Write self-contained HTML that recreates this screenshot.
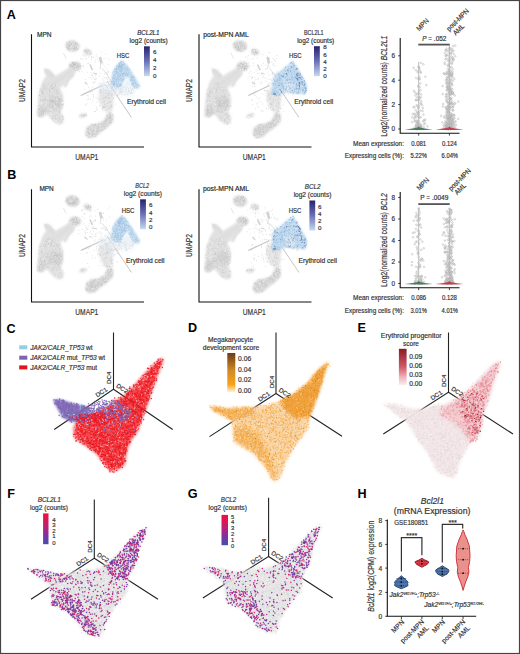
<!DOCTYPE html>
<html><head><meta charset="utf-8"><style>
html,body{margin:0;padding:0;background:#fff;overflow:hidden}
svg{display:block}
text{font-family:"Liberation Sans",sans-serif;stroke:#333;stroke-width:0.18px}
</style></head><body>
<svg width="520" height="654" viewBox="0 0 520 654">
<rect x="0" y="0" width="520" height="654" fill="#fff"/>
<text x="6.8" y="18.9" font-size="12.6" font-weight="bold" style="stroke:none" fill="#000">A</text>
<text x="7.3" y="178.9" font-size="12.6" font-weight="bold" style="stroke:none" fill="#000">B</text>
<text x="6.6" y="332.6" font-size="12.6" font-weight="bold" style="stroke:none" fill="#000">C</text>
<text x="188" y="332.2" font-size="12.6" font-weight="bold" style="stroke:none" fill="#000">D</text>
<text x="357.5" y="332.2" font-size="12.6" font-weight="bold" style="stroke:none" fill="#000">E</text>
<text x="7.2" y="497.5" font-size="12.6" font-weight="bold" style="stroke:none" fill="#000">F</text>
<text x="187.8" y="497.6" font-size="12.6" font-weight="bold" style="stroke:none" fill="#000">G</text>
<text x="357.4" y="497.5" font-size="12.6" font-weight="bold" style="stroke:none" fill="#000">H</text>
<defs><filter id="bl06" x="-20%" y="-20%" width="140%" height="140%"><feGaussianBlur stdDeviation="0.6"/></filter><filter id="bl08" x="-20%" y="-20%" width="140%" height="140%"><feGaussianBlur stdDeviation="0.8"/></filter><filter id="bl10" x="-20%" y="-20%" width="140%" height="140%"><feGaussianBlur stdDeviation="1.0"/></filter><filter id="bl12" x="-20%" y="-20%" width="140%" height="140%"><feGaussianBlur stdDeviation="1.2"/></filter><filter id="bl15" x="-20%" y="-20%" width="140%" height="140%"><feGaussianBlur stdDeviation="1.5"/></filter><filter id="bl20" x="-20%" y="-20%" width="140%" height="140%"><feGaussianBlur stdDeviation="2.0"/></filter><filter id="bl25" x="-20%" y="-20%" width="140%" height="140%"><feGaussianBlur stdDeviation="2.5"/></filter><filter id="bl30" x="-20%" y="-20%" width="140%" height="140%"><feGaussianBlur stdDeviation="3.0"/></filter></defs>
<path d="M31.5 34.3V147H144" fill="none" stroke="#111" stroke-width="1.1"/>
<text x="86.8" y="160.2" font-size="9" text-anchor="middle" fill="#333" textLength="23" lengthAdjust="spacingAndGlyphs">UMAP1</text>
<text x="21.8" y="93.7" font-size="9" text-anchor="middle" fill="#333" textLength="22.8" lengthAdjust="spacingAndGlyphs" transform="rotate(-90 21.8 90.5)">UMAP2</text>
<path d="M199.0 34.3V147H311.5" fill="none" stroke="#111" stroke-width="1.1"/>
<text x="254.3" y="160.2" font-size="9" text-anchor="middle" fill="#333" textLength="23" lengthAdjust="spacingAndGlyphs">UMAP1</text>
<text x="189.3" y="93.7" font-size="9" text-anchor="middle" fill="#333" textLength="22.8" lengthAdjust="spacingAndGlyphs" transform="rotate(-90 189.3 90.5)">UMAP2</text>
<path d="M31.5 189.3V302H144" fill="none" stroke="#111" stroke-width="1.1"/>
<text x="86.8" y="315.2" font-size="9" text-anchor="middle" fill="#333" textLength="23" lengthAdjust="spacingAndGlyphs">UMAP1</text>
<text x="21.8" y="248.7" font-size="9" text-anchor="middle" fill="#333" textLength="22.8" lengthAdjust="spacingAndGlyphs" transform="rotate(-90 21.8 245.5)">UMAP2</text>
<path d="M199.0 189.3V302H311.5" fill="none" stroke="#111" stroke-width="1.1"/>
<text x="254.3" y="315.2" font-size="9" text-anchor="middle" fill="#333" textLength="23" lengthAdjust="spacingAndGlyphs">UMAP1</text>
<text x="189.3" y="248.7" font-size="9" text-anchor="middle" fill="#333" textLength="22.8" lengthAdjust="spacingAndGlyphs" transform="rotate(-90 189.3 245.5)">UMAP2</text>
<ellipse cx="72.5" cy="46" rx="7" ry="5.5" transform="rotate(10 72.5 46)" fill="#cdcdcd" fill-opacity="0.9" filter="url(#bl08)"/>
<ellipse cx="87.5" cy="52" rx="4" ry="3" transform="rotate(20 87.5 52)" fill="#d3d3d3" fill-opacity="0.9" filter="url(#bl08)"/>
<ellipse cx="75" cy="66.3" rx="6" ry="4.5" transform="rotate(0 75 66.3)" fill="#c9c9c9" fill-opacity="0.9" filter="url(#bl08)"/>
<ellipse cx="83" cy="115.5" rx="4" ry="2" transform="rotate(-15 83 115.5)" fill="#dddddd" fill-opacity="0.9" filter="url(#bl08)"/>
<path d="M71 71L63 77L54 83L48 86" fill="none" stroke="#cfcfcf" stroke-width="2.6" stroke-linecap="round" stroke-linejoin="round" filter="url(#bl08)"/>
<path d="M73 74.5L68 80L65 86" fill="none" stroke="#d2d2d2" stroke-width="2.2" stroke-linecap="round" stroke-linejoin="round" filter="url(#bl08)"/>
<path d="M46 70.5L50 74L53 77" fill="none" stroke="#cdcdcd" stroke-width="3.2" stroke-linecap="round" stroke-linejoin="round" filter="url(#bl08)"/>
<path d="M44 68L50 70L55 76L62 72L70 67L76 69L75 74L68 80L63 86L55 90L47 92L40 92L42 82L46 76Z" fill="#dedede" fill-opacity="0.9" filter="url(#bl12)"/>
<path d="M43.5 84L50 83L55 84L60 88L63.2 96L63 105.9L60.8 111.7L63.7 117.5L63.2 123.2L58.5 124.4L52.8 120.9L47 114L41.2 117.5L37.2 116.3L37.8 107L38.3 97.8L39 91Z" fill="#dddddd" fill-opacity="0.95" filter="url(#bl08)"/>
<path d="M49 98L56 96L62 100L62 108L55 110L48 106Z" fill="#cbcbcb" fill-opacity="0.7" filter="url(#bl15)"/>
<path d="M38 108L44 105L47 112L42 116.5L38 116Z" fill="#cbcbcb" fill-opacity="0.7" filter="url(#bl15)"/>
<path d="M86.3 127.8L91 124.4L99 123.2L104.8 119.8L107 114L110.5 111.7L113.4 115.2L112.8 122L107 127.8L100.2 132.5L95.5 137L88.6 138.2L85.2 134.8Z" fill="#d2d2d2" fill-opacity="0.95" filter="url(#bl08)"/>
<path d="M99 90L108 89L114 94L113 104L112.5 111L107 113L102 108L99 100Z" fill="#e2e2e2" fill-opacity="0.9" filter="url(#bl12)"/>
<line x1="107" y1="81" x2="131.5" y2="117.5" stroke="#b8b8b8" stroke-width="0.8"/>
<line x1="102" y1="68.3" x2="106.7" y2="74" stroke="#cfc8c8" stroke-width="0.6"/>
<line x1="106.7" y1="74" x2="115.4" y2="88.5" stroke="#d2caca" stroke-width="0.6"/>
<line x1="81.7" y1="95.2" x2="102" y2="85.6" stroke="#c8c8c8" stroke-width="1.1"/>
<line x1="100" y1="57" x2="101.5" y2="63.5" stroke="#d2d2d2" stroke-width="2.6"/>
<line x1="101" y1="63.5" x2="100" y2="69.2" stroke="#cccccc" stroke-width="0.6"/>
<line x1="90" y1="64.5" x2="92.5" y2="70" stroke="#d0d0d0" stroke-width="1.6"/>
<line x1="93.3" y1="73" x2="97" y2="74" stroke="#d0d0d0" stroke-width="1.0"/>
<line x1="84.6" y1="82" x2="87.5" y2="84.5" stroke="#d5d5d5" stroke-width="1.2"/>
<line x1="63.5" y1="53" x2="66" y2="58.5" stroke="#d5d5d5" stroke-width="0.6"/>
<line x1="80.5" y1="95.5" x2="89.7" y2="91" stroke="#cbcbcb" stroke-width="1.0"/>
<path d="M101.3 52.1h0m-18.1 3.1h0m0.2 0.8h0m2 0.1h0m4.3-1.4h0m1.7 1.7h0m0.2-2.3h0m4.5 2.2h0m0.1-1.6h0m9.2-0.4h0m-24.9 4h0m1.4 0.7h0m1.1 0.5h0m2.4-0.7h0m1 0h0m2.3-1.7h0m2.7 2.7h0m0.2-1.9h0m1.1-0.8h0m0.8 0.5h0m2 2.3h0m1.9-1h0m6.7-0.2h0m3.9-0.4h0m1.4 1.6h0m-14.2 2.2h0m3.6-1.4h0m-18.9 3h0m3.8 2.2h0m4.1-2.2h0m0.8-0.5h0m14.4 0.9h0m5.5 0.3h0m-28.5 1.9h0m0.9-0.1h0m2.6 0.3h0m21.5-0.1h0m1 2.3h0m-26.4 3h0m0.8-2.7h0m1.4 2.6h0m25.9-0.5h0m1 0.1h0m-21.4 1h0m3.6 0.3h0m1.3 1.7h0m3.7 0.5h0m4.6-1h0m4.1 0.5h0m1.5-1.7h0m1.1 1.4h0m0.3-0.5h0m1.2-1h0m4.6 0.8h0m2.7 1.1h0m-25.7 3.2h0m1.2-1.8h0m0.6 0.2h0m1.3 1.6h0m2.4-1.8h0m3.8 0.6h0m3.4 0.5h0m1.5 0.7h0m1.5 0.3h0m2.3-0.3h0m7.1-1.2h0m2.5-0.3h0m-32.3 3.4h0m6.2-0.2h0m2.8 0.2h0m0.5-0.5h0m0.6 0.4h0m1.1-0.8h0m6 0.3h0m0.9 1.5h0m2.9-1.9h0m1.2 0.9h0m5.2-0.9h0m-20.3 3.8h0m1.1 1.2h0m0.3-1.6h0m1.5 0.3h0m3.5 1.3h0m7.1-0.8h0m8 0.5h0m0.3-1.4h0m-12.2 3.4h0m3.8 1.8h0m9.1 0h0m-30.3 2.3h0m3.5-1.9h0m3.3 2.1h0m1.2-2.2h0m6.4 2.3h0m6 0.4h0m1-0.5h0m1-0.5h0m3.6-0.5h0m4.9 0.5h0m0.7-1.3h0m-30 5.3h0m3.5-2.4h0m0.4 1.7h0m1.6-0.9h0m0.8 0.6h0m7.1 0.4h0m6.1-1.3h0m-18.6 4.5h0m0.9 0.5h0m4.8-1.5h0m0.1 0.4h0m11.4-1.2h0m6-0.2h0m0.7 2.2h0m1.4-1.9h0m-22.1 5.1h0m2.5-0.2h0m0.3-2.1h0m2.8 1.3h0m2.3-0.4h0m1.6 1.4h0m5.2-1.2h0m0.6-1.4h0m0.5 1.5h0m2.5-0.1h0m-21 1.8h0m0.8-0.4h0m3.5 1.8h0m4.7 1h0m1.2-2.5h0m6-0.3h0m0.6 2.2h0m-19.7 3h0m2.1-1.2h0m28.2 1h0m-28.9 1h0m10 1.9h0m3.1-1.5h0m4.1 1.7h0m1.8-0.6h0m2.4-0.2h0m3-0.3h0m0.4 1.2h0m-14.6 2h0m0.6 0.4h0m5.2 0.7h0m2.6-1.8h0m1.3 1.7h0m-11.8 1.2h0m1.1 0h0" stroke="#c8c8c8" stroke-width="0.8" stroke-linecap="round" stroke-opacity="0.8" fill="none"/>
<path d="M69.4 41.7h0m4.1-0.9h0m-6.7 2h0m0.8 1.8h0m0.2-1.8h0m1.5 1.2h0m0.4-0.3h0m1.8-0.3h0m0.7-0.5h0m1.5 2h0m0.7-1.1h0m1.2-0.5h0m0.5-0.2h0m0.9 0.9h0m0.1 1h0m-10.4 0.3h0m0 1.4h0m0.1 0.5h0m0.3 0.1h0m1.1 0.2h0m0.2-1.2h0m0.5 0.4h0m0-1.1h0m0.1-0.2h0m1-0.3h0m0.3 0.2h0m0.6 1.9h0m0.9-2h0m0.5 0.1h0m0.9 0h0m0.2 1.4h0m0.7-1.6h0m0 1.1h0m0.4 1.5h0m2.2-0.3h0m0.4-2.3h0m0.5 0.8h0m-9.8 2.5h0m0.1 0.7h0m0.6 1.1h0m0.3-0.4h0m0.4-1.6h0m1.3 0.3h0m1.2-0.2h0m0.6 2.1h0m1.9-1.8h0m1.5 0.8h0m1 0.2h0m0.6-0.7h0m0.6 0.5h0m6.7 1h0m0.4 0.1h0m2.8-0.1h0m0.7 0.3h0m-2.7 0.6h0m0.1 0.5h0m0.8 1.3h0m2.3-1.7h0m0.8 2.5h0m0.6-2h0m-4 2.3h0m4-0.1h0m-17.8 8.1h0m0.1 0.8h0m0.3-0.4h0m3-0.1h0m0.8 0.2h0m-7.3 1.9h0m0.5 0.7h0m1.4 0h0m0.1-0.5h0m1.8-1.5h0m0.3 1.4h0m0.5-0.6h0m0.1 1h0m0.4-0.2h0m0.2-1.9h0m0.3 2.9h0m0-0.6h0m0.7-1.3h0m1.1 0.9h0m1 0.4h0m2.3 0.4h0m0-1.4h0m0.1 0.9h0m-9.9 2.1h0m2-1.3h0m0 0.6h0m0.1 2.1h0m0.4 0.2h0m0.7-0.7h0m0.6 0.5h0m0.1-2.6h0m0.1 1.5h0m0.7-1.3h0m0.5 0.4h0m0.6 0.9h0m2.2 0.1h0m0.1-1.6h0m0.1 1.6h0m2.1-1.7h0m-3.7 4.4h0m1.5-0.8h0m33.4 13.5h0m1.9-1h0m-70.1 2.7h0m1.2 1.1h0m4.4-1.9h0m1.9 1.5h0m0.4 0.5h0m1.6-1.9h0m2.3 1.6h0m0.1-1h0m44.3 0.9h0m6.6 0.3h0m4.7-0.9h0m2.9-0.5h0m-73.2 4.7h0m1.5 0.6h0m1.7-2.8h0m0.6 1.9h0m2.2-1h0m4.3 0.2h0m1.1 1h0m0.1-0.7h0m0.8-0.6h0m0.5-0.6h0m49.8 1.9h0m6.4-1h0m3.7 1.7h0m4.7-1.3h0m2 0.2h0m2.9 1h0m0.2-2.4h0m0.6 0.2h0m1.8 2.1h0m-83.7 1.8h0m0.2 1h0m0.3-2.4h0m1.2 1.2h0m6-0.8h0m0.1 2.1h0m4.6-1h0m1.6-1.1h0m0.6 2.5h0m0.5-2h0m0.4 0.9h0m0.8-1.6h0m0.8 2.6h0m41.4-0.4h0m0.2-2.4h0m0 0.8h0m0.8 0.8h0m3.4-1.2h0m3.1 2.6h0m1.4-1.9h0m1.5 1.5h0m0-0.1h0m1.5-0.9h0m0.9-1.1h0m7.3 0.6h0m4.7 0.3h0m3.4-1h0m-89.4 5.2h0m0.3 0h0m2.5-2.6h0m0.6 1.2h0m0.1-0.5h0m3.8 0.5h0m2.4 0.2h0m0.2 0.1h0m3.7 0.6h0m4.8-0.9h0m46.5 1.5h0m3.4-1.2h0m0.7 1.1h0m0.3-1.5h0m0.5-0.8h0m0.1 0.7h0m0-0.3h0m2.7 0h0m1 1.3h0m4.2 0.1h0m4-0.7h0m8.9-1.1h0m-85.7 4h0m1.1 1.5h0m4.3-2.7h0m2.9 0h0m2.7 0.2h0m2.3 0.3h0m1 1.7h0m1.8 0.6h0m0.6-2.8h0m42.2 2.3h0m1.5-0.5h0m0.3-1.2h0m3.4 1.8h0m0-0.4h0m4.1-1.4h0m0.7 2h0m-73 1.7h0m0.3 0.6h0m1.9-0.2h0m0.3-1.5h0m0.1 0.8h0m1.1-0.5h0m0.4 1h0m1.2-1.1h0m1.5 2.3h0m0.1-1.7h0m3.7 0.7h0m0.4 0.3h0m0.2-1h0m0.5 1.4h0m0.6-1.1h0m1.1 1.5h0m0.2-0.4h0m4.9-1.7h0m0.5 0.7h0m0.3-1.5h0m1.8 2.1h0m0.8-0.7h0m41.5 0.9h0m5.6-2.2h0m1.7 2.2h0m-67.9 3.5h0m1.2-2.2h0m7.5 1.4h0m0.3-0.7h0m1 0.6h0m2.6 0.6h0m0-0.9h0m2.1 1.4h0m5.1-0.3h0m0-0.3h0m37.2-2.1h0m4.4 2h0m3.4-1h0m0.1-0.6h0m1.4-0.6h0m0.7 0h0m1.5 2.5h0m-72.4 1h0m8 0.9h0m2-0.3h0m2 1.6h0m4.8-1.2h0m2.3-1.2h0m1.3 0.8h0m43.7 0.3h0m0.5 0.6h0m0.6 0h0m6.5-0.5h0m0.5 0.8h0m0.7-1.3h0m-73 3h0m0.2 0.4h0m3-0.9h0m0.6 1.8h0m3 0.2h0m0.7-1.9h0m2.3 2h0m3.7-2.5h0m1.3 1.9h0m0.2-1.3h0m5.7-0.5h0m0 1.3h0m42.8-1.4h0m0.2 0.2h0m6.1 0.1h0m-67.1 4.3h0m1.7-0.6h0m0 0.9h0m1.7-2h0m2.7 0.3h0m2.6 0h0m3 2.2h0m2.9-1.9h0m3.1-0.2h0m0 0.8h0m22.5 1.6h0m27.7-0.8h0m1.2-0.4h0m-71.5 1.4h0m0.2 2.4h0m1.7-2.3h0m12.6 1.6h0m1.7-1h0m1.3 0.4h0m4 1h0m2 0.1h0m0.2 0.5h0m16.6-0.7h0m1.2-0.8h0m1 0.4h0m0.6 0.5h0m0.9-0.4h0m0.6 0.4h0m0.3-1.3h0m0.3-0.2h0m0.2 1.1h0m0.2-0.5h0m1.2-1h0m0.3 1.2h0m20.6 1h0m0.1-0.4h0m3.1-0.6h0m0.2 1.4h0m2.1-1.7h0m0.4 0.3h0m-61 2.8h0m0.4 0.6h0m3.4-0.9h0m0.1 0.6h0m3.5-0.5h0m1.6 1.3h0m1.6-1.3h0m0.9 1.3h0m41.9-0.6h0m0-0.4h0m1 1.4h0m1.1-1.8h0m1-0.8h0m1-0.1h0m0.1 0.6h0m0.1 0.2h0m0.3 1.3h0m2.7 0.4h0m-59.2 1.5h0m2.5 1.2h0m2.6-1.5h0m0.2-0.5h0m2.7 1.6h0m0.5-1.9h0m42.7 1.3h0m0.7-0.9h0m0.2 0.1h0m0.2-0.1h0m1.7 2.3h0m2.5-0.9h0m1-1h0m0 1.8h0m-51.5 1.4h0m32.4 0.7h0m0.5 0.4h0m0.3 0.8h0m1.2-1h0m0.6 0h0m0.6 0.1h0m0.3-1h0m3.3 0.1h0m3 0h0m5.6 1.3h0m3.9-2.4h0m-23.6 5.5h0m0.8 0.4h0m1.1-1.8h0m6.3-1.1h0m3.2 0.6h0m0.1 2.3h0m2.1-2.8h0m3.8 0.3h0m0.1 1.8h0m0.2-0.4h0m-16 3.7h0m0.6-2.2h0m1.4 0.7h0m0.2 1.5h0m1.6-0.9h0m0.9 0.1h0m2.5-0.5h0m1.5 1.2h0m0.2 0.2h0m1.8-1.1h0m2 0.1h0m0.8-0.6h0m-14.8 2.7h0m0.7 0.9h0m0.7-1.5h0m0.2 1.6h0m3-0.8h0m0.4 0.8h0m3.3 0.3h0m1.3-1.8h0m-11.5 3.3h0m1.1 0.2h0m1.5 1.8h0m3.8-2.3h0m2 1.1h0m1.5 0h0" stroke="#b4b4b4" stroke-width="0.75" stroke-linecap="round" stroke-opacity="0.7" fill="none"/>
<path d="M74 40.9h0m-6.4 2.9h0m0.5 0.2h0m0.4-0.9h0m1.3 0.1h0m0.8 1.5h0m0.8-2.3h0m1.1 1.1h0m0.2 1.1h0m0.6-2.2h0m0.4 0.7h0m1.1 1.1h0m1.8 0.4h0m1.1 0.4h0m-11.7 1.3h0m0.8 1.6h0m0.7-2.3h0m0.8 1h0m0.8 1.1h0m0.9-1h0m0.7 0.7h0m0.6-1.8h0m0.1 1.6h0m0.1-0.9h0m0.6-0.2h0m0.1 1.1h0m0.6-2.1h0m0.3 1.4h0m0.2-1.3h0m0.4 2h0m0.5-1.6h0m1.7 0.4h0m0-0.2h0m1.5 0.5h0m0 0.7h0m0.2 0.5h0m0.4-1h0m1.2 0.9h0m-8.4 1.3h0m0-0.1h0m0.6 1.9h0m0.2-0.7h0m0.8-0.2h0m0 0h0m0.5 1.2h0m4.1-1.2h0m6.9 1h0m3.9-1.5h0m2.5 1.6h0m-5.4 2.3h0m0.5 0.1h0m1-1.4h0m0.3 2.2h0m0.3-0.6h0m1.2-1.3h0m0.3 0.1h0m0.6 0.6h0m0-0.5h0m2-0.3h0m-5.9 2.2h0m1.2 0.2h0m2.2 0.6h0m0.4-0.8h0m0.8 0.5h0m-13.6 7.7h0m-4.6 1.8h0m1.1 1.2h0m3.9-1.6h0m0.1 1.4h0m0.2-0.1h0m2 0.5h0m1.1-0.8h0m0.3-0.2h0m0.4 1.1h0m-10.2 2.9h0m0.3-0.4h0m2.1 0.1h0m0.3 0h0m1.2-1.9h0m0.1 0h0m0.7 1.6h0m0.3 0.3h0m0.1-1.8h0m1.6 1.8h0m0.9-0.9h0m1.2 0.5h0m0.6 0.7h0m-7.5 1.2h0m3.9-0.6h0m0.3 0h0m-25.8 14.5h0m52.4-0.7h0m2.3-0.9h0m-60.4 4h0m3.9-0.5h0m1.1-1.3h0m3.3 1.2h0m2.9 0.5h0m45.9-0.1h0m1.9 0.5h0m6.1 0.2h0m3.9-1h0m1.6-0.4h0m0.2 0.7h0m1.5-1.1h0m-75.4 4.7h0m5.2-2.3h0m1.2 0.2h0m2.8 2.3h0m6.9-1.4h0m43.3-0.8h0m1.9 0.1h0m0.6 2h0m0.1 0.1h0m2.7 0.2h0m0.1-2.6h0m0.7 2.1h0m6.2-2h0m5.4 0.1h0m13.8 2.4h0m1-1.4h0m-94.9 4.1h0m4.8-1.6h0m0.7-0.9h0m1.1 2.5h0m6.8-1.2h0m2.9 0h0m3-0.9h0m1.6 2.2h0m39.9-2.1h0m0-0.4h0m3.2 2.5h0m1.3-2.5h0m0.2 1.3h0m1.6-0.7h0m0.2 1.2h0m0.1-1.8h0m1.1 2.3h0m4-1.1h0m9.9 0.6h0m3.9 0.5h0m5.3-0.8h0m-90.3 1.6h0m6.6 1.6h0m1.5-1.1h0m0.9 0.2h0m4.2 0.7h0m1.9 0.8h0m3.1 0.2h0m40.7-1.6h0m0.2-0.9h0m0.8 0.3h0m4.3 1.8h0m0-2.1h0m0.3 1.4h0m1.6 0.1h0m3.2 0.4h0m0-1.7h0m0.3-0.1h0m0.2 0.9h0m2.9-0.5h0m1.3-0.5h0m0.6 2.2h0m13.6-1.7h0m4.5 0.7h0m-93.5 2.5h0m2.4 1.5h0m0.9-1.1h0m1 0.8h0m3.1 0h0m1.6 0.3h0m5.3 0.5h0m1.1-1.8h0m5 0.4h0m39.7-0.1h0m0.8-0.3h0m1.4 0.6h0m0.5 1.2h0m2.3-2.4h0m1.7 2.5h0m3.8-2.4h0m1 2h0m1.3-2.1h0m0.8 0.3h0m-73.8 4.6h0m1.2 0.5h0m1.4 0h0m5.7-2.8h0m3.6 0.1h0m2.6 0.6h0m2.6-0.6h0m0.3 0.7h0m0.7 0h0m0-0.2h0m44.9 1h0m1.9-1.3h0m1.5 2.6h0m1.3-1.3h0m1.3-0.9h0m0.6-0.6h0m0.3 0.8h0m1.5 0.9h0m-70.3 3.3h0m0.3-0.5h0m0.6-1.1h0m0.3 1h0m0.4 0.7h0m3.8-1.9h0m0.4 0.1h0m0.8 0.4h0m1.5 0h0m2.8 1h0m0.4 0.5h0m0.4-1.2h0m1.6 0.3h0m0.3 1.5h0m0-0.3h0m2.3-2.2h0m4.9 0.1h0m0.4-0.2h0m0.5-0.1h0m0.1 1.2h0m0.3-0.4h0m37.3-0.8h0m3.3 2.2h0m3.4-1.8h0m2.3 1.4h0m2.9 0.1h0m-73.8 3.8h0m1.6-0.8h0m2.8-0.8h0m1.2 1.6h0m2.2-2.2h0m4.9 1.6h0m3.9-1.1h0m0.1 0.4h0m0.7-0.2h0m0.1 0.8h0m0.5-0.6h0m0.7 0.5h0m3.4-0.4h0m0.5 1.3h0m42.5-2.7h0m5.2 2.1h0m3.5 0.1h0m-74 1.8h0m1.7 1.7h0m1.2-1.4h0m1.9-0.5h0m7.8 1.3h0m0.6-0.9h0m0.8-0.4h0m1.1 0.1h0m1.6-0.7h0m3.5 0.4h0m0.6-0.1h0m2.6 1.5h0m43.8-2h0m0 1.5h0m0.6-0.8h0m1.3-0.6h0m0.3 2.3h0m1-0.4h0m2.8-1.2h0m-71 4.2h0m2.3 0h0m2.4-0.6h0m0.2 0.5h0m1.6-1.8h0m0.2 1.7h0m3.3 0.1h0m0.9-0.2h0m3.3-0.3h0m2.5-0.6h0m50.4-0.2h0m3.7 0.3h0m-61.4 2.5h0m1.2-0.3h0m0.8 1.3h0m0.4-0.9h0m1.2-0.4h0m0.5-0.1h0m2.3 0.2h0m0.5 2.4h0m0.5-0.3h0m3.7-0.6h0m0.8 0.9h0m18-0.5h0m0.3 0.6h0m0.1-0.2h0m0.7-1.2h0m2.5-1.1h0m1.6 1h0m24-1.4h0m0.1 2.5h0m2.5-2.5h0m0.9 2.2h0m0.8-0.6h0m-55.9 2h0m4.2 1.4h0m0.4 0.3h0m21.1-2.4h0m23.1 3h0m0.8-1.8h0m1.2-1h0m1.7 2.5h0m-55.6 1h0m1.5 0h0m1.4-0.4h0m0.1 1.6h0m0.2-0.8h0m1.2-0.2h0m0.4 1.8h0m1-2.4h0m3 0.9h0m38.6 1.6h0m6.5-0.7h0m0.1-0.2h0m0 1h0m1-1.8h0m2.8 0.1h0m0.9-0.7h0m-16 3.8h0m1.1 1.4h0m1.5 0.2h0m0.9-0.3h0m0.1-0.2h0m0.4 0.2h0m0.6-1.8h0m1.6 1.8h0m1.8-0.1h0m1.8 0.4h0m0.7-1.5h0m1.2 0h0m2-0.4h0m-20.5 4.2h0m0.7-1.9h0m0.5 2.2h0m0.5-1.4h0m0.6-0.2h0m0.7 0.4h0m0.3 1.4h0m0.1-2.5h0m0.9 0h0m0.9 2.7h0m0.5-1.9h0m0.6 0.4h0m3.6 1.5h0m0.9-2.3h0m0 0.1h0m0.2 1.5h0m0.2 0.6h0m2-0.6h0m0.9-0.4h0m2-0.3h0m-19.1 2.6h0m1.4 0.3h0m1.1 0.2h0m0.5-0.6h0m0.4 1.8h0m0.1 0h0m1.2 0.2h0m0.4-1.3h0m0.8-1.3h0m2 2.4h0m0.3-1.7h0m0.4-1h0m0 0.8h0m0.4-0.7h0m0.6 0.2h0m2.1 1.3h0m0.6 1.2h0m0.9 0.1h0m1.6-1.8h0m-13.8 3.2h0m2-1.4h0m0.1 2.7h0m2.5-1.7h0m2.1-0.9h0m1.3 0.7h0m0.2-0.4h0m1.2 0.6h0m2.5-0.4h0m-12.1 2.5h0m1.5 0.6h0m1.5-0.2h0m0.1-0.5h0m0.2 1.7h0m2.5-1.2h0m0.2 0.7h0m1.5-1h0m1.3 1h0" stroke="#f6f6f6" stroke-width="0.8" stroke-linecap="round" stroke-opacity="0.8" fill="none"/>
<path d="M99 84L111.7 80L122 86L135 88L133 95L115 96L100 92Z" fill="#e6ebf0" fill-opacity="0.6" filter="url(#bl20)"/>
<path d="M101.9 83.6h0m2.1-0.9h0m4.3-0.6h0m1.3-0.8h0m6.7 2.1h0m-15 1.4h0m0.8 1.8h0m0.4-0.4h0m1.3-1.2h0m0.7-0.4h0m1 0.7h0m0.1 0.2h0m1.5 0.1h0m1.6 0.6h0m0-1.5h0m1.7 0h0m0.6 2h0m1.2 0.1h0m1.8-0.2h0m0.1-0.2h0m2.5-1.3h0m0.1 1h0m1.7-0.5h0m1.7-0.5h0m2.5 1.7h0m-22 1h0m0 1.5h0m2.7-1h0m3.7-1h0m0.7 0.2h0m3.7 1h0m0.9-1.2h0m0.3 0.2h0m0.2 1.6h0m0.7 0.5h0m1.3-1.6h0m1 1h0m0-0.2h0m1.8-1.8h0m0.3 2h0m0.5-1.2h0m2.1 1.3h0m1.2-0.6h0m4.3 0.4h0m0.5-1.8h0m0.5 0.7h0m1.7 0.8h0m1.7-0.7h0m1.4 1.6h0m0.5-0.9h0m0.1 0.2h0m1.9-0.3h0m-33.2 2.5h0m1.9-0.9h0m0.1 2.5h0m2.2-2.1h0m2.3 2.4h0m1.1-1.9h0m2.6-0.9h0m0.2 0.3h0m3.3 0.8h0m0.2 1.1h0m1.1-1.7h0m3.4 1.9h0m0.2-2.4h0m0.4 0.2h0m0.3 1.4h0m1 0.4h0m0.5-0.9h0m0.5-1.2h0m0.6 2.1h0m4 0.6h0m1.5-0.8h0m0.5-1.4h0m1.4 2.4h0m0.8-2.2h0m0.1 1.5h0m2.6-1h0m-28.2 1.9h0m3.5 0.5h0m1.6 1.3h0m6.4 0.3h0m0.4 0.6h0m1.5-1.6h0m1.8-1.1h0m3.3 2h0m1.6-0.8h0m2 0.6h0m3.5-1.5h0m0.9-0.1h0" stroke="#bccfe0" stroke-width="0.8" stroke-linecap="round" stroke-opacity="0.8" fill="none"/>
<path d="M122 60.2L126 64L131 71L136 79L140 86L138 89L133 87.5L127.5 76L124 80L121 87L116 87L111 85L111.5 79L113 71L117 65Z" fill="#b9d6ec" fill-opacity="0.95" filter="url(#bl08)"/>
<path d="M122 61L124 66L120 70L116 68Z" fill="#a4c6e5" fill-opacity="0.8" filter="url(#bl10)"/>
<path d="M127.5 77L132 87L122 87Z" fill="#e4ecf3" fill-opacity="0.7" filter="url(#bl12)"/>
<path d="M120.2 62.1h0m1.2-0.6h0m2.2 0.4h0m-7.2 4.1h0m2.2-0.1h0m0.4-2.8h0m0.5 2.6h0m0.2-1.9h0m0.2 1.8h0m1.4-1.2h0m1.1 0.6h0m1.4-1.2h0m0.2 0.5h0m1.1 1.6h0m-8.2 2.8h0m4.2-1.4h0m0.8-0.2h0m1.9 0.3h0m2.1-0.2h0m1.4-1h0m0.4 2.7h0m0.1-1.7h0m0.5 1.4h0m-14.8 3h0m1.1-2.1h0m0.3-0.3h0m1.1-0.2h0m0.3 2.3h0m0.5-2h0m0.2-0.2h0m0.5 1.4h0m2.5 0.6h0m0.7 0.3h0m0.5-1.3h0m0.2 1.9h0m0.7-2.8h0m3.7 0.9h0m1.9-0.9h0m1.8 1h0m0.5-0.4h0m-17.2 3.4h0m0.9 1.7h0m1.4-0.1h0m0.2-1.9h0m0.8-0.8h0m0.7 0.9h0m0.3-0.9h0m0.9 1.7h0m2.4 0.6h0m1.6 0.3h0m0.1-1.2h0m0.8 0h0m0.6 0h0m0.2 0h0m0.5-1h0m0.1 0.4h0m0.2 1.3h0m0.5 0.8h0m0.1-1.2h0m0.3-0.7h0m0.2 1.4h0m0.3-0.8h0m1-0.7h0m0.1 1.6h0m0.8-2.5h0m0.2 1.1h0m3.3-1.2h0m-19.3 5.5h0m0.4-0.5h0m0.4-0.4h0m1.1 1h0m0.8-2.6h0m1.2 1.2h0m0.1 0.7h0m1.1-0.9h0m0.6 2h0m1-2.1h0m1.1 0.2h0m0.6-0.8h0m2.2-0.1h0m3.3 0.1h0m0.3 0.1h0m0.9 0.2h0m0.5 0.3h0m4.2 1.2h0m0.1-0.1h0m0.2-0.6h0m1.3 0.6h0m0.1 0.5h0m1.3-0.3h0m-22.3 1.2h0m0.3 0.4h0m1.7-0.7h0m1.4 1.8h0m0.6-0.3h0m2.3-0.7h0m0.7 0.1h0m1.8-1h0m0.7 2.2h0m0 0.6h0m0.6-2h0m0.5 1.2h0m0.8-0.2h0m6.5 0.7h0m0.7-0.6h0m0.3-0.8h0m1.2 1.7h0m2.2 0h0m0.1-1h0m-23.3 1.6h0m0.2 1.7h0m0.3-1.8h0m1.7 0.5h0m0.1-0.3h0m1 1.9h0m0 0h0m1.1-0.5h0m0-1.3h0m2.8 0.3h0m13.8 1.6h0m0-1.9h0m0.9 1.7h0m2-0.9h0m0.2 1.1h0m-22.3 1.9h0m0.3-1.4h0m0.1 0.1h0m0.8 0.6h0m1.9 1h0m0.4 1h0m0.2-0.6h0m0.8-1.3h0m0.5 1.5h0m0.7 0h0m0.5-0.5h0m0.9 0.2h0m0.3-1.2h0m0.2-0.3h0m0 0.1h0m0.2 1.8h0m10.7-2h0m0.4 0.5h0m1 0.7h0m1.5 1h0m0.4-1.5h0m1 0.1h0m1.5-0.9h0m1.9 1.5h0m-5.5 1.7h0m2.8 0.1h0" stroke="#8db5dc" stroke-width="0.8" stroke-linecap="round" stroke-opacity="0.8" fill="none"/>
<path d="M122.8 62.2h0m-2 2.5h0m0.5-0.9h0m1.2-0.7h0m1.2 0.5h0m1.3 2.2h0m1.9 0.2h0m-9.5 2.6h0m6-1.9h0m0.2 0.2h0m0.3-0.7h0m1.2 0.7h0m2 0h0m-9.8 3.5h0m0.4-0.1h0m1 1.6h0m6.1-1.3h0m3.1 1.3h0m0.2-2.3h0m2.4 1h0m0.3 0.9h0m-18.4 2.5h0m1.7-0.5h0m1.3-0.7h0m5.6 1.6h0m1.4-2h0m2.2 2.4h0m0-1.6h0m0.3 0.3h0m0.4-1.3h0m2.1 0.2h0m2.5 0.8h0m-17.9 4.2h0m0.7 0.5h0m0.2-1.2h0m2.1-0.4h0m1-0.3h0m0.3 0.5h0m0.1-1.3h0m4.9 1.5h0m4 0.9h0m0.3-2.5h0m0.3 2.1h0m0.8-2h0m2.7 1.7h0m1.3-1.8h0m-11.4 3.4h0m2.4 2.3h0m0.7-2.7h0m6.2 0h0m0.9 0.4h0m-14 5h0m0.1-1.6h0m1.9 0.5h0m1.8 0.4h0m0 0.1h0m0.5-1.7h0m0.4 0.7h0m11.9-0.3h0m3.4 0.2h0m1.4 1.3h0m-21.7 3.4h0m0.8-0.3h0m2.6-0.6h0m2.6 0.5h0m12.7 0.8h0m0.7-2h0m0.7-0.4h0m0.7 1.4h0m1.3 2.2h0" stroke="#eef4fa" stroke-width="0.8" stroke-linecap="round" stroke-opacity="0.8" fill="none"/>
<ellipse cx="240" cy="46" rx="7" ry="5.5" transform="rotate(10 240 46)" fill="#cdcdcd" fill-opacity="0.9" filter="url(#bl08)"/>
<ellipse cx="255" cy="52" rx="4" ry="3" transform="rotate(20 255 52)" fill="#d3d3d3" fill-opacity="0.9" filter="url(#bl08)"/>
<ellipse cx="242.5" cy="66.3" rx="6" ry="4.5" transform="rotate(0 242.5 66.3)" fill="#c9c9c9" fill-opacity="0.9" filter="url(#bl08)"/>
<ellipse cx="250.5" cy="115.5" rx="4" ry="2" transform="rotate(-15 250.5 115.5)" fill="#dddddd" fill-opacity="0.9" filter="url(#bl08)"/>
<path d="M238.5 71L230.5 77L221.5 83L215.5 86" fill="none" stroke="#cfcfcf" stroke-width="2.6" stroke-linecap="round" stroke-linejoin="round" filter="url(#bl08)"/>
<path d="M240.5 74.5L235.5 80L232.5 86" fill="none" stroke="#d2d2d2" stroke-width="2.2" stroke-linecap="round" stroke-linejoin="round" filter="url(#bl08)"/>
<path d="M213.5 70.5L217.5 74L220.5 77" fill="none" stroke="#cdcdcd" stroke-width="3.2" stroke-linecap="round" stroke-linejoin="round" filter="url(#bl08)"/>
<path d="M211.5 68L217.5 70L222.5 76L229.5 72L237.5 67L243.5 69L242.5 74L235.5 80L230.5 86L222.5 90L214.5 92L207.5 92L209.5 82L213.5 76Z" fill="#dedede" fill-opacity="0.9" filter="url(#bl12)"/>
<path d="M211 84L217.5 83L222.5 84L227.5 88L230.7 96L230.5 105.9L228.3 111.7L231.2 117.5L230.7 123.2L226 124.4L220.3 120.9L214.5 114L208.7 117.5L204.7 116.3L205.3 107L205.8 97.8L206.5 91Z" fill="#dddddd" fill-opacity="0.95" filter="url(#bl08)"/>
<path d="M216.5 98L223.5 96L229.5 100L229.5 108L222.5 110L215.5 106Z" fill="#cbcbcb" fill-opacity="0.7" filter="url(#bl15)"/>
<path d="M205.5 108L211.5 105L214.5 112L209.5 116.5L205.5 116Z" fill="#cbcbcb" fill-opacity="0.7" filter="url(#bl15)"/>
<path d="M253.8 127.8L258.5 124.4L266.5 123.2L272.3 119.8L274.5 114L278 111.7L280.9 115.2L280.3 122L274.5 127.8L267.7 132.5L263 137L256.1 138.2L252.7 134.8Z" fill="#d2d2d2" fill-opacity="0.95" filter="url(#bl08)"/>
<path d="M266.5 90L275.5 89L281.5 94L280.5 104L280 111L274.5 113L269.5 108L266.5 100Z" fill="#e2e2e2" fill-opacity="0.9" filter="url(#bl12)"/>
<line x1="274.5" y1="81" x2="299" y2="117.5" stroke="#b8b8b8" stroke-width="0.8"/>
<line x1="269.5" y1="68.3" x2="274.2" y2="74" stroke="#cfc8c8" stroke-width="0.6"/>
<line x1="274.2" y1="74" x2="282.9" y2="88.5" stroke="#d2caca" stroke-width="0.6"/>
<line x1="249.2" y1="95.2" x2="269.5" y2="85.6" stroke="#c8c8c8" stroke-width="1.1"/>
<line x1="267.5" y1="57" x2="269" y2="63.5" stroke="#d2d2d2" stroke-width="2.6"/>
<line x1="268.5" y1="63.5" x2="267.5" y2="69.2" stroke="#cccccc" stroke-width="0.6"/>
<line x1="257.5" y1="64.5" x2="260" y2="70" stroke="#d0d0d0" stroke-width="1.6"/>
<line x1="260.8" y1="73" x2="264.5" y2="74" stroke="#d0d0d0" stroke-width="1.0"/>
<line x1="252.1" y1="82" x2="255" y2="84.5" stroke="#d5d5d5" stroke-width="1.2"/>
<line x1="231" y1="53" x2="233.5" y2="58.5" stroke="#d5d5d5" stroke-width="0.6"/>
<line x1="248" y1="95.5" x2="257.2" y2="91" stroke="#cbcbcb" stroke-width="1.0"/>
<path d="M251.6 53.8h0m1.9-1.3h0m0.8 0.1h0m14.9-0.3h0m0.1 0.4h0m-21 3h0m13.1-1.5h0m2.4 0.6h0m3.8 1.3h0m9.3-0.6h0m-31.4 1.5h0m1.6 0.2h0m4.4 1.8h0m2-0.8h0m3.8 0h0m11.7 1.2h0m0.7-0.9h0m3.4 0h0m1.3 1.2h0m0.3 0h0m2.1-1.2h0m-28.8 1.6h0m1.1 2.5h0m22.7-0.6h0m3.7-0.3h0m-22.4 1.6h0m0.1 2.4h0m8.2-0.2h0m2.1-1.8h0m2.4 1.3h0m7-0.8h0m0.5-0.4h0m0 2.1h0m1.5-0.3h0m-27.5 0.6h0m1.9 0h0m16.5 2.2h0m3.4-2.1h0m-22.5 3.8h0m3.9 1.3h0m5.5-1.8h0m1.2 0.9h0m8.6-1.1h0m11.2 1.6h0m-28 2.2h0m5.1-0.6h0m3.5 1h0m1.4-0.5h0m3.6 0.1h0m5 0.2h0m4.3-0.2h0m0.2 1.3h0m0.3-1.3h0m0-0.4h0m4.5 1.1h0m-26.9 2.7h0m1.8 0.7h0m0.5-0.2h0m0.2 0.4h0m2.4-0.1h0m6.6-2.2h0m1.1 2.4h0m0.9-1.5h0m0.9 1.9h0m4.5-2.7h0m-21 2.9h0m4.1 0.3h0m3.9 1h0m2.1-0.7h0m0.8 0h0m8-0.3h0m2.1 1h0m1.9-0.3h0m0.2 1.1h0m6.9 0.6h0m3-1.7h0m-29 4.2h0m2.5-1.8h0m0.5 1.4h0m4.8 0h0m1.6-1.5h0m0 2.3h0m4.9-2.6h0m17.6 0.9h0m0.3-0.5h0m-32 4.5h0m2.8 0.4h0m12.5-1.4h0m9.9-0.2h0m2.1 1.5h0m1.2-2h0m1.2 1.9h0m1.3-0.4h0m-13.4 1.2h0m0.4 1.4h0m7-1.3h0m1.7 2.2h0m-14.3 0.9h0m0.2 0.5h0m1.2-0.2h0m10 0.4h0m-21.9 3.9h0m0.2-0.9h0m1.3 1.7h0m7.2-1.7h0m5.3-0.2h0m1.9 0.1h0m8.6 1.2h0m2.1 0.6h0m2-2.2h0m-25.8 3.5h0m1 1.9h0m1.9-1h0m13.2 0.8h0m1.1-2.2h0m-22 2.9h0m0 0.8h0m9 1.5h0m6.2-1.4h0m6.1 0.5h0m0.3 0.3h0m3.8-1.2h0m7.4 1.8h0m0.1-2.6h0m-32.7 5.5h0m4.2-0.7h0m1.4-1.5h0m5 1.5h0m8.9 0.4h0m6-0.5h0m1 0h0m0.5 0.2h0m3.9 0.9h0m-25.4 2.3h0m0.1-1.1h0m10.5-0.2h0m4.5 0.5h0m-17.3 2.6h0m5.3 1.6h0m1.9 0.1h0m3.7-2.2h0m2.1 0.6h0m4.3 0.4h0m0.2-0.6h0m4.9 2h0m3.9-2.5h0m-19 2.9h0m15.4-0.1h0m0.4 0.3h0m5.2-0.1h0" stroke="#c8c8c8" stroke-width="0.8" stroke-linecap="round" stroke-opacity="0.8" fill="none"/>
<path d="M239.6 41.9h0m2.1-0.9h0m-8.2 2.7h0m0.7-0.4h0m0.3 1.1h0m0.4-2h0m2.6 1.5h0m0.7 0.5h0m1.3-0.2h0m0.1-2.1h0m0.3 1.6h0m0.3 0.2h0m0.5 0.8h0m0.2-2.1h0m0.2 0.8h0m0.2-0.3h0m2.1-0.8h0m0.2 1.6h0m0.9 1h0m0.3-1.8h0m0.8 0.5h0m-10.2 3.8h0m1.2 0.5h0m0.4-0.3h0m0.4-2.1h0m0.9 1.4h0m0.3-0.3h0m0.1 0.3h0m0.3-0.2h0m0.3 0.6h0m0.3 0.3h0m0.1 0.3h0m0.1-1h0m1.2-1.5h0m1 0.9h0m0.1-1.1h0m0.2 1.9h0m0.8-0.2h0m-5.5 3.4h0m0 0.1h0m0.9-0.5h0m0.1-1.6h0m0.3 0.6h0m0.1 1.3h0m0.1-1h0m0.6 0.2h0m0.2 0.3h0m0.1 1.1h0m0.7-2.8h0m0.6 0.4h0m2.8 0h0m0.8 0.2h0m0.5 0.3h0m6.9 1.7h0m0.3-1h0m0.4-0.2h0m1.7 0.1h0m0.7 0.3h0m-14.2 1.7h0m10.8-0.2h0m1.6 1h0m0.4 1h0m0-1.2h0m1.1 0.5h0m0.3 0.1h0m0.2-1.7h0m0.4 1.3h0m0.5 0.4h0m0.4-0.5h0m0.3 1.3h0m0.1-1.6h0m-3.2 2.5h0m0.2 0.3h0m-9.5 8.1h0m-6.5 2.1h0m1.1 0.2h0m0.7-0.1h0m0.3-1.8h0m1.7 0.3h0m0.8 1.7h0m0-0.5h0m0.3 0.2h0m0.5-0.7h0m1 1.1h0m1.9-1.6h0m-8 5.2h0m2.3-0.7h0m0.9-1.1h0m0.3-0.4h0m1.1 1.8h0m0.3 0.5h0m0.8-1.1h0m0.2-1.4h0m0 0.7h0m0.1 1.2h0m0.2 0.1h0m1.7-1.7h0m0.1 1.5h0m0.2 0.7h0m-7.1 0.1h0m1.4 0.9h0m1.8-1h0m1.4 0.2h0m0 1.2h0m35.1 9.9h0m-62.1 2.9h0m0.7 0.8h0m51.1-0.8h0m1 0.5h0m1.9-0.3h0m0.7 0.3h0m2.9-2.5h0m4.6 1.6h0m-65.3 1.5h0m3.3 2.5h0m49.8-2.2h0m7.1-0.4h0m0 2.1h0m2.9-1.7h0m3.7 2.4h0m-68.9 1.6h0m3.8 0.8h0m2.8-0.2h0m1.8 0.6h0m1.3-2.6h0m49.2 1.8h0m3.2 0.7h0m1.6 0.3h0m0.4-2.8h0m3.9 1.6h0m5.4-1.4h0m11.1 1.3h0m3.3-0.9h0m1.5 1.3h0m-92.9 3.6h0m0.9-0.6h0m0.8-1h0m1.7 0.5h0m3.2 1.4h0m0.7-2.6h0m0.8 1.2h0m4.1-1.4h0m2 1.7h0m0.2-1.7h0m2.5-0.2h0m41.4 0.6h0m4.9 1.9h0m1.4 0h0m0.6 0.2h0m0.5-0.6h0m0.2-2h0m0.7 0.5h0m0 0h0m0.3 0.3h0m0.3-0.7h0m2.6 2.3h0m0.8-0.3h0m5.8 0.3h0m6.4 0.5h0m5.3-2.3h0m0.8 1.4h0m-90.6 2.2h0m0.8 1.6h0m0.7-1.6h0m0.6 1.6h0m0.5-2.4h0m2.2 0.1h0m1.8 2.3h0m8.1-1.2h0m2.4 0.1h0m5 0.5h0m38.6 0.6h0m1.2-0.4h0m2.1-1.2h0m3.3-0.4h0m0.2 1.2h0m1.7 0.7h0m0.1-0.7h0m1.1-1.8h0m1.4 2.6h0m0.9-2h0m4.4 1.3h0m0-1.7h0m3.6 0.9h0m4.2 0.4h0m-82.3 1.5h0m3.8 2h0m0.2-0.3h0m1.4 0.7h0m0.2-2.2h0m1.3 1.2h0m0 0.2h0m4.2-0.1h0m1.2-0.7h0m1.2 0.6h0m0.5-1.4h0m1 0.9h0m2.7-1.1h0m39.7 0.9h0m0.5 0.6h0m2.7 0.8h0m0.4-1.3h0m7.8 1.4h0m-71.2 2h0m1.5 0.6h0m0.1-0.3h0m0.7-0.8h0m0.6 0.7h0m0.6-0.9h0m4.8 0h0m2.9 1.8h0m3.5-0.9h0m2.3 0.3h0m0.1-0.5h0m0.7-0.4h0m1.4 0.3h0m2.1-1.1h0m40.5 0.4h0m0.6-0.6h0m3.3 0h0m2.5 0.5h0m4.7-0.4h0m-74.5 2.8h0m4.9 2.8h0m9.3-2h0m0.2-0.1h0m1.7 0.2h0m1.8 0.9h0m0.1-0.7h0m2.1 0.6h0m43.1-0.7h0m0.5 1.5h0m0.6-0.8h0m1.1 0.4h0m0.6-1.6h0m6.7-0.1h0m-71.4 3.4h0m0.7-0.4h0m2.6 0.1h0m0-0.2h0m0.9-0.2h0m6.9 1.2h0m0.7 1.4h0m0.1-2.2h0m0.4-0.2h0m1.5-0.1h0m1.8 2.7h0m2.6-0.9h0m1.4-1.8h0m3.3-0.1h0m0.2 0.8h0m39.9 1.9h0m1.5-2.5h0m4.4 0.8h0m0.7 0.2h0m1.5 1.1h0m1.6-1.2h0m-72.2 4h0m0.1-0.7h0m5.5 0.7h0m3.8 0h0m0.1-1.2h0m1.3 1h0m0.8 0.4h0m2.1-1h0m0.9 1.1h0m2.3-0.2h0m1.9-0.8h0m45.4 0.8h0m0.9-0.5h0m4.5 0.9h0m1.2-2.2h0m1.5 0h0m-72.8 2.9h0m0 2.1h0m0.3-2.1h0m1.3 1.2h0m2.7 0.3h0m1.3-1.1h0m1.2 1.6h0m2.3-1.9h0m1.5 0.4h0m0.4-0.1h0m1.4 0.2h0m1-0.3h0m1.4 0.5h0m0.6-0.5h0m3.1 2.2h0m26.6-0.4h0m24.1-0.5h0m0.3-0.2h0m-67.7 4h0m2.3-2h0m7.4 0.9h0m7.7-1.3h0m1.2 2.6h0m0.5-1.3h0m0.4 0.3h0m18.2 0.8h0m2.4-1.6h0m0.4 0.4h0m0.5-0.9h0m0.2 0.7h0m1.4 1.4h0m0.2-2.3h0m21.7 1.8h0m1.9-2.1h0m0.3 2.7h0m0.8-2.3h0m2.9 0.3h0m0.1 1.4h0m-58.9 1.6h0m1.8 1.1h0m1.8 0.4h0m2.5-1.7h0m0.7-0.2h0m2.2 1.9h0m43.1-0.4h0m2-0.5h0m0.1 0.1h0m1.3 0.4h0m2.5-1.8h0m0.1 0.5h0m0.9 0.8h0m-59.5 1.8h0m4.2 0.5h0m43.6 1.6h0m4.9 0.3h0m0.4-2.1h0m0.3-0.1h0m0.2 0.5h0m0.9 0.6h0m3.5-0.2h0m2-1.3h0m-52.8 3.4h0m0.1 0.5h0m31.1 1.7h0m0.6-1.2h0m1-0.1h0m1.5 0.3h0m4.7-0.9h0m1.9 1h0m0.5-1.6h0m0.7 0.8h0m1.3-0.5h0m0.1 1h0m1.7 1.3h0m1.2-0.5h0m1.1 0.6h0m1.1-1h0m1.5-1.9h0m-21.2 5.9h0m1.1-2.4h0m0.4 1.6h0m1.1-0.6h0m0-1h0m3.4 2.5h0m0.8-2.4h0m2 1.3h0m0.3 0.4h0m1.3-0.3h0m0.3 0.9h0m2.3-0.7h0m0.9-1.6h0m0.1 0.6h0m-15.8 2.9h0m1-0.7h0m1.1 0.6h0m1.2 0.6h0m2 0.5h0m1-1.9h0m2.6 2.7h0m1-0.6h0m2.2-1.5h0m0.8 1.2h0m1.1-1.6h0m-14.8 5.1h0m2.7-0.7h0m2.6-1.1h0m0.2 1h0m1.6 0.9h0m0.7-0.5h0m0.3-2h0m0.7 1.8h0m0.2-0.2h0m2.5-0.8h0m-10.8 2.7h0m0-0.1h0m1.7 2.5h0m1.1-0.6h0m2 0.2h0" stroke="#b4b4b4" stroke-width="0.75" stroke-linecap="round" stroke-opacity="0.7" fill="none"/>
<path d="M237.2 41.8h0m0.6-0.4h0m1.7 0h0m0.6 0.1h0m2.9-0.3h0m-8.8 1.5h0m1.1 1.5h0m2.2 0.8h0m0.5-0.7h0m0.3-0.6h0m0.4 0.1h0m0.3-0.4h0m1 0.5h0m1.1-0.9h0m0.4 1h0m1.7-0.4h0m0-0.6h0m0.5 1h0m0.9 0.3h0m0.6-0.7h0m0.5 0.6h0m-8.3 3.1h0m1.6-2.1h0m0.4 1.8h0m0 0.9h0m0.1-1.4h0m0.4-0.7h0m0.1-0.5h0m1.7 2.4h0m0.2-0.3h0m0.4-1.9h0m0.8 2.2h0m0.3-1.1h0m-7.8 2.4h0m0.1 0.8h0m3.2 0.6h0m0.2-1.7h0m1.4 0.3h0m1.5 0.4h0m0.3-0.2h0m0.6-0.7h0m1.9 1h0m9.8 1.3h0m0.2-1.1h0m2.6 1.3h0m-4 0.3h0m0.7-0.1h0m0.1 2.2h0m0.1-0.5h0m0.2-1.2h0m1.8-0.1h0m-2.9 2.4h0m2.5 0.3h0m-16.4 8.3h0m2.4-0.6h0m0.2-0.2h0m0.4 0.6h0m0.6 0.5h0m-5.4 1.6h0m1.6-0.4h0m0.6 0.7h0m0.8-0.6h0m0.5 1.1h0m0.4 0.2h0m0.7 0.2h0m0.4-2.6h0m1.3 2.2h0m0.1-1.6h0m0.3 0.8h0m0.3-0.4h0m0.2 0.7h0m0.5-0.4h0m1.5 0.5h0m0.9-0.3h0m0.3 0.5h0m-8.4 3.1h0m0.3-1h0m1.2-0.1h0m1.9 0.9h0m0.6-0.9h0m1.2-0.4h0m1.5 0.6h0m1 1.4h0m-6.9 0.7h0m0.2 0.8h0m1.5-1.1h0m0.4 0.3h0m0.3 0.2h0m0.3 0h0m35.3 12.7h0m2.5-0.8h0m0.1 1.1h0m-70 4h0m0.3-1.7h0m0.2 1.4h0m0.7 0.1h0m0.5-2.4h0m0.3 1.1h0m2.6 0h0m6.2 0.9h0m1.1 0.8h0m0.2-1.7h0m51.1-1.1h0m5.2 2.2h0m11.4 0.5h0m-80.8 1.3h0m2.7 0.7h0m0 0.9h0m2-2.5h0m4.2 2.8h0m1.7-1.3h0m1.2 0.4h0m0.5-0.1h0m1.8-0.1h0m2.7-0.4h0m40.8 1h0m0.9-1.6h0m2 0.3h0m0.7 1.8h0m13.8-1.8h0m5.4-0.8h0m6.5 2.2h0m1.3-0.3h0m2.7-1.3h0m-94 2.4h0m0.7 2.4h0m0.3-1.4h0m0.6 1.1h0m4-1.5h0m1.7 1.6h0m0.1-1.7h0m0 0h0m3.2 0.3h0m3.5-0.4h0m46.2 0h0m2.9 0h0m1.2 0h0m1.4 2.2h0m0.3-0.9h0m1.3-1.9h0m2.2 1h0m1.6 1.4h0m9.9-1.8h0m10.5-0.4h0m0.7 2.2h0m-89.1 2.2h0m2.8 0.6h0m0-1.6h0m1.2 0.9h0m0.9 1.4h0m6-2.1h0m2.5 0.6h0m2.4 0.3h0m2.7 0.6h0m41.9 0.3h0m1.4-1.4h0m1.8 1.2h0m2-2.2h0m2.7 0.4h0m0.1 1h0m0.1-0.6h0m0.7 0.4h0m0.8 0.4h0m0.8 0.1h0m7.4-0.9h0m2.9-0.4h0m2.2 0.6h0m0.9-0.1h0m-83.4 2.4h0m1.9 1.1h0m0.8 1.1h0m0.7-1.3h0m3.5 0.4h0m1.2-1.8h0m0.9 2.6h0m1.9-0.7h0m0.8-0.5h0m4.4 0.9h0m0.7-2.4h0m0.7 0.3h0m0.9 1.7h0m0.1 0.1h0m37.4-0.6h0m0.2-1.2h0m0.9 0.9h0m0.9 0.6h0m3.8-0.3h0m0.3-0.3h0m6.5 0.2h0m1 1.1h0m-71.9 2.7h0m0.7-1.6h0m0.7 1.3h0m0.5-1h0m0.1-0.2h0m0.8 0.6h0m2.2-0.5h0m0.6-0.2h0m0.7-0.1h0m0.4 0.8h0m0.9-1.1h0m5.3-0.1h0m0.3 1.9h0m1.5-1.7h0m1.6 1h0m0-0.9h0m4.6-0.2h0m0.6 2.8h0m39.4-0.3h0m0.8-2.6h0m4.5 0.1h0m-67.6 4.1h0m1.8-1.1h0m0.2 0.3h0m1.6 2.3h0m0.5-2.8h0m3 2.2h0m0.5-0.9h0m0.4 1.1h0m0.5 0h0m0.4 0.1h0m1.9-2.5h0m3.5 0.3h0m1 0.1h0m0.3 2h0m3 0.4h0m0.1-0.9h0m3.3-0.5h0m0.2 1.5h0m0-0.6h0m1 0.3h0m38.2-1.7h0m0.8-0.4h0m0.2 0.2h0m0.1 1.4h0m5.3 0.3h0m5.4-1.5h0m-72.4 2.2h0m1.2 2.5h0m2.8-1.9h0m1.3 1.6h0m9.4 0.1h0m1.5-1.1h0m5.3 1.5h0m40-1.6h0m0.1-0.9h0m2.5 1.4h0m1-0.8h0m1.3 0.8h0m0 0.5h0m0.2-0.3h0m1.9-0.6h0m2.3 1.4h0m-73 0.9h0m2.4 0.2h0m1.2 0h0m4.4 0.6h0m1.1-1h0m4.2 0.4h0m0.4 0.1h0m1.1 1.8h0m1.7-2.2h0m0.7 2.4h0m0.1-0.8h0m3.9-1.9h0m0.5-0.1h0m1.4 1.8h0m43.1-0.5h0m0.6 0.9h0m3.4-2h0m1.4 1.5h0m0.4-0.5h0m1.6 0.5h0m-74.2 2.6h0m1.5-1h0m2.7 0.4h0m3.9-0.4h0m4.2 1.9h0m7.8-1.1h0m1.1-1.1h0m1 0.5h0m24.2 2.1h0m24.1 0.3h0m1.4-0.2h0m-58.5 1.4h0m0.7 0.6h0m1.5-1.6h0m2.9-0.1h0m5.1 0.6h0m20.1-0.4h0m0.2 1.8h0m0.5-0.1h0m0.1 0.7h0m1.2-2.3h0m0.2 1.6h0m0.9-1.3h0m0.3 0.7h0m1.2-1h0m20.1 2.5h0m0.4-0.6h0m4.2-2.1h0m-55.5 4.5h0m0.4 1h0m1.3-2.5h0m0.2-0.1h0m2.8 0.3h0m2.7 2.1h0m0.7-1.5h0m17.8-0.9h0m2.6 0.1h0m23.6 1.2h0m0.7-0.3h0m0.6 1.8h0m1.8-1.2h0m0.4 0h0m0-1.2h0m-51.3 2.6h0m0.5 0.6h0m1 0h0m0.6 2.1h0m44.9-1.1h0m0.7 0.8h0m0.1-1.1h0m0.3 1.4h0m0.6-1.8h0m1.6-0.8h0m1.1 1.8h0m1-1.5h0m-55.5 2.6h0m33.9 2.2h0m4.6 0h0m3.3-1.6h0m1.5-0.2h0m2.5 0.8h0m0.3 1.3h0m2.6-0.2h0m3.1-2.4h0m1.3 0.1h0m0.6-0.1h0m0.2 0.5h0m-23.6 5.3h0m1-1.9h0m1.2 0.9h0m0.2 0.7h0m0.2-1.5h0m1.1 0.2h0m1.2-0.7h0m2.5-0.2h0m0.1 2.5h0m3-0.2h0m0-1.8h0m2.2 1.5h0m0.3 0.5h0m1.9 0.2h0m0.9-0.4h0m1.8 0.2h0m1.1-2.2h0m0.8 1h0m0.9-0.5h0m-17 2.6h0m0.1 0.1h0m4.1 1.8h0m0.2-0.8h0m2.3-0.2h0m0.9 1.1h0m0.4-2.6h0m0.6 0.9h0m1.2 1.1h0m1-1.2h0m0.6 1.7h0m0.5-2.5h0m1.2 1.3h0m0.2-0.1h0m-15.3 3.6h0m2.1-0.6h0m2.7 0.4h0m0.9-0.3h0m1.1 0.4h0m0.2-0.6h0m1.6 0.4h0m0.6-1.3h0m0.6 2h0m-11.8 1.1h0m2 1.4h0m0.9-0.5h0m0.4-1.2h0m1 1.2h0m0.3-0.9h0m0.7 0.1h0m2.3 0.8h0m1-0.9h0m1.7 0.4h0" stroke="#f6f6f6" stroke-width="0.8" stroke-linecap="round" stroke-opacity="0.8" fill="none"/>
<path d="M292.9 60.8L287.1 65.6L280.4 71.3L274.6 74.2L272.7 80L271.7 86.7L271.7 94.4L279.4 95.4L285.5 92L293.8 93.5L305.4 94.4L307.3 88.7L306.3 82.9L301.5 75.2L296.7 66.5Z" fill="#bad6ed" fill-opacity="0.9" filter="url(#bl10)"/>
<path d="M284.5 84L288.5 80L293.5 84L293.5 92L285.5 92Z" fill="#dce7f1" fill-opacity="0.9" filter="url(#bl12)"/>
<path d="M292.9 62h0m-2.7 1.5h0m0.1-0.2h0m2.5 0.4h0m0.3-0.1h0m0.5 2.3h0m-8.4 1.4h0m0.3 0.4h0m0.3-0.8h0m2.9 1.5h0m4-2h0m0.7 1.2h0m-12.1 3.6h0m2.9-1.5h0m1.3 1.7h0m2.7-0.4h0m2-1.3h0m0.7 2.2h0m2.9-2.5h0m0.1-0.1h0m0.7 2.3h0m0.9-2h0m-16.5 4h0m0.1 0.5h0m3.8-1.3h0m1 1.6h0m2.3-0.2h0m0.3-0.6h0m1.9-1.4h0m2.8 2h0m0.9-1.3h0m2.1 0.6h0m2.1 1.1h0m1.9-0.4h0m0-0.6h0m1.5 1.2h0m0.9 0h0m-22 0.3h0m0.4 2.6h0m0.6 0h0m0-1.8h0m0.3 1.6h0m1.8-1.2h0m1 0.4h0m0.2 0h0m0.1 1h0m1.3-1.3h0m1.3 1h0m0.2-0.2h0m0-0.3h0m1.2-0.6h0m4.9 0h0m0.2 1.3h0m0.5-1.7h0m0.1-0.6h0m0.4 2.2h0m1 0.2h0m0.8-1.7h0m2.4-0.1h0m2.2 1.5h0m0.8-0.8h0m-26.6 2.7h0m2.4 0.5h0m1.2 0.4h0m0.2-1.1h0m0.9-0.9h0m1 1.8h0m0.1 0.1h0m0.5 0.1h0m0.8-1.2h0m0.1-0.3h0m5.8 0.8h0m0.2 1h0m0.2 0.1h0m2.3-1.3h0m0.7 0.3h0m0.9-0.7h0m1.2 0.3h0m0 1.2h0m2.5-1.3h0m1.6-0.8h0m0.2 0.4h0m1.9-0.7h0m0.2 2.8h0m0.8-0.9h0m0.3-0.9h0m0.5-0.9h0m0.4 0.6h0m1.1 0.7h0m0.8-1h0m0.8 0h0m0.7 2.4h0m0.5 0h0m0.1 0.1h0m-31.5 2.5h0m0.3 0.5h0m1.9-0.8h0m0.7-1.1h0m0.8-0.8h0m0.3 0.1h0m1.2 2.3h0m0.1-0.8h0m1.6-0.3h0m2.6 0.8h0m0.3 0h0m2.4 0.2h0m0.6-0.2h0m2.3-0.7h0m0.4 0.4h0m0.5-0.3h0m2.6 0.6h0m2.5-1.7h0m2.1-0.1h0m0.9 1.6h0m0.5-1.9h0m2.1 2.1h0m1.4-1.1h0m0.2 1.1h0m0.7-1.6h0m-28.7 2.9h0m1.9 0.9h0m3.1 0.7h0m0.3-0.7h0m0.4-0.1h0m3.1 1.3h0m0.4-1.3h0m4 0.8h0m2-0.3h0m0.3 0h0m1.9-1.1h0m0.1 2.2h0m1.8 0h0m4-2.5h0m0 1h0m0.1 1.2h0m0-0.9h0m1.3-1.4h0m0.7 0.9h0m0.5 1.6h0m0.5-0.1h0m4.2-1h0m0.7 0.8h0m0.4-0.5h0m-32.4 3.8h0m2.5-1.6h0m2-0.5h0m2.1 1.7h0m4.3-2.2h0m0.2 1.5h0m1.6-0.1h0m0.7 0.7h0m0.3-0.4h0m0.5-1.6h0m2.3 1.8h0m0.2-1.2h0m0.1-0.8h0m0.5 2.7h0m4.5-0.7h0m1.4 0.2h0m1-1.1h0m1.3 0.4h0m1.3 1.1h0m0-2.3h0m0.9 2.5h0m0.2-2.2h0m2.1 1.4h0m1.4-1.3h0m0.8 2h0m0.2 0h0m0.8-2.9h0m0.6 1.4h0m-34.7 4h0m1.2-0.4h0m0.9 0.2h0m0.7-1.7h0m0.1 1.8h0m2.1-0.8h0m0.1 1.4h0m0.3-1.3h0m1.2 0.8h0m3.1-1h0m0 1.4h0m1.5-0.1h0m2.2-2.1h0m2.1 1h0m2.7 0.5h0m1.4 0.1h0m0.7-1.4h0m2.5 0.8h0m0.2-0.8h0m1.5 1.8h0m1 0.1h0m6.3-2.7h0m0.7 2.7h0m-32.2 1.7h0m5-0.7h0m20.1-0.5h0m0.2-0.1h0m1.2 0.5h0m5.6 0.5h0" stroke="#86b0d8" stroke-width="0.8" stroke-linecap="round" stroke-opacity="0.8" fill="none"/>
<path d="M291.2 62.3h0m3 3.1h0m-3 1.3h0m0.2 1h0m4.5-0.7h0m-8 3h0m0 0.4h0m2.8 0.8h0m5.9-2.1h0m-11.6 4h0m1.5 0.4h0m0.3 0.3h0m0.3 1h0m-5.9 0.8h0m1.8 0.8h0m0.2-0.5h0m12.4 1.3h0m1.1-2h0m0.6 1.1h0m4 0.7h0m-13.4 2.8h0m8.7-1.2h0m-21.9 2.6h0m15.6 1.3h0m3.6 0.5h0m2.8 0.4h0m2.6-0.5h0m1.8 0.8h0m-21.8 1.5h0m1.8-1h0m2.2 2.4h0m19-2h0m-22.1 5.2h0m3.3-2h0m7.3 0.5h0m5.4 0.5h0m2-0.1h0m1.3-0.1h0m6.3 0.1h0m-25.7 1.9h0m1.3 0.8h0m0 1.1h0m9-0.3h0m1.9-2h0m1 2.7h0m5.1-1.2h0m4.5-1.5h0m2.1 2.5h0m-28.7 2.3h0m2.9-0.2h0" stroke="#4a68aa" stroke-width="0.8" stroke-linecap="round" stroke-opacity="0.8" fill="none"/>
<path d="M296.7 68.6h0m1.1 0.3h0m-1.4 5.5h0m0.5-0.6h0m0.9-0.7h0m0.2-0.1h0m2 0.2h0m0.5 0.6h0m-4.2 3.6h0m1.4-2h0m0.5-0.2h0m0.7 2.7h0m1.1-2.4h0m0 2.1h0m0.2 0.2h0m2.1-0.7h0m-5 3h0m0.4-0.8h0m0-1.2h0m0.1 1.8h0m0-1.8h0m0.3 1.4h0m3.7-0.4h0m-2.8 3.4h0m0.4 0.6h0m0.1-0.1h0m1.8-1h0m1.4 1.2h0m0.2-1.1h0m1.8-0.3h0m0.5 2h0m-6.1 2h0m0.1-1.2h0m0.1 1.1h0m0.1 0.9h0m4.7-1.4h0m0.4-1h0m0.8 3.7h0m0.2 3.4h0m0.8-0.8h0" stroke="#3d5aa0" stroke-width="0.8" stroke-linecap="round" stroke-opacity="0.8" fill="none"/>
<path d="M290 65h0m0.7-0.3h0m0.9-0.1h0m1.2 1.2h0m1.2-2.8h0m0.3 0.3h0m-7.2 5.3h0m6.5 0.3h0m1.7-2.1h0m0 0.3h0m0.8-1h0m0.6 0.4h0m-14.7 6.4h0m1.2 0h0m1.5-0.8h0m0.7 0.4h0m7.1 1.4h0m5.4-1.4h0m2.4 0.6h0m-25.8 3.2h0m2.2 1.6h0m0.6-1.2h0m0.5 1h0m6.6-1.8h0m1.6 1h0m3.6-1.1h0m3.8 0.2h0m0.2 0.6h0m3.4 0.8h0m3.6-1.1h0m-27.4 4.6h0m2.6-1.3h0m7.2-0.9h0m0.1 0.4h0m1.4 0.6h0m13.8-0.6h0m0.9 0.1h0m2.5-1h0m0.5 0.4h0m1.8 1.2h0m-31 1.7h0m1.3 0.4h0m2 0.4h0m7.5-0.1h0m0.2-1.1h0m0.6 1.4h0m11.2 0.4h0m0.9-1.2h0m0.5 1.3h0m0-1.9h0m0.5 1.7h0m3.9 0.8h0m1.5-0.1h0m1.6-1.2h0m0.4 0.6h0m-26.1 3.5h0m4.9 0.4h0m1.7-2.3h0m3.8 1.2h0m1.6-0.6h0m0.5 0.7h0m3.2-0.1h0m4 0.5h0m1.6 0.4h0m1.4-0.1h0m3.5 0.1h0m-27.9 1.9h0m6.5-1h0m3.6 0.9h0m2.7-0.8h0m8.3 0.5h0m1.8-0.1h0m4.1 1.5h0m-32.4 2.4h0m4.4-1.1h0m1.9 1.5h0m0.8-0.3h0m0.5-1.3h0m0.2 0.9h0m10.9 0.8h0m4.7-2.1h0m1.7 0.8h0m0.7 0.8h0m2.1-1h0m0.7 0.3h0m1.1 0.9h0m-25 2.4h0m0-0.7h0m4.7-0.3h0m20.3-0.5h0" stroke="#eef4fa" stroke-width="0.8" stroke-linecap="round" stroke-opacity="0.8" fill="none"/>
<ellipse cx="274.5" cy="94" rx="1.8" ry="1.2" transform="rotate(0 274.5 94)" fill="#6d94c8" fill-opacity="0.8" filter="url(#bl06)"/>
<ellipse cx="72.5" cy="201" rx="7" ry="5.5" transform="rotate(10 72.5 201)" fill="#cdcdcd" fill-opacity="0.9" filter="url(#bl08)"/>
<ellipse cx="87.5" cy="207" rx="4" ry="3" transform="rotate(20 87.5 207)" fill="#d3d3d3" fill-opacity="0.9" filter="url(#bl08)"/>
<ellipse cx="75" cy="221.3" rx="6" ry="4.5" transform="rotate(0 75 221.3)" fill="#c9c9c9" fill-opacity="0.9" filter="url(#bl08)"/>
<ellipse cx="83" cy="270.5" rx="4" ry="2" transform="rotate(-15 83 270.5)" fill="#dddddd" fill-opacity="0.9" filter="url(#bl08)"/>
<path d="M71 226L63 232L54 238L48 241" fill="none" stroke="#cfcfcf" stroke-width="2.6" stroke-linecap="round" stroke-linejoin="round" filter="url(#bl08)"/>
<path d="M73 229.5L68 235L65 241" fill="none" stroke="#d2d2d2" stroke-width="2.2" stroke-linecap="round" stroke-linejoin="round" filter="url(#bl08)"/>
<path d="M46 225.5L50 229L53 232" fill="none" stroke="#cdcdcd" stroke-width="3.2" stroke-linecap="round" stroke-linejoin="round" filter="url(#bl08)"/>
<path d="M44 223L50 225L55 231L62 227L70 222L76 224L75 229L68 235L63 241L55 245L47 247L40 247L42 237L46 231Z" fill="#dedede" fill-opacity="0.9" filter="url(#bl12)"/>
<path d="M43.5 239L50 238L55 239L60 243L63.2 251L63 260.9L60.8 266.7L63.7 272.5L63.2 278.2L58.5 279.4L52.8 275.9L47 269L41.2 272.5L37.2 271.3L37.8 262L38.3 252.8L39 246Z" fill="#dddddd" fill-opacity="0.95" filter="url(#bl08)"/>
<path d="M49 253L56 251L62 255L62 263L55 265L48 261Z" fill="#cbcbcb" fill-opacity="0.7" filter="url(#bl15)"/>
<path d="M38 263L44 260L47 267L42 271.5L38 271Z" fill="#cbcbcb" fill-opacity="0.7" filter="url(#bl15)"/>
<path d="M86.3 282.8L91 279.4L99 278.2L104.8 274.8L107 269L110.5 266.7L113.4 270.2L112.8 277L107 282.8L100.2 287.5L95.5 292L88.6 293.2L85.2 289.8Z" fill="#d2d2d2" fill-opacity="0.95" filter="url(#bl08)"/>
<path d="M99 245L108 244L114 249L113 259L112.5 266L107 268L102 263L99 255Z" fill="#e2e2e2" fill-opacity="0.9" filter="url(#bl12)"/>
<line x1="107" y1="236" x2="131.5" y2="272.5" stroke="#b8b8b8" stroke-width="0.8"/>
<line x1="102" y1="223.3" x2="106.7" y2="229" stroke="#cfc8c8" stroke-width="0.6"/>
<line x1="106.7" y1="229" x2="115.4" y2="243.5" stroke="#d2caca" stroke-width="0.6"/>
<line x1="81.7" y1="250.2" x2="102" y2="240.6" stroke="#c8c8c8" stroke-width="1.1"/>
<line x1="100" y1="212" x2="101.5" y2="218.5" stroke="#d2d2d2" stroke-width="2.6"/>
<line x1="101" y1="218.5" x2="100" y2="224.2" stroke="#cccccc" stroke-width="0.6"/>
<line x1="90" y1="219.5" x2="92.5" y2="225" stroke="#d0d0d0" stroke-width="1.6"/>
<line x1="93.3" y1="228" x2="97" y2="229" stroke="#d0d0d0" stroke-width="1.0"/>
<line x1="84.6" y1="237" x2="87.5" y2="239.5" stroke="#d5d5d5" stroke-width="1.2"/>
<line x1="63.5" y1="208" x2="66" y2="213.5" stroke="#d5d5d5" stroke-width="0.6"/>
<line x1="80.5" y1="250.5" x2="89.7" y2="246" stroke="#cbcbcb" stroke-width="1.0"/>
<path d="M82.2 209.7h0m4.5-2.1h0m3.4 1.5h0m7.9 0.2h0m9.4-0.1h0m2.2-2.2h0m-28.1 3.1h0m0.7 0.7h0m8.1 0h0m0.7 1h0m4-1.2h0m-10.7 3.4h0m0.3-0.5h0m0.1 0.1h0m10.9 2.4h0m5.4-3h0m2.2 0.4h0m0.2 0.1h0m-21.2 2.8h0m2.5 2.2h0m5.1-2.3h0m1.5-0.1h0m11.1 0.8h0m1.1 1h0m6.2-0.7h0m-16.3 4.3h0m0.7-1.2h0m1.1 0.4h0m0.3 0.2h0m0.1-1.1h0m7.5 0.1h0m3.5 0.2h0m-22.9 3.8h0m6-0.4h0m-3.9 2.2h0m0.3 2h0m0.4 0.2h0m1.9-1.9h0m3.6 1.5h0m0.9-0.7h0m10.8 0.7h0m2.9-0.2h0m3-1.7h0m-30.9 4.8h0m3.9-0.9h0m2.4 1.4h0m2.4-1.7h0m0.4 0.1h0m4.7-0.5h0m0.3-0.2h0m8.4-0.6h0m1.1 0.2h0m0.4 0.6h0m1.9 0.3h0m1 0.5h0m0.1 1.1h0m0.8-1.4h0m0.8 0.8h0m0.4 0.2h0m6.7-2.1h0m1.3 1h0m-36.9 4.2h0m6.2-1h0m0.4 0.6h0m1.9-0.6h0m2.5 0.7h0m1-1.8h0m2.6 0.3h0m2.5 2.3h0m2.2-1.5h0m2-0.4h0m1.8 1.1h0m7.4 0.1h0m1.8-0.1h0m1.5 0.7h0m-26.9 0.6h0m4.3 2.5h0m0.1 0h0m0.9-0.2h0m1.3-2.2h0m2.2 1.9h0m1.3-1.9h0m0 2h0m5.2-2.4h0m0 2.4h0m3.4-0.2h0m1.1-1.2h0m3.6-1.1h0m1.9 1h0m1 0.3h0m3 0.3h0m-30.1 1.5h0m5 0h0m2.1 0.6h0m3 2.2h0m-0.4 1.4h0m13.5 1.2h0m-10.9 1.3h0m2 1h0m7 0.4h0m1.5 0.7h0m4.4-2.1h0m1 0.8h0m-27.4 3.6h0m0.6 0.2h0m2.1 0.4h0m2-1.8h0m6.1 1.1h0m0.2-1.7h0m6.9 2.2h0m12.9-0.3h0m-22.4 2.2h0m2.1 0.3h0m2.1-0.4h0m0.6-1.3h0m9.9-0.1h0m2.9 0.2h0m1 0.7h0m-26.3 2.7h0m1 0.5h0m10.3 1.3h0m0.5-1.5h0m1.1 0.8h0m8 0.3h0m6.6 0.7h0m1.3 0.3h0m1.7-1.7h0m0.4 0.2h0m-24.6 2.3h0m2.8 2h0m7.8-2h0m7.9 1.9h0m-19.1 0.6h0m10 1.1h0m1.8 1.4h0m9.1-0.9h0m-25.3 3.6h0m12.2-1.7h0m6.8 1.6h0m9.9-1.9h0m1.1 0.6h0m-28.8 4.7h0m10.4-1.1h0m3.1 0.2h0m1.6-0.9h0m0.5 0.2h0m2.5 0.9h0m0.2-0.7h0m4.9 1.1h0m0.8-0.5h0" stroke="#c8c8c8" stroke-width="0.8" stroke-linecap="round" stroke-opacity="0.8" fill="none"/>
<path d="M69 196.9h0m0.5-0.7h0m0.3 1.4h0m2-1.1h0m0.2 0.8h0m0.3-1.6h0m3.6 1.3h0m1.1 0.7h0m-10.7 2.9h0m0.1-2.4h0m1.2 0.6h0m0.2 1.2h0m0.5 0.1h0m0.7-0.6h0m0.7-0.6h0m1.1-0.2h0m0.3 1h0m1 1h0m0.6-0.6h0m0.6-1.3h0m0.5-0.2h0m0.6 1.3h0m1.4-0.8h0m1 0.6h0m0.5-0.3h0m0.9-0.5h0m-12.2 2.4h0m0.5 0.3h0m1.4 0.7h0m0.4-0.7h0m0.5 1.4h0m0.2-0.4h0m0.5 0h0m2 1h0m0.6 0.1h0m0.5-1.9h0m0.2 1.2h0m0.5-0.4h0m0.3-1.2h0m0.2 0.4h0m0.2 1.1h0m0.3-0.2h0m1.5 1h0m1.6-0.6h0m0.6-0.4h0m0.1 0.5h0m0.7-1h0m-9.8 2.8h0m0.2-0.9h0m1.3-0.1h0m1.6 1.5h0m0-1.5h0m0.3 0.9h0m0.5-0.9h0m0.9 0.5h0m1.2 1.6h0m2.8-1.8h0m7.5 1.8h0m2.7-0.1h0m0.3-0.2h0m0.1 0.9h0m0.7 0.2h0m0.1-0.1h0m1.8 0h0m-4.3 0.6h0m0.8 1.3h0m0.2-0.3h0m0.1-0.3h0m0.4-0.7h0m0.4 0.3h0m1.1 1.9h0m0.7-2.4h0m0.2-0.2h0m-18.1 11.3h0m1-0.2h0m1.7-1.1h0m0.1 0.5h0m0.1-0.6h0m0.2 1.3h0m1.2 0.1h0m1.8 0.6h0m-8.3 2.2h0m2.3-0.5h0m0.3-0.9h0m0.4 0.5h0m0.2-1h0m1.7 1.2h0m0.7-1h0m0.4 2.3h0m0.4-1.1h0m0.8 0.7h0m0.5-0.5h0m2.6-0.3h0m0.1 0.4h0m-8.5 1.2h0m0.4 2h0m0.3 0.1h0m0-0.7h0m0.4 0.3h0m0.6 0.2h0m0.3-1.4h0m1.6 2.1h0m0.2-2.3h0m1.5 0.7h0m0.8 0.5h0m-30.9 16.3h0m1-0.3h0m0.7-1.4h0m57.5 0.2h0m2.9 0.9h0m1.3-1.7h0m0.3-0.2h0m1.8-0.3h0m2 1.6h0m-69.8 2.9h0m1.2 0.2h0m5.8-1.5h0m0.1 0.1h0m0.2 0.7h0m49.6-0.4h0m1-0.4h0m1.6 0.3h0m8.5-0.2h0m3.7 1.1h0m4.2-0.3h0m3 1.3h0m7.6 0.2h0m-87.9 1.6h0m2.3 0.7h0m2.4-1.2h0m0.3-0.1h0m2.1 1.3h0m0-1.9h0m0.4 2.3h0m0.5-2.2h0m2.4 2.1h0m2.6-1.9h0m0.1 2.5h0m0.9 0h0m0.2-0.7h0m1.6-0.8h0m0.2 0.2h0m0.5-0.4h0m46.4 1.6h0m8.2 0h0m4.4-1.2h0m6.5 0.2h0m8.2 0.1h0m-93.9 1.6h0m0.2 0.8h0m4.8-0.9h0m3.9 1.3h0m1.9-1.2h0m0.6-0.5h0m1.5 2.6h0m0.5-1.9h0m5.2 0.4h0m1.1 1.6h0m41-2.1h0m0.5 1.2h0m0.1-1.8h0m0.9 2.1h0m1.4-1.9h0m7 0.3h0m0.2 0.1h0m0.2 2.1h0m1.2-0.6h0m2.4-1.2h0m5.5-0.9h0m5.8 2h0m3 0.5h0m0.5-0.4h0m-89.3 2.7h0m1 0.6h0m0.5 0.2h0m4.4-1.6h0m6.8 0.7h0m2.7-1.5h0m49.8 1h0m1.9 1.8h0m0.6-1.4h0m1.6-1.2h0m0 1.6h0m2.2-0.5h0m0.3 0h0m1.2-0.2h0m3.9-0.8h0m2.6-0.3h0m-80.6 4.8h0m3.4-0.8h0m0.2-0.7h0m2.6 1.6h0m2.6-0.9h0m5-0.5h0m2.5 0.8h0m5.1 0.3h0m2-1.8h0m0.1 2.1h0m37.3 0.7h0m4.2-0.9h0m0.2 0h0m1.9 0h0m0.5-1.7h0m0.4 1.6h0m1.1-1.1h0m2.1 0h0m-70.9 4.8h0m4.3-1.3h0m0-0.2h0m1.8 0.7h0m1.4-0.4h0m0.1-0.5h0m0.3 1.9h0m5.4-2.2h0m1.8 0.2h0m1.4 0h0m0.1 0h0m0.9 1.3h0m0.1-1.2h0m0.7 0.1h0m0.3 0.3h0m1.9-1h0m0.6 1.1h0m0.1 1.1h0m1.4-1h0m38.6-1h0m5.7 2h0m-68.2 1.4h0m0.4 1.4h0m2.3-1.9h0m0.1 1.8h0m3.7 0.2h0m0.3 0.7h0m5.1 0h0m1-1.4h0m7.9-0.9h0m3.2 0.5h0m42.9-1.1h0m6.1 1.7h0m0.7 0.7h0m-69.8 1.1h0m0.4 0.1h0m2.4 0.3h0m0.3-0.8h0m1.9 2.4h0m1.5 0.2h0m0.5-2.1h0m1.2 1.5h0m2.5-0.7h0m3.3-0.7h0m0.1-0.1h0m0.4 1.6h0m0.5-2h0m1.5 1.5h0m1 0.4h0m1-0.6h0m43.9 0.2h0m7.1-0.9h0m0.6 1.5h0m0.1 0.2h0m-74.5 3.3h0m1.5-1.9h0m0.7 0h0m1.2-1h0m3 2.3h0m13.6-0.4h0m0.7-1.4h0m0.9 1.7h0m46.2 0.1h0m1.5-1.2h0m0.1 1.8h0m0-1.3h0m2 0.8h0m0.5-0.1h0m-70.2 1.6h0m0.2 1.5h0m3.1-1.1h0m1.6-0.5h0m2.9-0.1h0m1.2-0.3h0m3.6 1.6h0m0.3 0h0m1-1.1h0m1.5-0.6h0m1.6 1.5h0m2.8 0h0m0.2-1.2h0m21.5 1.9h0m1.3 0h0m0.4-0.8h0m1.5 1.2h0m1.8-0.9h0m0.1 0.5h0m21.8-2.4h0m0.4 2.6h0m2.1-0.1h0m0.1-2.6h0m0.6 2.3h0m0.9 0.2h0m-74.1 1.2h0m2.2 0.3h0m1.2-0.1h0m10-0.3h0m8.1 2.2h0m22.5-1.4h0m1-1.3h0m0.1 0.3h0m0-0.2h0m23.1 2.3h0m1.2-2h0m4 0.8h0m0.4-1.3h0m0.1 0.8h0m-57.2 3h0m0.6 2h0m51.4-0.3h0m1.9-0.9h0m2.7 1.3h0m0.9-1.8h0m0.6-0.1h0m-10.9 2.8h0m1.6-0.5h0m0.3 2.4h0m2.3-0.3h0m2.1-2.2h0m1.2 1h0m2.8-0.2h0m-20.9 4.7h0m0.1 0.3h0m0-1.9h0m3 0h0m0.4 1h0m1.2-1.6h0m0.9 0.9h0m1.1 0.8h0m1-1.1h0m1.5-1h0m1.9 1.6h0m1.3-0.7h0m2.5 1.5h0m0.4-0.1h0m2.1-2.1h0m-21.6 3.8h0m0.7 0.7h0m0.1-0.6h0m3 1.6h0m0.5-2.7h0m0.3 0.3h0m0.8 2.2h0m0.9-1.2h0m0.8-1.3h0m2.5 1.2h0m0.7-0.4h0m1.1 1.1h0m0.5-1.3h0m2.5-0.3h0m0.1 1.8h0m1.8-1h0m1.4-0.9h0m1.4-0.2h0m-17.9 3.8h0m1.5-0.8h0m0.6 0.7h0m0.8 1h0m0.1-1.6h0m0.2 1.3h0m0.8 1h0m0.7-0.3h0m2.1-1.1h0m0.7 1.1h0m0.3 0.6h0m0.1-2.2h0m1.4 0h0m0.5-0.6h0m1 0.4h0m0.1 2h0m2.6-2.4h0m0.2 0.5h0m-15.7 2.5h0m0.3 2.5h0m0.1-0.9h0m0.5-0.8h0m1.3 1.8h0m0.6 0.4h0m1.9-1.7h0m1.7 1.4h0m0.1-2h0m2.2 0.9h0m2.5-1.5h0m-6.3 3h0m3.8 0.7h0" stroke="#b4b4b4" stroke-width="0.75" stroke-linecap="round" stroke-opacity="0.7" fill="none"/>
<path d="M68.1 197.1h0m0.9 0.2h0m0.4-0.5h0m1.4-0.8h0m1.8 0.4h0m1.2 1.4h0m0.2-1.6h0m0.1 0.3h0m2.2 1.3h0m-10.5 1.5h0m2.5-0.6h0m1.4 2.3h0m0-1.4h0m0.8-0.5h0m0.7 0.8h0m0.6 1h0m0.1-0.8h0m0.3-1.1h0m0.3 1.9h0m1.3-2.4h0m0.7 0h0m0.3 1.2h0m-8.5 2.9h0m2.4-1.1h0m1-0.2h0m1.1 0.6h0m0.1-0.4h0m1.7-0.2h0m5 2.1h0m0.1-0.7h0m0.1 1h0m0.4-1.3h0m0.1-0.5h0m0.4 1.4h0m-9.7 2h0m2.6-0.5h0m1.2-0.2h0m0.4 1.1h0m1.4 0.3h0m9.7-0.7h0m0.1 1.3h0m1.3-1.9h0m0.7-0.7h0m0.2 1.6h0m0.5-0.7h0m0.5-0.4h0m1.8 1.7h0m1.9 0.5h0m-7.1 0.7h0m0.4 0.1h0m1.8 0.8h0m1.5-0.4h0m1.1 0h0m-17.3 10.2h0m1.1 0.7h0m0.8-0.6h0m1.4-0.6h0m0.4 0.5h0m2.8 0.3h0m0.4-0.2h0m0.3 0.3h0m-8.9 3.4h0m0.6-2.8h0m0.1 2.2h0m0.8 0.4h0m0.9-0.7h0m1.6 0.2h0m0.9-0.7h0m0.8-0.9h0m0 0.8h0m1 1.2h0m0.6-1.6h0m0.1 0h0m0.8-0.3h0m0.6 2.1h0m0-1.5h0m1.6 0.6h0m0-0.4h0m0.2 1.2h0m-9 1h0m0.9 0.8h0m0.9 0.7h0m1-0.2h0m0.4-0.3h0m2.6 0.4h0m1.3 0.7h0m1.9-2.2h0m-7.6 2.8h0m37.7 10.5h0m0.8-0.2h0m3.4 4.1h0m0.6-1.2h0m-73.6 3.7h0m1.1-2.2h0m0.5 2.6h0m0.1-0.4h0m1.7 0h0m0.2 0.6h0m3-2h0m0.4 1.4h0m0-1.4h0m0.7 1.9h0m0.3-2h0m0.8-0.3h0m2.3-0.2h0m3.3 0.4h0m0.2 1.7h0m0.5 0h0m0.1 0h0m51.6-0.1h0m10.5 0h0m0.1 0.1h0m3.8-1.1h0m-80.3 3.3h0m5 1.3h0m0.4-0.5h0m0.8-0.1h0m2.9 0.5h0m2.2-1.2h0m5.7-0.2h0m0.3-0.5h0m40.9 0.7h0m4.3 0.8h0m1.6-2.1h0m2.8 2.1h0m3.3-1.5h0m1.7 1.7h0m1.5-0.3h0m1.3 0.3h0m8.9-0.2h0m2-1.1h0m0.5-0.2h0m-89.6 2.8h0m1.6 1.1h0m0.2-0.7h0m1 0.2h0m1.3 0.3h0m4.9-1.6h0m0.1 1.9h0m1.1-1.1h0m0.5 1.8h0m1.3-1.9h0m1.9 1.4h0m0.4-0.1h0m5.4-1.2h0m2.7 1.7h0m41.2-0.8h0m3.5-0.2h0m3.2 0.1h0m0.3-1.7h0m0.3 1.6h0m0.9 0h0m1.2 0.2h0m4.6 0.5h0m1.1 0.1h0m4-1.7h0m0-0.5h0m6.5 0.3h0m2.2 0.2h0m1.7 0.3h0m-92 3.4h0m3 1.2h0m0.3-1.8h0m2.5 0.3h0m6 0h0m2.7 0.1h0m45.4-0.1h0m4 0.9h0m0.3-2h0m1 1.7h0m0.1-0.6h0m2.7 0.5h0m0.9 0.4h0m1.6 0.7h0m0.2-0.7h0m0.6-1.3h0m0.9 2.1h0m0.5-0.5h0m2.9-2.2h0m4.2 0h0m1.5 1.3h0m4.9-0.4h0m-88.4 4.4h0m10.9 0.5h0m0.8-1.6h0m3.3 1h0m0.4-0.8h0m3.7-1.5h0m46.2 1.9h0m0.7 0.6h0m0.2-0.3h0m3.2 0.5h0m1.7-1.2h0m0.1 0.2h0m2.2-0.7h0m0-0.5h0m0.6 1.9h0m1.3-2.3h0m-75.3 4h0m0.7-0.7h0m0.4 2.3h0m4.6-0.8h0m1.1-1.1h0m1.2-0.1h0m3.4-0.3h0m1.3 2.1h0m1.2-1.8h0m0.3-0.7h0m0.4 1.4h0m2.9 0h0m0.4 0.8h0m2.8-0.8h0m1.4 0.8h0m40.5-1h0m2.6 1h0m0.3-0.7h0m1.3-0.2h0m2.9-0.4h0m1.3-0.2h0m0.1 1.3h0m1.1-1.5h0m2.1 0.4h0m-73.9 2.7h0m4 0.9h0m1.1 0.4h0m4.5-0.6h0m3.7 1.1h0m3-2h0m2.7-0.1h0m1.1 1.7h0m2-1.5h0m40-0.5h0m0.5 1.6h0m0.2-1h0m-63.5 5.2h0m0.7-0.2h0m1.8-0.2h0m1.9-1.6h0m0.5 1.7h0m1.5-0.9h0m2.3-0.7h0m6.3-0.9h0m0.7 2.8h0m0.6-0.6h0m2.5-2h0m1.9 1.6h0m2.2-1.8h0m41.1 0.1h0m0.3 0.7h0m1.4-0.2h0m1.1 0.8h0m2.5 0.6h0m3.4 0.8h0m2.1-1.5h0m-73.7 2.2h0m0.6 0.5h0m1.2 0.9h0m0.8 0.3h0m2.5 0.1h0m0.9 0.2h0m4.7-0.3h0m3 0.1h0m3.6-0.8h0m49-0.4h0m0.1-0.7h0m2.1 1.3h0m0.2-1.2h0m4 0.5h0m-72.8 3.2h0m1.8-0.2h0m0.6 1h0m1.6-1.4h0m0 1.2h0m1.7-1.3h0m0.3 1.9h0m1.3-1h0m0.5-0.4h0m0.1 1h0m3.3 0.2h0m1.3-0.2h0m6.9-0.4h0m3-0.1h0m0.1 0.1h0m20 1h0m2.7-0.2h0m1-0.6h0m0 0.3h0m1 0.2h0m23.4 0.1h0m-68.9 1.8h0m3.7-0.8h0m6.5-0.4h0m0.2 2.4h0m0.8-0.7h0m1.8 1h0m1.4-1h0m0.8-0.8h0m2.8 1.7h0m0.1-1.3h0m0.2-0.4h0m1.8 0.3h0m1.2 0.5h0m0.5-0.9h0m16.8 0.7h0m0.4-0.5h0m2.5-0.4h0m0.3 1h0m4.4-1.7h0m22.3 0.7h0m2.5-0.2h0m0.5 0.2h0m-59.9 3.9h0m2.6 0.6h0m0.5-2h0m0.9 0.7h0m0.1 0.9h0m1.1-1.3h0m46.7 2.2h0m1.8-1.5h0m0.5 1.4h0m1.6-1h0m3.6-1.5h0m0.1 0.2h0m1.2 1.6h0m-58 1.8h0m1.3 1h0m0.1-1.1h0m1.7 2.2h0m4.3-0.6h0m36.2 0.1h0m5.5-2.1h0m0.2 0.9h0m2.9 1.5h0m0.5-2.4h0m0 1.1h0m1.9 1.3h0m0.2 0h0m0.1-2.1h0m0.6 2.3h0m0-2.2h0m-22.7 5.3h0m0.3-0.2h0m0.4-0.1h0m1.5-1.3h0m0.3-0.3h0m0.9 1.4h0m0.2 0h0m1-1.9h0m4.3 0.6h0m0.3 1h0m0.8 0.1h0m1-0.3h0m0.3-0.4h0m2-0.6h0m3.7 0.7h0m1.5-0.6h0m0.5 0.3h0m2.9-0.1h0m-23.1 2.5h0m2.2 0h0m0.6 1.9h0m0.1-1.4h0m5.7-0.9h0m0 1.4h0m1.2-0.8h0m0.5 0.7h0m4.2-1.3h0m1.1-0.2h0m1.2 2h0m0.6 0.2h0m-17.3 2.8h0m0.1-1.9h0m0.5 1.9h0m1.8-1.2h0m7.4 1.6h0m1.7 0.2h0m0.3-2.1h0m1 0.9h0m-11.3 1.5h0m0.3 2.1h0m2.8 0.5h0m0.8-1.3h0m0.2-0.5h0m0.1-0.4h0m1.4 0.2h0m1.6 1.1h0m3.3-1.1h0m0.3-0.3h0m-10.5 3.9h0m0.4 0.9h0m0.5-1.4h0m4.3 0.4h0" stroke="#f6f6f6" stroke-width="0.8" stroke-linecap="round" stroke-opacity="0.8" fill="none"/>
<path d="M99 239L111.7 235L122 241L135 243L133 250L115 251L100 247Z" fill="#e6ebf0" fill-opacity="0.6" filter="url(#bl20)"/>
<path d="M107.8 236.5h0m4.6 0.1h0m0.7-0.7h0m-13.4 3.5h0m2.3-0.6h0m0.1 0.6h0m1.7 0.4h0m1.1-0.1h0m2-1.2h0m1.4 0.1h0m1.5 0.3h0m1.2-1.1h0m1.3 0.9h0m0.3 0.1h0m0.8 0.6h0m0.9-2.2h0m0.8-0.1h0m0.2 1.4h0m3.1 0.8h0m-16.6 3.5h0m0.7-1.9h0m0.2 1.1h0m1.5-0.2h0m1.6-1.4h0m3 1.5h0m1.4 0.5h0m0.6-0.6h0m3.3 0.4h0m0.3-0.9h0m1.2 1h0m0.7-1.3h0m1.7 1h0m0.6-0.4h0m0.3 1.4h0m0.7-0.3h0m0.4-1h0m0.7 0.6h0m5.2-0.2h0m0-0.4h0m-21 1.6h0m0.5 0.8h0m0.1 0.7h0m0.4-0.4h0m0.4-0.6h0m0.7-0.2h0m0.6 2.2h0m0.3-0.9h0m0.2-0.9h0m1.3-0.5h0m0.5 0.1h0m3.5-0.2h0m2.6 1.2h0m2.2 1h0m1.3 0.2h0m0.5-1.4h0m2.9-0.9h0m0.8 2h0m0.5-1.8h0m1.4 2.1h0m0.2-1.8h0m0.6 0.5h0m1.3-1.4h0m1.5 2.5h0m0.2-2.6h0m1.7 2.2h0m0.4 0.4h0m0.9-2.2h0m0.1 2.4h0m0.6-1.6h0m0.6-0.5h0m-26.8 4.3h0m0-0.2h0m1.2 0.5h0m2.2-1.8h0m4.8 2h0m0.2 0h0m2.9-0.5h0m2.9-1.2h0m0.2 1.7h0m4.4-1.2h0m0.6 1.5h0m-15.1 0.6h0m3.4 0.2h0m1.3 0h0m0.1 0.5h0m1.5 0.6h0m0.5-0.6h0m7.9 0.2h0m1-0.3h0m0.1 0h0" stroke="#bccfe0" stroke-width="0.8" stroke-linecap="round" stroke-opacity="0.8" fill="none"/>
<path d="M122 215.2L126 219L131 226L136 234L140 241L138 244L133 242.5L127.5 231L124 235L121 242L116 242L111 240L111.5 234L113 226L117 220Z" fill="#b9d6ec" fill-opacity="0.95" filter="url(#bl08)"/>
<path d="M122 216L124 221L120 225L116 223Z" fill="#a4c6e5" fill-opacity="0.8" filter="url(#bl10)"/>
<path d="M127.5 232L132 242L122 242Z" fill="#e4ecf3" fill-opacity="0.7" filter="url(#bl12)"/>
<path d="M122 215.4h0m-2.1 3.5h0m0.3-0.5h0m1.8 0h0m2.4 0.5h0m0.9-0.4h0m-7.3 3.3h0m0.1-0.9h0m0.3 0.8h0m0-0.4h0m2.2 0.2h0m1.8-1h0m1 1.5h0m0.6-1.2h0m1.6-0.3h0m0.9 0.3h0m0.9 0.8h0m-12.5 2.3h0m3.4-0.1h0m0.8-0.7h0m0.2-0.3h0m0.2-0.5h0m0 2.1h0m0.8-0.6h0m0.7-0.4h0m1.8 0.1h0m0.8-0.9h0m0.2 0.7h0m1.4 1.7h0m1.3-0.3h0m1.4-2.3h0m-14.9 5.6h0m0-1.5h0m2.5-1.1h0m1.1 0h0m2.2 0.3h0m0.1-0.5h0m0.9 1h0m0.6 1.6h0m1.6-1.1h0m0.6-1.3h0m0.5 0.8h0m0.9 1.2h0m0.3-2.4h0m0.2 3h0m0.4-1.7h0m1.4-0.3h0m0.4-0.9h0m0.5 0.9h0m0.9 0.8h0m0.4-0.7h0m1.2 0.4h0m1.2 0.7h0m-18.2 2h0m1.8 1.7h0m1.5-0.1h0m0.5-0.8h0m0.2-1h0m0.1-0.3h0m2.4 1.4h0m0.5-1h0m0.4 1.7h0m0.8-1.5h0m0.6 1h0m0.3-2.1h0m0.2 2.4h0m1.5-0.7h0m0.5 0.8h0m0.1-1.5h0m0.6 1.4h0m1.1-0.5h0m0.1-1.6h0m2.1 0.8h0m3.4 1.6h0m1.2-1.6h0m-20 4.4h0m0.8-2.4h0m2.4 1.2h0m0.1 0.9h0m0.7-1.9h0m0.5 1.9h0m0.2 0h0m0.1-0.5h0m0.8 0.7h0m0.7-0.9h0m2.5-1.3h0m0.1 1.1h0m0.6 0.1h0m0.4-1.1h0m0.1 1.8h0m0-2.1h0m1.5 1.6h0m1.3-1.1h0m3.6 2h0m2-0.6h0m0.7-1.4h0m0.9 0h0m-20.5 4.2h0m2.1 1h0m1.2-1.3h0m0.2-1.1h0m1.1 1.6h0m0.2 0.8h0m1.2-2h0m0.4 0.7h0m0.4 0.1h0m1.5-1.4h0m0.5 2.5h0m0.6-0.6h0m0.1 0.6h0m0.3-0.4h0m1.1-0.2h0m0.2-1.8h0m0.5 0.1h0m5.5-0.4h0m0.7 0.3h0m0.9 2h0m0.6-1.9h0m3.7 0.2h0m0.7-0.3h0m0.9 1.7h0m-24.7 2.2h0m1.2 1.4h0m1-2.5h0m0.5 2.8h0m1.5-2.6h0m0.1 1.9h0m1.5-1.7h0m0.5 1.3h0m1.5 0.8h0m0.7-0.8h0m0.4-1.2h0m1.1 1.8h0m9-2h0m0.6 1.7h0m1.7-0.9h0m2.1 1.3h0m1.2-1.3h0m1.1 1.6h0m-20.7 1.6h0m0.2-0.6h0m3.8 1.1h0m11.4-1h0m0.8-0.4h0m1.8 1.5h0m0.2 0.2h0m0.9-0.6h0m1.2-1.1h0m0.8 1.3h0m1.3-1.6h0" stroke="#8db5dc" stroke-width="0.8" stroke-linecap="round" stroke-opacity="0.8" fill="none"/>
<path d="M116.4 221.9h0m2.6-0.8h0m3.2-0.3h0m1.1-0.8h0m1.2-0.2h0m-8.2 3.5h0m1.3-0.9h0m1.3 2.2h0m2.1-0.7h0m2-1.8h0m4 1.8h0m0.6 0h0m0.1-1.8h0m1.8 2.4h0m-15.8 1.6h0m2.5-0.3h0m6.5-0.3h0m0.4 0.3h0m0.2 0.4h0m0.1 0.5h0m3-0.2h0m1.3-0.1h0m-7.9 1.8h0m1.3 2.2h0m4.9-1.6h0m1.3 1h0m0.3-0.5h0m1-0.2h0m-16.3 3.3h0m4.5-0.2h0m0 0h0m1.1 1.2h0m1.5-2h0m2.4 0.2h0m0.6 1.7h0m0.8-0.4h0m0.7-0.1h0m4.4-0.8h0m0.6-0.5h0m1.3-0.1h0m1.8 0.1h0m3.2 2.2h0m-22.2 2.8h0m0.4-1.1h0m6.2-0.6h0m3.1-0.6h0m12.1 1.8h0m0.3-1.6h0m1.6 1.3h0m-24.6 2.4h0m0.1 0.6h0m0.6 0.3h0m1.5-0.4h0m1.4 0.5h0m5.7-1.9h0m10.6 0.4h0m1.2 1.1h0m0.8-0.1h0m0.8 0.2h0m-20.8 1.4h0m2.1 0.2h0m5.4 0.2h0m11.3 0.5h0m0.7-0.2h0m1.1 1.8h0m1.2-0.7h0m1.2 0.5h0m1.7-0.8h0m-3.2 1.4h0m1.3 0h0" stroke="#eef4fa" stroke-width="0.8" stroke-linecap="round" stroke-opacity="0.8" fill="none"/>
<ellipse cx="240" cy="201" rx="7" ry="5.5" transform="rotate(10 240 201)" fill="#cdcdcd" fill-opacity="0.9" filter="url(#bl08)"/>
<ellipse cx="255" cy="207" rx="4" ry="3" transform="rotate(20 255 207)" fill="#d3d3d3" fill-opacity="0.9" filter="url(#bl08)"/>
<ellipse cx="242.5" cy="221.3" rx="6" ry="4.5" transform="rotate(0 242.5 221.3)" fill="#c9c9c9" fill-opacity="0.9" filter="url(#bl08)"/>
<ellipse cx="250.5" cy="270.5" rx="4" ry="2" transform="rotate(-15 250.5 270.5)" fill="#dddddd" fill-opacity="0.9" filter="url(#bl08)"/>
<path d="M238.5 226L230.5 232L221.5 238L215.5 241" fill="none" stroke="#cfcfcf" stroke-width="2.6" stroke-linecap="round" stroke-linejoin="round" filter="url(#bl08)"/>
<path d="M240.5 229.5L235.5 235L232.5 241" fill="none" stroke="#d2d2d2" stroke-width="2.2" stroke-linecap="round" stroke-linejoin="round" filter="url(#bl08)"/>
<path d="M213.5 225.5L217.5 229L220.5 232" fill="none" stroke="#cdcdcd" stroke-width="3.2" stroke-linecap="round" stroke-linejoin="round" filter="url(#bl08)"/>
<path d="M211.5 223L217.5 225L222.5 231L229.5 227L237.5 222L243.5 224L242.5 229L235.5 235L230.5 241L222.5 245L214.5 247L207.5 247L209.5 237L213.5 231Z" fill="#dedede" fill-opacity="0.9" filter="url(#bl12)"/>
<path d="M211 239L217.5 238L222.5 239L227.5 243L230.7 251L230.5 260.9L228.3 266.7L231.2 272.5L230.7 278.2L226 279.4L220.3 275.9L214.5 269L208.7 272.5L204.7 271.3L205.3 262L205.8 252.8L206.5 246Z" fill="#dddddd" fill-opacity="0.95" filter="url(#bl08)"/>
<path d="M216.5 253L223.5 251L229.5 255L229.5 263L222.5 265L215.5 261Z" fill="#cbcbcb" fill-opacity="0.7" filter="url(#bl15)"/>
<path d="M205.5 263L211.5 260L214.5 267L209.5 271.5L205.5 271Z" fill="#cbcbcb" fill-opacity="0.7" filter="url(#bl15)"/>
<path d="M253.8 282.8L258.5 279.4L266.5 278.2L272.3 274.8L274.5 269L278 266.7L280.9 270.2L280.3 277L274.5 282.8L267.7 287.5L263 292L256.1 293.2L252.7 289.8Z" fill="#d2d2d2" fill-opacity="0.95" filter="url(#bl08)"/>
<path d="M266.5 245L275.5 244L281.5 249L280.5 259L280 266L274.5 268L269.5 263L266.5 255Z" fill="#e2e2e2" fill-opacity="0.9" filter="url(#bl12)"/>
<line x1="274.5" y1="236" x2="299" y2="272.5" stroke="#b8b8b8" stroke-width="0.8"/>
<line x1="269.5" y1="223.3" x2="274.2" y2="229" stroke="#cfc8c8" stroke-width="0.6"/>
<line x1="274.2" y1="229" x2="282.9" y2="243.5" stroke="#d2caca" stroke-width="0.6"/>
<line x1="249.2" y1="250.2" x2="269.5" y2="240.6" stroke="#c8c8c8" stroke-width="1.1"/>
<line x1="267.5" y1="212" x2="269" y2="218.5" stroke="#d2d2d2" stroke-width="2.6"/>
<line x1="268.5" y1="218.5" x2="267.5" y2="224.2" stroke="#cccccc" stroke-width="0.6"/>
<line x1="257.5" y1="219.5" x2="260" y2="225" stroke="#d0d0d0" stroke-width="1.6"/>
<line x1="260.8" y1="228" x2="264.5" y2="229" stroke="#d0d0d0" stroke-width="1.0"/>
<line x1="252.1" y1="237" x2="255" y2="239.5" stroke="#d5d5d5" stroke-width="1.2"/>
<line x1="231" y1="208" x2="233.5" y2="213.5" stroke="#d5d5d5" stroke-width="0.6"/>
<line x1="248" y1="250.5" x2="257.2" y2="246" stroke="#cbcbcb" stroke-width="1.0"/>
<path d="M250.2 208.2h0m2.6-0.5h0m5.1 0.4h0m6.9-0.2h0m7.8 1.5h0m-24.8 0.6h0m3.6 2.7h0m4.2 0h0m11.3-1.3h0m2.5-0.4h0m1.7 0h0m-17.1 2.8h0m1.8-0.2h0m2.6-0.4h0m5 1.1h0m1.9-1h0m3.8 0.8h0m3.5 0.3h0m-17.3 1.8h0m2.4 2.8h0m6.7-2.9h0m5.3 2.4h0m1.8-0.7h0m2.5 0.1h0m0.9 0.3h0m2.4 0.3h0m-17.1 1.1h0m1.6 0.5h0m0.7 1.8h0m0.5-1.7h0m2.6-1h0m1.4 1.8h0m8.6-2h0m1.6 0.9h0m-29.9 3.4h0m6.7-0.4h0m2.8 1.9h0m2.2-2.8h0m1.8 0.7h0m7.6 0.6h0m1.2 1.2h0m-14.4 0.6h0m13.9 1h0m6.6 0.4h0m-26.2 2.8h0m4.3-0.6h0m1.9-0.6h0m1 0.7h0m2.4 0.5h0m0.1 0.1h0m0.3 0.8h0m1.4 0.6h0m4.5-0.6h0m0 0.7h0m3.4-2.9h0m0.6 0.5h0m1.3 2h0m1.2-0.8h0m2.6 0.8h0m6.7-0.6h0m3.8-0.5h0m-38 2.4h0m7.6 0.3h0m4.3-1h0m0.2 1.6h0m2 0.6h0m0.4-1.7h0m1.3-0.5h0m8.1 2.6h0m1.4-0.8h0m2.6 0.3h0m2 0.6h0m5.2-2.1h0m0.4 0.2h0m0.2 1.5h0m-32.5 0.8h0m9.2 2.6h0m3.7-1.9h0m3.7-0.6h0m2.5 0.6h0m0.7-0.4h0m1.1 1.2h0m0.7 0.6h0m0.7-1.5h0m7.6-0.5h0m5.1 0.7h0m-30.9 2.2h0m1.1 2.5h0m7.1 0.3h0m2-0.6h0m1.6 0.4h0m0.8-0.2h0m2.1-0.2h0m5.4-0.6h0m1.7 0.2h0m-15 2.5h0m-9.3 4.3h0m0.6-1.1h0m0.4 0.1h0m8.6 0.8h0m6.4-2h0m2-0.4h0m3.6 2.4h0m-11.7 2.2h0m0-1.1h0m9.2-0.2h0m0.5 0.6h0m0.9 0.8h0m8.1-1.4h0m-28.5 2.8h0m14.5 2.2h0m0.9-1.9h0m6 0.9h0m1.1-0.1h0m10.3-1.3h0m-22.8 4.2h0m4.5 0.4h0m6.4-1.1h0m4.2 0.5h0m3.8-0.7h0m-26.3 2.9h0m4 1h0m3.6-0.9h0m1.8 1.3h0m11.3-1h0m0.2 2.1h0m-22.4 0.2h0m1 0.7h0m0.6 0.1h0m0.1 1.2h0m1.8 0.6h0m4.9-2.6h0m1.9 0.7h0m0 1.5h0m2.6-1.8h0m1.3 1.7h0m5.1 0.6h0m10-1h0m1.8-0.4h0m-32.5 3.6h0m12.6-1.1h0m2.9 0.1h0m0.4 0.3h0m3.3-0.9h0m4.8 1.2h0m1.3 1.4h0m-23.7 2.2h0m11.9 0.3h0m9.3-0.9h0m6 1.2h0" stroke="#c8c8c8" stroke-width="0.8" stroke-linecap="round" stroke-opacity="0.8" fill="none"/>
<path d="M237.3 197.4h0m2.1-1.4h0m1.4 1.3h0m0.4-0.2h0m1-0.5h0m1 0.3h0m0.2-0.3h0m0.3 0.7h0m0.2-0.5h0m-9.8 2.5h0m0.3 0.7h0m0.6 0h0m1.7-0.3h0m2.7 0.6h0m0.7-1.9h0m0.4 1.2h0m0.4-0.5h0m1-0.2h0m0.7 2h0m0.1-2.8h0m0.2 1.5h0m0.9 0.9h0m0.1 0.2h0m0.6-1.3h0m0.1 1.5h0m0.8-2.1h0m-10.7 3.1h0m0.9 1.1h0m0.3-1.4h0m0.6 0h0m0 0.7h0m1.7 0h0m0.2-1h0m1.7-0.2h0m0 0.8h0m0-0.5h0m0.1-0.2h0m0.5 1h0m0.2 0.3h0m1.9-0.4h0m1.2-0.2h0m-7.6 2.8h0m0.2-0.1h0m3.8 0.4h0m1.6 0.9h0m0.2-0.8h0m1.3 0.4h0m7.9 0h0m0 1.4h0m3.3-0.3h0m0.5-1.5h0m2.3 0.9h0m0.5 0.6h0m-4.7 2.9h0m1.7-1h0m0.4 1.4h0m0.1-0.8h0m0.6-1.5h0m1.4 1h0m-17.9 9.6h0m0.5-0.4h0m0.2 0.5h0m0.4-0.9h0m1.4 1.5h0m1.9-0.5h0m0-0.4h0m0.4 0.3h0m-6.3 1.1h0m0.1 1.9h0m1.3-0.3h0m1.8 0.7h0m0.8 0.3h0m0-0.8h0m0-0.3h0m1.4 0.7h0m0.2-0.2h0m0.9-0.4h0m0.7-0.3h0m0.4-1.6h0m0.3 1.4h0m0.5-0.8h0m0 1h0m0.1 0.8h0m-7.3 1.2h0m0 1.5h0m0.9-1.3h0m0 0.2h0m2.7 1.3h0m1.1-1.3h0m0.6-0.5h0m0.7 0.3h0m0.5 1.8h0m-3.6 0.8h0m31.5 11.4h0m3.5 0h0m-65.1 2.3h0m4.3 0.2h0m3-0.7h0m0.1 0.5h0m56.5 0.3h0m2.2-0.3h0m0-1.6h0m-59.6 4.2h0m1.9 0.1h0m2.4 0.7h0m1.4 0.1h0m2.2-0.5h0m40.9 0.7h0m1.5-1.8h0m9.2 1.1h0m2.8-0.2h0m3.6-0.4h0m1 0h0m4.6 0.9h0m-83.4 3.4h0m3.9-1.8h0m4.6-1.1h0m3.2 1.9h0m0.4-0.5h0m2.6-0.2h0m1.4 0.2h0m1.1-0.3h0m2 1.4h0m42.3 0.2h0m4-0.3h0m0.9-1.3h0m0.6 0.2h0m0.2 1.6h0m1.4-0.1h0m1.4-1.1h0m1.3 0h0m7.5 0.7h0m1-1.3h0m12.3 1.9h0m-91 1.2h0m0.1 0h0m0.5 1.5h0m3.5-0.1h0m0.8-0.5h0m1.5 0.3h0m1.1-0.6h0m1.4 0.2h0m3.7-1.5h0m1.4 0.9h0m2.2-0.7h0m3.5 1.5h0m1.9 0.2h0m38.9-2.3h0m2.9 1.2h0m0.8 1.2h0m2-1.6h0m0.7 1.6h0m0.2-1.5h0m0.2 0.6h0m0.6 1.1h0m1.3-0.4h0m0.4-0.3h0m0.8-0.2h0m2.1 0.4h0m7.6-0.8h0m4.4-0.7h0m2.6 1h0m0.6 0h0m-87.5 4.3h0m4.1-1.9h0m2.6 1.7h0m2.6-0.3h0m0.6-2.2h0m4.3 1.5h0m0.4 1.1h0m0.9-1.8h0m3.2 0.8h0m39.9-1.5h0m0.3 1.4h0m1.6 0.2h0m4.1 0.1h0m0.2-0.8h0m0.6-0.6h0m0.1 1.9h0m0.2 0.2h0m1.2-0.3h0m1-0.9h0m0.4 0h0m20.4-0.5h0m0.7 0.1h0m-91.5 4.6h0m2.4-1.1h0m3.2 0.4h0m1.4 0.6h0m1.5-0.8h0m0.6 0h0m0-0.8h0m0.5 0.6h0m9.4-0.4h0m1-0.5h0m2.6-0.8h0m2 0.9h0m0.1 1.8h0m36.1-0.9h0m3 0.3h0m5.6-0.9h0m0.1 1h0m2.7 0.6h0m-72.3 2.9h0m0.3-2.6h0m1.1 2.4h0m0.4-2.3h0m11.3 1.6h0m4.3-0.2h0m0.4 0.9h0m1.6-1.3h0m2.3 1.5h0m2.6-1.5h0m0 1.1h0m0.2-2h0m37.6 0.1h0m6.6 1.9h0m0.6-2h0m1.2 2.6h0m0.2 0.1h0m-69 0.2h0m4.9 0.3h0m0.1 2.3h0m0.8-0.5h0m0.6-1.7h0m0.6-0.3h0m0.2 1.8h0m1.1-0.1h0m0.2 0.6h0m0.6 0h0m12.9-0.1h0m39.4-2.4h0m0.5 0h0m3.6 2.9h0m1.8-1.5h0m3.4-1.3h0m1.3 1.8h0m0.9-0.7h0m-73.3 1.7h0m1.1 0.2h0m3.1 1.8h0m0.5 0.6h0m1.8-2h0m0.3 0h0m1 1.3h0m0.3-1.5h0m2.1 1.6h0m4.8-1.9h0m1.1 0.7h0m1.2 2.1h0m2.9-2.9h0m1.7 2.4h0m40.9-1h0m5.4-1.1h0m-68.9 4.3h0m2.7-0.6h0m0.3-0.6h0m1.9 1.8h0m3.3 0.4h0m1.3-0.4h0m1.5 0.2h0m0.2-2.1h0m1.7 1.2h0m1-1.3h0m1.5 1h0m0.8 1.2h0m1.6-1.1h0m2.2 1.2h0m1.7-2.1h0m42.9-0.2h0m2.4 1.1h0m1.3-0.2h0m1.6-0.7h0m0.5 0.2h0m1.8 1.9h0m-73.4 1.7h0m0-1h0m0.1 0.6h0m1.5 1.1h0m0.7-1.8h0m9.3 0.3h0m0.5 1.6h0m1.7 0.1h0m6-0.5h0m22.8 1.3h0m1.5-0.4h0m2 0.3h0m0.1 0h0m2.8-0.1h0m21.2-0.6h0m0.4-0.5h0m0.7-0.9h0m0 1.8h0m0.2-0.5h0m0.4-1.4h0m1.4 0.5h0m0.7 1.5h0m1.1 0h0m-70.8 1.2h0m1 0.2h0m7.8-0.6h0m3 2h0m0.6-2.3h0m0.8 0.4h0m1.2 1.9h0m0.1 0h0m5.8-1.4h0m0.2 0.4h0m16.7-0.3h0m0-0.4h0m0.3-0.4h0m0.8-0.3h0m1.4 1.9h0m1.6-1.6h0m0.2-0.1h0m0.3 1.9h0m1.7-1h0m20.9 1.7h0m2.8-1.3h0m0.1-0.4h0m2.6 1.2h0m0.6 0.2h0m-59.5 1.5h0m8.7 1.9h0m0.2-2.1h0m43.8-0.5h0m0.7 1.5h0m0.2 0.9h0m1.9 0.1h0m2.1-1.5h0m2.4 0.2h0m-58.7 1.6h0m0.2 0.8h0m1.3 0.3h0m4.3-0.3h0m1.9-0.2h0m0.3 0.1h0m36.2 1.5h0m1.1 0h0m1.3 0h0m0.7 0.6h0m0.5-0.6h0m1.2-1.7h0m0.4 2.2h0m0.2-0.4h0m1.7-1.4h0m0.7-0.5h0m2.2 1.1h0m2.5 0h0m-19.9 2h0m0.7 0.8h0m0 1.2h0m0.5 0h0m0.6-2.1h0m0.9 2.3h0m0.1-0.9h0m1.8-1.1h0m2 1.5h0m0.2-2.2h0m1.2 1.9h0m0.7 0.8h0m0.8-1.6h0m4.9-0.7h0m0.5 1.8h0m1.9-1.3h0m-21.2 3.3h0m1.5 0h0m0.3 0.7h0m2.8 0.9h0m1.9-1.9h0m1.1 0.3h0m0.9 0h0m2.1 0.9h0m1.3-0.7h0m-10.5 3.8h0m1.3-1.9h0m0 2h0m2 0.1h0m6.7-1.8h0m1.4-0.4h0m0 2.4h0m-13.8 0.4h0m0.8 0.1h0m0.8 2h0m1-1.2h0m5.8 2h0m1.4-0.6h0m-7.5 2h0m0.8-1.3h0m1.5 0h0m4.8 0.6h0" stroke="#b4b4b4" stroke-width="0.75" stroke-linecap="round" stroke-opacity="0.7" fill="none"/>
<path d="M234.9 197.2h0m0.8-0.6h0m3.3 0.6h0m0.3 0h0m0.4-1.7h0m2 0.4h0m-7.7 4.6h0m0.5-2h0m2.2 1.1h0m2.4-0.9h0m0.5 1.3h0m0.4 0.9h0m0.3-2.6h0m1 1.2h0m0.5 0.6h0m1.9-1.8h0m0.1 0.4h0m0.1 1.3h0m1.9-0.7h0m0.7 1.6h0m-13.3 0.7h0m0.3 0.1h0m0.9 1.4h0m0.2 0.6h0m1.1 0.1h0m0-1.8h0m0.9 0.8h0m0.1 0.2h0m0.4 0.6h0m0.2-0.9h0m0-1h0m1 1.2h0m1 0.7h0m0.6-1.8h0m0.8-0.1h0m0.1 1.1h0m0.5-1.1h0m0.6-0.5h0m0.2 0.8h0m0.1 1.6h0m0.3-1h0m0.2-0.8h0m1.4 0.4h0m1.7 0.1h0m-9.4 2.1h0m4.1 0.6h0m0.6 1.4h0m1.1-1.1h0m2.2-1h0m7.7 2.1h0m0.1-0.6h0m0.3-0.4h0m0.5 0.5h0m0.2 0.5h0m0.9 0.2h0m0.6-1.9h0m1.1 2.1h0m1-0.9h0m-3.7 3.3h0m1-0.1h0m0.5-0.4h0m0.1-0.2h0m0.2-0.5h0m0.2 1.9h0m0.9-2.4h0m2.3-0.2h0m0-0.2h0m-20.4 11.8h0m3.1-1h0m0.8 0.4h0m2.7-0.3h0m-7.3 3.7h0m1.3-0.9h0m0.9 0.6h0m0.4-1.7h0m1.1 0.1h0m1.3 1.2h0m0.4 0h0m0.3 0.7h0m1.5-1.8h0m1.6-0.7h0m0.2 0h0m1.1 2.5h0m-10.3 1.1h0m1.9 2h0m0.5-1.8h0m0.5 1.1h0m0.1-1.7h0m0 2.2h0m0.3-1.6h0m0 0.7h0m1.4-0.9h0m0.5 1.2h0m0.7 0.3h0m0.1-0.1h0m1.1-1.5h0m0 2.1h0m0.1-1.7h0m0.4 1h0m1.8-1.8h0m-33.1 17.4h0m3.4-1.1h0m0.7 1.1h0m1.6-0.8h0m2.5 0.7h0m0.1-0.4h0m47.7 0.3h0m3.8-1.5h0m3.7-0.5h0m1.2 0.3h0m8.7 1.8h0m-77.2 2.3h0m1-0.7h0m0.7 1.1h0m0.5 0h0m0.4 0.1h0m5.9-0.2h0m2.5 0.4h0m1.2-0.3h0m46.1-1.2h0m3.3 1.6h0m0.3-1.1h0m0.7 0.7h0m7.6 0.1h0m9-1h0m2.3 1.4h0m-79.4 1.4h0m1 0.8h0m0.1 0.8h0m0.1-2.7h0m0.9 0.4h0m1.1-0.1h0m1.2-0.1h0m0 2.1h0m6.3-2.2h0m1 2.4h0m3.9-2.5h0m46 1.6h0m3.4-1h0m7.1 2.3h0m4.6-0.5h0m4.3-1.2h0m2.7 1.5h0m2.4-2h0m0.7 0h0m3.2 1.5h0m-94.7 1.2h0m1 1.3h0m2.1-0.3h0m0.1-0.7h0m0.8 1.8h0m0.5-0.9h0m2.4 0.5h0m2.1-0.9h0m1.4 0.5h0m0.9-1.3h0m4.2 0.7h0m0.6-0.3h0m3.5 1.1h0m1.2-1.7h0m0 0.7h0m0.1 2h0m1.8-0.1h0m39.2-1.2h0m3.4-0.3h0m1.3-0.2h0m3.9 0.5h0m2 1.3h0m0.4-0.1h0m2.8-0.4h0m6-1.3h0m0.2 1.6h0m1.4-1.7h0m5.4 0.5h0m0-1.1h0m-83.5 4.7h0m3.8-1.2h0m0.3 0.1h0m2.4 1h0m4.8-1.2h0m1.7 1.4h0m0.1-0.3h0m0.5-0.4h0m3.3-0.5h0m1.5 1.4h0m37.7-1.5h0m0.3 0.7h0m0.8-1.5h0m4.4 0.1h0m1.1 2.1h0m0.9-0.8h0m2.6-0.2h0m2.7 1.5h0m0.4-1.4h0m0.1-1.5h0m10.3 0.8h0m2.1 0.1h0m6.3-0.8h0m-93.9 4.5h0m2.9 1.1h0m1.5-0.6h0m0.3-1.5h0m0.5 0.7h0m2.5-0.8h0m3.1-0.4h0m0.1 1.9h0m3.5-0.2h0m3.7 0.8h0m4.2-1.8h0m39.7 1.4h0m2.6-0.4h0m0.2-0.1h0m1.7 1.3h0m1.1 0h0m0-2.2h0m0.2 2h0m1.6 0h0m3 0h0m0.1-1.2h0m-72.3 2.5h0m0.7-0.3h0m0.3 1.8h0m2.3-0.9h0m0.3 1.2h0m1.4 0h0m0.3-0.4h0m0.1-0.7h0m0.2-1.7h0m3.1 1.3h0m2.3-0.3h0m1.7 1.7h0m2.2-0.4h0m2.2-0.6h0m3.5-1.4h0m2.6 0.1h0m0.5 0h0m38.5-0.1h0m3.7 2h0m-62.4 0.9h0m5 1.2h0m2.8 0.4h0m5 0.1h0m3.4 0.3h0m1.7-1h0m2.2 1.3h0m40.6-1.3h0m0.1-1h0m4.4 1.7h0m0.2-0.3h0m4-0.4h0m0.3 0.9h0m0.3-0.8h0m0-0.6h0m-74.5 2.7h0m12.7 0.2h0m1.4 1h0m2.7-0.8h0m1-0.2h0m0.4 2.3h0m2.3-0.4h0m2.5-2.4h0m1.7 0.3h0m40.7 0.3h0m3.3 2.1h0m-67.9 2.3h0m3.7 0.5h0m1.1-2.5h0m1.6 2.1h0m5.8 0h0m0.6 0.5h0m1.4-2.6h0m6 1.6h0m48.5 0.9h0m1.4-2.4h0m1.3 0.5h0m1.4 1.1h0m0.4-0.5h0m-74.5 3.2h0m1.7 0.7h0m4-0.8h0m6.1 0.6h0m0.4 0.1h0m7.9 0.4h0m25.5-0.2h0m1.7-0.9h0m23.4 0.2h0m0 0.6h0m0.3 0.1h0m0.9-2h0m0.7 0h0m-68.3 3.6h0m0.7-0.2h0m6.6-0.3h0m1.6 2.3h0m0.1-2.3h0m0.3 2.1h0m1.4-1.7h0m0 1.7h0m7.9-0.3h0m1.1-2h0m0.2 2.7h0m19.2-0.6h0m0.2-0.9h0m1.8 0.2h0m0 0.6h0m23.7-1.6h0m0.5 0.7h0m3.2 1.3h0m2.8-1.8h0m0.1-0.8h0m-60.4 5.3h0m0.5-1.3h0m5.2 0.1h0m2.6-0.8h0m47 0.8h0m0.1-0.6h0m0.1 1.6h0m0.5 0.1h0m3.7-1.5h0m-53.7 4.3h0m2.9-1.3h0m33.2 2h0m2.7 0.1h0m1.5-0.4h0m2.1 0.4h0m2.4-0.9h0m0.9-0.8h0m0.4-0.8h0m0.8 0.6h0m0.5 1.1h0m0-0.2h0m1.3 0.9h0m0.3-1.4h0m1.3 1.4h0m1-2.6h0m-21.6 5.8h0m2.2-1.5h0m1.8 0.5h0m1-1.7h0m2.6 2h0m0.3-1.3h0m0.1 0.4h0m0.7-0.7h0m0.3 1.2h0m1.9-1.1h0m0.3 1.5h0m1.5 0.1h0m3.2 0.5h0m2.6-1.1h0m0.8-1.2h0m1.8 0.3h0m-23.2 4.7h0m0.2-0.4h0m3.9-1.6h0m1.3-0.4h0m0.3 2.4h0m0.1-1.1h0m0.2 0.3h0m0.5-0.2h0m2.6 1.2h0m0.6-2.6h0m2.4 0.1h0m0.1 0.8h0m0.8 1.4h0m1.4-1h0m0.8 1.4h0m0.1-1h0m0.1 0.8h0m1.1-0.5h0m1.2-1h0m-16.4 4.3h0m0.4-1.7h0m1.1 0.1h0m0.3 1.4h0m2.9-2.2h0m1.6 2.3h0m2.3 0h0m3.1-0.2h0m0.9-0.2h0m2.3-1.4h0m-15.8 4.3h0m2.1-1.7h0m1.1 0.3h0m0.3 2h0m3.6-0.2h0m0.6-1.8h0m1.4 1.9h0m0.5-1.8h0m1.8 0.2h0m-10.1 3.2h0m0.3-0.1h0m2.4-0.9h0" stroke="#f6f6f6" stroke-width="0.8" stroke-linecap="round" stroke-opacity="0.8" fill="none"/>
<path d="M292.9 215.8L287.1 220.6L280.4 226.3L274.6 229.2L272.7 235L271.7 241.7L271.7 249.4L279.4 250.4L285.5 247L293.8 248.5L305.4 249.4L307.3 243.7L306.3 237.9L301.5 230.2L296.7 221.5Z" fill="#bad6ed" fill-opacity="0.9" filter="url(#bl10)"/>
<path d="M284.5 239L288.5 235L293.5 239L293.5 247L285.5 247Z" fill="#dce7f1" fill-opacity="0.9" filter="url(#bl12)"/>
<path d="M293.9 218.6h0m-4.7 0.8h0m0.3 0h0m3 0h0m0.2 1h0m0.7 0.6h0m-10.5 3.3h0m2.4-1.9h0m0.3 1.5h0m1.8 0.3h0m2.3-1.4h0m0.3 0.9h0m0.5-1.3h0m0.9 0h0m1.1-0.3h0m2.8 0.4h0m0.9 0.1h0m-14.4 4.4h0m4.9 0h0m0.3-0.2h0m1.4 0.6h0m0.3-1.5h0m0.7 0.6h0m0.9 0h0m0.6-0.7h0m2.2 0.3h0m2.2 0.8h0m2.4-1.2h0m1.1 1.6h0m0.6 0h0m-24.5 3.6h0m2.1-2.3h0m0.3 0.2h0m0.9 0.7h0m6.2-0.1h0m1.1 1.1h0m0.3-1.7h0m0.3 1.6h0m1.1 0.4h0m2.4-0.6h0m1.8-1.6h0m0.9 1.6h0m1.9-0.5h0m0.3 0.2h0m4.6 0.4h0m1.3 0.5h0m-26.3 2.1h0m0-1.1h0m0.4-0.1h0m0.7 0.8h0m1 0.6h0m0.4 0h0m0.2-0.7h0m1.7 1.5h0m1.3-1.2h0m1 0.3h0m0.2-2h0m2.7 0.7h0m0.5 1h0m0.9-1.6h0m3.6 2.5h0m0.4-0.7h0m0.5 0.1h0m1 0.7h0m3.8-1.2h0m2.2-1.4h0m1.1 2.7h0m1.1-0.5h0m2.6-0.2h0m0.3-0.9h0m-28.3 2.8h0m1.4 1.9h0m0.8-0.2h0m1-0.3h0m2.6-0.9h0m0.3 0.1h0m0.3-1.1h0m0.3-0.4h0m1.8 1.7h0m0.3 0.2h0m0.1 0h0m0.3-1.1h0m1.7-0.5h0m0.6 0.1h0m0.8 1.5h0m0.6-0.7h0m1.9 0.7h0m2.2 0.1h0m1.3-1.6h0m1.1 0.1h0m1.8 1.2h0m0-0.3h0m0.3 0.8h0m0.3-1.7h0m0.9 0.4h0m0 1.9h0m1.8-0.7h0m1-2h0m4.8 1.5h0m-30.8 4.1h0m0.1-1.5h0m1-1h0m0.1 2.4h0m0.5-0.4h0m1.2-0.8h0m0.6 1.3h0m1.8-0.8h0m0.9-1h0m1.7-0.6h0m3.2 1.4h0m3.7-0.2h0m1.5-1.1h0m0 1.5h0m1.3-0.6h0m0.8-0.4h0m1.5 1.9h0m0.3-0.2h0m1.1-2.2h0m1 1h0m0.3 1.2h0m0.7 0h0m1.2-0.9h0m0.7-0.2h0m3.3 1.2h0m0.2-2.6h0m3.1 0.7h0m0.5 1.1h0m-33.3 1.1h0m2 0.3h0m1.1 0.8h0m0.7 1.3h0m0.7 0.3h0m0.1-2.4h0m1.4 2h0m2.5-1.2h0m0.4 1.1h0m2.1-0.1h0m0.6-1.5h0m1-0.4h0m1.1 0.9h0m0.9 0.7h0m0.1 0h0m0.8 0.4h0m0.3 0.2h0m0.4-1.3h0m0 1.1h0m0.7-1.4h0m0.8-0.2h0m2.7-0.7h0m5.1 0.5h0m0.7 1.6h0m4 0.2h0m0.1-1.1h0m0.4-1.1h0m1.2 1.8h0m1.1-1.1h0m0.5 0h0m1.3 0.3h0m-34.4 3.2h0m1.1 0.2h0m1.3 1.3h0m6.5-2.7h0m2.9 1.5h0m0.7-1.5h0m0.1 2.6h0m1.1-1.5h0m2 1.5h0m0.3-0.6h0m0.8-1.6h0m8.9 2h0m0.3-0.8h0m2.2-0.2h0m4.9 0.3h0m0 0.8h0m-31.5 0.6h0m0.7 2.7h0m0-0.4h0m0.8-0.9h0m0.3 0.7h0m0.3-1.5h0m1.8 0.2h0m0.1 1.5h0m1.8-0.9h0m8.2-0.9h0m0.5-0.6h0m2 0.9h0m0.5 0.1h0m1.2 1.1h0m2.5-0.8h0m1.8 0h0m0.5-1.3h0m1.1 2.2h0m4.3-0.2h0m0.4-0.5h0m2.8-1.5h0m0.1 1.3h0m-32.8 1.7h0m4.2 0.4h0m1.7 0.6h0m0.7-0.5h0" stroke="#86b0d8" stroke-width="0.8" stroke-linecap="round" stroke-opacity="0.8" fill="none"/>
<path d="M290.6 217.8h0m2.6-1.5h0m-1.3 4.1h0m0.5-0.9h0m-6.2 2.6h0m-5.4 4.6h0m3.5 1.2h0m2-1.4h0m0.2 0.3h0m0.4-0.1h0m6.6-0.8h0m0.6 0.1h0m-18.8 4.9h0m13.7-1.2h0m10.5 0.7h0m-22.1 2.2h0m4.2-0.5h0m2.9-0.3h0m-10.9 4.7h0m0.8-0.9h0m2.6 0.7h0m13.7-0.6h0m5.3-0.6h0m2.6 1.1h0m2-0.5h0m-27.2 3.6h0m6.9 0.1h0m1.7-1.5h0m0 2h0m6.8-0.5h0m3.1-1.6h0m1.7 0.6h0m7.9 0.8h0m0.7 0.2h0m-28.1 3h0m15.9-0.1h0m0.6 0.6h0m2.4-2.1h0m7-0.5h0m4.1-0.1h0m-13.7 5.6h0m15.9-1.2h0m-31.8 1.7h0m0.2 2.5h0m11.5-1.8h0m2.9 0.3h0m0.5-0.8h0m4.1 1.4h0m3.6-1.8h0m5.5 1.7h0" stroke="#4a68aa" stroke-width="0.8" stroke-linecap="round" stroke-opacity="0.8" fill="none"/>
<path d="M296.8 222.1h0m0.1 1h0m-0.9 3.6h0m0.3-0.2h0m1.5-0.6h0m0.3 1h0m0.5-0.2h0m0 0.4h0m0.8 0.7h0m-0.7 2h0m0.9-1.1h0m0.1 0.3h0m0.2-0.8h0m0.6 0.8h0m0.2 0.4h0m-3.9 2.5h0m2-0.7h0m0.8 0.1h0m0.1 0.2h0m0.7 1.6h0m0.2 0.8h0m1.2-1.3h0m-4.6 2.6h0m0.1 0.1h0m2.5 0h0m1.5 0.8h0m0.7 0.1h0m-0.7 1.7h0m0 0.3h0m0.3 1.7h0m2.5-0.1h0m1.4-0.7h0m-4.5 1.3h0m0.2 2.3h0m1.1-0.3h0m2.2-0.2h0m0.5 0.3h0m-0.7 1.1h0m0.6 2.2h0m-0.8 0.3h0" stroke="#3d5aa0" stroke-width="0.8" stroke-linecap="round" stroke-opacity="0.8" fill="none"/>
<path d="M291.2 218.7h0m-2.1 2.7h0m0.7-0.3h0m0.7 0.6h0m1.9-0.3h0m-0.1 2.7h0m1.5 0.6h0m0.9-0.7h0m-15.2 3.1h0m8.6 0.6h0m4.4-2.4h0m-14.6 4.1h0m0.7 1.6h0m0.1-2.7h0m2 2.6h0m9.3-1.8h0m1.5 0.7h0m0.2 0.8h0m3.7-1.8h0m0.9 0.1h0m1.4 0.2h0m1.9 1.4h0m1.4-1h0m-21.7 2.6h0m4.3 1.6h0m6.3-1.4h0m7.2 0.3h0m1.4 0.3h0m2.9-0.3h0m-28.6 4.1h0m7-1.5h0m3.8 1.8h0m1.6-2.3h0m4.7 2h0m0.6-1.4h0m0.2-0.7h0m2 1.5h0m0.2 0.5h0m3.4-2.6h0m2.4 2.5h0m1.4-0.4h0m1.3-2.1h0m1.7 1.6h0m-27.5 2.5h0m1-0.6h0m1.1-0.5h0m1.2 0.1h0m2 0h0m3.8 0.7h0m2.3 0.9h0m0.1-0.9h0m2.1 0.2h0m1.3-0.4h0m0.3 1.1h0m0.4-0.9h0m3.8 1.8h0m3.7-1h0m1.5-0.9h0m2.8 1.5h0m-30.6 2.9h0m0 0.7h0m2.1 0h0m7.2 0.2h0m5.1-0.6h0m4-2.1h0m0.7 2.5h0m2.5 0h0m0.4-2.2h0m3.8 1.4h0m3.4-0.8h0m3 0.5h0m2.3-0.5h0m-33.2 3.3h0m5.8-1.4h0m10.6 0.1h0m3.1 1.3h0m1.2-1h0m6.4 0.3h0m1.4-0.7h0m2.2 1.4h0m1.5-0.4h0m-33.6 3.9h0m0.8-2h0m10.2 2.2h0m10.8 0h0m0.9 0.2h0m0.5-0.3h0m1.3-1.4h0m1.7 1.9h0m1.5 0.1h0" stroke="#eef4fa" stroke-width="0.8" stroke-linecap="round" stroke-opacity="0.8" fill="none"/>
<ellipse cx="274.5" cy="249" rx="1.8" ry="1.2" transform="rotate(0 274.5 249)" fill="#6d94c8" fill-opacity="0.8" filter="url(#bl06)"/>
<text x="37" y="36.9" font-size="6.4" text-anchor="start" fill="#222" textLength="14.6" lengthAdjust="spacingAndGlyphs">MPN</text>
<text x="203.2" y="37" font-size="6.4" text-anchor="start" fill="#222" textLength="45.6" lengthAdjust="spacingAndGlyphs">post-MPN AML</text>
<text x="39.4" y="191" font-size="6.4" text-anchor="start" fill="#222" textLength="14.4" lengthAdjust="spacingAndGlyphs">MPN</text>
<text x="203" y="191.1" font-size="6.4" text-anchor="start" fill="#222" textLength="46" lengthAdjust="spacingAndGlyphs">post-MPN AML</text>
<defs>
<linearGradient id="gb" x1="0" y1="0" x2="0" y2="1"><stop offset="0" stop-color="#27226e"/><stop offset="0.5" stop-color="#6b70b8"/><stop offset="1" stop-color="#c6d9ef"/></linearGradient>
<linearGradient id="go" x1="0" y1="0" x2="0" y2="1"><stop offset="0" stop-color="#6e3b12"/><stop offset="0.45" stop-color="#d08a28"/><stop offset="0.8" stop-color="#f8a414"/><stop offset="1" stop-color="#fff3e2"/></linearGradient>
<linearGradient id="gr" x1="0" y1="0" x2="0" y2="1"><stop offset="0" stop-color="#8a1a22"/><stop offset="0.5" stop-color="#d05a66"/><stop offset="0.8" stop-color="#f3b8c0"/><stop offset="1" stop-color="#f5efef"/></linearGradient>
<linearGradient id="gp" x1="0" y1="0" x2="0" y2="1"><stop offset="0" stop-color="#f0103c"/><stop offset="0.4" stop-color="#c02070"/><stop offset="0.7" stop-color="#8030a0"/><stop offset="1" stop-color="#4050b0"/></linearGradient>
</defs>
<text x="148.3" y="34.6" font-size="6.6" text-anchor="middle" fill="#333" textLength="22.3" lengthAdjust="spacingAndGlyphs" font-style="italic">BCL2L1</text>
<text x="148.7" y="42.5" font-size="6.6" text-anchor="middle" fill="#333" textLength="38.2" lengthAdjust="spacingAndGlyphs">log2 (counts)</text>
<rect x="144" y="46.3" width="5.8" height="29.9" fill="url(#gb)"/>
<text x="154.8" y="53.9" font-size="6.2" text-anchor="middle" fill="#333">6</text>
<text x="154.8" y="61.8" font-size="6.2" text-anchor="middle" fill="#333">4</text>
<text x="154.8" y="69.7" font-size="6.2" text-anchor="middle" fill="#333">2</text>
<text x="154.8" y="77.7" font-size="6.2" text-anchor="middle" fill="#333">0</text>
<text x="123" y="57.7" font-size="6.6" text-anchor="middle" fill="#333" textLength="12.5" lengthAdjust="spacingAndGlyphs">HSC</text>
<text x="127" y="103.6" font-size="6.6" text-anchor="start" fill="#333" textLength="39" lengthAdjust="spacingAndGlyphs">Erythroid cell</text>
<text x="313.7" y="35.1" font-size="6.6" text-anchor="middle" fill="#333" textLength="19.5" lengthAdjust="spacingAndGlyphs">BCL2L1</text>
<text x="315.7" y="42.9" font-size="6.6" text-anchor="middle" fill="#333" textLength="37.1" lengthAdjust="spacingAndGlyphs">log2 (counts)</text>
<rect x="314" y="46.2" width="5.8" height="30" fill="url(#gb)"/>
<text x="325" y="48.8" font-size="6.2" text-anchor="middle" fill="#333">8</text>
<text x="325" y="56.5" font-size="6.2" text-anchor="middle" fill="#333">6</text>
<text x="325" y="64" font-size="6.2" text-anchor="middle" fill="#333">4</text>
<text x="325" y="70.9" font-size="6.2" text-anchor="middle" fill="#333">2</text>
<text x="325" y="77.9" font-size="6.2" text-anchor="middle" fill="#333">0</text>
<text x="295.3" y="57.9" font-size="6.6" text-anchor="middle" fill="#333" textLength="12.7" lengthAdjust="spacingAndGlyphs">HSC</text>
<text x="294.2" y="103.6" font-size="6.6" text-anchor="start" fill="#333" textLength="39" lengthAdjust="spacingAndGlyphs">Erythroid cell</text>
<text x="142.2" y="187.6" font-size="6.6" text-anchor="middle" fill="#333" textLength="13.7" lengthAdjust="spacingAndGlyphs" font-style="italic">BCL2</text>
<text x="142.9" y="195.5" font-size="6.6" text-anchor="middle" fill="#333" textLength="38.2" lengthAdjust="spacingAndGlyphs">log2 (counts)</text>
<rect x="140.1" y="199.3" width="5.8" height="29.9" fill="url(#gb)"/>
<text x="150.8" y="206.9" font-size="6.2" text-anchor="middle" fill="#333">6</text>
<text x="150.8" y="214.8" font-size="6.2" text-anchor="middle" fill="#333">4</text>
<text x="150.8" y="222" font-size="6.2" text-anchor="middle" fill="#333">2</text>
<text x="150.8" y="229.2" font-size="6.2" text-anchor="middle" fill="#333">0</text>
<text x="128.1" y="213.3" font-size="6.6" text-anchor="middle" fill="#333" textLength="12.8" lengthAdjust="spacingAndGlyphs">HSC</text>
<text x="126" y="263" font-size="6.6" text-anchor="start" fill="#333" textLength="38.6" lengthAdjust="spacingAndGlyphs">Erythroid cell</text>
<text x="312.6" y="189.1" font-size="6.6" text-anchor="middle" fill="#333" textLength="15.6" lengthAdjust="spacingAndGlyphs" font-style="italic">BCL2</text>
<text x="312.5" y="197.1" font-size="6.6" text-anchor="middle" fill="#333" textLength="37.7" lengthAdjust="spacingAndGlyphs">log2 (counts)</text>
<rect x="309.4" y="200.5" width="5.8" height="30" fill="url(#gb)"/>
<text x="319.8" y="208.5" font-size="6.2" text-anchor="middle" fill="#333">6</text>
<text x="319.8" y="216" font-size="6.2" text-anchor="middle" fill="#333">4</text>
<text x="319.8" y="222.9" font-size="6.2" text-anchor="middle" fill="#333">2</text>
<text x="319.8" y="230.4" font-size="6.2" text-anchor="middle" fill="#333">0</text>
<text x="295" y="212.7" font-size="6.6" text-anchor="middle" fill="#333" textLength="12.6" lengthAdjust="spacingAndGlyphs">HSC</text>
<text x="298.5" y="262.9" font-size="6.6" text-anchor="start" fill="#333" textLength="38.5" lengthAdjust="spacingAndGlyphs">Erythroid cell</text>
<path d="M400.2 37.9V133.3H459.5" fill="none" stroke="#111" stroke-width="1.1"/>
<line x1="398.2" y1="129" x2="400.2" y2="129" stroke="#111" stroke-width="0.8"/>
<text x="393.4" y="131.3" font-size="6.4" text-anchor="middle" fill="#333">0</text>
<line x1="398.2" y1="104.6" x2="400.2" y2="104.6" stroke="#111" stroke-width="0.8"/>
<text x="393.4" y="106.9" font-size="6.4" text-anchor="middle" fill="#333">2</text>
<line x1="398.2" y1="80.2" x2="400.2" y2="80.2" stroke="#111" stroke-width="0.8"/>
<text x="393.4" y="82.5" font-size="6.4" text-anchor="middle" fill="#333">4</text>
<line x1="398.2" y1="55.8" x2="400.2" y2="55.8" stroke="#111" stroke-width="0.8"/>
<text x="393.4" y="58.1" font-size="6.4" text-anchor="middle" fill="#333">6</text>
<line x1="418.7" y1="133.3" x2="418.7" y2="135.6" stroke="#111" stroke-width="0.8"/>
<line x1="449.4" y1="133.3" x2="449.4" y2="135.6" stroke="#111" stroke-width="0.8"/>
<line x1="418.7" y1="129" x2="418.7" y2="61.9" stroke="#909090" stroke-width="0.6"/>
<g fill="#fafafa" fill-opacity="0.4" stroke="#a4a4a4" stroke-width="0.4"><circle cx="417.3" cy="127.7" r="0.85"/><circle cx="415.3" cy="115.7" r="0.85"/><circle cx="419.9" cy="126.7" r="0.85"/><circle cx="414.1" cy="113.6" r="0.85"/><circle cx="418.7" cy="114.1" r="0.85"/><circle cx="418.9" cy="121.4" r="0.85"/><circle cx="422.9" cy="108.3" r="0.85"/><circle cx="420.6" cy="126.3" r="0.85"/><circle cx="427.4" cy="126.3" r="0.85"/><circle cx="421.1" cy="94.5" r="0.85"/><circle cx="418.2" cy="79" r="0.85"/><circle cx="418.2" cy="123.2" r="0.85"/><circle cx="423.5" cy="114.6" r="0.85"/><circle cx="423" cy="121.5" r="0.85"/><circle cx="419.3" cy="127.9" r="0.85"/><circle cx="417.5" cy="72.1" r="0.85"/><circle cx="416.4" cy="117.2" r="0.85"/><circle cx="417.9" cy="115.4" r="0.85"/><circle cx="423.8" cy="127.3" r="0.85"/><circle cx="419.9" cy="126.2" r="0.85"/><circle cx="420.5" cy="90.1" r="0.85"/><circle cx="425.3" cy="76.6" r="0.85"/><circle cx="419" cy="92.9" r="0.85"/><circle cx="415.3" cy="95.4" r="0.85"/><circle cx="413.9" cy="128.3" r="0.85"/><circle cx="419.4" cy="127" r="0.85"/><circle cx="420.7" cy="72.7" r="0.85"/><circle cx="417" cy="121.7" r="0.85"/><circle cx="412.3" cy="117.3" r="0.85"/><circle cx="424.2" cy="120.7" r="0.85"/><circle cx="422.1" cy="129" r="0.85"/><circle cx="421" cy="63" r="0.85"/><circle cx="415.4" cy="114.7" r="0.85"/><circle cx="418.9" cy="93.6" r="0.85"/><circle cx="416.1" cy="126.6" r="0.85"/><circle cx="416.6" cy="105.3" r="0.85"/><circle cx="419.9" cy="127.4" r="0.85"/><circle cx="420.8" cy="72.2" r="0.85"/><circle cx="416.9" cy="122.5" r="0.85"/><circle cx="417.4" cy="128.5" r="0.85"/><circle cx="420.5" cy="128.8" r="0.85"/><circle cx="414.6" cy="121.3" r="0.85"/><circle cx="416.2" cy="100" r="0.85"/><circle cx="413.7" cy="67.9" r="0.85"/><circle cx="425.3" cy="119.7" r="0.85"/><circle cx="418.2" cy="107.9" r="0.85"/><circle cx="416.2" cy="77.9" r="0.85"/><circle cx="418.8" cy="125.9" r="0.85"/><circle cx="419.2" cy="78.8" r="0.85"/><circle cx="419.5" cy="87.3" r="0.85"/><circle cx="413.8" cy="90.8" r="0.85"/><circle cx="419.2" cy="128.9" r="0.85"/><circle cx="418" cy="125.6" r="0.85"/><circle cx="421.3" cy="127.6" r="0.85"/><circle cx="415.8" cy="128.8" r="0.85"/><circle cx="423.4" cy="64.3" r="0.85"/><circle cx="416.7" cy="93.8" r="0.85"/><circle cx="419" cy="67.8" r="0.85"/><circle cx="418.6" cy="112.7" r="0.85"/><circle cx="418.1" cy="126.8" r="0.85"/><circle cx="420.2" cy="83.5" r="0.85"/><circle cx="413.5" cy="107.1" r="0.85"/><circle cx="414.3" cy="118.7" r="0.85"/><circle cx="416.2" cy="124" r="0.85"/><circle cx="418" cy="112.1" r="0.85"/><circle cx="423.1" cy="129" r="0.85"/><circle cx="419.2" cy="99.8" r="0.85"/><circle cx="418.5" cy="107.7" r="0.85"/><circle cx="420.8" cy="103.5" r="0.85"/><circle cx="415.9" cy="125.6" r="0.85"/><circle cx="424.2" cy="119.8" r="0.85"/><circle cx="417.3" cy="128.2" r="0.85"/><circle cx="419.2" cy="128.6" r="0.85"/><circle cx="419" cy="117.6" r="0.85"/><circle cx="421.3" cy="128.1" r="0.85"/><circle cx="415.9" cy="128.3" r="0.85"/><circle cx="417.3" cy="111.8" r="0.85"/><circle cx="421.4" cy="126.6" r="0.85"/><circle cx="419.7" cy="127.7" r="0.85"/><circle cx="421" cy="97.4" r="0.85"/><circle cx="422.6" cy="111" r="0.85"/><circle cx="419.9" cy="79.1" r="0.85"/><circle cx="418.8" cy="90.8" r="0.85"/><circle cx="418.4" cy="116.6" r="0.85"/><circle cx="418.8" cy="128.8" r="0.85"/><circle cx="417.1" cy="97.3" r="0.85"/><circle cx="418" cy="125.7" r="0.85"/><circle cx="416.6" cy="128.9" r="0.85"/><circle cx="416.7" cy="120.6" r="0.85"/><circle cx="423.9" cy="124.4" r="0.85"/><circle cx="412.7" cy="114.2" r="0.85"/><circle cx="416.8" cy="128.6" r="0.85"/><circle cx="414.5" cy="107.1" r="0.85"/><circle cx="418.5" cy="66.7" r="0.85"/><circle cx="417.7" cy="123.9" r="0.85"/><circle cx="415.7" cy="110.2" r="0.85"/><circle cx="421.5" cy="128.8" r="0.85"/><circle cx="412.1" cy="122.1" r="0.85"/><circle cx="419.9" cy="123.6" r="0.85"/><circle cx="418.6" cy="128.8" r="0.85"/><circle cx="420.4" cy="128.8" r="0.85"/><circle cx="414.7" cy="117.5" r="0.85"/><circle cx="422.4" cy="105.4" r="0.85"/><circle cx="419.2" cy="117.8" r="0.85"/><circle cx="416.7" cy="113.3" r="0.85"/><circle cx="420.4" cy="126.5" r="0.85"/><circle cx="416.9" cy="128.9" r="0.85"/><circle cx="419.5" cy="98" r="0.85"/><circle cx="418.2" cy="86" r="0.85"/><circle cx="415.9" cy="126.2" r="0.85"/><circle cx="415" cy="120.8" r="0.85"/><circle cx="419" cy="67.2" r="0.85"/><circle cx="415.7" cy="128.7" r="0.85"/><circle cx="419.1" cy="96.7" r="0.85"/><circle cx="419.4" cy="77" r="0.85"/><circle cx="415.1" cy="92.5" r="0.85"/><circle cx="421.2" cy="101.4" r="0.85"/><circle cx="415.6" cy="100" r="0.85"/><circle cx="420.9" cy="126" r="0.85"/><circle cx="417.4" cy="106" r="0.85"/><circle cx="426.3" cy="85.1" r="0.85"/><circle cx="416.9" cy="129" r="0.85"/><circle cx="417.7" cy="123.8" r="0.85"/><circle cx="421.1" cy="128" r="0.85"/><circle cx="420.6" cy="110.8" r="0.85"/><circle cx="419.8" cy="70" r="0.85"/><circle cx="417.5" cy="94.2" r="0.85"/><circle cx="419" cy="68.2" r="0.85"/><circle cx="419.3" cy="98" r="0.85"/><circle cx="421" cy="103.7" r="0.85"/><circle cx="418.3" cy="100.1" r="0.85"/><circle cx="425.1" cy="123.4" r="0.85"/><circle cx="419.5" cy="125.7" r="0.85"/><circle cx="417.5" cy="100.2" r="0.85"/><circle cx="417" cy="127.1" r="0.85"/><circle cx="417.5" cy="121.1" r="0.85"/><circle cx="416" cy="70.3" r="0.85"/><circle cx="419.3" cy="105.8" r="0.85"/><circle cx="419.9" cy="124.9" r="0.85"/><circle cx="421" cy="125.2" r="0.85"/><circle cx="419.4" cy="127.3" r="0.85"/><circle cx="418.5" cy="86.7" r="0.85"/><circle cx="418.6" cy="71.2" r="0.85"/><circle cx="418.2" cy="114.3" r="0.85"/><circle cx="415.6" cy="128.9" r="0.85"/><circle cx="416.2" cy="126.1" r="0.85"/><circle cx="417.6" cy="129" r="0.85"/><circle cx="418.4" cy="123.9" r="0.85"/><circle cx="420.7" cy="117.2" r="0.85"/><circle cx="417.2" cy="128.2" r="0.85"/></g>
<line x1="449.4" y1="129" x2="449.4" y2="44.8" stroke="#909090" stroke-width="0.6"/>
<g fill="#fafafa" fill-opacity="0.4" stroke="#a4a4a4" stroke-width="0.4"><circle cx="450.8" cy="75" r="0.85"/><circle cx="446.5" cy="128.7" r="0.85"/><circle cx="446.7" cy="125.5" r="0.85"/><circle cx="451.3" cy="124" r="0.85"/><circle cx="452.7" cy="73.6" r="0.85"/><circle cx="444.5" cy="62.5" r="0.85"/><circle cx="448.5" cy="129" r="0.85"/><circle cx="448.9" cy="60.1" r="0.85"/><circle cx="449.5" cy="80.6" r="0.85"/><circle cx="447.7" cy="128.6" r="0.85"/><circle cx="446.6" cy="71.9" r="0.85"/><circle cx="447.2" cy="108.9" r="0.85"/><circle cx="448.3" cy="73.9" r="0.85"/><circle cx="451.2" cy="117.4" r="0.85"/><circle cx="445.6" cy="120.6" r="0.85"/><circle cx="445.5" cy="128.4" r="0.85"/><circle cx="445.5" cy="128.5" r="0.85"/><circle cx="449.1" cy="125.4" r="0.85"/><circle cx="450.1" cy="122" r="0.85"/><circle cx="449.7" cy="106.9" r="0.85"/><circle cx="448.5" cy="88.5" r="0.85"/><circle cx="448.1" cy="127.9" r="0.85"/><circle cx="446.8" cy="55.5" r="0.85"/><circle cx="448.8" cy="87.3" r="0.85"/><circle cx="448.4" cy="83" r="0.85"/><circle cx="449.2" cy="70.3" r="0.85"/><circle cx="451.7" cy="124.5" r="0.85"/><circle cx="450" cy="103.6" r="0.85"/><circle cx="451.3" cy="94.2" r="0.85"/><circle cx="453" cy="107" r="0.85"/><circle cx="452.2" cy="126.3" r="0.85"/><circle cx="445.6" cy="59.2" r="0.85"/><circle cx="450.3" cy="88.6" r="0.85"/><circle cx="453.8" cy="59.7" r="0.85"/><circle cx="455.2" cy="103.5" r="0.85"/><circle cx="445.7" cy="114.9" r="0.85"/><circle cx="453.7" cy="53.9" r="0.85"/><circle cx="447.6" cy="129" r="0.85"/><circle cx="446.7" cy="117.4" r="0.85"/><circle cx="447.1" cy="79.6" r="0.85"/><circle cx="452.6" cy="92.2" r="0.85"/><circle cx="454.5" cy="103.2" r="0.85"/><circle cx="451.9" cy="62.7" r="0.85"/><circle cx="458.3" cy="101.5" r="0.85"/><circle cx="449.1" cy="77.1" r="0.85"/><circle cx="444" cy="116.8" r="0.85"/><circle cx="448" cy="128.3" r="0.85"/><circle cx="450.3" cy="102.9" r="0.85"/><circle cx="448.5" cy="71.9" r="0.85"/><circle cx="450.4" cy="128.9" r="0.85"/><circle cx="448.9" cy="112.6" r="0.85"/><circle cx="449.1" cy="90.2" r="0.85"/><circle cx="454.1" cy="124.6" r="0.85"/><circle cx="453.1" cy="104.4" r="0.85"/><circle cx="448.1" cy="60.8" r="0.85"/><circle cx="449.3" cy="123.4" r="0.85"/><circle cx="446.6" cy="112.5" r="0.85"/><circle cx="445.9" cy="80.1" r="0.85"/><circle cx="449.3" cy="91.8" r="0.85"/><circle cx="452.2" cy="115.7" r="0.85"/><circle cx="449.1" cy="107.3" r="0.85"/><circle cx="452.6" cy="109.8" r="0.85"/><circle cx="450.9" cy="128.9" r="0.85"/><circle cx="446.3" cy="73.5" r="0.85"/><circle cx="448.4" cy="81.9" r="0.85"/><circle cx="441.2" cy="115.8" r="0.85"/><circle cx="453.2" cy="114.7" r="0.85"/><circle cx="449.5" cy="99" r="0.85"/><circle cx="451.1" cy="99.4" r="0.85"/><circle cx="449.4" cy="124" r="0.85"/><circle cx="450.5" cy="82.2" r="0.85"/><circle cx="446.6" cy="128.7" r="0.85"/><circle cx="450.8" cy="116.2" r="0.85"/><circle cx="446.7" cy="109.6" r="0.85"/><circle cx="447" cy="115" r="0.85"/><circle cx="446.9" cy="87.1" r="0.85"/><circle cx="449.4" cy="65.1" r="0.85"/><circle cx="446.9" cy="122.9" r="0.85"/><circle cx="451" cy="76.3" r="0.85"/><circle cx="443.6" cy="125.1" r="0.85"/><circle cx="450.2" cy="67.5" r="0.85"/><circle cx="448.7" cy="120" r="0.85"/><circle cx="452.4" cy="93.6" r="0.85"/><circle cx="453.3" cy="122.3" r="0.85"/><circle cx="448.9" cy="88.3" r="0.85"/><circle cx="451.1" cy="124.8" r="0.85"/><circle cx="449" cy="106.7" r="0.85"/><circle cx="447.6" cy="87.8" r="0.85"/><circle cx="447.9" cy="118.5" r="0.85"/><circle cx="447.4" cy="125.3" r="0.85"/><circle cx="453.2" cy="127" r="0.85"/><circle cx="450.8" cy="113.3" r="0.85"/><circle cx="452.2" cy="127.4" r="0.85"/><circle cx="446.8" cy="128.9" r="0.85"/><circle cx="447.1" cy="83.3" r="0.85"/><circle cx="447.8" cy="106.4" r="0.85"/><circle cx="446.8" cy="50.8" r="0.85"/><circle cx="452" cy="93.4" r="0.85"/><circle cx="446.9" cy="116.5" r="0.85"/><circle cx="453" cy="93.4" r="0.85"/><circle cx="447.6" cy="110" r="0.85"/><circle cx="449.2" cy="75.3" r="0.85"/><circle cx="447.6" cy="129" r="0.85"/><circle cx="447.2" cy="124.2" r="0.85"/><circle cx="448.4" cy="98.4" r="0.85"/><circle cx="448.8" cy="107.3" r="0.85"/><circle cx="450.1" cy="126.3" r="0.85"/><circle cx="447.2" cy="118.9" r="0.85"/><circle cx="451" cy="124.4" r="0.85"/><circle cx="449.9" cy="126.7" r="0.85"/><circle cx="450.5" cy="94.6" r="0.85"/><circle cx="447.9" cy="127.7" r="0.85"/><circle cx="451.4" cy="103.4" r="0.85"/><circle cx="451.2" cy="78.9" r="0.85"/><circle cx="448.4" cy="124.9" r="0.85"/><circle cx="446.3" cy="128.2" r="0.85"/><circle cx="448.5" cy="123.3" r="0.85"/><circle cx="448.7" cy="124.9" r="0.85"/><circle cx="450.7" cy="99.4" r="0.85"/><circle cx="446.5" cy="90.4" r="0.85"/><circle cx="448.7" cy="129" r="0.85"/><circle cx="451.6" cy="58.1" r="0.85"/><circle cx="449.5" cy="117.1" r="0.85"/><circle cx="448.7" cy="106.6" r="0.85"/><circle cx="449.9" cy="61.3" r="0.85"/><circle cx="446" cy="125.7" r="0.85"/><circle cx="455.3" cy="56.2" r="0.85"/><circle cx="452.6" cy="77" r="0.85"/><circle cx="447.9" cy="83.9" r="0.85"/><circle cx="449.1" cy="118.1" r="0.85"/><circle cx="448" cy="90.3" r="0.85"/><circle cx="447.3" cy="73.8" r="0.85"/><circle cx="449.1" cy="128.7" r="0.85"/><circle cx="450.5" cy="119.1" r="0.85"/><circle cx="449.4" cy="74.8" r="0.85"/><circle cx="447.9" cy="120" r="0.85"/><circle cx="447.9" cy="127.7" r="0.85"/><circle cx="447" cy="123.8" r="0.85"/><circle cx="451.2" cy="116" r="0.85"/><circle cx="447.4" cy="87.3" r="0.85"/><circle cx="446.1" cy="94.3" r="0.85"/><circle cx="449.9" cy="116.7" r="0.85"/><circle cx="447.2" cy="125.1" r="0.85"/><circle cx="449.5" cy="118.8" r="0.85"/><circle cx="451.7" cy="125.5" r="0.85"/><circle cx="448" cy="125" r="0.85"/><circle cx="450.6" cy="128.9" r="0.85"/><circle cx="454.5" cy="118.3" r="0.85"/><circle cx="449.9" cy="90" r="0.85"/><circle cx="453.1" cy="110.5" r="0.85"/><circle cx="446.9" cy="81.9" r="0.85"/><circle cx="449" cy="121.5" r="0.85"/><circle cx="451.4" cy="97.7" r="0.85"/><circle cx="445.9" cy="108.1" r="0.85"/><circle cx="453.3" cy="118.8" r="0.85"/><circle cx="446.2" cy="126.8" r="0.85"/><circle cx="449.9" cy="88.6" r="0.85"/><circle cx="445.5" cy="50.4" r="0.85"/><circle cx="449.6" cy="63.1" r="0.85"/><circle cx="458.2" cy="118.9" r="0.85"/><circle cx="451" cy="115.6" r="0.85"/><circle cx="449.2" cy="114.6" r="0.85"/><circle cx="449.1" cy="94.4" r="0.85"/><circle cx="451.4" cy="74.7" r="0.85"/><circle cx="449.2" cy="95.8" r="0.85"/><circle cx="444.8" cy="64.1" r="0.85"/><circle cx="452.6" cy="61" r="0.85"/><circle cx="442.9" cy="106.5" r="0.85"/><circle cx="442.6" cy="86.1" r="0.85"/><circle cx="448.8" cy="91.3" r="0.85"/><circle cx="448.3" cy="112" r="0.85"/><circle cx="447.5" cy="127.3" r="0.85"/><circle cx="449.6" cy="115.2" r="0.85"/><circle cx="449.6" cy="128.1" r="0.85"/><circle cx="449.5" cy="110.2" r="0.85"/><circle cx="448.6" cy="93.3" r="0.85"/><circle cx="447.2" cy="127.7" r="0.85"/><circle cx="449.3" cy="110.9" r="0.85"/><circle cx="447.2" cy="84.9" r="0.85"/><circle cx="450.7" cy="82.9" r="0.85"/><circle cx="447" cy="127.6" r="0.85"/><circle cx="452.7" cy="69.2" r="0.85"/><circle cx="449.2" cy="48.1" r="0.85"/><circle cx="453" cy="119.8" r="0.85"/><circle cx="450.2" cy="86" r="0.85"/><circle cx="448.2" cy="117.9" r="0.85"/><circle cx="447.2" cy="54.7" r="0.85"/><circle cx="452.3" cy="71.5" r="0.85"/><circle cx="449.4" cy="121.6" r="0.85"/><circle cx="449.2" cy="118.1" r="0.85"/><circle cx="448.4" cy="126.2" r="0.85"/><circle cx="450.9" cy="128.9" r="0.85"/><circle cx="451" cy="73.5" r="0.85"/><circle cx="452.4" cy="101.6" r="0.85"/><circle cx="451.5" cy="67.3" r="0.85"/><circle cx="446.4" cy="126.1" r="0.85"/><circle cx="454.3" cy="78.9" r="0.85"/><circle cx="452.8" cy="120" r="0.85"/><circle cx="449.9" cy="122.8" r="0.85"/><circle cx="452" cy="75" r="0.85"/><circle cx="449.3" cy="66.5" r="0.85"/><circle cx="445.2" cy="123.2" r="0.85"/><circle cx="448.5" cy="119.3" r="0.85"/><circle cx="452" cy="63.8" r="0.85"/><circle cx="455.2" cy="45.5" r="0.85"/><circle cx="452.8" cy="57.4" r="0.85"/><circle cx="447.8" cy="109.7" r="0.85"/><circle cx="445.1" cy="125.5" r="0.85"/><circle cx="454.7" cy="95.5" r="0.85"/><circle cx="448.8" cy="58.4" r="0.85"/><circle cx="448.7" cy="128.2" r="0.85"/><circle cx="446.5" cy="58.7" r="0.85"/><circle cx="448.1" cy="126.2" r="0.85"/><circle cx="449" cy="73.3" r="0.85"/><circle cx="451.6" cy="83.6" r="0.85"/><circle cx="449.8" cy="126.9" r="0.85"/><circle cx="448.8" cy="93.4" r="0.85"/><circle cx="448.7" cy="52.5" r="0.85"/><circle cx="446.2" cy="50.3" r="0.85"/><circle cx="450.6" cy="116.7" r="0.85"/><circle cx="447.1" cy="96.5" r="0.85"/><circle cx="451.1" cy="80.3" r="0.85"/><circle cx="448.1" cy="125.5" r="0.85"/><circle cx="453.6" cy="124.1" r="0.85"/><circle cx="450.7" cy="128.5" r="0.85"/><circle cx="448.6" cy="113.5" r="0.85"/><circle cx="449.2" cy="119.7" r="0.85"/><circle cx="451.8" cy="103.1" r="0.85"/><circle cx="448.6" cy="127.6" r="0.85"/><circle cx="449.2" cy="128.3" r="0.85"/><circle cx="449.5" cy="125" r="0.85"/><circle cx="451.8" cy="120.9" r="0.85"/><circle cx="447.8" cy="69" r="0.85"/><circle cx="446.9" cy="77.6" r="0.85"/><circle cx="448" cy="87.9" r="0.85"/><circle cx="452.7" cy="80.8" r="0.85"/><circle cx="449.5" cy="103.4" r="0.85"/><circle cx="445.7" cy="56" r="0.85"/><circle cx="446" cy="122.3" r="0.85"/><circle cx="443.1" cy="104" r="0.85"/><circle cx="452.9" cy="59.3" r="0.85"/><circle cx="451.7" cy="122.2" r="0.85"/><circle cx="446.5" cy="80.2" r="0.85"/><circle cx="450.9" cy="123" r="0.85"/><circle cx="451.9" cy="122.6" r="0.85"/><circle cx="446.6" cy="94.1" r="0.85"/><circle cx="447.6" cy="127.6" r="0.85"/><circle cx="456" cy="124.9" r="0.85"/><circle cx="448.4" cy="103.1" r="0.85"/><circle cx="446.5" cy="101.6" r="0.85"/><circle cx="449.8" cy="49.5" r="0.85"/><circle cx="447.5" cy="112" r="0.85"/><circle cx="447.8" cy="112.8" r="0.85"/><circle cx="445.8" cy="122.4" r="0.85"/><circle cx="449" cy="87.1" r="0.85"/><circle cx="449.6" cy="120.9" r="0.85"/><circle cx="450.7" cy="115.8" r="0.85"/><circle cx="453.1" cy="46" r="0.85"/><circle cx="445.9" cy="55.4" r="0.85"/><circle cx="445.7" cy="107.2" r="0.85"/><circle cx="450.1" cy="98.4" r="0.85"/><circle cx="448.8" cy="116.8" r="0.85"/><circle cx="447.9" cy="116" r="0.85"/><circle cx="451.7" cy="128.6" r="0.85"/><circle cx="451.2" cy="88.7" r="0.85"/><circle cx="448.9" cy="125.6" r="0.85"/><circle cx="449.9" cy="118.5" r="0.85"/><circle cx="447.6" cy="77.7" r="0.85"/><circle cx="446" cy="126" r="0.85"/><circle cx="447.1" cy="89.2" r="0.85"/><circle cx="454.3" cy="128.2" r="0.85"/><circle cx="448" cy="108" r="0.85"/><circle cx="448.1" cy="65.9" r="0.85"/><circle cx="448.5" cy="114.5" r="0.85"/><circle cx="448.7" cy="71.2" r="0.85"/><circle cx="449.6" cy="126.2" r="0.85"/><circle cx="446.2" cy="125.5" r="0.85"/><circle cx="447.5" cy="110.7" r="0.85"/><circle cx="451.7" cy="114" r="0.85"/><circle cx="448.8" cy="89.4" r="0.85"/><circle cx="447.8" cy="124.9" r="0.85"/><circle cx="449.3" cy="127.7" r="0.85"/><circle cx="451.3" cy="118.4" r="0.85"/><circle cx="451.1" cy="91.6" r="0.85"/><circle cx="450.2" cy="102" r="0.85"/><circle cx="446.6" cy="128.2" r="0.85"/><circle cx="445.9" cy="83" r="0.85"/><circle cx="451.9" cy="48.7" r="0.85"/><circle cx="449.4" cy="104.3" r="0.85"/><circle cx="451.8" cy="106.6" r="0.85"/><circle cx="451.5" cy="119.4" r="0.85"/><circle cx="451" cy="91.2" r="0.85"/><circle cx="449.8" cy="71.8" r="0.85"/><circle cx="444" cy="73.7" r="0.85"/><circle cx="448.9" cy="113.4" r="0.85"/><circle cx="448.7" cy="74.7" r="0.85"/><circle cx="449.1" cy="85.3" r="0.85"/><circle cx="452.3" cy="121.9" r="0.85"/><circle cx="445.3" cy="74.5" r="0.85"/><circle cx="451.4" cy="56.6" r="0.85"/><circle cx="447.7" cy="76.8" r="0.85"/><circle cx="451" cy="53.3" r="0.85"/><circle cx="450.3" cy="59.4" r="0.85"/><circle cx="451.7" cy="75.5" r="0.85"/><circle cx="448.8" cy="79.5" r="0.85"/><circle cx="452.2" cy="50.8" r="0.85"/><circle cx="448.8" cy="128.1" r="0.85"/><circle cx="453.2" cy="59" r="0.85"/><circle cx="444.9" cy="53.1" r="0.85"/><circle cx="450.3" cy="49.2" r="0.85"/><circle cx="449.7" cy="118.8" r="0.85"/><circle cx="451.4" cy="76.2" r="0.85"/><circle cx="443.7" cy="127" r="0.85"/><circle cx="447.7" cy="125" r="0.85"/><circle cx="442.7" cy="94.1" r="0.85"/><circle cx="448.1" cy="105.3" r="0.85"/><circle cx="453" cy="107.2" r="0.85"/><circle cx="446.9" cy="126.8" r="0.85"/><circle cx="443.9" cy="73.4" r="0.85"/><circle cx="453.5" cy="50.6" r="0.85"/><circle cx="447.8" cy="107" r="0.85"/><circle cx="450.3" cy="121.7" r="0.85"/><circle cx="451.5" cy="124.8" r="0.85"/><circle cx="453.1" cy="128.7" r="0.85"/><circle cx="445.9" cy="97.2" r="0.85"/><circle cx="447" cy="100.3" r="0.85"/><circle cx="449.2" cy="56.1" r="0.85"/><circle cx="450.5" cy="98.8" r="0.85"/><circle cx="455.3" cy="122" r="0.85"/><circle cx="449" cy="87.7" r="0.85"/><circle cx="449.5" cy="69.4" r="0.85"/><circle cx="452.4" cy="115.4" r="0.85"/><circle cx="447.3" cy="117.8" r="0.85"/><circle cx="451.5" cy="91.4" r="0.85"/><circle cx="448.1" cy="128.9" r="0.85"/><circle cx="449.1" cy="49.8" r="0.85"/><circle cx="447.5" cy="101.8" r="0.85"/><circle cx="448.2" cy="85.6" r="0.85"/><circle cx="452.3" cy="85.1" r="0.85"/><circle cx="447.6" cy="122" r="0.85"/><circle cx="453.5" cy="94.2" r="0.85"/><circle cx="450.7" cy="120.1" r="0.85"/><circle cx="451.8" cy="84" r="0.85"/><circle cx="452" cy="126.1" r="0.85"/><circle cx="449" cy="128.8" r="0.85"/><circle cx="454.4" cy="115" r="0.85"/><circle cx="451.2" cy="104.4" r="0.85"/><circle cx="442.4" cy="122.5" r="0.85"/><circle cx="450.3" cy="86.9" r="0.85"/><circle cx="444.9" cy="117.7" r="0.85"/><circle cx="449.8" cy="108.6" r="0.85"/><circle cx="447.5" cy="107.7" r="0.85"/><circle cx="450.6" cy="93.6" r="0.85"/><circle cx="447.8" cy="90.2" r="0.85"/><circle cx="451" cy="124.4" r="0.85"/><circle cx="451.9" cy="92.1" r="0.85"/><circle cx="450.9" cy="92.9" r="0.85"/><circle cx="448.9" cy="103.8" r="0.85"/><circle cx="449.1" cy="108.1" r="0.85"/><circle cx="455.2" cy="126.9" r="0.85"/><circle cx="453" cy="122.5" r="0.85"/><circle cx="450.3" cy="91" r="0.85"/><circle cx="452.7" cy="124.1" r="0.85"/><circle cx="447.7" cy="125" r="0.85"/><circle cx="450.8" cy="53.9" r="0.85"/><circle cx="447.6" cy="65.1" r="0.85"/><circle cx="447.8" cy="127.2" r="0.85"/><circle cx="451.6" cy="51.9" r="0.85"/><circle cx="448.1" cy="120.5" r="0.85"/><circle cx="450.6" cy="71.3" r="0.85"/><circle cx="450.8" cy="125.6" r="0.85"/><circle cx="447.5" cy="102" r="0.85"/><circle cx="449.1" cy="63.5" r="0.85"/><circle cx="452.6" cy="93.4" r="0.85"/><circle cx="446.3" cy="99.3" r="0.85"/><circle cx="451.5" cy="119.6" r="0.85"/><circle cx="452.9" cy="126.6" r="0.85"/><circle cx="449.6" cy="99.7" r="0.85"/><circle cx="451.5" cy="74" r="0.85"/><circle cx="452.6" cy="110.3" r="0.85"/><circle cx="450.9" cy="104.3" r="0.85"/><circle cx="446.7" cy="111.6" r="0.85"/><circle cx="452.6" cy="92.3" r="0.85"/><circle cx="453.6" cy="104.9" r="0.85"/><circle cx="443.2" cy="128.8" r="0.85"/><circle cx="450.1" cy="48.2" r="0.85"/><circle cx="448.8" cy="112.3" r="0.85"/><circle cx="455.5" cy="121.3" r="0.85"/><circle cx="449.5" cy="129" r="0.85"/><circle cx="452.3" cy="89.3" r="0.85"/><circle cx="447.3" cy="128.5" r="0.85"/><circle cx="453" cy="117.9" r="0.85"/><circle cx="448.7" cy="125.9" r="0.85"/><circle cx="446.7" cy="86.8" r="0.85"/><circle cx="450.6" cy="107.8" r="0.85"/><circle cx="446.5" cy="48.8" r="0.85"/><circle cx="448.9" cy="72.2" r="0.85"/><circle cx="446.4" cy="96.1" r="0.85"/><circle cx="454.2" cy="115.8" r="0.85"/><circle cx="451.9" cy="72.9" r="0.85"/></g>
<path d="M404.7 129.6Q413.7 128.4 417.7 127.6L418.7 126.6L419.7 127.6Q423.7 128.4 432.7 129.6Q418.7 130.6 404.7 129.6Z" fill="#3f7352" fill-opacity="0.9"/>
<path d="M435.4 129.6Q444.4 128.4 448.4 127.6L449.4 126.6L450.4 127.6Q454.4 128.4 463.4 129.6Q449.4 130.6 435.4 129.6Z" fill="#bf3542" fill-opacity="0.9"/>
<rect x="418.3" y="43.7" width="31.4" height="1.8" fill="#555"/>
<text x="434.3" y="40.6" font-size="6.6" text-anchor="middle" fill="#333" textLength="24.2" lengthAdjust="spacingAndGlyphs"><tspan font-style="italic">P</tspan> = .052</text>
<text x="422.5" y="27" font-size="7" text-anchor="middle" fill="#333" textLength="14.5" lengthAdjust="spacingAndGlyphs" transform="rotate(-45 422.5 24.5)">MPN</text>
<text x="457.5" y="22.3" font-size="7" text-anchor="middle" fill="#333" textLength="28.5" lengthAdjust="spacingAndGlyphs" transform="rotate(-45 457.5 19.8)">post-MPN</text>
<text x="458.5" y="32" font-size="7" text-anchor="middle" fill="#333" textLength="13" lengthAdjust="spacingAndGlyphs" transform="rotate(-45 458.5 29.5)">AML</text>
<text x="384.6" y="86.25" font-size="8.8" text-anchor="middle" fill="#333" textLength="100.9" lengthAdjust="spacingAndGlyphs" transform="rotate(-90 384.6 86.25)" dy="2.7">Log2(normalized counts) <tspan font-style="italic">BCL2L1</tspan></text>
<text x="404" y="145.7" font-size="6.6" text-anchor="end" fill="#333" textLength="51" lengthAdjust="spacingAndGlyphs">Mean expression:</text>
<text x="404" y="157.5" font-size="6.6" text-anchor="end" fill="#333" textLength="59.2" lengthAdjust="spacingAndGlyphs">Expressing cells (%):</text>
<text x="418.7" y="145.7" font-size="6.6" text-anchor="middle" fill="#333" textLength="15" lengthAdjust="spacingAndGlyphs">0.081</text>
<text x="449.4" y="145.7" font-size="6.6" text-anchor="middle" fill="#333" textLength="15" lengthAdjust="spacingAndGlyphs">0.124</text>
<text x="418.7" y="157.5" font-size="6.6" text-anchor="middle" fill="#333" textLength="16.5" lengthAdjust="spacingAndGlyphs">5.22%</text>
<text x="449.8" y="157.5" font-size="6.6" text-anchor="middle" fill="#333" textLength="16.5" lengthAdjust="spacingAndGlyphs">6.04%</text>
<path d="M400.2 191.9V287.8H459.5" fill="none" stroke="#111" stroke-width="1.1"/>
<line x1="398.2" y1="283.5" x2="400.2" y2="283.5" stroke="#111" stroke-width="0.8"/>
<text x="393.4" y="285.8" font-size="6.4" text-anchor="middle" fill="#333">0</text>
<line x1="398.2" y1="262" x2="400.2" y2="262" stroke="#111" stroke-width="0.8"/>
<text x="393.4" y="264.3" font-size="6.4" text-anchor="middle" fill="#333">2</text>
<line x1="398.2" y1="240.5" x2="400.2" y2="240.5" stroke="#111" stroke-width="0.8"/>
<text x="393.4" y="242.8" font-size="6.4" text-anchor="middle" fill="#333">4</text>
<line x1="398.2" y1="219" x2="400.2" y2="219" stroke="#111" stroke-width="0.8"/>
<text x="393.4" y="221.3" font-size="6.4" text-anchor="middle" fill="#333">6</text>
<line x1="398.2" y1="197.5" x2="400.2" y2="197.5" stroke="#111" stroke-width="0.8"/>
<text x="393.4" y="199.8" font-size="6.4" text-anchor="middle" fill="#333">8</text>
<line x1="418.7" y1="287.8" x2="418.7" y2="290.1" stroke="#111" stroke-width="0.8"/>
<line x1="449.4" y1="287.8" x2="449.4" y2="290.1" stroke="#111" stroke-width="0.8"/>
<line x1="418.7" y1="283.5" x2="418.7" y2="208.2" stroke="#909090" stroke-width="0.6"/>
<g fill="#fafafa" fill-opacity="0.4" stroke="#a4a4a4" stroke-width="0.4"><circle cx="419.1" cy="215" r="0.85"/><circle cx="419.1" cy="208.5" r="0.85"/><circle cx="421.4" cy="281.7" r="0.85"/><circle cx="421.3" cy="276.2" r="0.85"/><circle cx="419.5" cy="225.3" r="0.85"/><circle cx="425.2" cy="277.4" r="0.85"/><circle cx="422.3" cy="258.9" r="0.85"/><circle cx="417.1" cy="220.3" r="0.85"/><circle cx="423.8" cy="248.3" r="0.85"/><circle cx="420.3" cy="260" r="0.85"/><circle cx="420.6" cy="277.8" r="0.85"/><circle cx="423.4" cy="260.6" r="0.85"/><circle cx="419.7" cy="218.1" r="0.85"/><circle cx="412.1" cy="262" r="0.85"/><circle cx="417.2" cy="249.3" r="0.85"/><circle cx="417.4" cy="215.2" r="0.85"/><circle cx="420" cy="277.7" r="0.85"/><circle cx="412.4" cy="254.2" r="0.85"/><circle cx="420.5" cy="282.5" r="0.85"/><circle cx="415.3" cy="281.7" r="0.85"/><circle cx="418" cy="283.4" r="0.85"/><circle cx="418.6" cy="220.1" r="0.85"/><circle cx="416" cy="266.7" r="0.85"/><circle cx="418.4" cy="253.2" r="0.85"/><circle cx="417.8" cy="221.4" r="0.85"/><circle cx="421.1" cy="260.6" r="0.85"/><circle cx="416" cy="278.3" r="0.85"/><circle cx="416.9" cy="271.5" r="0.85"/><circle cx="417.6" cy="252" r="0.85"/><circle cx="418.5" cy="208.8" r="0.85"/><circle cx="416.3" cy="275.8" r="0.85"/><circle cx="419.8" cy="219.4" r="0.85"/><circle cx="416.1" cy="215.9" r="0.85"/><circle cx="418.5" cy="283.1" r="0.85"/><circle cx="420.3" cy="224.5" r="0.85"/><circle cx="421.6" cy="276.1" r="0.85"/><circle cx="417.6" cy="277" r="0.85"/><circle cx="420" cy="283.4" r="0.85"/><circle cx="419.8" cy="264.5" r="0.85"/><circle cx="415.1" cy="281.3" r="0.85"/><circle cx="421.2" cy="249.8" r="0.85"/><circle cx="419.6" cy="233.8" r="0.85"/><circle cx="413.8" cy="220.7" r="0.85"/><circle cx="419.9" cy="267.2" r="0.85"/><circle cx="411.8" cy="265.3" r="0.85"/><circle cx="414.6" cy="244.3" r="0.85"/><circle cx="418.2" cy="269" r="0.85"/><circle cx="415" cy="275.8" r="0.85"/><circle cx="420.2" cy="239.4" r="0.85"/><circle cx="415.5" cy="217.4" r="0.85"/><circle cx="415" cy="283.5" r="0.85"/><circle cx="418.7" cy="276.5" r="0.85"/><circle cx="417.7" cy="281.9" r="0.85"/><circle cx="416.1" cy="279.3" r="0.85"/><circle cx="421.1" cy="283.4" r="0.85"/><circle cx="418.2" cy="282.8" r="0.85"/><circle cx="418.5" cy="280.9" r="0.85"/><circle cx="423.9" cy="281.8" r="0.85"/><circle cx="421.1" cy="279.1" r="0.85"/><circle cx="420.4" cy="281.1" r="0.85"/><circle cx="418.1" cy="276.3" r="0.85"/><circle cx="412.8" cy="233" r="0.85"/><circle cx="415.1" cy="283.4" r="0.85"/><circle cx="422.2" cy="283.5" r="0.85"/><circle cx="416.2" cy="281.2" r="0.85"/><circle cx="418.9" cy="243.5" r="0.85"/><circle cx="416.8" cy="247.2" r="0.85"/><circle cx="419.1" cy="280.5" r="0.85"/><circle cx="422.2" cy="279.4" r="0.85"/><circle cx="420.2" cy="282.2" r="0.85"/><circle cx="418.2" cy="225.4" r="0.85"/><circle cx="418" cy="267.2" r="0.85"/><circle cx="421.6" cy="258.7" r="0.85"/><circle cx="419.5" cy="283.5" r="0.85"/><circle cx="422.4" cy="241.6" r="0.85"/><circle cx="418.8" cy="210.6" r="0.85"/><circle cx="419" cy="231.4" r="0.85"/><circle cx="421.9" cy="282.5" r="0.85"/><circle cx="421.8" cy="276.4" r="0.85"/><circle cx="415.1" cy="283.5" r="0.85"/><circle cx="417.7" cy="274.6" r="0.85"/><circle cx="417.5" cy="237.1" r="0.85"/><circle cx="416.4" cy="224.8" r="0.85"/><circle cx="417.9" cy="231.1" r="0.85"/><circle cx="419.5" cy="266.2" r="0.85"/><circle cx="420.6" cy="282.2" r="0.85"/><circle cx="414.7" cy="232.4" r="0.85"/><circle cx="418.5" cy="235.2" r="0.85"/><circle cx="419.7" cy="212.5" r="0.85"/><circle cx="421.2" cy="227.5" r="0.85"/><circle cx="415.8" cy="242.2" r="0.85"/><circle cx="421.2" cy="281.4" r="0.85"/><circle cx="421.1" cy="282.1" r="0.85"/><circle cx="419.5" cy="280.4" r="0.85"/><circle cx="420.2" cy="265.8" r="0.85"/><circle cx="418.4" cy="262.7" r="0.85"/><circle cx="416.1" cy="228.9" r="0.85"/><circle cx="416.9" cy="241.4" r="0.85"/><circle cx="422.5" cy="283.5" r="0.85"/><circle cx="417.4" cy="236.6" r="0.85"/><circle cx="419.5" cy="234.2" r="0.85"/><circle cx="419.3" cy="281.8" r="0.85"/><circle cx="424" cy="266.8" r="0.85"/><circle cx="416.5" cy="272.8" r="0.85"/><circle cx="418.6" cy="257" r="0.85"/><circle cx="416.4" cy="213" r="0.85"/><circle cx="417.9" cy="217.6" r="0.85"/><circle cx="413.2" cy="237.3" r="0.85"/><circle cx="417.8" cy="254.1" r="0.85"/><circle cx="420.6" cy="280.3" r="0.85"/></g>
<line x1="449.4" y1="283.5" x2="449.4" y2="208.2" stroke="#909090" stroke-width="0.6"/>
<g fill="#fafafa" fill-opacity="0.4" stroke="#a4a4a4" stroke-width="0.4"><circle cx="451.4" cy="283.2" r="0.85"/><circle cx="448.4" cy="283.4" r="0.85"/><circle cx="451.6" cy="275.1" r="0.85"/><circle cx="451.1" cy="274.2" r="0.85"/><circle cx="446.7" cy="280.7" r="0.85"/><circle cx="449.8" cy="273" r="0.85"/><circle cx="448.3" cy="232.7" r="0.85"/><circle cx="452.4" cy="224.7" r="0.85"/><circle cx="448.9" cy="214" r="0.85"/><circle cx="449.9" cy="215.2" r="0.85"/><circle cx="449.7" cy="262.2" r="0.85"/><circle cx="450.7" cy="278.5" r="0.85"/><circle cx="449.9" cy="275.3" r="0.85"/><circle cx="450" cy="209" r="0.85"/><circle cx="451.7" cy="231.9" r="0.85"/><circle cx="451.3" cy="234.1" r="0.85"/><circle cx="451.5" cy="263" r="0.85"/><circle cx="450.4" cy="271.5" r="0.85"/><circle cx="446.9" cy="220" r="0.85"/><circle cx="448" cy="252.2" r="0.85"/><circle cx="447.6" cy="283.3" r="0.85"/><circle cx="445.1" cy="248.3" r="0.85"/><circle cx="449.3" cy="272.6" r="0.85"/><circle cx="449.8" cy="282.8" r="0.85"/><circle cx="445.1" cy="281.3" r="0.85"/><circle cx="450.7" cy="279.4" r="0.85"/><circle cx="447" cy="265.4" r="0.85"/><circle cx="446.6" cy="283.5" r="0.85"/><circle cx="447.5" cy="219.2" r="0.85"/><circle cx="448.3" cy="278.5" r="0.85"/><circle cx="451.6" cy="246.4" r="0.85"/><circle cx="448.4" cy="270.4" r="0.85"/><circle cx="450.6" cy="258.7" r="0.85"/><circle cx="451.8" cy="219.6" r="0.85"/><circle cx="450.3" cy="258.8" r="0.85"/><circle cx="447.6" cy="225.9" r="0.85"/><circle cx="449.9" cy="236.3" r="0.85"/><circle cx="452.6" cy="247.1" r="0.85"/><circle cx="447.9" cy="257.4" r="0.85"/><circle cx="448.2" cy="259" r="0.85"/><circle cx="450.1" cy="273" r="0.85"/><circle cx="447" cy="211.2" r="0.85"/><circle cx="449.8" cy="256.7" r="0.85"/><circle cx="452.1" cy="282" r="0.85"/><circle cx="452.8" cy="241.4" r="0.85"/><circle cx="450.4" cy="275.5" r="0.85"/><circle cx="452.1" cy="236.9" r="0.85"/><circle cx="452.2" cy="243.8" r="0.85"/><circle cx="451.1" cy="278.8" r="0.85"/><circle cx="451.2" cy="250.4" r="0.85"/><circle cx="452.2" cy="277.6" r="0.85"/><circle cx="449.6" cy="233.2" r="0.85"/><circle cx="452.3" cy="281.2" r="0.85"/><circle cx="448.3" cy="281.2" r="0.85"/><circle cx="447.4" cy="282.6" r="0.85"/><circle cx="451.5" cy="280.7" r="0.85"/><circle cx="447.4" cy="282.8" r="0.85"/><circle cx="449.4" cy="267.4" r="0.85"/><circle cx="448.3" cy="266.9" r="0.85"/><circle cx="446.2" cy="279" r="0.85"/><circle cx="449.9" cy="280.6" r="0.85"/><circle cx="448.8" cy="282.1" r="0.85"/><circle cx="450.9" cy="283" r="0.85"/><circle cx="446.5" cy="218.8" r="0.85"/><circle cx="448" cy="252.6" r="0.85"/><circle cx="451.8" cy="241.9" r="0.85"/><circle cx="450.3" cy="278.8" r="0.85"/><circle cx="446.9" cy="283.3" r="0.85"/><circle cx="448" cy="273.6" r="0.85"/><circle cx="448.9" cy="221.2" r="0.85"/><circle cx="443.8" cy="218.5" r="0.85"/><circle cx="449" cy="246.3" r="0.85"/><circle cx="452.9" cy="260.3" r="0.85"/><circle cx="454.8" cy="219.3" r="0.85"/><circle cx="448.6" cy="266.9" r="0.85"/><circle cx="450.1" cy="253.2" r="0.85"/><circle cx="447.8" cy="227.6" r="0.85"/><circle cx="450.8" cy="253.8" r="0.85"/><circle cx="450.4" cy="235" r="0.85"/><circle cx="451.3" cy="251.1" r="0.85"/><circle cx="450.3" cy="283.3" r="0.85"/><circle cx="447.3" cy="230.4" r="0.85"/><circle cx="449.7" cy="266.7" r="0.85"/><circle cx="449.8" cy="282.3" r="0.85"/><circle cx="449.6" cy="277.7" r="0.85"/><circle cx="444.8" cy="252.1" r="0.85"/><circle cx="447.2" cy="275.5" r="0.85"/><circle cx="445.8" cy="272.3" r="0.85"/><circle cx="447.6" cy="282.9" r="0.85"/><circle cx="449.8" cy="280.3" r="0.85"/><circle cx="454.4" cy="270.9" r="0.85"/><circle cx="451.9" cy="276.8" r="0.85"/><circle cx="449.4" cy="222.1" r="0.85"/><circle cx="449" cy="222" r="0.85"/><circle cx="444.1" cy="233.1" r="0.85"/><circle cx="448.5" cy="265" r="0.85"/><circle cx="450.7" cy="283.4" r="0.85"/><circle cx="451.2" cy="227.2" r="0.85"/><circle cx="451.2" cy="230.7" r="0.85"/><circle cx="451" cy="282.3" r="0.85"/><circle cx="447.8" cy="278.9" r="0.85"/><circle cx="451.6" cy="281.5" r="0.85"/><circle cx="449.7" cy="249.6" r="0.85"/><circle cx="454.9" cy="264.7" r="0.85"/><circle cx="449.6" cy="268.4" r="0.85"/><circle cx="447" cy="277.8" r="0.85"/><circle cx="448.9" cy="282.1" r="0.85"/><circle cx="451.2" cy="241.6" r="0.85"/><circle cx="448.8" cy="273" r="0.85"/><circle cx="447.4" cy="283" r="0.85"/><circle cx="444.9" cy="275.6" r="0.85"/><circle cx="453" cy="280" r="0.85"/><circle cx="450.5" cy="279.6" r="0.85"/><circle cx="451.1" cy="213.8" r="0.85"/><circle cx="449.5" cy="217.7" r="0.85"/><circle cx="450.2" cy="264.4" r="0.85"/><circle cx="451.5" cy="256.4" r="0.85"/><circle cx="451.1" cy="237.9" r="0.85"/><circle cx="448.6" cy="283.5" r="0.85"/><circle cx="445.5" cy="235.8" r="0.85"/><circle cx="446.3" cy="264.3" r="0.85"/><circle cx="450.1" cy="281.8" r="0.85"/><circle cx="449.6" cy="262.3" r="0.85"/><circle cx="451.7" cy="283.3" r="0.85"/><circle cx="452.5" cy="281.2" r="0.85"/><circle cx="450.5" cy="278.6" r="0.85"/><circle cx="447.5" cy="258.9" r="0.85"/><circle cx="449.4" cy="282" r="0.85"/><circle cx="447.6" cy="255.4" r="0.85"/><circle cx="445.8" cy="262.7" r="0.85"/><circle cx="451.6" cy="256.8" r="0.85"/><circle cx="449.7" cy="234.2" r="0.85"/><circle cx="451.6" cy="271.7" r="0.85"/><circle cx="451.1" cy="230.2" r="0.85"/><circle cx="451.7" cy="282.6" r="0.85"/><circle cx="451.4" cy="225.4" r="0.85"/><circle cx="449.5" cy="270.9" r="0.85"/><circle cx="453.8" cy="282.7" r="0.85"/><circle cx="445.3" cy="276.1" r="0.85"/><circle cx="446.5" cy="226.9" r="0.85"/><circle cx="449.1" cy="274.6" r="0.85"/><circle cx="451.9" cy="282.1" r="0.85"/><circle cx="450.2" cy="277.1" r="0.85"/><circle cx="442.2" cy="277.2" r="0.85"/><circle cx="449" cy="283" r="0.85"/><circle cx="442.6" cy="234.9" r="0.85"/><circle cx="449.2" cy="269.5" r="0.85"/><circle cx="445" cy="240.6" r="0.85"/><circle cx="453.9" cy="263.9" r="0.85"/><circle cx="449.4" cy="278.7" r="0.85"/><circle cx="451.5" cy="268.3" r="0.85"/><circle cx="450.7" cy="232.2" r="0.85"/><circle cx="444.9" cy="264.4" r="0.85"/><circle cx="448.7" cy="282.8" r="0.85"/><circle cx="446.4" cy="273.1" r="0.85"/><circle cx="449.7" cy="246.9" r="0.85"/><circle cx="450.4" cy="217" r="0.85"/><circle cx="446.3" cy="246.9" r="0.85"/><circle cx="452.9" cy="260.3" r="0.85"/><circle cx="449.1" cy="255.5" r="0.85"/><circle cx="445.5" cy="270.6" r="0.85"/><circle cx="451.5" cy="272" r="0.85"/><circle cx="448.5" cy="221.4" r="0.85"/><circle cx="443" cy="244.6" r="0.85"/><circle cx="449.1" cy="257.6" r="0.85"/><circle cx="449.8" cy="249.2" r="0.85"/><circle cx="448.7" cy="239.8" r="0.85"/><circle cx="445.1" cy="283.4" r="0.85"/><circle cx="448.9" cy="246.9" r="0.85"/><circle cx="451.9" cy="225.9" r="0.85"/><circle cx="448.6" cy="270" r="0.85"/><circle cx="449.6" cy="280.6" r="0.85"/><circle cx="450.1" cy="279.6" r="0.85"/><circle cx="452.5" cy="283.3" r="0.85"/><circle cx="453" cy="282.7" r="0.85"/><circle cx="451.6" cy="212.4" r="0.85"/><circle cx="448" cy="239.9" r="0.85"/><circle cx="449.3" cy="236.1" r="0.85"/><circle cx="452.2" cy="282" r="0.85"/><circle cx="450.8" cy="226.7" r="0.85"/><circle cx="450.9" cy="275.3" r="0.85"/><circle cx="447.6" cy="213" r="0.85"/><circle cx="454.4" cy="241.2" r="0.85"/><circle cx="443.8" cy="232.3" r="0.85"/><circle cx="446.2" cy="280.1" r="0.85"/><circle cx="449.1" cy="242.9" r="0.85"/><circle cx="447.5" cy="278.9" r="0.85"/><circle cx="448.4" cy="280.5" r="0.85"/><circle cx="450.5" cy="267" r="0.85"/><circle cx="446.3" cy="273" r="0.85"/><circle cx="447.7" cy="279" r="0.85"/><circle cx="451.4" cy="277.2" r="0.85"/><circle cx="449.7" cy="275.3" r="0.85"/><circle cx="451.5" cy="248" r="0.85"/><circle cx="445.3" cy="252.7" r="0.85"/><circle cx="445.2" cy="248.8" r="0.85"/><circle cx="446.8" cy="281.9" r="0.85"/><circle cx="451.2" cy="240.3" r="0.85"/><circle cx="451.9" cy="261" r="0.85"/><circle cx="451" cy="249.8" r="0.85"/><circle cx="447.7" cy="236" r="0.85"/><circle cx="450" cy="283.4" r="0.85"/><circle cx="449.4" cy="263.1" r="0.85"/><circle cx="448.1" cy="261.5" r="0.85"/><circle cx="447.6" cy="255.3" r="0.85"/><circle cx="448.7" cy="282.7" r="0.85"/><circle cx="447.5" cy="283.4" r="0.85"/><circle cx="454.6" cy="269.1" r="0.85"/><circle cx="451" cy="210.1" r="0.85"/><circle cx="446.3" cy="267.7" r="0.85"/><circle cx="450.7" cy="258.3" r="0.85"/><circle cx="447.4" cy="281.3" r="0.85"/><circle cx="447.7" cy="222.1" r="0.85"/><circle cx="447.5" cy="270.3" r="0.85"/><circle cx="445.2" cy="282.5" r="0.85"/><circle cx="447.5" cy="263.4" r="0.85"/><circle cx="449.2" cy="245.6" r="0.85"/><circle cx="447.1" cy="251.5" r="0.85"/><circle cx="449" cy="212.2" r="0.85"/><circle cx="447.8" cy="249.1" r="0.85"/><circle cx="450" cy="250.8" r="0.85"/><circle cx="445.4" cy="220.3" r="0.85"/><circle cx="450.1" cy="211.6" r="0.85"/><circle cx="452.3" cy="283.3" r="0.85"/><circle cx="451.5" cy="210.2" r="0.85"/><circle cx="451.1" cy="253.5" r="0.85"/><circle cx="450.9" cy="268.4" r="0.85"/><circle cx="452.1" cy="279.1" r="0.85"/><circle cx="448.9" cy="264.1" r="0.85"/><circle cx="447.3" cy="267.2" r="0.85"/><circle cx="444.8" cy="252" r="0.85"/><circle cx="448.5" cy="223" r="0.85"/><circle cx="450.9" cy="212.9" r="0.85"/><circle cx="452" cy="282.2" r="0.85"/><circle cx="445.4" cy="245.5" r="0.85"/><circle cx="452.5" cy="264.6" r="0.85"/><circle cx="452.9" cy="234.5" r="0.85"/><circle cx="450.1" cy="269.5" r="0.85"/><circle cx="450.3" cy="230.3" r="0.85"/><circle cx="450.1" cy="246.6" r="0.85"/><circle cx="447" cy="274.5" r="0.85"/><circle cx="450.5" cy="210.3" r="0.85"/><circle cx="451.9" cy="252.8" r="0.85"/><circle cx="445.1" cy="227.3" r="0.85"/><circle cx="448.6" cy="267.2" r="0.85"/><circle cx="452.4" cy="222.6" r="0.85"/><circle cx="443.8" cy="224.1" r="0.85"/><circle cx="450.2" cy="238.5" r="0.85"/><circle cx="446.3" cy="283.3" r="0.85"/><circle cx="446" cy="283.3" r="0.85"/><circle cx="447.5" cy="271.7" r="0.85"/><circle cx="447" cy="261" r="0.85"/><circle cx="449" cy="282.7" r="0.85"/><circle cx="454.6" cy="273.3" r="0.85"/><circle cx="447.6" cy="264.9" r="0.85"/><circle cx="448.3" cy="269.4" r="0.85"/><circle cx="452.8" cy="262.9" r="0.85"/><circle cx="445.7" cy="280.7" r="0.85"/><circle cx="449.5" cy="263.1" r="0.85"/><circle cx="443.9" cy="260.9" r="0.85"/><circle cx="447" cy="252.1" r="0.85"/><circle cx="446.3" cy="222.8" r="0.85"/><circle cx="450.7" cy="210.3" r="0.85"/><circle cx="449.3" cy="243.5" r="0.85"/><circle cx="449.2" cy="271.1" r="0.85"/><circle cx="450.6" cy="220.5" r="0.85"/><circle cx="446.4" cy="222.7" r="0.85"/><circle cx="448.9" cy="279.8" r="0.85"/><circle cx="449.5" cy="218.3" r="0.85"/><circle cx="447.8" cy="257.3" r="0.85"/><circle cx="449.2" cy="208.8" r="0.85"/><circle cx="451.9" cy="272.5" r="0.85"/><circle cx="452.1" cy="272" r="0.85"/><circle cx="451.9" cy="278.3" r="0.85"/><circle cx="444.5" cy="247.3" r="0.85"/><circle cx="450.4" cy="240.3" r="0.85"/><circle cx="452" cy="227.2" r="0.85"/><circle cx="453.2" cy="237.2" r="0.85"/><circle cx="450.6" cy="276.2" r="0.85"/><circle cx="449.4" cy="237.4" r="0.85"/></g>
<path d="M404.7 284.1Q413.7 282.9 417.7 282.1L418.7 281.1L419.7 282.1Q423.7 282.9 432.7 284.1Q418.7 285.1 404.7 284.1Z" fill="#3f7352" fill-opacity="0.9"/>
<path d="M435.4 284.1Q444.4 282.9 448.4 282.1L449.4 281.1L450.4 282.1Q454.4 282.9 463.4 284.1Q449.4 285.1 435.4 284.1Z" fill="#bf3542" fill-opacity="0.9"/>
<rect x="418.3" y="203.2" width="31.4" height="1.8" fill="#555"/>
<text x="434.3" y="200.1" font-size="6.6" text-anchor="middle" fill="#333" textLength="28.2" lengthAdjust="spacingAndGlyphs">P = .0049</text>
<text x="422.8" y="186.4" font-size="7" text-anchor="middle" fill="#333" textLength="14.5" lengthAdjust="spacingAndGlyphs" transform="rotate(-45 422.8 183.9)">MPN</text>
<text x="459.5" y="182" font-size="7" text-anchor="middle" fill="#333" textLength="28.5" lengthAdjust="spacingAndGlyphs" transform="rotate(-45 459.5 179.5)">post-MPN</text>
<text x="460.2" y="191.4" font-size="7" text-anchor="middle" fill="#333" textLength="13" lengthAdjust="spacingAndGlyphs" transform="rotate(-45 460.2 188.9)">AML</text>
<text x="384.6" y="240.1" font-size="8.8" text-anchor="middle" fill="#333" textLength="93.6" lengthAdjust="spacingAndGlyphs" transform="rotate(-90 384.6 240.1)" dy="2.7">Log2(normalized counts) <tspan font-style="italic">BCL2</tspan></text>
<text x="404" y="300.1" font-size="6.6" text-anchor="end" fill="#333" textLength="51" lengthAdjust="spacingAndGlyphs">Mean expression:</text>
<text x="404" y="312.8" font-size="6.6" text-anchor="end" fill="#333" textLength="59.2" lengthAdjust="spacingAndGlyphs">Expressing cells (%):</text>
<text x="418.7" y="300.1" font-size="6.6" text-anchor="middle" fill="#333" textLength="15" lengthAdjust="spacingAndGlyphs">0.086</text>
<text x="449.4" y="300.1" font-size="6.6" text-anchor="middle" fill="#333" textLength="15" lengthAdjust="spacingAndGlyphs">0.128</text>
<text x="418.7" y="312.8" font-size="6.6" text-anchor="middle" fill="#333" textLength="16.5" lengthAdjust="spacingAndGlyphs">3.01%</text>
<text x="449.8" y="312.8" font-size="6.6" text-anchor="middle" fill="#333" textLength="16.5" lengthAdjust="spacingAndGlyphs">4.01%</text>
<path d="M113.5 332.5V389.3L54.2 429.5M113.5 389.3L172.7 429.5" fill="none" stroke="#222" stroke-width="1.1"/>
<path d="M52.7 400.1L60.4 399.3L75.8 403.9L86.5 406.3L91.5 413.3L83.5 421.3L71.2 422.3L62 417.3Z" fill="#8069b5" fill-opacity="0.9" filter="url(#bl12)"/>
<path d="M78.5 419.3L93.5 413.3L108.5 406.3L113.5 401.3L123 397.1L132.5 387.6L144 374.2L153.5 364.6L161.2 358.8L163 358.1L163 361.3L157.4 376.1L151.7 391.3L146 408.6L142 418.2L138.3 429.7L130.6 441.1L126.8 450.7L124.9 464.1L121 467.9L112.5 471.7L109.6 470.1L103.5 462.3L95.8 453.1L85 445.3L74.2 437.8L73.5 427.3Z" fill="#ee1820" fill-opacity="0.8" filter="url(#bl15)"/>
<path d="M158.1 359.3h0m2-0.2h0m2.7 0.5h0m-8.4 3.4h0m2.6-1.6h0m1.2 1.4h0m0-2.6h0m1.6 2.4h0m1-0.8h0m1.7-1h0m-11.5 5.2h0m4.6-1.3h0m1.7-1.3h0m1.9 0.9h0m0.3-0.7h0m1.4 0.6h0m-13.4 4.1h0m1.2 0.2h0m2.7-0.1h0m0.2-0.8h0m2.5 1.1h0m0.1-0.2h0m0.6 0.4h0m0.2-2.8h0m1.2 1.9h0m0.1 0.6h0m0.6-2.1h0m0.4 1.9h0m0.5 0.5h0m0-0.6h0m0 0.7h0m0.3-2.9h0m1.5 1.5h0m0.1-0.9h0m2.7 0.8h0m-14.2 4.1h0m3-1.9h0m0.1 1.5h0m1.5-1.7h0m0.2 0.1h0m0.1 1h0m0.9-0.6h0m3.5 1.1h0m-12.1 3.4h0m2.5-0.7h0m0 0.2h0m0.4-0.4h0m2.1-1.2h0m0.2-0.1h0m0.8-0.2h0m0 1.2h0m0.1 1.2h0m1.3-1.3h0m0-0.8h0m0.1 1.7h0m0.9-0.9h0m0.1-0.6h0m0.2 1.6h0m0.4-0.5h0m1.4 0.1h0m0.1 0.8h0m1.9-1.4h0m-14.9 2.3h0m1.6-0.4h0m1 1.8h0m3.5-1.9h0m0.5 0.9h0m0.4 1.5h0m2.1-0.2h0m0.3 0h0m0.4 0.4h0m0.1-0.8h0m0.6-1.7h0m-12.5 3.5h0m0.6 0h0m0.5 1.6h0m6 0.7h0m0.3-1.8h0m0.7-1h0m0.2 2.8h0m5.1-0.7h0m0.1-1.9h0m1.8 2.2h0m0.3-1.5h0m-18.1 2.1h0m0.3 1.1h0m0.9-0.7h0m0.2 2.1h0m0.8-0.2h0m0 0.3h0m1-1.5h0m1.3 0.8h0m0.6-0.5h0m0.1 0.9h0m1.3-2h0m0.1-0.1h0m1.3 0.3h0m0.2 1.6h0m0.5-0.3h0m0.7-0.9h0m0.7-0.7h0m0.7 0.3h0m1 2.2h0m0.9-1.2h0m0.4-0.8h0m0.9 0.4h0m0.1 0.5h0m0.3-0.1h0m0.6-1.5h0m0.3 2.1h0m0.5 0.7h0m-20.7 1h0m0.2 1.7h0m0.4-0.7h0m1.3-0.8h0m0.4 1.7h0m1.1-2.4h0m2.8 0.2h0m0.3-0.6h0m4 2h0m0.3 0.2h0m1.3-1.7h0m0.1 1h0m0.3-1.1h0m0.5 0.6h0m0.1 1.1h0m0.6 0.1h0m0.1-0.8h0m2.3 0.8h0m0.5-1.6h0m1.6-0.5h0m-22.4 4.3h0m0.4-1.3h0m0.4 1.5h0m1.5 1h0m4.7-0.2h0m3.3-1.5h0m2.3 0.9h0m0 0.6h0m0.3-1.5h0m0.4 0.4h0m1.4 0.2h0m1.4-0.7h0m0.1 2.1h0m4.4-1.4h0m2 0.3h0m0.9-1.2h0m0.5-0.4h0m-25.2 5.3h0m0.4 0.1h0m1.1-1.5h0m0.1 0.4h0m1 0.6h0m1.3-0.7h0m5 1.4h0m0.8-1.5h0m2.9 0.8h0m0.6-1h0m0.6 1.7h0m0.8-0.4h0m0.2 0.2h0m1.1-1h0m1.1 0.1h0m1.8 0.6h0m0.9-1.8h0m0.2 0.1h0m0.5 1.1h0m0.2-0.9h0m2.2 0h0m0.8 1.8h0m-25 2.2h0m0.5-1.1h0m0.2 0.9h0m0.8-1.2h0m0.1 2.3h0m0.3-0.6h0m3.8-1.7h0m2.3-0.1h0m0.2 1.5h0m0.2-0.2h0m0.2-1.2h0m0 0.6h0m1 0.4h0m1-1.1h0m1.2 2.3h0m0.7-1.9h0m0.2 0.4h0m1.5 0.2h0m1.3 1.3h0m1.1-1.3h0m0.3 0.5h0m1.8-1.6h0m1 0.6h0m1.1-0.5h0m1.1 0.3h0m0.7 2h0m1.6-2.1h0m-36.3 4.4h0m4.2-0.1h0m2.1-0.5h0m0.4 1.7h0m3.9-0.8h0m1.1 0.4h0m0.5-2.4h0m0.2 2.4h0m1.3-1h0m2.9 1.3h0m1.2-2.7h0m0.3 2.2h0m3.5-1.7h0m0.3-0.6h0m0.5 2.6h0m0.3-2.3h0m1.5 0.9h0m0.7-0.3h0m0.3 0.4h0m0 0.6h0m0.9 0.7h0m0.2-2.4h0m1.8 0.1h0m1.2-0.2h0m1.6 1h0m0.5 0.5h0m0.1-0.1h0m0.7 1.3h0m0.1-0.5h0m0.9 0.5h0m1.6-1.9h0m1.9 1.5h0m-39.8 2.1h0m4.2 0.4h0m0.6-0.1h0m1.7-0.2h0m0.2 0.8h0m2.3-2.4h0m0.8 1.1h0m0.3 1.3h0m0-2.3h0m2.1 2h0m0.7 0.3h0m1.1-1.9h0m0.5 1.4h0m0.3 0.4h0m0.8-1.1h0m0 0.1h0m0.5-0.1h0m0.5-1h0m0.4 0.4h0m1.3 0.4h0m0.2 0.8h0m0.2-1.6h0m1.5 1.5h0m0.3-0.4h0m0.2-1.4h0m1.6 2.7h0m0.8-0.3h0m0.3-0.3h0m0.3-2.1h0m0.6 3h0m0.8-1.1h0m0.9-0.8h0m0.2 0.5h0m0.8 1.3h0m1.1-2.3h0m0.8 0.5h0m0.9 1.7h0m0-1.9h0m0.3-0.7h0m0.7 1.1h0m1.3-0.5h0m0 1.6h0m0.4-0.1h0m2.4-0.6h0m1.5 0.2h0m0.4-0.7h0m0.7-1.2h0m-37.8 5.5h0m0.7 0h0m0.1-1.3h0m3.4 1.4h0m0.1-1.3h0m2-1.2h0m2.1 0.9h0m3.8 0.1h0m0.2 0.6h0m0.7 0.9h0m0.9-2.4h0m0.2 1.5h0m1.1 0.1h0m1.5 0.3h0m1.4-1.3h0m0.9 0.3h0m1.9 0h0m0 1.7h0m1.5-0.6h0m1 0.2h0m0.3-1.7h0m0.2 1.8h0m2.3-1.8h0m0.5 2.3h0m0.1-1.8h0m1.8 0.2h0m0.1-0.3h0m1 0.1h0m1.3 0.9h0m0-0.9h0m2.5 0.4h0m1.9 0.3h0m-38.6 2.5h0m0.1 0.5h0m2.2-0.1h0m1.9-1.7h0m0.7 1.9h0m0.1-1.5h0m2.2 1.7h0m1.3-0.6h0m0.9-1.3h0m0.9 1.8h0m3.5-1.8h0m1 0.6h0m0.4 0.1h0m0.5 0.8h0m0.1-0.5h0m0.6-0.2h0m0-0.8h0m0.4 0h0m0 0.2h0m0.2 0.1h0m1.1 1.8h0m0.5-2.3h0m0.3 1.3h0m6.1-0.6h0m0.5-0.7h0m0.1 2h0m2.2 0.2h0m0.5 0.3h0m0.6-1.8h0m0.7 1.1h0m0.8-1.7h0m0.3 2.3h0m2.8-1.9h0m3.3 0.5h0m-46.4 4.3h0m3.3-2.1h0m1.3 1.4h0m1.2 0.7h0m2.7-2.1h0m1.7 1.4h0m0.2-1.3h0m1.6 1.4h0m0.5-1.8h0m0.7 2.2h0m1.2-0.1h0m0.5-1.1h0m0.6 0.5h0m0.1-1h0m0.5 0.9h0m2.6-1h0m1.7 0.6h0m0.1 1h0m0.7-0.6h0m0.8 0.3h0m0.7-0.9h0m0.9 1.1h0m1-1.1h0m0.4 0.4h0m2.5 0.8h0m2.6-0.3h0m0.1 0.2h0m0.1-1.3h0m1.7 1h0m1-0.7h0m0 1.2h0m0.4 0.4h0m0.7 0.4h0m0.6-0.7h0m0.2 0.3h0m2.1-0.5h0m0.2-0.9h0m2.3 0.4h0m0.5 0.8h0m1.6-1.4h0m0.4 1h0m0 1h0m0.2-1.3h0m0 0.2h0m0.3-1.8h0m0.3 1.9h0m0.5-0.4h0m0.3-0.7h0m0-0.3h0m1.5 0.7h0m0.3-0.4h0m0.1 0.5h0m1.5-0.6h0m-52.4 4.8h0m2.1-0.3h0m0.5 0.3h0m0.2 0.5h0m0.7-1h0m0-1.3h0m1.2 1.6h0m1-1.3h0m0 2h0m0.1-1.5h0m1.4 1.3h0m0.1-1.8h0m0.6-0.9h0m0.5 0.1h0m0.1 2.5h0m0.2-1.8h0m0.1 0.8h0m0.4-0.2h0m0.1 0.4h0m1.5-1.8h0m0.8 1.7h0m0.3 0.3h0m0.2 0.6h0m0.5-1.5h0m0.7 1.5h0m0.5 0.3h0m1.7-0.9h0m2-1.8h0m0.9 0.9h0m0.1 1.4h0m0-1h0m0.3 0.4h0m0.1-1.2h0m0.1 1.2h0m1.1 0.3h0m0.5-1.3h0m0.7 1.6h0m2.1-2.2h0m0.2 1h0m0.9-0.2h0m0.7 0h0m2.7-1.2h0m0.2 1.9h0m2.4-0.6h0m1.1 0.5h0m2.1 0.9h0m0.3-2.5h0m0 1h0m0.3 1.3h0m0.2-0.2h0m0.3 0.1h0m1.6 0.4h0m0-0.4h0m2.6-1.7h0m0 0.9h0m1.1-1.4h0m0.2 2.7h0m0.7-2.3h0m0.7 1.4h0m0.1-1.6h0m0.1 1.3h0m0.1 0.6h0m0.2 0.4h0m0.7-1.4h0m1-0.6h0m0.4 2h0m0.3-0.4h0m0.8-1h0m0.2-1.1h0m0.6 0.8h0m0.6 0.1h0m0.8-0.1h0m2.6-0.6h0m0.3 0.7h0m1.2 0.8h0m-56.7 3.8h0m1.5-1.9h0m0.9 1.2h0m0.3-0.1h0m0.6-1.7h0m0.2 2.7h0m0.7-0.3h0m0.9-0.8h0m4.8-1.7h0m0.8 1.9h0m0.7-1.2h0m0.4 1.2h0m0.1-0.2h0m0.9 0h0m0.4-0.6h0m0.7 1.1h0m0.6-0.3h0m0.4 0h0m0.6-1.7h0m0.7 1h0m0.3 0.1h0m0.3 1.3h0m2.1-0.9h0m0.3 0.4h0m0.7-1.9h0m1.7 0.4h0m1.3 1.5h0m0.2-0.3h0m0.1-0.5h0m1.1 0h0m1.4-0.8h0m0.6 2.3h0m0.1-0.5h0m0.5-1.6h0m2 2h0m0.2-2.6h0m1.8 0.7h0m0.7 0.4h0m0.6 0.5h0m0.6-1h0m3-0.7h0m0 2.8h0m1.1-1.9h0m0.4 0.3h0m0.1 1h0m0.2 0.3h0m1 0h0m0.8-2h0m1 1.8h0m2.8 0.2h0m0.7-2.1h0m0.9 2.4h0m0-1h0m0.1-0.7h0m0.2 1.4h0m0.1-0.5h0m1.1 0.8h0m0.8-2.9h0m2.5 0.2h0m0.4 1.4h0m0.4 0h0m1.1 0.6h0m0.5 0.4h0m0.5 0.3h0m0.1-2.6h0m0.1 1.4h0m0.7-1h0m2.3 0h0m-67 3.4h0m3.5 0.8h0m2.1-0.5h0m1.3 1.5h0m2.2-1.3h0m0.2-1.2h0m0.1 0.8h0m0.8 0.1h0m0.4-1.1h0m0.4 2.3h0m1.7-1.5h0m2.1 1.1h0m0.5 0h0m0.4 0.2h0m2.3 0.6h0m0.1 0h0m0.6-2.8h0m0.6 0.2h0m0.2-0.2h0m1.2 2.1h0m0.4-2h0m0.6 2.4h0m0.3-0.5h0m0 0.6h0m0.5-1.1h0m1.2-1.5h0m0.4 0.3h0m1.4 0.4h0m0.3-0.4h0m2.2 0.3h0m1.6 0.1h0m0.2-0.4h0m1.4 1.9h0m3.7-0.6h0m0.3 1.2h0m0.7-0.3h0m0.2-1.6h0m0.9 0.6h0m1.3 0h0m0.4-0.1h0m0.7-1.5h0m5.2 0.4h0m1.7 2.3h0m2.7-0.2h0m0.1-1.4h0m1.2 1.3h0m1.2-1.2h0m2-0.3h0m2.7 1.4h0m0.2-1.8h0m0.1 0.2h0m0.7 0.4h0m1.4-0.4h0m0.5 0.8h0m1.5 1.1h0m1.3-1h0m0.1-0.1h0m0.4 0.9h0m0.4-2.2h0m1.7 1.7h0m0.1-1.8h0m0.4 0.6h0m0.1-0.1h0m1.7 1.8h0m-66 0.9h0m0.7-0.3h0m1.4 1.3h0m2.6 0.9h0m0.4-1.3h0m0.8 0.8h0m0.4-1.2h0m0.3 1.8h0m1.6 0.4h0m2-2.4h0m0.4 1.8h0m1.1-2.1h0m1 2.2h0m2.2-2h0m0.2 0.2h0m1.3 0.3h0m0.5-0.4h0m2.1 0h0m0 2.3h0m0.6-0.7h0m1.6 0.1h0m1.1 0.3h0m0.5-1.1h0m1.5 0h0m0.4-0.9h0m1.2-0.1h0m0.2 0.4h0m0.6 2h0m1-2h0m2.6 1.5h0m0.1-0.6h0m2.9 0h0m1.2-1.3h0m0.5 1h0m0.7 0.3h0m1.3-1h0m1.1 2.1h0m1.7 0.2h0m0.7-2.7h0m0.3 0.1h0m0 2.4h0m0.1-0.3h0m0-1.4h0m0.7 1.3h0m3.8 0.4h0m0.3-1.7h0m0.7 0.5h0m0.3-1.4h0m4.2 1.4h0m0 0.8h0m1.8-0.6h0m1.4-0.2h0m0.6 1.4h0m0.8-2.4h0m0.3 2.4h0m3.1-2.1h0m0.7 1.5h0m0.2 0.1h0m1.4-0.4h0m0.2-1.8h0m0.7 0.5h0m0.9-0.1h0m0.3 1h0m-64.5 2.2h0m0.3 1.8h0m1-0.4h0m3.4-1.2h0m0.5 0.3h0m0.3-0.9h0m0.8 1.4h0m2.9-1.2h0m1.6 0.3h0m2.4 0.6h0m0 1.1h0m1-1.3h0m0.2 0.2h0m0.8 0.8h0m1.6-0.2h0m1.2 0.1h0m1.4-0.2h0m0.4-0.9h0m0.3-0.2h0m0.4-0.1h0m0.1 2.2h0m1.5-1.6h0m0.6 1.3h0m0.2-1.4h0m0.6 1.5h0m1-1.2h0m0.1 1h0m0.2-0.8h0m0.1-1.1h0m1.4 0.5h0m1.5 0.2h0m0.3 0.9h0m0.4-2.1h0m0.2 1h0m0.1 0.8h0m1.4-1.6h0m1.2 0.3h0m1.7 1.6h0m0.3 0.1h0m0.4 0.5h0m1.1-1.1h0m0.7 0.2h0m2.8-0.3h0m0.4-1.2h0m2.6-0.3h0m0.9 0.1h0m0.7 1.5h0m0.1-0.1h0m0.3 0h0m0.2 1.2h0m0.8-1.6h0m1.2 0.9h0m0.1-1.5h0m1.2 2.2h0m0.5-2.5h0m0.4 0.4h0m1 1.2h0m3.8 1h0m1.5-0.5h0m0.2-0.7h0m2.2-1.1h0m1.5 0.8h0m0.1-1.3h0m0 0.2h0m3.1 2.1h0m1.6-1.2h0m1.9-1.1h0m-64.1 3h0m1.1 2.1h0m0.6-0.9h0m0.1-1.2h0m0.2 0.2h0m0.7-0.1h0m0.7-0.2h0m0.4 2.5h0m0.5-2h0m0.2 0.6h0m0.2 0.6h0m0.6 0.6h0m1.2-2.2h0m1.8 0.8h0m0.6 0.5h0m2.2 0.8h0m0.3-0.2h0m1 0.4h0m0.1-1.2h0m2.8 0.3h0m1.4-0.5h0m0-0.5h0m0.3 2.5h0m0.8-0.2h0m1.2 0h0m5.1-1h0m0.7-0.3h0m0.5-1.1h0m0.3-0.3h0m1.9 1.8h0m1.8-1.7h0m0.8 1.6h0m1.1-0.3h0m2.2-1.3h0m0 2.4h0m1.4 0.1h0m0-1.6h0m2.6 0.9h0m0 0.9h0m0.2-0.4h0m0.2-0.8h0m1.6-1.2h0m0.1 2.2h0m1.3 0.1h0m0.1-0.4h0m1-1.6h0m2.1-0.4h0m0 1.6h0m0.1-1h0m0.4-0.7h0m1 2.5h0m0.4-1.3h0m0.3 0.3h0m0.2 0.3h0m1.7 0.3h0m0.2-0.2h0m0.2-1.6h0m0.1 1.8h0m0.9-0.2h0m0.2 0.3h0m0.2-2.2h0m0.2 0.6h0m0.8-0.8h0m0.5 2.5h0m0.1-1.1h0m2.8-1.2h0m2.8-0.1h0m0.3 0.4h0m1.2 1h0m1.5-1h0m-61.3 3.2h0m3.1-0.2h0m0.9-0.4h0m1 2.2h0m0.2-0.9h0m0.7 0.6h0m0.4-0.4h0m0.6-0.5h0m2.1 0.1h0m0.5 1.6h0m0.1-0.2h0m2.4 0.2h0m1.4-1.5h0m1 1h0m0.2 0h0m0.6 0.1h0m1.5 0h0m2.3 0.4h0m0.5-2.4h0m1 1h0m0.7 1.4h0m0.3-2.2h0m0.4-0.6h0m0.1 2.3h0m2.9-1.7h0m0.1 0h0m0.2 0.9h0m0.1 1.2h0m1.2-0.4h0m0.1-1.8h0m2.5 1.3h0m0.1 1.1h0m0.4-2h0m4.1-0.8h0m1.6 2h0m0.6-2.2h0m0.7 0.6h0m0-0.5h0m0.7 0.1h0m1.5 0.6h0m0.2 0.1h0m0.1 0.5h0m0.6 0.7h0m2 0.6h0m0-1.8h0m2.7 1.2h0m0.4-0.5h0m3.3 1.4h0m0.3-1.3h0m1-1.5h0m0.1 1.5h0m1.2-0.5h0m0.2-1.1h0m1.3 0.6h0m1.9 1.6h0m0.5-1.4h0m1.1 2h0m0.9-2.8h0m0.4 0.5h0m0.8 1.9h0m0.5 0h0m0.6-0.9h0m0.3-0.3h0m0.2-0.5h0m0.2 1.8h0m1.2-1h0m1.7-1.5h0m-64.6 5.4h0m1.2-0.2h0m0.7-1.5h0m0.2 0.5h0m1.8-0.7h0m0.3 0.9h0m0.8-1.2h0m1 1.7h0m0.5 0.4h0m1.6-2.1h0m1.3 1.5h0m0.3 0.7h0m0.9-1.2h0m0.9-0.8h0m0.1 1.4h0m0.7-1.8h0m3.9 1.1h0m1.3 1.6h0m0.2-0.1h0m0.4 0h0m1.9-1.2h0m1.2 0.8h0m0.3-1.8h0m0.5-0.1h0m1.3 1.6h0m0.6-1.5h0m0.2 1.8h0m0.2-0.3h0m1.6-0.1h0m0.5 0.5h0m0.8-1.1h0m0.8 1.1h0m0.3-1.7h0m0.7-0.5h0m2.1 1h0m0.2-0.4h0m0.6-0.3h0m1.6 2.2h0m0.6-0.4h0m0.3-1.1h0m1 1.3h0m2.1-2.1h0m1.8 0.3h0m0.3 0.6h0m0.6-0.1h0m1.4 1.6h0m1.2-1.9h0m1.9 1.1h0m1.1-1.4h0m2 2.2h0m0.9-2.1h0m0.8 1.8h0m1.2-2.2h0m1.3 0.6h0m0.1 0.3h0m0.2 1.2h0m0.1 0.3h0m1-2.6h0m0.8 0.9h0m1-0.8h0m1.7 0.6h0m0 1.8h0m0.5-1.7h0m1.1-0.3h0m0.5 1.4h0m0.9-0.8h0m0.7-0.9h0m0.4 2.1h0m0.4-2.3h0m0.4 2.5h0m-61.3 1.9h0m1.6 1.5h0m3.5-2.8h0m0.3 1.6h0m0.3-1.2h0m0.4 2h0m0.5-0.9h0m1.8 0.1h0m1.7-0.6h0m2.8 0.8h0m3.8-1.7h0m0.4 2.3h0m2-2.6h0m0.9 2.7h0m0.1-1.4h0m1.1-0.9h0m3.3 1.9h0m0.8-1.8h0m0.1 0h0m0-0.4h0m0.7 2h0m0.6-1.4h0m0.2 0.4h0m1 0.1h0m0.6 0.9h0m0.4-1.1h0m0.1 1.4h0m0.4-2.4h0m0.2 2.4h0m1.4 0.4h0m0-0.8h0m0 1h0m1.1-1.8h0m0.3-1h0m0.1 1.2h0m1.7-1.2h0m0.8 2.1h0m0.6-1.8h0m0.5-0.1h0m0.4 1.6h0m1-0.3h0m0.8-0.6h0m0.7 0.6h0m0-0.2h0m1.1 1.1h0m0.1 0.2h0m0.5-2.6h0m0.8 1.1h0m0.3 0.5h0m1-0.5h0m1.4 0.1h0m1.3-1.1h0m2.3 0.7h0m0.5-0.5h0m0.8 2.2h0m0.4-1.2h0m1.8 0.9h0m1.8-0.1h0m0.9-0.6h0m2.2-0.5h0m-54.2 4.4h0m1.9-1.2h0m0.1 0h0m2.2 0h0m1.5 0.2h0m1.1 0.9h0m0.3-0.1h0m2.4-0.3h0m1.7-1.9h0m0.3 0.6h0m0.7 1.4h0m0.1 0.6h0m3.1-0.4h0m4.1-1.1h0m0.1 0.9h0m0.6 0.3h0m0.3-0.9h0m0.1 1.1h0m1-1.7h0m0.1-0.5h0m0.7 0.3h0m1 1.1h0m0.5 1h0m0.1-1.5h0m0.8 0.8h0m0.1-1.6h0m0.2 1.8h0m0.8-0.1h0m0 0h0m0.2 0.6h0m1-0.5h0m1.8 0.6h0m0.3-1.7h0m3.6-1.3h0m0.8 2.6h0m0.7-1.3h0m1 1.2h0m0.7-1.2h0m0.5 0h0m0.6 1.3h0m0.6-0.1h0m1-0.5h0m0.8-2h0m0.1 2.1h0m0.3 0.7h0m0.1-1.9h0m0.7-0.6h0m1.1 1.5h0m1.1-0.9h0m0.1-0.3h0m1.8 0.6h0m0.4-0.4h0m2 1.3h0m0.3-1.1h0m2.4-0.3h0m1.1 0.7h0m0.3-0.4h0m0.1 0.7h0m1.2-0.4h0m-52.8 1.9h0m4 1.1h0m1-0.5h0m1.9-0.3h0m0.2 2.4h0m1.4-0.1h0m2.1-1.8h0m0.9-0.4h0m0.7 1.8h0m0.6-0.1h0m0.3-0.2h0m0.6 0.3h0m0.4-0.1h0m0.6-0.3h0m0.1-1h0m2.2 1.9h0m0.4-0.5h0m0.3-2.2h0m0.9 0h0m1 2.2h0m0.4-0.4h0m0.4-1.1h0m2.3 1.8h0m0.7-0.8h0m0.1-1.3h0m2.8 1.3h0m0.2-1.4h0m0.5 0.1h0m0.3 2.1h0m0.9-0.1h0m0.6-1.4h0m0.2 0.3h0m1.3-0.2h0m0.1 1h0m1-0.8h0m0.6-0.3h0m0.9-0.2h0m0.4 1.4h0m0-2.2h0m1.3 2h0m0.8-1.6h0m0.8 1h0m0.3 1h0m0-0.4h0m0.1-0.6h0m0.4 0.7h0m3-2h0m1.3 1.7h0m0.7-1.3h0m0.2 0.7h0m1.2-0.5h0m1.2 1.3h0m0.4-0.4h0m1.5 1.1h0m4.7-0.9h0m1.9-0.2h0m0.7-1.2h0m0.7 0.5h0m-43.2 2.1h0m0.2 1.5h0m0-1.4h0m2.8 1.8h0m1.3-1.6h0m1.1 0.8h0m0.2-1h0m0.1 1.3h0m1.1-1.1h0m0.2 2.3h0m1.2-0.4h0m0.8-0.7h0m0.7-0.2h0m0-1.1h0m0.6 0.8h0m1 1.2h0m0.3-0.8h0m0.1 1.3h0m1-0.2h0m1.6-0.9h0m0.2-0.8h0m1.3 1.9h0m1.5-2.5h0m0.4 0.9h0m0.6 1.1h0m1-0.1h0m0.8 0.7h0m2.4-2.2h0m0.1 0.9h0m1.2 0.6h0m1.3-2h0m0.3 2.5h0m0.3-0.2h0m1.4-0.6h0m0.2 0.1h0m2.4-2h0m0.1 2.6h0m0.9-0.7h0m0.8 1h0m0.2-0.2h0m0.1-0.5h0m0.6-1h0m0.2 0.9h0m0-1.1h0m1.1 0.3h0m2 0.7h0m0.1-0.5h0m1 0.3h0m0.2-1.1h0m0 0.7h0m2.1-0.1h0m0.3-0.5h0m0.4-0.5h0m0.3 1h0m-39.3 1.9h0m1.6 1.8h0m0.7-0.7h0m1.7-0.9h0m1.7-0.3h0m0.7 0h0m0.6 2.8h0m0.5-0.2h0m1.1-0.9h0m0.8 1.1h0m1.5-1.7h0m0.3 1.4h0m0.7-0.9h0m0.2-0.3h0m1-0.8h0m1.8 1h0m0.8 0.9h0m1.9-0.1h0m1-1.8h0m0.5 1.5h0m1.2-1.2h0m0.5 0.2h0m1.8 1.8h0m2-2.5h0m3 1.5h0m0.1-1.9h0m0.7 0.5h0m1.5 1.8h0m0.4-1.6h0m0 0.9h0m0.1 0.4h0m0.1-1.4h0m0.7-0.1h0m1.2 0.2h0m2.5 0.2h0m1 1.8h0m0.8-1.4h0m0.3 0.7h0m0.5-1.8h0m0.9 1.9h0m-35.2 1h0m2.3-0.1h0m1.7 0.9h0m0.5 1h0m0-1.2h0m2.4 1.6h0m0.1-1h0m0 0.2h0m0.2 0.5h0m1.5-0.8h0m0.4-0.8h0m0.1 0.3h0m1.8-0.2h0m0.2 0.6h0m1.2 0.1h0m1.4 1.5h0m1.6-1.3h0m0.4-0.4h0m0.5-0.8h0m0.8 1.9h0m0.3-1.4h0m0.3 0.1h0m0.6 1h0m0.3-0.1h0m0.9 0.7h0m0.6-2.5h0m1 1.7h0m2.4-1.7h0m0.3 1.7h0m0.4-0.9h0m0.4-0.6h0m0.1 2.2h0m3.3-1.1h0m0.3 0.6h0m1.4 0.9h0m0.3 0h0m2-0.2h0m0.4-2.5h0m0 0h0m1.5 2.5h0m0.1 0.4h0m0.1-1.2h0m0.3-0.8h0m1.2 0.1h0m-29.2 2.2h0m0.8 0.9h0m1.4-0.9h0m1.5 1.2h0m1.3-0.1h0m1 0.4h0m0.5 0.8h0m0.2 0h0m0.1-0.3h0m0.8 0h0m0.5-0.4h0m1.5-1.7h0m1.4 0.2h0m0.2 0.7h0m0.5-0.3h0m1.2 0.5h0m0.4 0.2h0m0.3-0.9h0m0.1 2.4h0m1.4-2.9h0m1.8 1.8h0m5 0.7h0m0-1.9h0m0 1.5h0m0.1-1.9h0m2.1 0.1h0m0.2 1.2h0m1.6 0.7h0m0.6-1.7h0m0.3 2h0m0.6-1.7h0m-25 5h0m0.1-2.3h0m0.9-0.1h0m0.2 0.3h0m1.2-0.4h0m0.9 2.3h0m1.2-0.5h0m2.4 0.7h0m1.1-0.1h0m1.3-2.6h0m0.4 0.9h0m0.7-0.5h0m1 0.7h0m0.2 0.2h0m1.4 0.4h0m0.2-1.5h0m0.5-0.1h0m2.8 0.6h0m2.5-0.4h0m0.2 1.8h0m0.2-0.1h0m0.8 0.3h0m1-0.4h0m0.3-0.4h0m0.1 0.5h0m1.9-2.1h0m0.9 2.7h0m-23.2 2h0m0.3-0.4h0m2.3-0.9h0m0.8 0.4h0m2.7 1.6h0m1.3-1.8h0m0.2 2.2h0m1.4-2h0m0.1 0.4h0m0.3 0.4h0m1-0.2h0m0.2 0.5h0m0.5-1.2h0m0.1-0.5h0m0 0.8h0m0.5-0.1h0m0.3 0.4h0m0.1-0.6h0m0.7 0.6h0m0.8-0.8h0m1 0.1h0m1.2 2.3h0m0.4-0.8h0m0.2-0.9h0m1.6 1.1h0m1.3-2.1h0m1 0.5h0m3.5 1.4h0m0.5-0.5h0m-23 2.5h0m0.4-0.6h0m0.6 1.4h0m0.7-1.9h0m0.4 0.1h0m0.7 1.8h0m0.3-1.4h0m0.2 1.9h0m2.7-2.5h0m0 2.8h0m0.4-2.7h0m1.6 2.7h0m0.5-0.5h0m1.4-1.4h0m0.6 1h0m2.1-0.7h0m0.1 0.6h0m2.3-1.1h0m0.3 1.1h0m0.6-0.1h0m1.7 0.5h0m0.3 0h0m1.8-0.1h0m0.1-0.5h0m0.1 0.1h0m0-1.3h0m1.4 1.2h0m-19.2 2.8h0m1.6 0.8h0m1.7 0.8h0m0.7-1h0m0.9-0.4h0m0.6-1h0m0.2 0h0m0.2-0.5h0m0.8 1.8h0m0.5-1.8h0m0.7 1.3h0m0.3-0.5h0m0.1 0.4h0m0.6 0.9h0m1.4 0.5h0m0.1-0.4h0m0.2-0.3h0m0.2-2h0m0.6 1h0m2.3-0.2h0m0.5 1.8h0m0.1-2.3h0m1.4 0.1h0m1.9 2.1h0m-12.7 2.4h0m0.5-1.5h0m1 1.8h0m3.3-1.1h0m2.2 1.3h0m-6.6 1.4h0m2.9 0h0m1.1 0.2h0" stroke="#f0141e" stroke-width="1.5" stroke-linecap="round" stroke-opacity="0.9" fill="none"/>
<path d="M55.8 400.3h0m1.1-0.2h0m1.3 1.2h0m0.6 0.3h0m0.7-2.5h0m0.4 0.9h0m0.1 2h0m1.2-0.8h0m0.7 0.3h0m0.6-0.8h0m0.6-0.6h0m0.1 1.5h0m0.8-0.8h0m30.6 0.6h0m4.1 0.2h0m3.4-1.7h0m0.5 2.1h0m1.7-1.6h0m1.7 1.4h0m0.1-1h0m0.7 0.6h0m2.1 0.2h0m4.3-0.4h0m1.5-0.2h0m3.4 0h0m0.7 0.7h0m-64.2 2.3h0m1.1-1.3h0m1.2 1.5h0m0.9 0.4h0m0.7-0.1h0m1-2.4h0m0.3 0.4h0m0.3 0.4h0m2.1 0.1h0m1.3-0.6h0m1-0.3h0m1.9 1.4h0m0.4-0.5h0m0 0.7h0m2.3 1.2h0m0.4-0.6h0m1.8-1.4h0m0.4 1.8h0m4.6 0.1h0m0.4-1.2h0m1.2 0.8h0m0 0.1h0m10.6-0.7h0m3.3 0.8h0m0.4 0.2h0m2.7-1.4h0m2.2-0.8h0m0.8 1.3h0m1.5 0.3h0m0.6-2.2h0m2.6 2.5h0m0.9-1.7h0m0.2-0.3h0m0.3 0.4h0m1.2 1.5h0m0.9-0.2h0m0.2-0.1h0m0.8-0.6h0m2.9-1.3h0m0.2 1.9h0m1.8 0h0m0.1-1.9h0m2.9 0.5h0m0.1 1.1h0m0.3 0.7h0m2.6 0.3h0m0.5-2.5h0m0.1 0.5h0m1.4 1.8h0m1.5-0.8h0m1.7 0.9h0m-65.1 0.8h0m0.3 0.8h0m0.2 1.3h0m1.5-0.8h0m2.9-1.7h0m0.5 1.8h0m0.4-0.7h0m1-0.2h0m0-0.3h0m0.5 1.1h0m0.8 0.6h0m0.6-2.3h0m0.2 0.6h0m1.1 0h0m0.5 2.1h0m0.5-2.2h0m0.1 0.6h0m0.1 1.4h0m2.2-2.5h0m0.7 0.1h0m0.6 1.5h0m3 1.3h0m0.3-0.8h0m0.2-2.1h0m0.5 0.2h0m0.6 0.4h0m0.3 1.3h0m3.4 0h0m1.9-0.6h0m0.9 0.3h0m1.1 1.1h0m0.3-0.3h0m3.9 0.4h0m1.5-2.7h0m0.7 0.5h0m2.8 2.1h0m0.3-2.6h0m0.7-0.2h0m3.2 0.1h0m0 1.8h0m1.5 0.3h0m1.9 0.5h0m0.1-0.3h0m1.3-0.8h0m0.7 0.7h0m1.4 0.1h0m1.6 0.2h0m1.7-1.1h0m1.1-1.2h0m2.5 2h0m1.2 0.4h0m1.6-0.3h0m0.6-1.5h0m0.8 2h0m0-1.7h0m1-0.6h0m3 0.4h0m0.2 1.9h0m0-2.6h0m0 0.6h0m0.5 1.4h0m1.6 0.5h0m0.6-1.9h0m2.5 0.4h0m0-0.2h0m1.4 1.6h0m-67.4 0.5h0m0.6-0.1h0m1 0.3h0m0.4 2.1h0m1.1-1h0m0.4-0.1h0m1.4 1.1h0m0.5-1.4h0m3.5 1.4h0m0.1-2.2h0m0.4 0.9h0m1.8 0.2h0m0.7 1.4h0m0.3-2h0m0.2 0.4h0m0.8 1.2h0m4.2 0.4h0m3.6-1.2h0m1.8 0.6h0m0.3-0.5h0m0.8-0.8h0m0.1 0.7h0m1.1-1.2h0m1.8 0.3h0m1.3 0.8h0m0.4-1.3h0m0.1 0.7h0m0.1 0.8h0m0.1-0.8h0m0.8 1.7h0m0.5 0.2h0m0.3-0.2h0m0.8-2.3h0m0.3-0.1h0m0.3 0.1h0m0.7 2.5h0m1.1-1.1h0m0.1-0.5h0m0.1-0.8h0m0.5 0.3h0m0.4 2h0m2.6-2.1h0m1.5 0.6h0m0.8-1h0m0.4 2.7h0m3.1-2.5h0m2.1 0.7h0m0.1 0.8h0m1.6 0.7h0m3.6 0.1h0m2.3-1.7h0m0 0.2h0m0.2 0.1h0m0.5 0.1h0m0.9 0.9h0m0.7 0.6h0m2.6-2.2h0m0.1-0.2h0m0.3 1h0m1.3-1.2h0m0.3-0.1h0m1 0.9h0m0.3-0.4h0m0.8 2.1h0m0-1.7h0m1.6 0.8h0m1.7 0.9h0m1.1-0.3h0m1.1 0h0m1.6-0.5h0m1-0.7h0m-68.3 3.3h0m2.5 0.7h0m0.4-1.8h0m1.1 1.2h0m2 0.3h0m1 0.7h0m0.9-1.4h0m1.4 1.2h0m0.3-1.7h0m2.7 0.7h0m1.8 0.5h0m1.2-0.3h0m0.5 1h0m0.5-0.8h0m0.1-0.5h0m0.4 0.3h0m1.8 0.9h0m1.8 0.3h0m0.3-2.3h0m2.1 0.5h0m0.5 1.7h0m0.1-1.5h0m0.2-0.8h0m2 2h0m0.6-2.2h0m1.4 1.4h0m0.3-0.3h0m2.6-0.6h0m1.3 1.3h0m1.2-1.6h0m2.7 2h0m0.9-0.6h0m0.9 0h0m0-0.9h0m1.2 0h0m0.7 1.8h0m2-1.9h0m1.6 0.6h0m0.7 0.2h0m2 1.1h0m3.1-1.5h0m1.1 1.1h0m1.2 0.6h0m0.7-1.4h0m1-0.5h0m2.3 1.7h0m1.2-0.5h0m0.9-0.4h0m0.3-0.1h0m0.6 1h0m3.3-2.7h0m0 0.2h0m1 1.6h0m2.2-0.8h0m1.1 0.9h0m0.7-1.3h0m0.4-0.2h0m0.6 1.4h0m1.3 0.3h0m0.7-0.1h0m-71.8 2.4h0m3.2 1.2h0m2.7-1.2h0m0.9-1h0m1 1.3h0m0.2-0.8h0m0.2 1h0m0.6-0.7h0m0.5-1.3h0m4.8 0.1h0m0 1.3h0m0.2 1.1h0m0.5 0.2h0m2.5-0.5h0m3.2-0.4h0m1.8 0.8h0m1.5-0.3h0m1.8-1.7h0m1 1.4h0m0.2 0.9h0m0.1-2.7h0m0.5 1.7h0m0.2-1.7h0m1.7 1.7h0m0.6 1h0m1.1 0h0m2.5-2.2h0m0.9 0.8h0m0 0h0m0.8-1.3h0m0.4 0.9h0m0-0.4h0m0.3 0.3h0m1.6 0.7h0m0.2 0.1h0m2.3-0.2h0m0 0.4h0m1.8-0.7h0m1.7-1h0m1 2.2h0m0.2-1.7h0m0.1-0.5h0m0.2 1.8h0m0.2-1.2h0m0.5 0.4h0m2.5 1.4h0m0.4-2.4h0m0-0.1h0m2.3 2.6h0m0.9-0.9h0m0-0.4h0m0.2 0.6h0m1.2-1.8h0m0.9 0.7h0m5.5-0.5h0m0.7 1.4h0m0.7 0.7h0m0.8-2.6h0m1.3 1.1h0m2.4-0.8h0m0.2 2.3h0m1.6-0.3h0m0.7-1.2h0m1 1.1h0m0.3-1.9h0m3.3-0.1h0m-67.6 3h0m5.3 0.9h0m1.6 0.8h0m0.5 0.8h0m0.7-1.3h0m0.1 0.8h0m0.7-0.8h0m1 1.3h0m0.3-1h0m0.4-0.1h0m0-1.3h0m1.3 2.5h0m0.5-0.9h0m4.1-1.3h0m0.3 2.3h0m7.1-1.4h0m2.8-1h0m0 2.3h0m2.7-0.5h0m1-1.9h0m1 2.6h0m1.6-0.7h0m3.2-0.3h0m0.6-1.5h0m0.7-0.1h0m2.1 1.5h0m0 0.8h0m0.7 0.1h0m1-2.7h0m0.3 1h0m0.9 0.3h0m0.7-0.1h0m2.2-1.3h0m0 1.8h0m1.6-1.1h0m0.9 1.9h0m2.1-2.4h0m0.8 1.4h0m1.1 0.5h0m3-1.9h0m0.8 0.6h0m0.7 0.8h0m0.5 0.3h0m1.6-1.8h0m0.2 1.4h0m0.7-0.2h0m1.3-1h0m0 0.7h0m0.2 0.9h0m1.7-1h0m0.3 1.9h0m-57.5 0.3h0m1.5 0.6h0m0.4 1.3h0m3.1-1.9h0m1.9 1.4h0m0.9-0.2h0m2.8-0.4h0m1.9 0h0m0.3 1.7h0m0-1.1h0m0.5 0.8h0m0.7-0.1h0m0-0.9h0m0.7-0.6h0m1-0.4h0m0.9 0.2h0m0.2 0.6h0m0.4-0.3h0m0 0.3h0m0.3-0.2h0m1.4 0h0m0.4 0.2h0m1.2-0.6h0m3 1.3h0m13.7-1.5h0m8.7 0.4h0m3.5 0.5h0m1.3-0.8h0m2.6-0.1h0" stroke="#7a5fb2" stroke-width="1.5" stroke-linecap="round" stroke-opacity="0.9" fill="none"/>
<path d="M54.1 399.7h0m7.8 1.2h0m51.1-0.6h0m-57 2.4h0m0 0.9h0m1.6-1.1h0m0.4 1.3h0m0.1 1.1h0m2.3-1.2h0m0.4-0.9h0m0.2 0.8h0m1.4 0.2h0m2.5 0.8h0m0.5-1.3h0m0.8 1.5h0m1-0.9h0m4.2 0.4h0m0.4-0.3h0m1.6 0.8h0m0.5-1.4h0m0.8 1.5h0m21.6-0.4h0m2.8-0.7h0m4.2 0.3h0m0.2-0.3h0m0.9 0.8h0m1.7-1.4h0m0.1 1h0m0.6 0.8h0m0.7-1.3h0m3.6 0.8h0m1-2.2h0m0.1 1.1h0m0.7-0.1h0m0.8 1.4h0m0.9-0.1h0m0.6 0.2h0m0.9-2.8h0m2.3 1.9h0m0.8 0.5h0m-56.9 1h0m0.1 0.8h0m0.3 0.8h0m0.2 0.4h0m0.4-1.3h0m1.1-0.4h0m0.3 1.1h0m0.3-0.1h0m0.7 0.4h0m0.8 0.3h0m0.3 0.1h0m1.9-0.1h0m0.2-0.7h0m1.3-0.5h0m1 0.1h0m0.9 1.5h0m0.6-0.4h0m2.2-0.9h0m2.3 0.1h0m0.1 0h0m0.2-0.4h0m3.7 1.6h0m0.2-2.3h0m1.6 0.5h0m1.2-0.1h0m4 0h0m0.1 2h0m0.2-1.9h0m0.3 1.9h0m3.1-2.2h0m1.9 0.1h0m0.7 0.5h0m4.7 1.2h0m1.5-2.1h0m1.1 0.9h0m1.4 0.3h0m0.7 0.9h0m1.1-2.2h0m0.3 2.4h0m1.8-0.1h0m1.9-1.2h0m0.4 1h0m2-2.1h0m1.4 0h0m0.3 0.3h0m1 0.4h0m1.1-0.6h0m1.3 0.1h0m2.2-0.5h0m1.9 1.2h0m0.1 1.4h0m0.6-0.1h0m0.8-1.6h0m1.9-0.8h0m-61.8 3.4h0m0.2 1h0m1.5-0.2h0m0.2-0.9h0m2 0.5h0m5.4 1.8h0m0.1-2.4h0m0.7 2.7h0m0.1-2.5h0m2.5 1h0m1.1-0.2h0m0.4 0.8h0m1.8-1.7h0m3.8 1.4h0m1.6 0.2h0m3.6-1.1h0m1.4 0.9h0m0.7-1h0m0.2 2h0m0.7-2.6h0m0-0.1h0m1.1 1.8h0m1.5-1.3h0m3.4 1.6h0m0.5-0.9h0m0.8 0.5h0m0.2 0.5h0m0.6-1.3h0m0.5 1.8h0m0.4-0.8h0m0.6-0.2h0m0.5 0.6h0m0.2-2.1h0m3.3 2.7h0m1.1-2.5h0m3.1 2.1h0m0.4 0.2h0m0.8-0.4h0m1.6-1.7h0m0.7 0.5h0m0.4 0.3h0m2.3-1.1h0m3.5 0.6h0m1.7 0.1h0m0.6 0.2h0m0.4-1.2h0m0.2 0.8h0m0.9 0.1h0m0.2 1.8h0m0.4-0.1h0m0.3-0.2h0m-53.6 1.4h0m1.3 1h0m0.6-0.8h0m1.1-0.6h0m1.9 0.5h0m0.5 1.5h0m1.5-1.9h0m1.5 1.4h0m0.6-1h0m1.4 1h0m3 0.4h0m0.6-0.4h0m1.7-1.5h0m1.2-0.1h0m0.7 1.4h0m0.5-0.9h0m1.2 0.3h0m2.1-1.2h0m0.6 1h0m0.3 1h0m1.3-0.3h0m0.7-1.4h0m1.1 2.1h0m4.9-1h0m2.6-0.7h0m2 1.7h0m0.1-0.9h0m0.6-1.3h0m0.3 1.8h0m0.1-0.4h0m0.5-0.7h0m0.2 1h0m0.5 0.8h0m0.5-2.4h0m2.1 0.1h0m0.2 2.2h0m4.1-1h0m1.5 0.1h0m0.6 0.4h0m2.1-0.4h0m0.8-1h0m0.7 0.4h0m3.1-0.3h0m0.2-0.5h0m0.8 0.6h0m-47.1 2.4h0m4.1 0.1h0m2.2 0.3h0m0.6 0.2h0m4.2-0.7h0m16.6 0.6h0m3.4-0.3h0m4.5-0.3h0m1.4 1.1h0m11.8-1.2h0" stroke="#8468b8" stroke-width="1.5" stroke-linecap="round" stroke-opacity="0.9" fill="none"/>
<path d="M60.8 401.7h0m12.3 2.4h0m9 0.5h0m11.8-0.3h0m1.6-0.2h0m11.2-1.8h0m6.4 2h0m-32.5 2.6h0m0.3-1.8h0m10.8 1h0m22.6 1.1h0m1.7-2.1h0m11.1 2.4h0m-46.9 1.5h0m25.5-0.9h0m1.1 2.8h0m6.6-1.1h0m1.1-0.2h0m1.2-0.1h0m0.4 0.1h0m7.9-1.2h0m3.9 1.5h0m2.8 0.4h0m-68.1 3.5h0m22.1-1.2h0m3.5-1h0m0.7 2.2h0m1.3-0.9h0m5.4-1.3h0m-27.3 3h0m4.8 2.3h0m0.6-2.4h0m0.5 0.2h0m40.7 1.6h0m2.3-0.6h0m7.2-0.7h0m-50.7 2.2h0m0.8 1.1h0m17.2 1.4h0m1.1-2.5h0m9.2 1.6h0m0.3 0h0m3.1 0.7h0m3.6-2.4h0m7 2.4h0m8.7-0.8h0m-44 1.4h0m7 1.4h0m12.9 0.3h0m0.1-0.5h0" stroke="#9fd8ea" stroke-width="1.3" stroke-linecap="round" stroke-opacity="0.95" fill="none"/>
<path d="M90.9 413.9h0m3.2 0h0m4.8-1h0m0.5 0.4h0m0.5-0.6h0m2.8 0.6h0m2.5 0.2h0m1.3-0.2h0m0.6-0.5h0m0.7 0.3h0m0.1-0.4h0m4.4 0.9h0m1.5 0.4h0m1.3-0.3h0m5.5-1.3h0m0.6 1.3h0m0.6-0.5h0m-52 3.7h0m3.1 0h0m6.1-1.7h0m0.6 1.4h0m0.2-1.9h0m0.8 0.7h0m1.5-0.6h0m2.9-0.2h0m2.1 0.8h0m0.8-0.4h0m0.7 1h0m0.1 0.8h0m0.5-1.5h0m3.2 1h0m0.2-1.6h0m1.7 1h0m0.2-1.1h0m0.4 1.1h0m0-0.8h0m1.8 0.4h0m0.6 0.2h0m0.7 0.3h0m0.7 0.1h0m0.7-1.8h0m0.5 0.7h0m0.4 2.2h0m1.4-1.8h0m0.2 1.7h0m1-2.5h0m1.7-0.2h0m3.8 1.4h0m0.5 1.4h0m0.3-2.5h0m0.3-0.4h0m0.7 1.8h0m1.8-0.6h0m1.2-1h0m0.1-0.1h0m0.9 2h0m1.7 0.3h0m3.2-0.8h0m2.5-0.7h0m-49.2 2.5h0m2.3 1.6h0m1.5-0.2h0m0.3-1.8h0m0.9 2.5h0m1.8-2h0m1.2 0.8h0m0.8-1.3h0m0.2 2.6h0m0.1-1.7h0m1.1-0.3h0m0.9-0.1h0m0.9 1.9h0m0.5-2.1h0m0 0.4h0m5.2 1.6h0m1.4-1.5h0m1-0.1h0m0.6-0.1h0m1 2.1h0m0.2-0.6h0m0.1-1.3h0m0.5 0.1h0m0.4-0.3h0m0 0.5h0m0.3 1.4h0m0.9-0.7h0m0.1 0.6h0m0.4-0.3h0m2.6-0.5h0m0.1-0.5h0m0.4-1h0m0.2 1.3h0m0.2-0.1h0m0.5 1.3h0m0.6-0.6h0m0.2-1.1h0m0.2-0.3h0m0.2-0.2h0m0.4 1.6h0m1.5-1.7h0m0.3 1.7h0m0.5-0.5h0m0.8-1.4h0m2 0.6h0m0.7 1.4h0m0.2 0.8h0m0.6-1.9h0m0.4 0.3h0m0.5 0.7h0m0.2-0.9h0m0.1 1.7h0m0.6-1.8h0m0.3 0.7h0m1.3-0.4h0m1.4-0.3h0m4.3 0.2h0m-39.5 4.3h0m1.1-0.6h0m4.9-0.9h0m0.5-0.8h0m2.5 2.5h0m0.2-0.1h0m0.1-2.2h0m1 1.5h0m1-0.2h0m1.8-1.1h0m2.2 0.2h0m0.4 1.6h0m0.5-1.4h0m0.4-0.8h0m0.3 1.4h0m1.3-0.9h0m1 1.1h0m1 0.5h0m0.2-2h0m0.4 0.1h0m0.3-0.2h0m0.3 0.7h0m1.2 1.5h0m0.1-2.1h0m0.6 0.3h0m1.2 0.7h0m0-0.2h0m0.1 1.1h0m1.1-2h0m1.2 2h0m2.8 0.2h0m1.3 0.4h0m0.7-0.5h0m0 0.4h0m1.1-1.6h0m2.6 0.6h0m1.2-0.7h0m-30 2h0m0.8 0.5h0m13-0.5h0m3.6-0.1h0m5.7 1.3h0m0.4-0.8h0m1.1-0.4h0" stroke="#f0141e" stroke-width="1.5" stroke-linecap="round" stroke-opacity="0.9" fill="none"/>
<path d="M105.8 413.1h0m0.8 0.2h0m4.9-0.6h0m2.8 0.8h0m5.8-0.1h0m0.1 0.2h0m5.4-1h0m0.4-0.1h0m4.5 0.7h0m1.3 0.5h0m-23 0.7h0m2.7 2.6h0m0.2-2.9h0m0.4 1.7h0m0.8-0.8h0m1.8 1.5h0m3-2h0m8 0.7h0m2.1-0.1h0m1.4-0.6h0m0.2 0.6h0m7.2 1h0m-38.8 3.3h0m1.2 0.2h0m2.5-1.5h0m6.1 0.5h0m0.9-0.7h0m4.6-0.5h0m7 0.6h0m3.3 0.1h0m0.5 1.6h0m0-0.3h0m11.9-1.1h0m0 1.1h0m-48.9 2.2h0m13.1 1h0m2.9-0.1h0m10.6-2h0m2.4 1.2h0m1.6-0.8h0m5.8 1.6h0m0.1-1.5h0m2-0.2h0m6.2 0.3h0m0.9-0.4h0m-44.5 3.7h0m3.1 0.4h0m4.5-1.5h0m4.9-0.3h0m1.1 2.8h0m5.5-1.1h0m0.8 0.8h0m0.1-1.6h0m0.5-0.1h0m2.7 0.7h0m2-0.7h0m1.1 1.1h0m0.5-1.9h0m5.6 1.1h0m2.7 1.6h0m0.7-2.4h0m8.2-0.1h0m-35 3.4h0m8 2.2h0m2.2-0.1h0m1-2.6h0m11.4 0.7h0m0.5-0.4h0m1.1 0.5h0m7.4 1.2h0m-32.1 1.2h0m5.1 1.1h0m2.6-1.1h0m0.2 1.5h0m5.7 0.2h0m0.9-0.1h0m4.2-0.2h0m0.3-1.3h0m3.9 1.1h0m7.1 1.2h0m1-2.1h0m6.4 1.3h0m0.5-0.1h0m-26.1 2.4h0m3.2-0.4h0m2.5 1.8h0m1.5-1h0m13.9-0.6h0m2.1 0.6h0m1.3-0.5h0" stroke="#9078bc" stroke-width="1.4" stroke-linecap="round" stroke-opacity="0.85" fill="none"/>
<path d="M162.6 362.3h0m0.2-1.5h0m-4.3 4.7h0m-6.8 0.9h0m4.3 2.4h0m4.7-1.5h0m-12.4 3.4h0m5.7-1.3h0m1.3 1.8h0m4.4-1.4h0m-6.3 2.7h0m-8.7 2.9h0m0 2.1h0m0.9-2h0m1.8 1.8h0m0.3-0.8h0m0.2 0.1h0m2.9-0.6h0m0.8-0.7h0m2.4-0.1h0m1.4 0.6h0m1.7 0.1h0m-17 3.4h0m1.3-1.2h0m1.4 2.3h0m0.8-0.2h0m1.4-1.2h0m1.4 0h0m-8 4.7h0m4.8-0.9h0m3.1 0.5h0m7-0.4h0m0.2 0.7h0m-18 2.8h0m4.1 0.3h0m2.8-1.3h0m9.3 1.5h0m0.1-0.1h0m-17.4 2.1h0m4.1-1.8h0m1.5 0.8h0m0.3 1.4h0m7.9-0.7h0m-3.1 4.3h0m1.2-2.4h0m-12.7 5h0m7.9-0.6h0m4.1-1.7h0m4.4 0.9h0m-21.3 3.8h0m0.6-1.7h0m2.9 0.7h0m3.6 1.7h0m-19.7 3.2h0m10.8-2h0m9.5 1.4h0m0.1-0.7h0m1.6 0.4h0m4 0.6h0m-29.3 3h0m0-2.1h0m1.7 2.2h0m20.5-0.7h0m3.5-0.1h0m1.4-1.5h0m3.8 1.4h0m-28.6 2.2h0m2.2 1h0m7.3-0.3h0m3.7 1.1h0m6.6-0.4h0m6.9-2.2h0m3.6 1.9h0m-40.6 3.9h0m2-0.6h0m0-0.7h0m16.7-0.4h0m5.2-1.1h0m6 0.6h0m3-0.3h0m-38.8 4.6h0m8.3-0.4h0m9.5 0.5h0m1.7-0.8h0m5 0h0m15.4-0.3h0m4.6 1.8h0m1.1-1.8h0m-47.9 2h0m3.1 1.1h0m6.5 0.6h0m1.6 1.1h0m2.6-1.3h0m13.1 0.6h0m2.5-1.6h0m8.9 1.2h0m-46.9 2.7h0m14.6 0.9h0m0.4 0.7h0m4-2.7h0m2.9 0.7h0m8.1-0.5h0m10.5 0.9h0m4.2-0.8h0m0.5-0.2h0m7.4 0.7h0m-55 1.9h0m0 2.8h0m3.9-1.6h0m2.4-0.8h0m1 2.5h0m6.7-2.1h0m2.7 1.6h0m1.3-1.7h0m2.4 0h0m3.1 1.6h0m2.8-1.2h0m0.5 1.1h0m5.7 0.1h0m6.9-0.3h0m0.7 0.3h0m0.2-0.3h0m6.3-1.1h0m-53.9 4.1h0m0.8-0.8h0m1.5 1.1h0m1.4-2.2h0m4.2 0.1h0m0.4 1.3h0m1.1-0.2h0m14.2 1.3h0m7-0.8h0m0.3-1.2h0m4 2h0m6.7-1.9h0m0.6 1.2h0m-45.6 3.8h0m0.3-2.1h0m3.6-0.3h0m0.8 1.5h0m2.7-0.2h0m2.8 0.8h0m7-0.8h0m1.4-0.1h0m2.3 1.1h0m0.1-0.8h0m9.3-1.7h0m5.9 1.2h0m7.2 1.3h0m15.2-1.7h0m3.8-0.1h0m0.2 1.6h0m0.8-1.4h0m-63.6 2.2h0m3.6 2.5h0m5.9-0.8h0m5 0.6h0m6.3-1.9h0m6.2 1.7h0m7.5-1.7h0m12.1 1h0m1.9 0.4h0m2.7-2h0m10.7 0.7h0m-60.9 3.2h0m4.2 0.3h0m17.8 0.4h0m1.1-0.9h0m4.4 1.6h0m14.3-0.7h0m0.5-1.4h0m-43.9 3.3h0m0.4 1.2h0m2.1-1.2h0m3 0.3h0m3.3 1h0m2.3 0.9h0m6-2.1h0m7.7 2.3h0m7.2-2.9h0m3.7 1.6h0m6.4 0.2h0m1.8-1.8h0m1.4 2.7h0m4-0.3h0m-46.3 1.6h0m3.4-0.8h0m4.3 1h0m0.1 0.2h0m9.3 0h0m4-0.3h0m2.5-1.1h0m7.4 0.2h0m0.7 2h0m9.6 0h0m-37 1.1h0m27.4 1.1h0m2.5-1.1h0m4.2-0.1h0m2.7 1.1h0m1.8-0.9h0m2 1.3h0m-34.2 2h0m4.2 1.1h0m6-0.6h0m2.8 1h0m0.5 0h0m1.6 0.5h0m1.2-2.1h0m1.6 0.3h0m1.3 0.6h0m0.7 0.1h0m3.4 0.1h0m0-0.4h0m1.5-1h0m10.3 1.5h0m2.7 0.5h0m2.6-0.4h0m-31.1 2h0m0.7 1.5h0m6.1 0.4h0m6.9-0.6h0m1.6-1.2h0m-11.2 2.8h0m8.4 0.9h0m0.6 1.2h0m1.5-2.3h0m10 0.5h0m-21.7 2.9h0m0.4-0.8h0m6.2 2.5h0m0.9-0.7h0m5.2-1.8h0m2.4 0.6h0m5.5 1.7h0m3.5-0.4h0m-21.4 3h0m15.6-1.9h0m1.1 0.7h0m5 0.3h0m0.3-0.8h0m-23.4 3h0m3.4 2h0m0.4 0.5h0m6.6-0.3h0m2.7-0.7h0m5.8 0.5h0m-6.6 1h0m5.2-0.3h0m5.2 1.8h0m0.7-0.4h0m-14.9 2.3h0m0.8 1.8h0m2.9-0.1h0m2-0.3h0m1.3-1.5h0m-5.8 4.4h0m2.2 0.5h0m0.4 0.4h0m2-2h0" stroke="#ffd8da" stroke-width="1.2" stroke-linecap="round" stroke-opacity="0.75" fill="none"/>
<path d="M146.8 373.9h0m-5.8 6.4h0m7 6.9h0m-16.7 3.7h0m-2.7 3h0m11.7 1.5h0m-8.2 5.7h0m-9 4h0m5.8 2.5h0m16-0.2h0m-32.5 3.5h0m16.6-1.6h0m0.5 0.5h0m7.9-1.3h0m4.2 1.6h0m-46.9 3.8h0m1.2 1h0m10 3.3h0m-21.9 2.9h0m20.2 1.2h0m14.1-2h0m14.2 5.1h0m-47.7 4h0m11.2 5.6h0m6.8-0.4h0m24.3-0.5h0m0.7-0.8h0m1.7 2.8h0m3.2 0.6h0m0.2 0.2h0m-50.1 1.6h0m15.1-0.3h0m9.6 0.7h0m-17.8 3.7h0m37-0.8h0m0.2 1.7h0m-35.5 3.5h0m6-0.6h0m2.8 2.5h0m4.2-0.9h0m15.6 0.2h0m-10.1 2.5h0m2.1 0.1h0m-6.6 5.1h0m0.5 0h0m5 3.9h0m13.7 0.8h0m-13.2 3.6h0m-0.1 2.6h0m9.2-0.1h0" stroke="#a01018" stroke-width="1.1" stroke-linecap="round" stroke-opacity="0.7" fill="none"/>
<text x="109" y="379.9" font-size="6.1" text-anchor="middle" fill="#333" textLength="12.5" lengthAdjust="spacingAndGlyphs" transform="rotate(-90 109 377.7)">DC4</text>
<text x="101.4" y="394.4" font-size="6.1" text-anchor="middle" fill="#333" textLength="12.8" lengthAdjust="spacingAndGlyphs" transform="rotate(-33 101.4 392.2)">DC1</text>
<text x="122.3" y="390.7" font-size="6.1" text-anchor="middle" fill="#333" textLength="12.8" lengthAdjust="spacingAndGlyphs" transform="rotate(33 122.3 388.5)">DC2</text>
<rect x="19.2" y="345.3" width="8.1" height="4" fill="#93cfe2"/>
<rect x="19.2" y="355.7" width="8.1" height="4" fill="#7d64b2"/>
<rect x="19.2" y="365.4" width="8.1" height="4" fill="#e3131c"/>
<text x="30.3" y="349.6" font-size="6.6" fill="#333" textLength="62.3" lengthAdjust="spacingAndGlyphs"><tspan font-style="italic">JAK2/CALR</tspan>_<tspan font-style="italic">TP53</tspan> wt</text>
<text x="30.3" y="360" font-size="6.6" fill="#333" textLength="74.7" lengthAdjust="spacingAndGlyphs"><tspan font-style="italic">JAK2/CALR</tspan> mut_<tspan font-style="italic">TP53</tspan> wt</text>
<text x="30.3" y="369.7" font-size="6.6" fill="#333" textLength="66.9" lengthAdjust="spacingAndGlyphs"><tspan font-style="italic">JAK2/CALR</tspan>_<tspan font-style="italic">TP53</tspan> mut</text>
<path d="M276 332.5V393.5L209.5 436.6M276 393.5L342 436.2" fill="none" stroke="#222" stroke-width="1.1"/>
<path d="M210.8 406L227 408.6L248.5 407.3L270 404.6L280.8 400.6L294.2 393.8L307.7 383L318.5 369.6L329.2 361.5L326.5 366.8L318.5 393.8L310.4 415.3L307.7 428.8L294.2 447.6L286 461L280.8 477L276 481L272.7 479.6L267.3 468.8L253.8 452.7L235 442L232.3 420.4L220 414L212 410Z" fill="#f8d09c" fill-opacity="0.9" filter="url(#bl15)"/>
<path d="M280.8 400.6L294.2 393.8L307.7 383L318.5 369.6L329.2 361.5L326.5 366.8L318.5 393.8L310.4 415.3L296 418.5L284 408.5Z" fill="#f0a03a" fill-opacity="0.85" filter="url(#bl15)"/>
<path d="M210.8 406L227 408.6L248.5 407.3L256 413.5L241 417.5L232.3 420.4L220 414L212 410Z" fill="#f4b058" fill-opacity="0.6" filter="url(#bl15)"/>
<path d="M233 429.5L246 427.5L261 438.5L268 453.5L276 481L272.7 479.6L267.3 468.8L253.8 452.7L235 442Z" fill="#f4b058" fill-opacity="0.6" filter="url(#bl20)"/>
<path d="M326.6 363.9h0m0.5 1.1h0m2.9 0.9h0m-3.6 0.6h0m-8.9 4.7h0m4.1-0.1h0m1.1-1h0m0.5-1.1h0m0.2 1.9h0m0.6-1.8h0m-9.8 5.5h0m0.1 0.2h0m1.6-0.1h0m1.1-0.7h0m0.6-0.9h0m0.5 1.4h0m2.1-2.5h0m1.1 1.1h0m0.6-0.6h0m3.4-0.1h0m-11.7 4.6h0m0.6-0.5h0m3.2-0.7h0m0.2 1.5h0m0.4-2.2h0m1.4 2.5h0m0.7 0.1h0m0-0.1h0m0.7-1.7h0m0.2 2.1h0m0.1-2.8h0m0.5-0.1h0m0 2h0m0.1-0.1h0m-8.5 3.6h0m1.8-2.1h0m0.7 1.8h0m0.1-0.2h0m0-0.7h0m6 1.5h0m-11.1 0.9h0m0 0h0m0.3 0.6h0m1.5 0.8h0m4.6-1.3h0m1.3 0.4h0m0.1-1.2h0m1.5 1.4h0m1.3 1h0m1.2-1h0m-19.5 2.7h0m3.6 1.7h0m0.3-0.5h0m0.1-1h0m0.1-0.2h0m2.4 0.4h0m1.5 0.4h0m4.9 0h0m1.4-0.4h0m0.1 0.2h0m-18.7 2.3h0m3.1-0.4h0m1.1-0.2h0m0.6 1.7h0m0.3-1.8h0m4.8 0.5h0m2 1.2h0m0.2 0.4h0m1.1-1.3h0m0.7 1.1h0m1.7-0.2h0m0.6-0.1h0m0.3-0.1h0m0.4-0.8h0m1.2-0.3h0m0.1 1.4h0m1.4 0.5h0m-21.7 0.8h0m0.9 2.5h0m1.5-2.2h0m0.5 0.6h0m0.6 1.5h0m1-1.9h0m0.7 0.6h0m1 1.3h0m0.1-2.7h0m0 2.4h0m0.7 0h0m1.1-1h0m0.2 0.9h0m0.5-0.4h0m0.9-0.9h0m0.1 1.7h0m0.3-0.2h0m1.1 0.3h0m2.6-0.3h0m1.8-1.3h0m1-0.8h0m0.9 1.8h0m0.9 0h0m3.6-1.7h0m-23.8 3.2h0m1.1 0.7h0m0.2 0.9h0m0.6-2.3h0m1.2 2.3h0m1.3-0.2h0m0.4-0.9h0m0.3 1.2h0m0.9 0.3h0m1.5-2.4h0m1 1.5h0m2.5 0.8h0m0-0.6h0m1.4-1.7h0m0.3 2.4h0m0.7-0.8h0m0.3-0.4h0m0.3-1.1h0m0.5 0.6h0m0.7 1.5h0m1.7-2.6h0m0.6 1.6h0m1.2 1h0m0.1-0.4h0m2-2.1h0m1.5 1.1h0m0.2-0.9h0m0.2 2.4h0m-32.6 2.3h0m1.5-1.1h0m1.2 1.6h0m0.3-0.9h0m1.8 0.2h0m0.5-0.4h0m0.7-0.6h0m0.9 1.4h0m1.2-2.2h0m2.9 2.5h0m0 0.1h0m1.4-2.5h0m1.2 0.7h0m0.3 0h0m0.2-0.3h0m0-0.1h0m0.1 1.1h0m0.7-1.5h0m1.7 2.9h0m1.3-2.9h0m0.6 0.9h0m0.4 0.3h0m0.1 1.2h0m0.1-1.7h0m0.1-0.6h0m1.6 0.2h0m0.2 0.4h0m0.9 0.2h0m0.7-0.1h0m0.1 0.8h0m2-1.7h0m0.2 0.2h0m0.2 1.3h0m0.7 0.1h0m0.6 0.7h0m1.1 0.5h0m0-0.5h0m1-0.3h0m0.1 1h0m0.9-1h0m2.3-0.5h0m-37.7 4.4h0m1.7-1.9h0m1.1 1.9h0m0.9-1.7h0m1.2-1h0m1.2 2.3h0m0.4-0.1h0m0.3-0.1h0m1.3-1.2h0m1.3-1h0m3.3 0.5h0m0.4 0.9h0m1.6-0.1h0m0.6-1.3h0m0.4 0h0m0.1 0.9h0m0.6 0.5h0m1.3 1.3h0m0.4-2h0m0-0.1h0m0.6 1.8h0m0.2 0.4h0m0.9-1.5h0m2.6 0.7h0m0.5-0.4h0m0.5 1.2h0m1.2-1h0m0.6 0.5h0m0.1-1.8h0m0.2 1.1h0m1.7 0.1h0m1.5 0.1h0m0.8-1.7h0m3.9 1.4h0m-42.8 2.7h0m2.6-0.3h0m0.8 1.2h0m0.3 0.1h0m0.9-0.1h0m0.2 0.8h0m4.5-2.4h0m0.5 1.7h0m0.9-0.5h0m2.1 0.8h0m0.4-1.3h0m2.5 0.6h0m1.2 0h0m0.8-1.4h0m0.7 2.5h0m1.1-2.6h0m0.3 1h0m0.3 0.9h0m2.4-0.9h0m1.5-1.3h0m0.6 1.5h0m0.1-0.8h0m2-0.4h0m3.7 0.2h0m2.5-0.3h0m0.1 0.6h0m0.2 0.7h0m0.1 0.3h0m0.2-0.1h0m3 0.1h0m0.7-1.3h0m0.8-0.4h0m0.3 1.1h0m1.5 1.3h0m1.1-2.1h0m0.3 0.1h0m0.1-0.4h0m0.5 2.2h0m0.4-0.7h0m1.5 0.3h0m-103.5 1.2h0m1.5 2.3h0m21.7 0.4h0m3-0.2h0m0.9-1h0m6.2 0.3h0m3 0.9h0m2.2-1h0m2.8 1h0m1.4-0.3h0m4.9-0.6h0m0.5 0h0m0.7-1.6h0m2.3 0.2h0m3 0.2h0m1.3-0.3h0m1.4 0.5h0m0.1 1.9h0m0.4-0.4h0m1.8-1.3h0m0.3 1.4h0m0.6 0.2h0m0.6-1.7h0m0.6-0.2h0m0.2 1.2h0m0-0.2h0m0.4-1.8h0m0.1 0.3h0m0.8 2.4h0m3.3-1.6h0m1.5 0.7h0m0.7 0.3h0m4.9-0.2h0m0.2-0.4h0m2.6 0.6h0m1 0.3h0m0.4-0.2h0m0.2-1.5h0m0.8 0.9h0m1.6-1.7h0m0.6 1.8h0m1.4-1.6h0m2.1 2.6h0m1.3-0.1h0m0.2-0.7h0m0.1-0.7h0m0.6 0.2h0m0.7-0.1h0m0.3-0.7h0m3.5 2.2h0m0.4-1.8h0m0.4-0.9h0m1.4 2.3h0m0.6-1.2h0m1 0.1h0m0.1 0.1h0m1.5-0.6h0m1.5 0.6h0m3-0.9h0m2.7 0.1h0m0.4 0.7h0m-99.6 4.2h0m0.9-1.1h0m1.6-0.9h0m1-0.6h0m0.9 2.6h0m0.3-0.3h0m0.3-0.8h0m1.6-0.1h0m1.5 1.3h0m2.1 0.2h0m0.7-1.9h0m0.4 1.4h0m2.9-0.2h0m4-0.4h0m0.7 0.8h0m2.1-0.8h0m0.8 0.9h0m0.5-0.2h0m0.6 0.1h0m1.1-0.2h0m4.4-1.5h0m3.1 0.8h0m0.5-1.4h0m1.3 2.5h0m0.1-2.5h0m3 0.1h0m0.3 1.6h0m0.7-0.3h0m0.3 1.2h0m0.6-0.3h0m0.7-1.3h0m0.1-0.5h0m0.4 0.3h0m2.2-0.8h0m0.1 1.8h0m1.5-2h0m5.2 1.9h0m0.2 0.9h0m0.2-0.3h0m1.1 0.1h0m1.7-1.4h0m0.7 0.8h0m0.6 0.1h0m0 0h0m1.6-2.1h0m2.3 2.2h0m2.1 0.6h0m0.3-2.6h0m0.8 2.4h0m1.5 0.2h0m0.9-0.5h0m0.2-2.2h0m2.4 0.4h0m0 2.1h0m0.6-1.1h0m1.1 1.1h0m2.3-1.5h0m0.6-0.3h0m1.4-0.2h0m1.4 1.1h0m0.5-1.3h0m0.8 1.2h0m0.3-1.2h0m2-0.2h0m1.7 0.3h0m6.5 0.6h0m0.5 0h0m0.2 0.8h0m0.3-0.2h0m0.5-0.4h0m1.1 1.4h0m0.4-1.7h0m0.1 1.5h0m1-2h0m2 2.2h0m0.4-2.1h0m0.2 0.2h0m5.3 0.5h0m0.2 0.3h0m0.2-0.6h0m-94.1 2.1h0m3.7 1.1h0m1.8-0.8h0m0.3 0.4h0m0.5 0.7h0m2.1 0.1h0m0.1-0.6h0m3.3-0.5h0m0.7 0.3h0m0.5 1.8h0m0.5-0.9h0m0.1-0.6h0m0.2 1.8h0m0.8-1.8h0m0.2 0.3h0m1.1-0.7h0m1.1 1.4h0m0.3-1.3h0m0.9 0.6h0m0.5-0.1h0m1.6-1h0m1.8 2.4h0m0.9-2.1h0m0.5 0.9h0m0.7 0.4h0m1.5 0.7h0m1-0.8h0m1.7-1.2h0m0.8 1.7h0m0.6-0.4h0m0.4 0.1h0m0.7-1h0m0.5 0.8h0m0.1 1h0m3.1-1.5h0m0-1h0m0.4 2.6h0m0.3-0.3h0m1.7-1.1h0m0.5-0.8h0m1-0.3h0m0.1 1.9h0m0.4-0.1h0m0.7-0.1h0m2.4-0.5h0m3.9-0.3h0m1.3-0.3h0m1.3 1.6h0m1.4-0.6h0m0.2-0.7h0m2.1-0.2h0m1.6 1.5h0m0.5-1h0m0.4-0.4h0m0.2-0.5h0m0.9 1.4h0m0.6-1.1h0m0.1 1.1h0m1.1-2.1h0m0 2.7h0m0.2 0h0m1.5-1.3h0m0.9 0.1h0m1.4-1h0m0.7 0.3h0m1.5-0.7h0m0 0.4h0m1.3 0.2h0m3.9 1.5h0m0.1-1.3h0m0.4-0.5h0m0.1 1.6h0m0.5-2.1h0m0.1 2.8h0m0.1-2.5h0m0.3 1.7h0m0.1-0.5h0m0.6 0.8h0m0.4 0.3h0m1.3 0.1h0m0.9-1.2h0m0.6-1.1h0m0.4-0.3h0m1.9 1.5h0m1.9-0.5h0m0.5-0.1h0m0 1.5h0m0.7-1.1h0m0.3 1.3h0m1.4-2h0m0 0.6h0m1.1 1.2h0m0.4-0.1h0m0.5-0.3h0m0.9 0.2h0m0.2 0.4h0m0.3 0h0m0.6-1.1h0m1.9-0.4h0m0.4 1.3h0m0.3-1.5h0m2.1-0.3h0m1.8 1.7h0m0.4 0h0m0.3-0.8h0m3.1-1.5h0m-89.1 3h0m3 0.6h0m0.3-0.4h0m1.8 0.9h0m0.1 0.4h0m0-0.2h0m0.1-1h0m3.8-0.4h0m1.8 0.6h0m2.6-0.4h0m0.3 0.8h0m0.4 1.6h0m1 0.2h0m1-2.4h0m0.9 2h0m1.2-1h0m0.1-1.2h0m0.3 1.7h0m2.2 0.8h0m0.6-2.4h0m0.8 0.2h0m0.6 1.2h0m1.7-0.8h0m0.8 0.1h0m2.2 0.6h0m0.1-0.5h0m1.2 1.8h0m0.3-1.7h0m1.8 1.1h0m0.1-0.7h0m0.2 0h0m0.2 1.2h0m1.2-0.5h0m1.6-1.2h0m1.3 0.8h0m0.8-1.8h0m0.1 0.8h0m0.1-0.9h0m1.3 1.3h0m0.2 0.4h0m0.2 0.3h0m0.9 0.8h0m2.6-0.7h0m3-1.6h0m2.4 2.2h0m0.5-1.5h0m0.1 1.5h0m0.9-0.5h0m1.4-0.7h0m2.8 0.4h0m3.2-1.1h0m1.5 1h0m0.2-0.5h0m1.7-0.2h0m1.9 0.3h0m0.1 0.3h0m0.2-1.1h0m0.2 1.1h0m1.3-0.3h0m0.2 1h0m2-1.2h0m2.1 1.7h0m0.1-1.9h0m0.6 0.6h0m1.1 1.2h0m0.7-2.6h0m0.2 2.2h0m0.3-1.3h0m0.4-0.9h0m0.2 0.1h0m1.3 2.2h0m0.4-1.6h0m0.3 1.4h0m0.3-1.7h0m0.4 0.7h0m0.4 1.2h0m2.3 0.1h0m0.3-2.4h0m0.3 2.5h0m0.5-1.4h0m1.5 0.2h0m0.2 1.4h0m0.8-1.5h0m0.4-1.3h0m1.9 0.2h0m0.6 0.6h0m0.2 1.2h0m0-1.1h0m1.2 2h0m0.3-2.7h0m0.9 1.6h0m0 0.9h0m-82.1 1.9h0m3.6-0.7h0m1.1 0.9h0m0.2-0.1h0m1.2 0.6h0m0.9-0.4h0m1.1-1.5h0m0.4 1h0m0.8 1.5h0m0.2-2.5h0m0-0.1h0m0.1 0.1h0m1.1 0.8h0m1.6 1.2h0m1.1-2.1h0m0.3 2.2h0m2.7-1.6h0m0 2h0m2-2.2h0m0.3 1.7h0m1.6-1.7h0m1.6 0h0m2.4-0.2h0m0.6 2.1h0m0.1-1.8h0m0.1-0.5h0m0.9 2.2h0m0.8-1.4h0m0.1 1.1h0m0.2-1.2h0m0 0.3h0m0.3-1h0m0.5 1.1h0m0.3 0.7h0m0.5-0.2h0m2.3-1.7h0m0.5 0.6h0m2.1 1.1h0m0.5-1.9h0m0.4 0h0m0 2.5h0m3.2 0.1h0m1.5-1h0m1-1.4h0m0.1 2.1h0m0.2-0.3h0m0.9-1.3h0m1.2-0.2h0m0.4-0.3h0m0.4 0.3h0m0.1 1.5h0m2.4-1.6h0m0.9-0.3h0m0.2 1.3h0m4.3-0.6h0m0.7 0h0m0.5-0.5h0m1.1 0.7h0m0.8 0.8h0m0.9-0.6h0m0.7 1h0m0.4-0.6h0m1.4 0.8h0m0.2-0.7h0m0.8-1.8h0m0.1 0.9h0m1.9-0.7h0m1.2 1.3h0m0.7 0.5h0m0-0.1h0m0.5-1.6h0m0.8 1h0m2.3-0.3h0m0.2 1.4h0m1.4-2.2h0m1.5 0.6h0m1.2 0h0m0.5 1.9h0m1.4 0.2h0m0.5-0.6h0m0.2-1.7h0m0 0.3h0m0.4 0.2h0m1.2-0.7h0m0.1 0.9h0m3.2-0.1h0m1.4 0.4h0m0.6-0.7h0m1 1.2h0m0.2-0.4h0m0.3-1.1h0m-76.5 4.5h0m5.4-0.5h0m3.4 1.4h0m1-1.8h0m0.6 1.5h0m3.2-2h0m0 1.4h0m0.2-1.4h0m0.7-0.1h0m0.6 0.4h0m1 1h0m0.3 0h0m1.3-0.4h0m5 1.4h0m0.7-0.3h0m0.9-1.2h0m0.2-0.3h0m1.4 1.4h0m1.7-1.2h0m0.5-0.6h0m0.4 2.1h0m1.3-1.3h0m0.9 1.2h0m0-0.7h0m0.9 0.5h0m1.9 0.1h0m1.1-1.8h0m0.5 0.1h0m4.9 1.9h0m0.4-2.5h0m0.5 0.3h0m0.6-0.4h0m1.2 0.5h0m0.1 1.3h0m0.4-0.3h0m0.3 0.2h0m0.1-0.2h0m0.1-0.5h0m2.4 0.5h0m1 0.6h0m0.3 0.3h0m1.4-1.7h0m0.1 0h0m0.1-0.8h0m1.3 1.1h0m0.7 0.6h0m0.3-0.5h0m0.3 1.5h0m1.5-0.8h0m1-1.5h0m1.3 1.4h0m0.1-1.7h0m0.4-0.1h0m1.3-0.1h0m0.7 1h0m0.1 1.4h0m3 0.1h0m2.1 0.2h0m1.5 0.2h0m0.8-1.6h0m0.4-0.7h0m0.2 2h0m1.1-1h0m1.3-1.3h0m1.7 1.3h0m5-1.4h0m0.8 1.6h0m0.2-0.6h0m0.2-1h0m-76.2 3h0m0.2 0.9h0m5.7-0.1h0m0.8-0.8h0m2.3 2.4h0m0.3-1h0m1.4 0.8h0m1.1-1.1h0m0.7-1.4h0m0.8 2h0m0-0.7h0m0.9 1.5h0m0.1 0.2h0m4-2.1h0m1.3 0.6h0m2.1-1.2h0m0.1 0h0m0 0.4h0m1.2-0.4h0m0.8 2.1h0m0.1-1.1h0m1.7 1.4h0m1-0.1h0m0.5 0h0m1.3 0.2h0m0.2-0.9h0m1 0.9h0m0.4-0.5h0m4.1-1.1h0m0 1.6h0m0.3-2h0m0.9-0.2h0m1.8 0.8h0m0.4 1.1h0m1.3-2.1h0m0.5-0.4h0m0.3 1.7h0m0.2-0.9h0m1.2-0.4h0m0.1 0.7h0m0.1-0.4h0m0.2 0.6h0m2.4 0h0m1.2 0.7h0m0.9-1.2h0m0.3 0.9h0m1.6 0.5h0m0.4 0.2h0m1-0.3h0m1-0.9h0m0.1 1.3h0m1.1-1.5h0m1.4-0.9h0m0.4 2.4h0m0.1-1.9h0m1.4 1.1h0m0.7-1.6h0m0.9 1.7h0m0.6 0h0m0.8-1.2h0m2.9-0.1h0m3.3 0.3h0m0.1-0.3h0m0.3 2.5h0m1-2.9h0m0.2 1.9h0m1.9-0.3h0m4.6-0.7h0m1-0.8h0m2.4 1.8h0m0.9-0.4h0m-76.3 2.1h0m1.8 1.1h0m0.4 1.2h0m0.6-0.6h0m0.3-1.4h0m0.3-0.2h0m0.9-0.4h0m0.8 0.3h0m0.2 2.1h0m0.7-0.9h0m0.1-0.7h0m0.2 0.1h0m1 1.5h0m0.6-2.3h0m0.4 0.4h0m2.6-0.8h0m1.1 1.2h0m0 0.1h0m0.8-1.3h0m0.7 2.3h0m0.6-1.5h0m0.2 1.6h0m0.1-1.8h0m0.2-0.4h0m1.4 0h0m1.6 1.2h0m0.4-1h0m0.1 2.2h0m0-1.5h0m0.4-0.6h0m1.3 1.9h0m4.5-0.3h0m0.3 0.2h0m1.1-1.5h0m0.2 0.3h0m1-0.8h0m1 0.9h0m1-0.4h0m1.2 0.8h0m0.4-0.8h0m0.7-0.9h0m0.5 1.5h0m1.1-1.2h0m1.7 0.6h0m1.5 0.8h0m2 1h0m0.3-1.1h0m1.2 1h0m1 0.2h0m0.5-2.3h0m0.9-0.3h0m0.3 1.6h0m0.7-0.6h0m0.3-0.9h0m0.1 1.4h0m2.4-0.3h0m4.6 0.3h0m0.8 0.5h0m0.9-0.9h0m1.3 0.3h0m1.8-0.6h0m0.2 0.9h0m0.1-0.6h0m0.4-1.1h0m1.3 2.3h0m2.2-0.6h0m0.3-1.7h0m1 1.2h0m0.3 1.6h0m2.4-0.4h0m0-1.7h0m1.5 0.9h0m1.1-0.4h0m0.2 1.1h0m0.6-1.5h0m1-0.2h0m0.2 2.1h0m1.2-0.6h0m0.3 0.6h0m0-2.5h0m0.4 2.2h0m2.3-0.4h0m0-1.5h0m1.8 1.1h0m0.4-0.2h0m0.5-1.3h0m1.9 1.3h0m-74.7 1.6h0m2 2.5h0m1-2.7h0m1 2.2h0m0.7-1.8h0m1.5 0.3h0m0.1 0.7h0m0.5 1.4h0m0.5-2.4h0m0 2.4h0m0.1-0.9h0m1.7-1.8h0m0.2 2.6h0m2.9 0.2h0m1-1.3h0m1.6 0.4h0m0.2-0.9h0m3.2 0.7h0m1.9-0.4h0m0.7 1.4h0m0.8-1.4h0m1.8-0.4h0m0.3 1h0m0.6-1.8h0m3.3 2.2h0m0.9-1.6h0m1.2 0.2h0m0.9 1.9h0m5.1-1.6h0m0.2 1.5h0m0 0.1h0m0.2-0.1h0m1.8-1.3h0m0.4 0.2h0m0.3-0.2h0m0.6 1.3h0m0.4-1.7h0m0.2-0.3h0m2 1.4h0m0.7-0.4h0m3.3 1.2h0m2.8-1.8h0m0 1.6h0m0.8-1.6h0m2.1 1.3h0m0.7-0.2h0m0.7-1.9h0m1.7 0.3h0m2.1 2.1h0m1.1-1.4h0m1 0.2h0m4 0.6h0m1.7-1.8h0m0.6-0.2h0m0 2.2h0m3.9-0.4h0m0.2 0.7h0m0.2-0.3h0m0.6 0h0m2.6-0.6h0m-70.9 3.1h0m0.9 0.3h0m0.6 0h0m2.7 0h0m0.2 0.7h0m3.5-0.3h0m2.5-1h0m0.7 0h0m0.1 0.3h0m0.9-0.7h0m0.1-0.1h0m0 1.4h0m1.4 0.1h0m2.4 0.3h0m0.9 0h0m3-0.9h0m0.3-1.6h0m1.5 0.9h0m0.8 1.1h0m0-0.3h0m0.5-1.8h0m0.1 2.6h0m1.4-0.4h0m0.6-0.7h0m0.1-1.8h0m0.7 2.7h0m2.5-1.4h0m0 1.6h0m1-1.7h0m3.1 0.4h0m0.6 0.4h0m2.6-1.4h0m3.9-0.6h0m0.9 1.2h0m0-0.3h0m0.3 1.2h0m0.5 0.6h0m1.8-2.5h0m0.7 0.9h0m0-1h0m0.1 1.9h0m0.3-1.4h0m1.9 1.5h0m2.4 0.3h0m0.9 0.5h0m0.9-0.9h0m1.6 0.8h0m0.1-2.4h0m0.2 1.1h0m0.9-0.6h0m1.4 0.9h0m0.5-1.1h0m0.6 0.9h0m0.3-1.2h0m2.5 0.8h0m0.9 1.6h0m0.8-2.3h0m1.7 1.9h0m1.7 0.2h0m1.1-0.5h0m0.2 0h0m0.4 0.6h0m1.8-0.7h0m0.1-1.8h0m-68.4 3.1h0m0.3 0.2h0m1.7 0.6h0m0.4-0.4h0m0.5 0.1h0m3.3 0.6h0m0.5-1.2h0m0.7 2.4h0m0.5 0.3h0m0.5-0.6h0m2.3-2.2h0m0.5 0.4h0m0.3 1.6h0m0.2-0.8h0m1.1-0.4h0m1 0.8h0m1-0.2h0m1.1-1.1h0m0.8-0.3h0m3.6 2h0m2.7-1.3h0m0.9-0.6h0m0.8 2.2h0m1.4-2.2h0m1.1 1.9h0m3.6-0.7h0m0.4-0.4h0m4.3 0.9h0m0.4 0.2h0m0.8-0.1h0m3.8-1.9h0m1.5 0.7h0m2.5 2.1h0m0.4-1.5h0m0.3-0.3h0m0.8 0.3h0m2.2 0.3h0m0.2 1.1h0m1.1-2.7h0m0 2.5h0m1.5 0h0m0.4-0.7h0m0.2-1.7h0m0.6 2.6h0m0.6-1.7h0m1 0.8h0m0 0.7h0m0.4 0.3h0m0.9-1.6h0m1-1.2h0m0.8 0.3h0m0.1-0.1h0m0.2 2.1h0m1-0.5h0m1.3 0.9h0m1-0.7h0m0.1-0.5h0m0.3-0.8h0m0.5 0.6h0m0.2-1.2h0m0.5 2.3h0m0.1-0.3h0m1.8-1.6h0m2.6 1.8h0m1-1h0m-68.9 4.5h0m0.8-0.7h0m1.5-0.6h0m0.6 0.7h0m0.4-1.2h0m0.1-0.7h0m0.7 0.4h0m0.2-0.3h0m3.8 2.4h0m0-1.8h0m0.1 0.2h0m0.8-1.2h0m0.4 2.2h0m0.4 0.2h0m0.4-1.8h0m0.2 0h0m0.9 2.2h0m2-1.9h0m0.2 1.5h0m5.5 0.3h0m0.9-2.5h0m0.2 1.9h0m0.3-1.3h0m1.5-0.2h0m0.2 1.2h0m1.6-1.1h0m0-0.2h0m1.7 1.3h0m3.8-0.9h0m1.8 1.4h0m2.9-1.9h0m2.4 0.9h0m0.4 0.2h0m1 0.4h0m0.3 0.8h0m0.8-1.8h0m0.1 0.2h0m1.7-0.7h0m0.9 0h0m0.5-0.2h0m1.6 2.3h0m1-1h0m1.8 1.2h0m2.7-1.4h0m0.1 0h0m3.6-0.2h0m0.8 1.6h0m3.6-0.4h0m0.7-1.7h0m3.2 0h0m0.3 0.6h0m0.7 1.6h0m0.6-0.2h0m0.3-0.1h0m1.4-1.6h0m0.7-0.2h0m0.8 0.2h0m2.1-0.6h0m-61.1 3h0m1.4 0.5h0m2.9 0.9h0m0.9-0.6h0m1.4 0.5h0m0.3-0.6h0m0.5 0.8h0m0.9-1.2h0m2.4 1.5h0m0.4 0.5h0m1.2-2.6h0m0.6 1.8h0m0.9 0.2h0m0.5 0.3h0m1.2-0.8h0m0.6 0.4h0m2.1 0.6h0m1.9-1.6h0m1 1.5h0m0.2-0.4h0m1.2 0.2h0m0.9-2.1h0m0.2 2.6h0m1.1-1.7h0m0.7 0.4h0m1.5 0.2h0m3.1-0.9h0m3.9-0.1h0m0.7-0.2h0m1 1.3h0m2.3 0.7h0m1-1.7h0m1.6 1.6h0m0.5-0.9h0m0.6-1.2h0m1.3 1.2h0m1.4-0.7h0m0.2 1.7h0m0.9 0.4h0m0.6-1.5h0m0.8-1.2h0m0.9 1.7h0m0.4-1h0m0.5-0.9h0m0.7 0.3h0m0.3 0.6h0m0.7 0.4h0m0.4-0.5h0m1.4-0.8h0m0.2 2.7h0m3.1 0.2h0m1.9-1.7h0m-55.5 4.8h0m1.3-2.2h0m0.2-0.4h0m0.1 0.5h0m0.1-0.6h0m2.7 1.9h0m0.2-1.2h0m1.2 2h0m0.5-2.1h0m1.8-0.5h0m0.5-0.2h0m0.7 0.4h0m0.4 0.1h0m2.6 0.8h0m1.4 0.7h0m0.1 0.6h0m0-2.6h0m3.9 1.9h0m1.9-0.6h0m1.6 0.7h0m0.1-0.8h0m0.2-0.1h0m3.8 0.7h0m0.2-0.6h0m0.9-1h0m4.4 2.4h0m0.5-0.4h0m1.5-0.7h0m1.2-0.8h0m2.8-0.1h0m2.6 2.1h0m0-2.8h0m2.1 2.2h0m0.8-0.7h0m0.5 0.4h0m0.3 0h0m0.1-1.8h0m0.5-0.2h0m0.3 0.8h0m0.8 1.9h0m0.2-0.8h0m3.9-0.5h0m0.3 1.4h0m0.1-0.8h0m0.5 0.5h0m0.8-2.1h0m1.9 1.5h0m0.8-0.7h0m-49.5 2.3h0m0.2 1.7h0m0.9-0.6h0m0.5-1.2h0m0.1 1.4h0m0.4 0.9h0m0.5-1.6h0m0.7-1h0m2 0.7h0m0.3 0.3h0m1.9 0.9h0m0.2-0.2h0m1.1-0.6h0m1.1-0.3h0m2.5-0.7h0m2.2 2h0m0.6-1.6h0m0.4 0.5h0m0.7-1h0m0.1 0.1h0m2.2 0.8h0m1.6 0.2h0m1 0.2h0m0.7 1.4h0m2.2-1.8h0m0 2h0m0.3-0.1h0m0.4-0.1h0m0.2-0.3h0m2.7-1.7h0m0.5 0.4h0m1.6-0.1h0m1.4-0.5h0m0 2.2h0m1.3-2h0m2.2 2h0m3.4-1.5h0m0.5-1h0m2.9 0.2h0m0.2-0.4h0m1.2 0.1h0m0.1 0.8h0m0.4 1.2h0m2.7-1.8h0m-39.2 3.6h0m0.9 1.5h0m0.7-0.6h0m1.5 1.1h0m1.2-1.3h0m0-0.3h0m1.2 1.5h0m1.6-0.9h0m0.7-0.6h0m1.3-0.2h0m0.2 1h0m0.1-1.6h0m0.5 2.1h0m1.5-0.5h0m0.4 0.2h0m0.2 0.5h0m0.2-0.6h0m0.7 0.1h0m2.1-0.6h0m2.1 1h0m1-2.5h0m4.4 1.9h0m0.5-0.8h0m4.1 0.9h0m1.1 0.3h0m0.4-2.2h0m0.5-0.3h0m0.6 0.1h0m0.3 2h0m1.4 0.4h0m1 0.1h0m1.1-0.3h0m0.7-0.5h0m1.1-0.4h0m0.3 1.4h0m2.1-0.1h0m1-1.3h0m-35.3 2.8h0m1.2-1.2h0m0.4 0h0m1.3 2.2h0m0.2-1.7h0m0.3 1.2h0m1.9 0.2h0m0.9-0.6h0m1 0.1h0m2.1 1.4h0m3.7-2.8h0m0.1 1.7h0m0.5-1h0m0.6 0.9h0m3.1-0.6h0m0.7 1.4h0m0.4-0.9h0m0 0.3h0m1.6-1.5h0m1 1.2h0m0.8-1.1h0m0.6-0.4h0m1.6 2.7h0m0.6-0.9h0m0.4-0.5h0m0.3-0.9h0m7.2 0.1h0m-30.4 2.9h0m0.8 2.3h0m0.1-0.7h0m0.1-1.1h0m2.2-0.5h0m2.6 0.9h0m1.3-0.7h0m0.1 0.5h0m1.3 1.5h0m0.1 0.1h0m0.1-2.3h0m1 0h0m0.4 1.7h0m0.3-0.7h0m0.3-1.2h0m2.5 1.6h0m0.5 0h0m0.3-0.1h0m0.2-1.7h0m0.4 1.3h0m0.3 1.6h0m2-2.6h0m1.1-0.2h0m0.2 1.9h0m0.2-1.3h0m0.2-0.7h0m1.7 1.9h0m2.3-0.3h0m0 0.6h0m0-1.9h0m1.4 1h0m0.8 1.6h0m0.1-1.9h0m0 0.9h0m2.9-0.8h0m0.2 1.7h0m1-2.9h0m0.7 2.9h0m1.1-2.7h0m-30 3.4h0m1.6-0.2h0m0 0.2h0m0.4-0.4h0m0.7 1.4h0m1.5 1h0m1.3 0.1h0m0-0.7h0m0.9 0.8h0m1.5-0.4h0m0.1 0.1h0m0.3-0.2h0m0.4-0.5h0m0.6-0.9h0m0.4 1.8h0m0.2-2.6h0m0.8 1.3h0m1.2 1.3h0m0.4-0.9h0m0.6 1.1h0m0.4-2.6h0m0.6 0.3h0m0.3 0.5h0m1-0.7h0m2.8 0.6h0m1.9-0.5h0m3.5 1.3h0m2 0h0m-18.1 3.6h0m2.1 0.3h0m0.1-0.2h0m0.3-2.3h0m1 0.9h0m2.9-0.2h0m1.1-0.4h0m2.2 0.3h0m1.1 0h0m4.7 0.2h0m0.5 0.5h0m0.7-0.6h0m0.5 0.2h0m0.2 0.7h0m0.3-1.6h0m0.7-0.2h0m-19.8 4.8h0m2.2-0.4h0m0.8-1.4h0m1.6 0.5h0m0.7 1.1h0m0 0.8h0m2.3-0.3h0m0.3-1.8h0m0.1 0.5h0m0.3-0.5h0m1.1 0.9h0m1 0.6h0m0.8 1.1h0m0.7-2.2h0m0.3 1.3h0m2 0h0m1.8-0.1h0m0.6-0.6h0m1.4-0.9h0m1.7 0.8h0m-17.8 2.2h0m2.7 1.1h0m2.5-0.4h0m0.8 1h0m1.3-1.5h0m0.1-0.5h0m0.6 0.2h0m0.2-0.2h0m0.1 0h0m2.4 0.9h0m0 1.9h0m0.4-1.8h0m3.9 1.8h0m0.7-0.6h0m-14.5 0.9h0m4.7-0.1h0m0.2 2.5h0m0.3-1.8h0m0.6 0.6h0m0.8 0h0m0.4 1.2h0m0.7-1.6h0m1.1 1.1h0m0.5 0.5h0m0-0.8h0m0.4 1.1h0m1.3-1.8h0m2.3 0.8h0m-10.9 1.2h0m1 2.1h0m2.6 0.8h0m0.1-0.4h0m1.7-0.9h0m1.6 0.6h0m-7 1.5h0m2.3 0.9h0m1.8 1.1h0m0.5-2.7h0m1.2 2.5h0m1-0.2h0m2.3-1.5h0" stroke="#f19c2c" stroke-width="1.05" stroke-linecap="round" stroke-opacity="0.75" fill="none"/>
<path d="M325.9 365.7h0m-2.7 1.4h0m-2.7 3.6h0m0.2 3.1h0m-7.6 3.3h0m1.6-1.2h0m-1.3 2.4h0m4.5 2.6h0m1-0.8h0m-8.9 3.7h0m0.4-2.6h0m0.3 0.8h0m0.7-0.2h0m1 0.3h0m1.9-0.1h0m5.4 1.2h0m-12.3 2.7h0m-7.3 5.1h0m11.1-1h0m8.8 1.3h0m-28.4 3.1h0m6 1.3h0m3-0.9h0m0.9-1.2h0m-8.3 4.1h0m9.2 0h0m7.1-1h0m3.1 1.3h0m1.8-1.7h0m2.8-0.3h0m-28 5.5h0m7-2.2h0m1.3 0.5h0m12.3 2h0m1.2-2.1h0m4.5 0.3h0m-48.2 4.7h0m14.6-2.2h0m2.2 1.5h0m13.9-1.4h0m3.8 2.4h0m5.1-0.4h0m0.2-0.6h0m1.5-0.7h0m-86 4h0m9.3 0.6h0m7.6-0.2h0m13.3-0.3h0m12.1 0.5h0m1.8-2.7h0m9.6 0h0m2.2 1.3h0m17.8 0.9h0m16.6-1.4h0m-95.9 4h0m8-0.6h0m13.6 1h0m3.3 0.5h0m7.2-0.7h0m0.4-1.7h0m8-0.2h0m3.3 0.1h0m4 2.2h0m13.3-2.1h0m1.9 1.9h0m4.5 0.1h0m2.2-0.8h0m1.4-0.7h0m2.5-0.5h0m6.7 0.3h0m6.3 0.7h0m0.6 1.1h0m5.4-0.6h0m-89.9 3.1h0m17.9-1.8h0m1.4 1.9h0m2-0.6h0m0.5 1.3h0m1.5-1.4h0m3.3-0.3h0m1.5 0.9h0m2.9 0.9h0m4.4-1.9h0m6.1 0.1h0m8.7-1h0m8.6 0h0m0.5 2.7h0m19.9-0.2h0m2.4-1.8h0m-61.2 3.5h0m2.3 0.4h0m3.7 0.7h0m2.2-1.9h0m24.2 0.7h0m4.9 1h0m4-1h0m2.7 1.6h0m2.5-2.6h0m0.8 0.1h0m17.7-0.4h0m-68.8 3.4h0m10 1.4h0m0.1-0.5h0m7.9-0.1h0m8.3 0.7h0m16.8-0.3h0m5.5-1.4h0m0.1 1.5h0m8.8-1h0m5.8 0.1h0m1.9 0h0m-68.6 4.2h0m7.1-1.7h0m2.9 0.7h0m4.7 0.1h0m0.2-0.7h0m14.3 1.1h0m1.1-0.7h0m7.5-0.6h0m2.4 2.3h0m1.1-1.9h0m3.2 1.9h0m7.8 0.2h0m2-2.1h0m0.6 1.5h0m3.9-1.3h0m8.2 0.2h0m3 1.1h0m1.9-0.8h0m-63.2 3.9h0m6.6 0.3h0m5-2h0m5.1 0.9h0m0.9-0.6h0m2.1 1.8h0m0.3-0.9h0m1.8 0.1h0m3.8 0.1h0m4.9 0.8h0m4-1.6h0m4.1-0.3h0m22.3 0.6h0m4.9 1.6h0m-69.1 2.4h0m2.3-0.5h0m14.8-0.6h0m8.4 0h0m6.5-0.5h0m4.2 0.1h0m19.7 1.5h0m2.1-1.8h0m3.6-0.2h0m4.1 1.7h0m1.6 0.4h0m-71.1 3.2h0m1.1-1.4h0m5.5-1.3h0m5.5 1.6h0m0.5 0.1h0m13.9-1.4h0m3.3 0.5h0m1.3 1.7h0m0.1-0.6h0m35.7-0.3h0m0.7 0.3h0m-59.5 1.9h0m5.9 1.8h0m16.5-1.7h0m0.7 1.6h0m3.6-0.8h0m16.1 0.4h0m1.2-0.7h0m0.9 0.1h0m4.9 0.9h0m2.2 0.5h0m3.3-0.5h0m0.2 0.3h0m1.7-2.5h0m-63.9 4.6h0m4.1 0.3h0m0.4 0.5h0m4.2-0.1h0m0.2 0.1h0m0.4-2.5h0m5 2.4h0m0.2-1h0m0.9-1.1h0m2.3-0.2h0m1.4 0.1h0m9.5 1.8h0m22.4-1.9h0m1.2 0.6h0m0.2 1.7h0m2-1.9h0m4.4 1.7h0m-54.6 1.1h0m5.3 1.7h0m8.2 0.8h0m7.3-2.4h0m6.6 1.3h0m0.1-0.6h0m15.4-1.1h0m4.8 2.9h0m5-0.5h0m0.7-0.8h0m7.6-1.6h0m-55 4.3h0m5.4-0.5h0m6.1 1.1h0m3.8-1.6h0m1.9 0h0m0.3 2.1h0m11.9-2h0m0.9 1.9h0m1.2 0.4h0m8.6-2.4h0m6 1.8h0m1.7-1.8h0m0.4 1.4h0m0.2-1.3h0m-50.8 3.3h0m2.4 1.9h0m0.9-1.2h0m1.7 0.4h0m5.9-1.8h0m5.6 1.5h0m3.9 1.1h0m11-0.7h0m0.4-1.9h0m2.5 0.3h0m5 0.4h0m0.8 1.5h0m2.2 0h0m0.7 0.3h0m2.7-0.3h0m1.7-1.2h0m-46.9 2.8h0m1.5 0.2h0m2 1.4h0m0.1-1.3h0m1.9-0.4h0m0.2 2.2h0m0.3-2.6h0m5 1.4h0m9.3-0.5h0m15.4-0.5h0m9.2 1.8h0m-33.7 1.2h0m7.3 1.9h0m12.8-1.9h0m8.1 2.1h0m-29.3 0.3h0m2.3 1h0m4.3 1.7h0m1.6-1.5h0m0.1 1.1h0m11.7-1.8h0m1.8 0.4h0m1.3 0.6h0m-14.7 3.7h0m0.2 0.5h0m1.8-1.6h0m2 1.6h0m2.7-0.4h0m5.6-1.5h0m0.9 0.4h0m7-0.1h0m4 0.2h0m-23.9 1.7h0m1.9 0.1h0m7.8 1.5h0m3.4-1.3h0m1.3 0.6h0m0.4 0h0m2.2 1.6h0m0.2-0.6h0m2.2-0.2h0m4.5-1.5h0m-22.2 4.4h0m3.5-0.1h0m3.2 1h0m4.2-1.7h0m1.9-0.2h0m1.9-0.4h0m4.5 1.7h0m-17.4 3.3h0m7.3 0.3h0m2.1 0.3h0m3.9-0.3h0m2.4-0.9h0m1.5-1.2h0m-10.6 4.2h0m1.6-0.8h0m2.1-0.8h0m1.9 0.4h0m1 4h0m-7.4 4.1h0m4.8-0.8h0m0.4-1.4h0m-2.7 2.7h0" stroke="#fdf3ea" stroke-width="1.0" stroke-linecap="round" stroke-opacity="0.7" fill="none"/>
<path d="M325 365h0m1.1 0.2h0m1.8-0.8h0m0.7 0.1h0m-6.8 3h0m1.1-1.3h0m0.2 2.1h0m0.6 0.2h0m0.2-2.2h0m1 2.1h0m1.2-0.9h0m-8.8 4.5h0m0.3-0.7h0m0.7-0.1h0m0.6-0.4h0m0.6-0.4h0m0-1.1h0m0.1 1.2h0m1.1 0h0m0.2 1.4h0m1.3-2.7h0m0 2.6h0m1.3-2.7h0m1.1 0.7h0m0.8 0h0m-9.2 3.7h0m0.8 0.8h0m0.2-0.8h0m1.9 0.2h0m0.1 0.7h0m0.3-1h0m0.2 0.9h0m0.1-0.6h0m0.1 0.3h0m0 0.4h0m0.6-2.3h0m0.2 1.1h0m1.8-0.7h0m0-0.1h0m0.4 0.6h0m0.1 0.1h0m0.2-0.1h0m-11 2.2h0m0.6 2h0m0.8-0.7h0m0.7-1.4h0m1.7 0.1h0m0 2h0m0.2-2h0m1.1 0.6h0m0 1.8h0m0.9-0.3h0m0.9 0.1h0m0.5 0h0m0.2-2.1h0m0.1 0h0m0.6 0.9h0m0.2 0.9h0m1.1 0.5h0m0.3-1.2h0m0.5 1.4h0m0-2.4h0m0-0.2h0m0.5 1.2h0m-12.4 4.4h0m1.3-1.3h0m0.2-0.5h0m0.6 1.7h0m0.2-0.7h0m0.9-1.4h0m0.5 2.2h0m0.6-0.2h0m0.9-0.1h0m0.8-2.3h0m0-0.1h0m0.2 1.2h0m0.2-0.4h0m1.4-0.4h0m0.2 0h0m2.4 0.9h0m0.7 0h0m-13.6 3.1h0m0.2 0.4h0m0.8 0h0m2.8 0h0m0.4-1.7h0m1.1 2h0m0.1 0.5h0m0.6-2.3h0m0 1.1h0m0.1 0.1h0m0.5 0.9h0m0.9-0.7h0m1.3-1.7h0m0.1 2.4h0m1.8 0h0m0.6-0.1h0m0.2-2h0m0.1 1.9h0m1 0.2h0m0.9-1.5h0m0.3-0.6h0m0.2-0.2h0m-16.9 5.3h0m0.5 0.4h0m1.8-1.3h0m0.2 0.1h0m1-0.1h0m0.7 0.9h0m0.6-2.1h0m3 1h0m2.5-0.3h0m0.3 0h0m1.4 0.1h0m1.2 1.5h0m0.5-1.2h0m0.8 0.6h0m0-1.1h0m1.7-0.5h0m-22.3 5.3h0m2.3-0.2h0m0.5-1.8h0m0.9-0.6h0m1.6 0.2h0m1.1 2h0m0.3-0.8h0m1.1 0h0m0.3-0.6h0m0.3-0.1h0m1.1 0.9h0m1.4 0.6h0m0.2-1.7h0m0.7 0.8h0m0.3-0.5h0m0 0.7h0m0.1-0.7h0m0-1h0m0.2 0.5h0m0.8 0.2h0m0.2 0.4h0m1.1 1.1h0m1-1.6h0m0.1 0h0m0.3 2.2h0m0.1-0.3h0m2.7-0.6h0m0.8 0.7h0m0.3-2.2h0m-20 5.5h0m2.6-0.8h0m0.5-0.7h0m0.7 1.6h0m0.6-2.1h0m0.4-0.8h0m0.4 0h0m1.5 1.3h0m0.2 1.5h0m1.5 0h0m0.3-2.5h0m0.6 0.9h0m2-1h0m0.1 0.8h0m0.1 1.9h0m0.7-3h0m1.9 0.4h0m0.5 0.4h0m0.2-0.5h0m0.3 1.7h0m0.2-0.8h0m0.3-0.3h0m1.2-0.5h0m0.6 0.7h0m0.8-1h0m0.1 0.2h0m0.1 1.5h0m0.4-1.1h0m0 1.6h0m0.2-2h0m0.2 1.9h0m0.6-0.7h0m0.9 0.3h0m-26.8 3.4h0m1.1-1h0m0.1-0.7h0m1.5 0.5h0m0.7-0.1h0m1.1 1.8h0m0.4-1.4h0m0.2-0.3h0m1.6 0.8h0m0.1 1.1h0m2.5-2.9h0m0.4 2.2h0m0.6-0.7h0m0.1-1.4h0m0.6 2.8h0m0.1-2.7h0m0.6 0.2h0m1.5 1.3h0m0.2 0.7h0m1.2 0.3h0m0.3-1.2h0m0.4-0.3h0m0.2-0.9h0m0.4 1.1h0m1.2 0.4h0m0.9 0h0m0.3 0.9h0m0-0.5h0m0.2-1.9h0m0.5 0h0m0.2 2.2h0m1.7-0.2h0m0.4-2.2h0m1.2 0.2h0m0.1 1.7h0m0 0.5h0m0.2-2.2h0m0.6 0.1h0m0.6 0.1h0m0.2 1h0m0.1 1.5h0m0-1.3h0m-32.6 3.4h0m1.1-1h0m2.1 1.7h0m0.3-1.8h0m0.3-0.1h0m0 0.1h0m0.8 1.9h0m1.2-1.2h0m0.5-0.6h0m0.5 0.7h0m0.6-0.7h0m1.1 0.3h0m1.2-1.1h0m1.2 2.1h0m0 0h0m1-0.6h0m0.7-0.6h0m1.2 1.4h0m1.8-0.8h0m0.2-0.2h0m1.3 0.1h0m0.9 0.9h0m0-2.4h0m0.3 2.6h0m0.1-0.9h0m2.2 0.1h0m0-1.6h0m1.2 2.5h0m0.4-2.7h0m0.7 0.2h0m0 1h0m2.4-1h0m1.6 0.5h0m0.1-0.8h0m0.3 0.7h0m0.1-0.5h0m0.8-0.2h0m0.8 0.7h0m0.2 1.7h0m0.2-0.3h0m0-2.1h0m0.4 0.6h0m0 2h0m2.2-2.2h0m0.1-0.2h0m0.3 0.1h0m0.1 1.4h0m-36.5 3.4h0m1.5-0.8h0m1.1 1.2h0m0.7-1.9h0m0.8-0.6h0m0.9 2.7h0m0.2-2.2h0m0.9 0.2h0m0.1-0.2h0m0.2 2.4h0m0.1-0.7h0m0.5-1.1h0m0.2 1h0m0.6 0.2h0m0.4-0.8h0m0.7 0.7h0m0.2-1.4h0m0.3 1.4h0m0.9-1.2h0m0.8 0h0m0.4 0.9h0m0.1 0.9h0m0.4-2h0m0.8 0.4h0m0 1.4h0m2.2 0.1h0m0.3-0.7h0m1.3-1.8h0m0.2 2.1h0m0.4-1.6h0m0.1 0.8h0m0.1-0.4h0m0.6-0.7h0m1.5 1.4h0m0-0.2h0m1.8 1.2h0m2.1-0.5h0m0.5 0.5h0m0.2-1.3h0m0.1 1.2h0m0.5-2.6h0m1.6 1.1h0m1.1 0.2h0m2 1.5h0m1.5-1.9h0m2.1 0.3h0m0.3-1h0m0.4 1.9h0m2.4-2.2h0m-35.7 3.2h0m3.1 0.6h0m0.3 0.2h0m0.1-0.7h0m1.7 0.8h0m0.5 1.6h0m0.6 0.2h0m1-1.1h0m2.7-1.1h0m3.2 1h0m0.2-0.7h0m4.1 0.3h0m0.7 1.4h0m0.8-0.5h0m0.1-0.5h0m0.6-0.1h0m1.2-1.1h0m1.4 1.6h0m0.5 0.6h0m0.7 0h0m0-2.6h0m0.1 2h0m0.1 0.3h0m0.7 0.3h0m0-0.1h0m1.7-1.6h0m0 0.7h0m0.1-0.4h0m0.6 0.7h0m1.1-1.1h0m0.6-1h0m0.5 1.8h0m0.3 0.7h0m0-1h0m0.8 1.1h0m0.6-0.7h0m1.6-0.6h0m0.6 1.6h0m-30.3 1.9h0m1.1 0.9h0m0.4 0.2h0m0.1-2.2h0m0.7 2.1h0m0.2-2.1h0m0.1 1.9h0m0.6-1.5h0m1.1 0.4h0m0.5 0.9h0m0.3-2.1h0m0.2-0.1h0m0.7 0.4h0m0.8-0.3h0m0.3 1.4h0m0.6-1.6h0m0 0.6h0m0.5 2.1h0m0.1-2.5h0m1.7 1.8h0m1.8 0.3h0m0.3-0.5h0m0.8-0.5h0m0.6-1.4h0m1.3 2.3h0m1.2 0.2h0m1.6-1.1h0m0.2-0.9h0m2.8 2.1h0m0.5-0.7h0m0.1 0.9h0m0.4 0.2h0m0.4-1h0m0.3-1.7h0m0.7 0.2h0m1.6-0.1h0m0.1 0.4h0m1.6 0.6h0m0.4 0.4h0m0.2 0h0m0.1-0.8h0m0.3 0.4h0m0.2-1.1h0m0.3 1.1h0m0.6 0.9h0m0.2-1.9h0m1.2 0.7h0m-29.8 2.1h0m2.4 1h0m0.5 0.1h0m0.4-0.1h0m1 1.3h0m0.5-1.5h0m0.6 0.4h0m0 1.4h0m0.8-0.2h0m0.8-2.2h0m0.1 1.9h0m0.4 0.2h0m1.1-1.3h0m0.3 0.8h0m0.2-1.8h0m1.5 2.3h0m0.1-0.8h0m0.3-0.9h0m1.3 0.6h0m0.3-0.2h0m0.2 0.7h0m0.6-0.6h0m1.5 0.7h0m0.1-1.6h0m1 1.8h0m0.1 0.4h0m0.4-1.8h0m0.5 2h0m0.3-0.5h0m0.3-1.4h0m0.2-0.4h0m1.2 2h0m1.3-0.1h0m0 0h0m1.1-1.1h0m0.6 1.1h0m0.2-0.9h0m3.4 0h0m0.6 0.7h0m1.3 0.4h0m2.4-2.2h0m-26.4 2.9h0m1.7 0.3h0m1.3 0.9h0m1.4 0.9h0m0.1 0.6h0m1.4-0.5h0m0-2h0m1.6 1.1h0m0.6 0.6h0m0.7-2.1h0m0.4 0.6h0m0.1 1.1h0m0.4-1.8h0m0.6 0.2h0m0.5 0.7h0m0.8-0.8h0m2.2 2.5h0m1.2 0h0m0.1 0h0m0.4-1.1h0m0.7-1h0m1.6 0.9h0m0.7 0.7h0m0.5-0.9h0m0.4-0.6h0m1.3 0h0m0.5 0.9h0m0 0.8h0m0-1.2h0m0.1 1.4h0m0.3 0.4h0m0.2-2.6h0m0.2 0.5h0m1.2-0.7h0m1.2 0.2h0m-19.3 4.2h0m3.3-1.5h0m0.6 1.9h0m0.9-0.3h0m0.2-0.4h0m4.2 1.6h0m0.2-2.2h0m0.1 0.1h0m0.2 1.5h0m1.4 0.7h0m0.9-1.8h0m0.3 0.3h0m0.3 0.3h0m0.3-1.1h0m1 1h0m0.2-1h0m2.1 0.6h0m-14.6 2h0m2.6 0.5h0m1.8 0h0" stroke="#ec9420" stroke-width="1.0" stroke-linecap="round" stroke-opacity="0.85" fill="none"/>
<path d="M209.9 407.2h0m1.1 0.1h0m3.8-1.2h0m1 1.8h0m0.7-0.8h0m0.3 0.3h0m2.6 0.5h0m0.6-0.3h0m0.1-1.4h0m2.8 1.4h0m0.1 0.2h0m10.8-1.5h0m8.6 1.4h0m2.4-1h0m1 0.5h0m-32.6 1.1h0m1.7 2.5h0m0.3-0.2h0m0.3-1.7h0m0.5 1.4h0m0.6-0.3h0m0.7-0.2h0m0.3 1.2h0m0.1-1h0m0.7-0.3h0m0.3-1.1h0m0.6 1.6h0m0.2 0.5h0m0.2-0.4h0m1 0.3h0m0.6-0.1h0m2.2-0.4h0m0.9-0.8h0m0.4-0.4h0m0.2 1.6h0m1-1.3h0m1.5 0.3h0m1.1 0.2h0m0.9 0.8h0m0.1-0.3h0m0.2-1.6h0m1.7 1.3h0m1.3 0.7h0m3.1-1h0m0.1-1.4h0m0.3 2.3h0m0.9 0.1h0m0.9-2.1h0m2.4 1.7h0m0.1-0.7h0m0.4 0.8h0m0.2-0.8h0m1.3 1h0m2.4-1.5h0m0.9-0.7h0m0.3 0.4h0m1.5 1.6h0m0.2 0h0m0-0.4h0m0 0.5h0m2.3-2h0m1.6 0.4h0m1.8 2.1h0m-38.6 1.1h0m0.5-0.5h0m3.1 0.4h0m1.4 0h0m0.4-0.5h0m1.9 1h0m2.9 0.8h0m1.9 0.2h0m0.1-0.9h0m1.3 0.6h0m0.2-1.7h0m2.2 1h0m0.9 0.7h0m0.4-0.1h0m1.1 0.1h0m0.2 0.6h0m1.4-2.4h0m0.3 0.5h0m0.7 1h0m0.9-0.9h0m1.7 1.9h0m1.8-0.7h0m0.5-0.9h0m2.8-0.9h0m0 1.5h0m0.4-1.7h0m0.2 2.9h0m1.4-2.4h0m0.5 1.2h0m0.5-0.5h0m0.4 0.8h0m0.4-0.7h0m0.6-0.8h0m0.6 1.6h0m0.7 0.2h0m0-2h0m0.1-0.2h0m0.5 0.2h0m0.8 2h0m0.2-2.2h0m0.2 2.2h0m1.6-0.3h0m1.1-1h0m-32.9 2.7h0m2.7 0.7h0m0.6-1.3h0m0 1.3h0m4 0.9h0m0.7 0.1h0m0.4-1.6h0m2 1.6h0m1.5-0.3h0m1.9-0.2h0m0.4-0.4h0m1.2-1.4h0m0.7 2.2h0m2.1-0.5h0m0.9-1.2h0m0.5 0.2h0m1.2 0.9h0m0.1-0.8h0m0.4 0.1h0m0.7 1.1h0m0.3 0.6h0m0.4 0h0m0.4-1.7h0m0.6 0.7h0m0.9-1.6h0m3.3 0.4h0m0.2 0.8h0m2-0.9h0m-23.9 3h0m1.7-0.3h0m0.2 1.4h0m0.2-1h0m0.6 1.5h0m1.1-0.5h0m0.1-0.4h0m0.1 1.2h0m0.3-1h0m0-0.4h0m1.1 0.1h0m1.8-1h0m5.3 1.1h0m1.2-0.9h0m1.6 0.2h0m-10.1 2.7h0" stroke="#f0a030" stroke-width="1.0" stroke-linecap="round" stroke-opacity="0.8" fill="none"/>
<path d="M234.9 429h0m9.8-0.1h0m1.4-0.3h0m0.6-0.3h0m-11.8 3h0m0.5-0.1h0m0.4 0.5h0m1.2-0.8h0m0.9 0.3h0m1.5-1.7h0m0 0.2h0m2.4 0.8h0m0.8-1.1h0m0.4 0.5h0m0.5-0.4h0m0.7 2.3h0m2.8-0.4h0m0.4 0.3h0m0.6-2h0m0.9 0h0m1.2 1.3h0m2.5 0.5h0m-19.5 2.6h0m1.8-1.9h0m0.1 1.7h0m0.3-1.7h0m0.5-0.1h0m4.7 1.7h0m0.5-0.6h0m0.8 1.4h0m0.1-2h0m0.5 2.4h0m1.8-2.8h0m0.8-0.2h0m0.1 2.1h0m0.5-0.1h0m2.1-0.3h0m0.2-1h0m0.8 0.5h0m0.5 0.1h0m1.1 0.2h0m1.2 0.4h0m0.8-0.1h0m0.9 0.5h0m0.2-0.4h0m0.9-0.5h0m0.4 0.5h0m0.1 0.2h0m0.2 0.2h0m0.9 0.5h0m-22.4 2.9h0m1.2 0h0m0.4-2.5h0m1.9 0.5h0m1.3 0.2h0m0.1-0.7h0m1.1 2h0m2.4-0.9h0m0.2 1.6h0m0.4-0.8h0m0.4-0.6h0m0.3 1.4h0m0.3-2h0m1.7 1.9h0m1.5-1.8h0m0.4 0.2h0m3 0.5h0m0.4-0.4h0m0.1 0.9h0m0.3-1.4h0m0.7 1.4h0m0.3-2.2h0m0.1 2.9h0m0.5-2.8h0m3.7 1.2h0m0.3 0.3h0m-19.4 3.3h0m1.9 0.4h0m2.7-0.4h0m0.5 1h0m3.3-1.2h0m1.2-0.4h0m3-0.7h0m0 0.4h0m2.9 0.8h0m0.7-1.4h0m2.5 0h0m0.3 1.7h0m3 0h0m1-1h0m-21.2 2.6h0m1.2 1.5h0m1.5-1.2h0m2.7-0.4h0m1.2 1.2h0m1.1 0.3h0m0.9-0.9h0m2.3-0.3h0m0.5 1.6h0m1.2-2.1h0m2.2 0.4h0m0.9 0.6h0m0.1 0.3h0m0.5-1.2h0m0.1 2.4h0m0.1-1.7h0m0.5 1.3h0m0.1-1.2h0m0.5 0.3h0m0.2-1.3h0m0.9 0.4h0m0.9 1.4h0m0.7-0.9h0m0.9 0.1h0m0.5 1.2h0m0.2-1.4h0m0.2 0.6h0m1.2-0.3h0m0.4-0.2h0m-17.8 2.7h0m2.2 1.5h0m0.9-1h0m3.6 0.9h0m2.4-0.6h0m1-1h0m0.1 1.5h0m0.7-2.1h0m2.8 0.3h0m1.4 0.7h0m0.7 1.4h0m1.4-1.1h0m0.3 0.3h0m-14.2 2.9h0m4 1.2h0m2.4-2h0m0 0.1h0m0.5 1h0m2.2-1.1h0m2.6-0.7h0m0.1 1.1h0m0.3-0.3h0m1.6 1.6h0m0.8-1.7h0m3.5 2.2h0m-15.3 1.9h0m2.6-1.2h0m0.8 0.9h0m5-0.5h0m0.3 1.8h0m0.4-2.4h0m0 0.8h0m2.9 1.7h0m0.3-0.1h0m1.8-0.3h0m0.6-1.5h0m1.1-0.1h0m-11.3 3.2h0m3.1-0.1h0m0.5 1.1h0m2.6-0.5h0m0.7 0.4h0m0.6-0.8h0m2.5 1.3h0m-7 1.3h0m1.9-0.8h0m2.1 0.2h0m0.9 0.3h0m3 0.1h0m0.4 1.9h0m0.4-0.8h0m1.5-0.9h0m-8.8 3.4h0m0.2 0h0m0.5-0.6h0m6-0.5h0m1.4 1.6h0m1.8 0.4h0m0.4-0.2h0m-2 3.7h0m1.8-0.6h0m1.4 0.6h0m-5.1 0.5h0m0.7 2.2h0m1.3-1.7h0m1-0.3h0m1.5 1.1h0m0.1-0.1h0m0.6 0.3h0m-3.6 2.7h0m0.3-0.7h0m1.2 0.8h0m1.1 1.2h0m-2.2 0.7h0m2.8 3.5h0m1.9-0.5h0m0.2 1.7h0m0.8-1.6h0m0.3 1.3h0m-2.7 1.4h0m2.4 2.6h0" stroke="#f0a030" stroke-width="1.0" stroke-linecap="round" stroke-opacity="0.8" fill="none"/>
<path d="M315.9 376.2h0m1.7 2.9h0m-2 2.2h0m-10.2 4.2h0m-5.5 5.9h0m14.8-0.8h0m-33.2 14.9h0m-43.2 4.7h0m27.6 0.4h0m4.8-1.5h0m9.5 1.3h0m29.6-0.1h0m-87.1 0.9h0m13.6 0.4h0m67.4 0.3h0m-73.7 4.7h0m16-0.2h0m-6.4 2.6h0m36.9-1.2h0m19.7 1.4h0m-54.1 2.3h0m8.6 0.4h0m7.6 0.2h0m17.9 0.8h0m10-2.6h0m7.1 1.7h0m6-1.2h0m-63.9 4.5h0m55.5-1.2h0m12.8 4.2h0m-30.4 0.7h0m10.8 0.4h0m-15 3.9h0m-1.7 3.2h0m23.5-0.5h0m4.1-0.4h0m-39.6 3h0m41.7 0.2h0m-21.6 2.8h0m17.9 1.4h0m-42.3 3.7h0m8.8-2.4h0m30.3 0.7h0m3 4h0m-2.9 1.9h0m-20.7 3.3h0m6-0.2h0m-1.9 5.4h0m5.1 4.9h0m-6.4 0.8h0" stroke="#b86a1c" stroke-width="1.0" stroke-linecap="round" stroke-opacity="0.9" fill="none"/>
<text x="271.5" y="384.1" font-size="6.1" text-anchor="middle" fill="#333" textLength="12.5" lengthAdjust="spacingAndGlyphs" transform="rotate(-90 271.5 381.9)">DC4</text>
<text x="263.9" y="398.6" font-size="6.1" text-anchor="middle" fill="#333" textLength="12.8" lengthAdjust="spacingAndGlyphs" transform="rotate(-33 263.9 396.4)">DC1</text>
<text x="284.8" y="394.9" font-size="6.1" text-anchor="middle" fill="#333" textLength="12.8" lengthAdjust="spacingAndGlyphs" transform="rotate(33 284.8 392.7)">DC2</text>
<text x="230.6" y="342.4" font-size="6.6" text-anchor="middle" fill="#333" textLength="45.1" lengthAdjust="spacingAndGlyphs">Megakaryocyte</text>
<text x="231" y="349.6" font-size="6.6" text-anchor="middle" fill="#333" textLength="56.6" lengthAdjust="spacingAndGlyphs">development score</text>
<rect x="227.3" y="353" width="8" height="39.3" fill="url(#go)"/>
<text x="238.1" y="360.8" font-size="6.4" text-anchor="start" fill="#333" textLength="13.1" lengthAdjust="spacingAndGlyphs">0.06</text>
<text x="238.1" y="371.5" font-size="6.4" text-anchor="start" fill="#333" textLength="13.1" lengthAdjust="spacingAndGlyphs">0.04</text>
<text x="238.1" y="382.3" font-size="6.4" text-anchor="start" fill="#333" textLength="13.1" lengthAdjust="spacingAndGlyphs">0.02</text>
<text x="238.1" y="393.1" font-size="6.4" text-anchor="start" fill="#333" textLength="13.1" lengthAdjust="spacingAndGlyphs">0.00</text>
<path d="M448.5 332.5V392.3L383.3 434M448.5 392.3L513 434" fill="none" stroke="#222" stroke-width="1.1"/>
<path d="M382.4 403.7L395.9 404.6L412.8 408.8L423 408.8L434.8 405L446.5 405L455.4 401.8L464.7 394.7L473.7 385.6L482.7 374.9L493.5 364.1L497 362.2L500.6 360.4L497 371.2L491.6 385.6L489.7 398.2L482.8 410.9L480.8 427.1L478.4 433.8L469.1 445L459.6 461.9L457.7 471.2L453.9 478.1L444.6 475.6L436.7 471.2L431.4 460.1L428.1 453.7L419.1 441.3L411.3 429.5L405.4 419.7L401 418.1L389.1 408.8Z" fill="#f1e5e7" fill-opacity="0.95" filter="url(#bl15)"/>
<path d="M493.1 364.8h0m0.9 0.8h0m0.3-0.4h0m2.5-1.4h0m0.2 1.2h0m-2.2 3.1h0m2.4 0.7h0m2.4-1.7h0m-5.9 3.6h0m0.1 1.1h0m3.4-0.6h0m-12.9 1.7h0m4.3-0.3h0m0.2-0.4h0m2.8 2.8h0m-9.9 1.7h0m0.2-1.2h0m0 2.2h0m2.3-1.2h0m0.7-0.9h0m0.9 1.5h0m2.3-0.9h0m0.4-0.6h0m0.1 0.8h0m0.3-1.4h0m2.4 2.1h0m0.5-1.9h0m0 1.8h0m0.8 0.6h0m0.8-0.6h0m-12.4 3.9h0m6.4-1.6h0m0.2 0.7h0m0.6-1.3h0m0.5 2h0m0.7-2.5h0m0.5 2.4h0m0.3-1.9h0m0.9 0.6h0m0.9-1h0m0.2 0.6h0m1 2h0m-20.8 2.3h0m5.2 0.1h0m0.6-2.1h0m5 0.9h0m0.7-0.9h0m1.5 2.3h0m4.5 0.4h0m0.4-1.9h0m0.4-0.5h0m0.2 1h0m1.3-0.1h0m-15.6 3.9h0m0.4 0.5h0m5.4-1.5h0m1.5 1.3h0m0.3-2.5h0m1.1 0.1h0m0.1 2.6h0m1.2-2.4h0m0.6 0.5h0m1.3 1.7h0m1.8-2.4h0m1.7 1.9h0m-19.1 3.4h0m2.3-1.5h0m1.9 0.4h0m3.4-1.2h0m0.1 0h0m1.3 0.3h0m0.8 1h0m1.6 0.7h0m4.8-1.7h0m1.4 1.8h0m-22.9 2.8h0m0.2 0.7h0m3.4-2.5h0m2.4 2.6h0m0.8-1.3h0m6.5-0.6h0m0.6-0.7h0m0.1 0.4h0m1.4-0.5h0m5 0.2h0m0.5 2.6h0m1.5-1.3h0m-17.1 3.1h0m0.6-0.1h0m2.2-1h0m0.5-0.3h0m0.6 0.1h0m1 1.7h0m2.3-0.8h0m0-1.2h0m0.1 2.7h0m1.5-2h0m4.5 1.8h0m0.9-1.9h0m2.9 1.5h0m-30.3 3.2h0m0.9-0.1h0m1.8 0.3h0m2.8-1.3h0m4.7-0.9h0m4 0.8h0m1-0.9h0m1.8 1.6h0m0.2-1.6h0m0.9 2.2h0m1.5-0.8h0m0.5-1.4h0m2.7 1h0m1.3 0.9h0m1.4 0.4h0m0.2-2.7h0m1.3 1h0m-29.5 2.9h0m2.6 1.9h0m1.8-1.6h0m1.2 0h0m0.5 1.6h0m1.6-0.6h0m2.2-0.3h0m5.3 0.8h0m3.1-0.7h0m0.3-1.2h0m1.3-0.4h0m1.8 2.5h0m3.2-1.9h0m6 1.5h0m0.1-0.9h0m-99.4 3h0m1.4 0.9h0m3.9 0.4h0m0-1.6h0m2.7 0.9h0m5.6 0.6h0m35.8 0h0m0.4-1.3h0m13.3 1.4h0m2.9-1.4h0m1 0.1h0m0.6-0.3h0m0.6 0.7h0m1.7 0.8h0m0.2-1.8h0m0.1-0.9h0m0.1 1.1h0m0.8 0.8h0m1.4 0.5h0m0.2-1.2h0m1.1-0.3h0m3.6 0.9h0m2-0.4h0m0.5 1.2h0m6.8 0.3h0m2.8-0.7h0m2 0.5h0m1.1-1.5h0m4.4 0.8h0m0.4-1.2h0m-102 2.7h0m3.4 0.9h0m0.9 0.2h0m0.2-0.5h0m1.7 0.7h0m1.8-1h0m0.8 1.7h0m0.9-1.1h0m0.8 1.1h0m5.7-2.4h0m30.2 2.6h0m1.3 0h0m0.9-0.5h0m0.4-0.8h0m0.5-0.3h0m0.1 1.4h0m0.1 0.3h0m0.2-1.1h0m1.3 0.5h0m0.7-1h0m2.2 0h0m3.3-0.9h0m3.6 2.4h0m1.7-1.6h0m1.5 0.7h0m3.6-1h0m1 1.4h0m0.1-1.8h0m0.5 0.5h0m2.3-0.1h0m0.4 1.9h0m0.6-1.3h0m0.9 1.5h0m0.5-2.7h0m1.6 2.1h0m5.5-2.4h0m2.5 1.5h0m0.2-1h0m2.3 0.4h0m1.5 1.6h0m2.1-2.4h0m2.5 2.9h0m0.8-0.3h0m2-1.8h0m3 0.5h0m0.4-0.3h0m1.7 1.2h0m0.8-0.5h0m1.3-0.7h0m0.9-0.6h0m-95.9 3h0m0.3-0.5h0m3.5 0.8h0m1-0.3h0m0.1-0.2h0m0.9 1.2h0m2 0.6h0m2-1.4h0m0.4 1.2h0m0.2-1h0m0.2 2.1h0m0.5-0.4h0m1.4-2.3h0m0.4 0.9h0m3.2 1.6h0m0.5-1.9h0m6.6 2h0m3.4-1.6h0m0.1 0.3h0m5.7 0.9h0m5.5-1.5h0m4.3 1.1h0m0.4 0.5h0m2.6-0.7h0m2-0.7h0m1.5 0h0m1.6 0.7h0m2-1.4h0m0.5 0.4h0m4.4-0.8h0m3.4 1.6h0m1.4 0.5h0m1.4-1.4h0m1.1-0.7h0m0 0.5h0m0.4 2.1h0m0.1-0.1h0m3.1-1.9h0m3.2 1.6h0m0.9-0.3h0m1.2 0.2h0m1.2-1.9h0m2.8 1.4h0m0.4-1.4h0m0.7 0.3h0m2.6 0.7h0m0.6 1.6h0m1.2-0.1h0m1.5-2.4h0m3.7 0.6h0m0.6 2h0m1.7-1h0m4-1.8h0m-92.4 4h0m0.7-1.2h0m1.5 2.4h0m1.6-1h0m0.6 1.3h0m4.4-1.2h0m2.1-0.5h0m0-0.4h0m1.1 0.8h0m2.3-0.8h0m0.8 0.7h0m0.5 0.7h0m0.2-1.3h0m0.7 1.2h0m1.3-0.9h0m3.4-0.8h0m1.8-0.2h0m3 1.9h0m1.2 0.7h0m0.8-1h0m0.5-0.3h0m1 1.5h0m3.9-1.6h0m1.1-0.5h0m0.8 1.9h0m1.6-1h0m4.1-0.1h0m4.4 0.9h0m0.6-1.3h0m2.4 0.2h0m0.8 0.5h0m1.2 1.1h0m0.2-2.6h0m0.5 2h0m0.6-1h0m1.4-0.1h0m1 1.8h0m1.3-2.9h0m0.1 0.6h0m0.9-0.1h0m5.6 0.5h0m1 1.4h0m0.6 0.3h0m6.9-2.1h0m0.3 0.6h0m4.2 0.4h0m1.3 1.3h0m1.8-2h0m4.8 0.1h0m1.7 0.8h0m1.1 0.4h0m1.1 0h0m0.8 0.2h0m-74.9 2.8h0m0.5-0.6h0m7.8-0.5h0m0.2 1.5h0m3.5-0.3h0m1.1-1.1h0m0.2-1.1h0m2.4 1.8h0m1.6 0.8h0m2.5-0.4h0m0.5-1.3h0m1.2 1.8h0m1.1-2h0m0.6 1.9h0m2.4-1.7h0m1.5 1.6h0m0.9-1.4h0m1.5-1h0m0.6 1.9h0m2.2 0.1h0m0.2-0.9h0m4.8-0.8h0m1.6 1.9h0m0.8-0.5h0m3.8-0.8h0m0.3-0.8h0m0.4-0.2h0m0.3 1.9h0m0.6-0.9h0m2-1h0m4.1 1.9h0m0.5-1.2h0m1.8-0.6h0m0.8 1.8h0m1.3-0.8h0m1.1 1.3h0m3.2 0.4h0m1.2-0.2h0m0.6 0.1h0m2.6 0h0m1.6-1h0m8-0.7h0m2.6-0.4h0m-83 2.4h0m1 0.3h0m0.6-0.1h0m6.9 0.4h0m1.1 0.9h0m1.4-1.1h0m0.8 1.5h0m4 0h0m0.7-0.1h0m0.8-1.5h0m0 1.8h0m3.3-2.1h0m0.6 0.3h0m0.3 1.5h0m0.7 0.2h0m2.2 0.1h0m0.9 0.2h0m1.6-2.1h0m1.4 1.9h0m3.6 0.3h0m0.6 0.3h0m0.4-0.8h0m0.4-0.9h0m2.1 0.5h0m0.9-1.6h0m1.7 2.1h0m0.5-0.5h0m3.6 1h0m0.8-0.3h0m5-1.8h0m1 0.8h0m1 0.9h0m1.3 0.1h0m1.3-1.5h0m1.5 1.8h0m2.7-0.5h0m0.8 0.5h0m0.3-0.3h0m0.9-0.3h0m12.3-2h0m4.8 0.6h0m0.3-0.3h0m1.8 1.6h0m-70.9 2.3h0m1.3 1.6h0m0.7-2.3h0m3.4-0.6h0m2.1 2.5h0m0.3-0.4h0m0.2-1.5h0m0.3 1.6h0m0.1-0.3h0m2.8-1.3h0m0.2 1.9h0m0.2-1.1h0m1.2-0.9h0m0.2 1.8h0m0.6-2.3h0m0.7 0.8h0m0.1 1.8h0m0.4 0.4h0m1.3-0.1h0m1.1-0.2h0m1.5-0.3h0m0.2-0.3h0m4.9 0.1h0m3.9 0h0m0.7 0.1h0m2.4 0.2h0m3.4-1.8h0m0.5 1.4h0m0.5 0.8h0m0.1-1.4h0m0.2 1.3h0m7.8-1.8h0m1.1 0.4h0m2.4-1h0m4.1 0.1h0m6.5 1.7h0m9-0.5h0m0.6-1h0m0 1.4h0m0.5-0.5h0m0.5 0.3h0m1.9 0.5h0m1.7 0h0m1.7 0.3h0m0.1-1.1h0m1-1.5h0m-71.8 5.1h0m0.5-1.7h0m0.5-0.1h0m1.7-0.2h0m1.2 2h0m3.5-1.3h0m0.5 1.5h0m0.7 0.5h0m2.1-1.9h0m2.7 0.9h0m6.1 1h0m5.3-2.2h0m0-0.4h0m1.7 2.6h0m0.4-2.5h0m3 2h0m3.3-1.1h0m0.1 0.6h0m4.1 0h0m2.4-1.2h0m0.8-0.1h0m3.1-0.4h0m1.1 1.3h0m0.2 0.5h0m1.3 0.3h0m3.5 0.6h0m0.6-2.7h0m2.8 0.7h0m1.7-0.1h0m2.2 1.5h0m0.2 0h0m0.6-1.1h0m2.8-0.7h0m0.2 1.3h0m0.8-1.1h0m0.4-0.1h0m1.3 1.6h0m0.4-0.4h0m3.3 0.4h0m0.7 0h0m0.3-0.6h0m2 0.9h0m-68.5 0.6h0m2.7 2.3h0m0.8-1h0m3 1.3h0m3.9-2.5h0m0.8 1.9h0m1.4-1.2h0m0 1.8h0m1.9-0.2h0m1.1-1.6h0m0.7 0.9h0m0.4-1.6h0m0 0.1h0m0.2 2.1h0m2.8 0.5h0m3.8-1.2h0m2.3-1.4h0m0.1 0.4h0m1.7 1.8h0m2.8 0h0m4.4-0.9h0m0.8-1.2h0m3 2.6h0m1.4-0.2h0m1.7-1.5h0m1.8 0.9h0m0-1h0m0.9 0.4h0m0.6-1.4h0m3.4 1.5h0m3.7 1.2h0m0.1-0.7h0m1.4 0.3h0m0.2-1.3h0m0.1 1.7h0m1.7-2.1h0m0.1 1.3h0m0.8 0.4h0m0.7 0h0m0.4-2.3h0m1.5 0.8h0m0 2h0m1.7-1.8h0m0.8-0.6h0m0.8 2.4h0m0.6-1.8h0m0 0h0m1-0.1h0m1.4 1h0m1.5-1.1h0m0.5-0.1h0m0.1 0.3h0m-60.3 3.7h0m2.7-1.8h0m0.6 1.6h0m7.7-0.6h0m0.1-0.1h0m2.2 1.2h0m10.4 0.5h0m3.9-2.4h0m0.2 0.8h0m0.4 0.2h0m4.7 1.2h0m1.5-1.8h0m11.5 0.5h0m0.2 1.5h0m0.2-2.6h0m0.8 2.3h0m0.5-1h0m1.1 1h0m0.7 0.3h0m1.4-0.7h0m0.9 0.2h0m1.2-1.4h0m1.1-0.5h0m0.9 0.7h0m2.8-0.3h0m1.9 0.7h0m-60.5 3.7h0m1.6-0.3h0m1-0.1h0m1.4 1.3h0m2.1-1.2h0m2.2-1.1h0m2.1 0.7h0m3.7-0.4h0m3.3 1.9h0m1.5-1.6h0m0.3 0.5h0m0.7-0.5h0m1.2 1.4h0m0.6-0.1h0m0.9-1.6h0m1.1 0.7h0m0.1-0.5h0m0.9 1.2h0m0.9 0.5h0m2.9-1.1h0m0.2-0.5h0m0-0.2h0m2.8 0.7h0m0.6-0.6h0m1-0.7h0m7.6 1.6h0m3-1h0m1.3-0.3h0m2.4 0.3h0m2.9 1h0m0.1-2h0m0.7 2.7h0m3.2-1.7h0m0.6 1.5h0m0.2-0.1h0m1 0h0m2.6-2.3h0m1.6 1.1h0m-61.5 2.3h0m0.9 1h0m0.9 1h0m1-1.8h0m3.7 2.2h0m0.3-0.1h0m0.9-2.4h0m2.9 0.5h0m0.4 0.2h0m0.1-0.3h0m0.8 1.9h0m2.4-0.5h0m0.5-0.5h0m0.6 0.1h0m0.2-1.8h0m1.1 0.3h0m8.7 1.8h0m0.8 0.2h0m0.2-0.6h0m0.3 1h0m0.9-2.1h0m0.3 0.6h0m0.7 1.5h0m0.4-1.4h0m0.4-0.7h0m1.1-0.1h0m3.5 0.8h0m3.7 0.5h0m0.4-1.1h0m0.1 0h0m2.9-0.1h0m2.8 0.6h0m4.9 0.8h0m1-2.1h0m0.4 0.2h0m3.8 2.3h0m1.2-0.2h0m1.9-2.1h0m0.9 1.6h0m-55.7 3.2h0m0.3-0.2h0m0.4 0.4h0m0.1-1.6h0m0.1 0.8h0m2.6-1.3h0m3.2 0.4h0m2.3 0h0m5.1 1.3h0m1.2-1.1h0m0.4 0.8h0m0.2 0.6h0m3.5-0.3h0m0.3 0.6h0m2.2-1.7h0m0.8 0h0m2.6 1.9h0m0.6-0.2h0m5.5 0h0m0.8-1.7h0m0.2 1h0m0.9 0.8h0m0.5 0.2h0m4.7-2.4h0m0.9 2.2h0m0.6-0.7h0m1.2-0.4h0m0.2-0.5h0m1.2-0.7h0m1.6 0.7h0m2.5 0.6h0m2.1 1.2h0m3.3-0.6h0m-51.8 2.5h0m2.1 0.3h0m0.8 0h0m0.7-1.4h0m0.1 1.3h0m0.2 1h0m7.8-0.4h0m1.8-0.8h0m4.5 0.7h0m0.6 0h0m4.6-1.9h0m3.9 1.1h0m1.1 0.4h0m0.3 0.5h0m1.7-0.6h0m2.8-0.7h0m2.5-0.5h0m0.2 0.1h0m2.2 1.3h0m1.3-1.7h0m1.3-0.1h0m1.1 0.9h0m1.6 1.3h0m1.8 0.3h0m-40.3 0.5h0m4.2 2.2h0m3.5 0.3h0m2.2-2.7h0m2.5 2.4h0m4.1-0.4h0m0.7-0.4h0m2.3 1.1h0m0.1-0.7h0m4.7 0.4h0m0.4 0.5h0m0.1-2.9h0m3.3 0.8h0m0.3 1.9h0m0.9-2.2h0m0.4-0.1h0m0.3 0.7h0m1.8 1.2h0m0.1-0.1h0m3.9 0.3h0m0.9-1.8h0m0.4 0h0m0.3-0.5h0m0.5 0.7h0m5.5 1.5h0m0.5-1.3h0m-41.9 3.7h0m3 0.1h0m2.1 0.8h0m3.8-0.9h0m1 0.6h0m1.4 0.1h0m5.2 0h0m1.5-1.7h0m0.4-0.4h0m1.1 2.4h0m1.1-2.7h0m1 2.1h0m1.5-0.7h0m1.1 0.3h0m2.7-1.6h0m1.3 0.7h0m2.5 0.2h0m0.1 1.4h0m1.6-0.7h0m9.1-0.1h0m-38.3 2.9h0m1.4 0.9h0m3.7-1.5h0m1 1h0m2.2-0.5h0m3.2-1.3h0m0.4 2.8h0m4.1-0.2h0m0.7 0.2h0m0.5-2.4h0m0.1 0.7h0m0.3-0.7h0m1.4-0.4h0m0.5 2.2h0m0-1.8h0m1.7 0.1h0m1 2.1h0m2-0.1h0m0.4-0.5h0m5.7-2.1h0m0.4 0.9h0m4.8 1.9h0m-34.8 2h0m2.3 0.6h0m1.2-1h0m0.3 0.6h0m0 0.7h0m4.1-1.9h0m0.3 0.7h0m1.3-1.5h0m0.5 1.4h0m1.7-1.1h0m0.5 1.7h0m0-1.7h0m0.6 1.5h0m3.1-0.3h0m3.6 0.2h0m0.8 0.1h0m1.7-0.6h0m4.9-0.1h0m1-1.2h0m0.1 1.6h0m0.3 0.6h0m1.3 0.4h0m0.5 0.1h0m0.7-0.1h0m1.9-1.8h0m-32.4 2.5h0m1.8 0.7h0m2.7-0.9h0m0.8 1.4h0m0.1-0.1h0m0.4-0.4h0m4.9 1.7h0m0.4-1.7h0m0.7-0.4h0m2-0.4h0m3.2 1.7h0m0.9 0.4h0m1 0.6h0m0.2-1.4h0m3.3-1.1h0m0.5 1.7h0m0.1-1.5h0m4.3 1.8h0m1.8-1.5h0m0.4 1.4h0m0.5-0.7h0m1.2 0.1h0m0.6-0.6h0m1.1-0.4h0m-31.4 4.3h0m1.1-1.4h0m1-0.1h0m4 0.1h0m0.6 0.5h0m0.4-0.3h0m0.4-0.8h0m1.9 2.2h0m0.8-1.2h0m1.8 1.7h0m1.1 0.1h0m0.6-2.1h0m2.8 0.9h0m2.2-0.4h0m3.4-1h0m0.8 2.6h0m3.3-2.3h0m0.5 2.3h0m1.9-2.8h0m0 0.5h0m-23.5 3.3h0m4.7-0.8h0m0.4 2.3h0m1.8-0.8h0m0.9-0.2h0m2.3-0.1h0m4-0.7h0m1.8 1.3h0m1.2 0.9h0m0.2-0.9h0m2.9-0.2h0m-21.7 3.7h0m2.3 0h0m1-1.8h0m0.8 1.2h0m1.2 0.2h0m0.1-0.8h0m3.1 1h0m1.7-1.7h0m0.8-0.2h0m3.2 1.3h0m1.9 0.7h0m1.2-1.3h0m1.7 1.4h0m1.3 0.1h0m-15.6 3.2h0m3.4-0.8h0m0.7-0.2h0m3.4-0.1h0m0.2-0.7h0m0 1.2h0m1 0.4h0m1.2-2.3h0m0.9 1.1h0m0.2 1.6h0m2-2.2h0m1-0.3h0m0.7 0.1h0m2.8 0.9h0m-15.7 4h0m0.1 0.1h0m1.3-1.8h0m2.5 0.9h0m0.2 0.3h0m1.6-0.4h0m0.6 0h0m2.3-0.4h0m0.2-0.9h0m2.1 2.4h0m2.5-1.4h0m1.3 0.9h0m0.3-0.4h0m1.5 0.3h0m-10.1 3.1h0m1.3 0.4h0m1.1-1.3h0m0.4 1h0m1.8-0.9h0m0.4 2.3h0" stroke="#e2d2d5" stroke-width="1.0" stroke-linecap="round" stroke-opacity="0.8" fill="none"/>
<path d="M494.1 364h0m-3.4 3.6h0m0.5 0.1h0m6.5-0.9h0m-7.8 4.3h0m-3 3.7h0m0.8-2.3h0m-5.5 4.4h0m1.7-1.4h0m1.3 0.4h0m8.4 1.9h0m-13.1 1.7h0m1.9-0.9h0m1.4 2h0m4.6-0.3h0m-3.6 3.2h0m5.2-0.6h0m2.1-1h0m-14.9 3.8h0m3-1.6h0m10.1 0.4h0m-19.3 5.5h0m5.9-1.1h0m3.3-1.7h0m1.3 2.1h0m0.3-1h0m3-0.5h0m2.7 0.7h0m-15.1 2.8h0m8.7-0.2h0m5.2 0.6h0m-16.3 3.7h0m0.8-2.1h0m13.3 1.4h0m4.6 0.7h0m0-2.3h0m0.5 2.2h0m-24.3 2.8h0m21.7 0.4h0m1-0.2h0m0.7 0h0m-31.1 1.7h0m9.1 0.1h0m6.7 1.6h0m3.2 0h0m1.1-1.6h0m1.2 0.5h0m4.8 0.3h0m-40.6 3.7h0m19.7-0.2h0m2.1-0.3h0m7.1 0h0m0.8-1.4h0m6.6 1.2h0m0.4-0.7h0m6.8 1.1h0m1.8-1.1h0m-87.3 4.2h0m3.1-0.3h0m34.9 0.8h0m10.9-2.3h0m2.3 1.5h0m4.5-1.4h0m6.3 1.7h0m0.2-0.8h0m1.3-1.4h0m4.3 2.1h0m5.8-0.1h0m7.2 0h0m0.2-0.7h0m-86.7 3.2h0m1.7-0.9h0m3.4 1h0m0.3 0.5h0m6.3 0h0m0.5-2.1h0m0.1 1.6h0m6.7-1.2h0m21.8-0.4h0m4.6 0.9h0m2.8-0.4h0m0.4-0.2h0m16.9 1.2h0m9.6-0.6h0m2.6 1.1h0m3.4-0.8h0m3.2 1.2h0m-69.9 1.1h0m0.1 2.2h0m6.2-0.1h0m4-0.6h0m8.3 0.5h0m5.4-1.9h0m8.3 1.1h0m0.2-0.3h0m2.7 0.1h0m1.2-0.8h0m9.4 1.9h0m2.7-1.8h0m6.5 1.8h0m5.7 0h0m13-0.3h0m-77.8 3.2h0m0.5-2.2h0m3.3 1h0m0.1-1.1h0m6.6 0.9h0m13.4 1.1h0m7.1-0.1h0m9-0.2h0m13.9-1.2h0m3.1-0.3h0m2.3 2h0m1-2h0m7.6 0.7h0m1.7 1.5h0m0.6-2.6h0m-66.9 4.2h0m7.7-0.4h0m4.3-0.9h0m14.1 0.3h0m0.7-0.3h0m2.6 0.4h0m8.3 2.5h0m1.2-2.9h0m5 1.5h0m5 1.1h0m3.8-2.5h0m0.9 0.6h0m9.3 1.7h0m0.8-1h0m-64.3 3.5h0m2.3-0.4h0m1.8 0.9h0m9.5 0h0m4 0h0m0.8-1.3h0m4.7 0.9h0m0.8-0.5h0m3.2-0.6h0m5.3 1h0m0 0.7h0m2.5-0.5h0m1.2-1.1h0m3.7 1.7h0m8.7-1.4h0m1.4 0.9h0m4.2-1.7h0m5 0.9h0m0.8-0.5h0m-59.4 3.3h0m1.3 0.5h0m6.5 0.5h0m15.4-1.5h0m0.3-0.6h0m6.2 1.8h0m11.8 0.3h0m4-1.6h0m8.1-0.7h0m13.5 1.2h0m0 0.9h0m-65.4 2.3h0m1.2 1.6h0m1.1-0.2h0m6.5-1.1h0m8.3-0.2h0m1.9-1h0m14 1.6h0m2.5-0.2h0m13.2-0.4h0m2.3 1.4h0m0.3-1.1h0m6.4 0h0m4.6 1h0m1.8-0.4h0m-61.4 0.9h0m3.3 0.5h0m3.9-0.6h0m1.2 1.2h0m1.3 1.5h0m4-1.6h0m11.9 0h0m9.4 0.5h0m5-1.7h0m8.3 0.7h0m2.5-0.3h0m1 0h0m2.2 1.6h0m10-1.1h0m1.8 1h0m-65 1.2h0m4.9 1.2h0m7.4 1.3h0m1-2.4h0m1.4-0.1h0m2.1 2.1h0m0.8 0.4h0m0.7-0.2h0m1.9-1.7h0m16.6 0h0m1.6 1.7h0m4-2.5h0m9.1 2.8h0m-45.3 0.4h0m6 1.9h0m2.4 0.2h0m0.2-1.5h0m5.8 0.1h0m3.4-0.1h0m9.6-0.2h0m6-0.3h0m1.2 1.2h0m5-1.3h0m0.9 0.6h0m5.1-0.1h0m2.4 1.4h0m6.9 0.7h0m-52.2 2h0m8.8-1.5h0m5.8 2h0m1.8 0.2h0m5-1h0m7.8 0.7h0m3.9-0.1h0m3.3 0.5h0m3.4 0h0m10.5-1.9h0m-51 5h0m5.5-1.3h0m1.1 0.6h0m3 0h0m17.9 0.2h0m1.6 0.1h0m10.2-0.5h0m0.3-1.2h0m0 1.7h0m1.3 0.3h0m1.5-1.7h0m3.8-0.5h0m-42.6 3.1h0m9.7 2.3h0m10.7-1.6h0m7.8 1.6h0m8.3-2h0m3.5 0.6h0m-22.7 2.8h0m3.8 0h0m5.9-0.1h0m0.5-0.3h0m0.7-0.8h0m4.2 2.2h0m3.1-1.2h0m4.9 0h0m-40.8 2.2h0m3.3 0.4h0m11.1-0.3h0m3.2 0.3h0m1.5 2.4h0m3-0.7h0m1.1 0.6h0m0.8-0.5h0m4.1-0.2h0m2.6 0h0m4.9-1.3h0m0.1 1.5h0m3.8-1.8h0m-32.5 4.2h0m2.3-1.2h0m0.2-0.5h0m4.8 0.8h0m8.7 1h0m13.2 0.3h0m1.9-1.3h0m-26.9 2.9h0m18 1.9h0m-18.8 0.7h0m19.1-0.3h0m2.2 1.4h0m0.7-0.7h0m4.2 0.4h0m-29.1 3.3h0m0.3-0.2h0m0.4 0.4h0m2.5-0.6h0m4.4-0.5h0m7.3 1h0m6.7-0.6h0m-19.6 2.3h0m4.1 2.4h0m1.4-0.3h0m3-1.1h0m4.6 2.1h0m3.4 1.3h0m4.4-0.8h0m2.8-0.6h0m-15.7 3.2h0m5.1 1.8h0m1.2 0.2h0m2.8-1.3h0m-1.5 4.2h0" stroke="#fafafa" stroke-width="1.0" stroke-linecap="round" stroke-opacity="0.8" fill="none"/>
<path d="M440.5 408.3L453.5 400.3L463.5 394.3L473.5 386.3L483.5 376.3L492.5 366.3L500 360.8L498.5 368.3L493.5 382.3L488.5 397.3L483.5 412.3L480.5 427.3L477.5 438.3L470.5 442.3L463.5 432.3L453.5 422.3L440.5 416.3Z" fill="#f3bcc2" fill-opacity="0.6" filter="url(#bl20)"/>
<path d="M495.4 365.5h0m0.7-0.2h0m0.7-1h0m1.5 0.1h0m0.2-1.1h0m-7.9 4.7h0m2.3-1.7h0m3.2 1h0m1.3 0.8h0m-7.8 3.4h0m1.8-1h0m0.4 0.5h0m1.2-0.7h0m1.1 0.7h0m1.2-0.2h0m0.7 0.8h0m-8.1 1.8h0m1.2-0.8h0m2 2h0m2.6-1.7h0m2.1 0.7h0m-9.1 2h0m0.2-0.3h0m3 1.1h0m0.6-0.1h0m0.1-0.5h0m3.7 1.1h0m0.1 0.5h0m-11.9 1.9h0m1.3-0.9h0m1.4 1.9h0m0.1-0.4h0m1.6-0.6h0m0.5 0.4h0m1.1-0.7h0m1.2 0.4h0m4.2 0.4h0m-16 2.3h0m0.4 1.8h0m3.3-1.6h0m0.7-0.2h0m3-0.1h0m1.3 0.6h0m1.1-1.1h0m1.1-0.5h0m2.1 1.7h0m0.2-1h0m-19 4.8h0m2.2 0.4h0m2-1.7h0m2.6 0.1h0m2 1.4h0m1.1-1.2h0m4.2 0.4h0m1.3-0.4h0m0.2 0.4h0m1.4 0.3h0m1.1 0.3h0m-21.8 3.4h0m14.2-0.3h0m2.4-1.2h0m1.6 0.2h0m0.7-0.1h0m2.7 0.8h0m0.4-0.6h0m-25.3 3.7h0m4-2.1h0m11.5 0.3h0m3.4 0.3h0m1.2 1.9h0m0.1-1.5h0m1.7-0.4h0m-23.9 4.5h0m0.8 0.5h0m1.5-1.1h0m0.6 0.5h0m0.8-2h0m0.8-0.1h0m0.3 2.6h0m0.5-0.7h0m1.2 0.3h0m0.1 0h0m2.1-0.6h0m0.6 0.4h0m6.2-2h0m5.5 2.4h0m1.7-0.9h0m0.7-1.6h0m0.2 2.2h0m1.8 0.1h0m0.3-1.2h0m-26.7 3.2h0m3.7-0.8h0m1.8 1h0m4.8-0.6h0m0.4 0.7h0m0.8-1.2h0m0.3 1.5h0m0.7 0.2h0m1.9 0.2h0m3.9 0.3h0m2.6-1.8h0m3.7 1.4h0m-33.2 1.7h0m2.1-0.1h0m1.1 0.9h0m1.7-1.6h0m0.1 2.2h0m2.8-1.5h0m0.4 1.4h0m0.2-0.3h0m2.1-0.6h0m1.8 0.6h0m0.9 0.1h0m0.5 0.4h0m0-0.8h0m0.6-1.4h0m2.1 1.2h0m0.3 0.1h0m0.8 1.2h0m3.3-0.4h0m2.5-1.4h0m0.7 1.1h0m0.5-2.1h0m1 1.8h0m2.9-1.6h0m0.3 2.3h0m2.3 0.3h0m2.8 0h0m0.6-1.1h0m-36.7 3.2h0m2.1 1h0m0.1-0.1h0m1.4-1.5h0m0.7-1.1h0m0.4 2h0m0 0.7h0m1.7-1.7h0m0.7 0.8h0m0.7-0.9h0m0.3-0.3h0m4.1-0.2h0m0.2 1.3h0m1.2 1h0m2.6-1.7h0m2.6 0.2h0m0.4 0.1h0m0.2 0.4h0m0.4-0.6h0m0.7-0.7h0m0.1 0.9h0m0.4 0.6h0m0.3-0.2h0m1.7-1h0m1.4 1.5h0m2.1 0.4h0m5.6-2.5h0m0.2 1.7h0m0.9 0.5h0m-42.6 2.2h0m0.6-0.3h0m5.3 1h0m0.3 0.1h0m1-1.5h0m1.4-0.3h0m1.5 0h0m0.5 1.7h0m1.4-1.6h0m0.5 0.2h0m2.3-0.2h0m0.8 1.4h0m0.6-0.3h0m1.3 0.3h0m0.4-1.7h0m0.3 1.5h0m3.2-1.4h0m0.6 1.2h0m1-0.5h0m0.6 0.2h0m2.1-0.4h0m0.7-0.1h0m0.1 0.8h0m1.4 1.2h0m4.1-0.1h0m0.1-1.7h0m0.6 0.2h0m0.1 0.3h0m1.8-1.5h0m1.8 0.8h0m0.2 1.1h0m0.4-0.5h0m0.5 1.2h0m2-2.2h0m0.6 0.2h0m0.6-0.7h0m1.1 2.7h0m0.2-1.7h0m-42.5 3.2h0m0.1-0.8h0m2.2 0.8h0m0.1 0.1h0m1.2 1.5h0m1.6-0.9h0m1.1-1.5h0m0.5 1.3h0m2.7 0.7h0m1.4-0.4h0m1-0.8h0m0 0.1h0m0.5-0.1h0m0.5 1.3h0m4.2 0.2h0m1.5-0.9h0m3.1 0h0m1.9-0.6h0m1.2 0.3h0m0.6 0.1h0m1-1.3h0m2.1 2.4h0m0.4-0.3h0m1.3-0.7h0m0.4-0.9h0m0.2-0.8h0m1.5 2h0m0.1-0.6h0m0.5-0.9h0m1.2-0.2h0m1.5 1.3h0m1.1-1.5h0m2.6 0.8h0m1.5 0h0m0.9 1.3h0m0.4-1.7h0m-42.7 5.3h0m3-0.6h0m0.1 0.4h0m0.7-2.5h0m1.3 0.5h0m0.4 1.5h0m1.5 0.5h0m0.2-0.5h0m0.5-1.3h0m1.4 1.3h0m0.5 0.3h0m2.2-2.2h0m1-0.2h0m0.7 2.3h0m2.9-0.7h0m1.1-1.5h0m2.1 2.2h0m0.1-1.5h0m1.9 0.3h0m0.4-0.6h0m0.4 1h0m1.1 1.2h0m0.2-0.6h0m1-0.9h0m0.5 1h0m1.1 0.4h0m2.7-1.9h0m0.9-0.1h0m0.1-0.3h0m0.2 2.2h0m0.9-2.1h0m0.8 1.4h0m1-1.8h0m1 1.3h0m0.5 0.7h0m2.2-0.9h0m1.7-0.7h0m-37.6 3.9h0m1.2-0.7h0m0.1-0.3h0m0.2 2h0m0.1-0.6h0m0.8-0.4h0m2 1.3h0m3.1-2.4h0m1.4 1.8h0m4.9-1.8h0m0.5 0.8h0m0.3-0.3h0m0 0h0m3.5-0.2h0m2.1 1.8h0m0-2.2h0m6.7 1.3h0m2.1 1.2h0m0.1-0.6h0m4.3-0.2h0m1.7 0.7h0m0.1-2.4h0m1.2 0.5h0m0.8 1.9h0m1.8-2h0m0.4 0h0m1.9 0.9h0m-36.2 2.1h0m2.4 2.1h0m1.9-2.6h0m2.5 1.2h0m0.7 0.1h0m6.8-1.1h0m2 0.3h0m2.3-0.1h0m0.5 2.4h0m3.7-0.9h0m1.4-1.1h0m0.4-0.3h0m2.2 0.4h0m1.7 0.1h0m1.1-0.4h0m0.5 1.6h0m0.8-1h0m0.1-0.7h0m3.2 2.2h0m1.5-0.1h0m-28.9 1.3h0m1.1-0.2h0m2.1 0.6h0m1.5 1h0m2.5-1h0m3.6 1.1h0m0.2-2.3h0m1.8 0.7h0m1.1 1.8h0m0.6-1.9h0m0.1 0.7h0m0-1h0m0.8 0.9h0m3-0.6h0m0.1 0.7h0m0.7-1.2h0m0.3 1.5h0m1.4-1.6h0m1.4 0h0m0.1 0.7h0m1.7-0.7h0m1.6-0.2h0m2.2 1.8h0m1.6-0.7h0m-25.5 4.1h0m0.9-0.6h0m0.1-1.2h0m0.2 0.7h0m1.4 0.5h0m0.5-1.5h0m1 0.8h0m1.5 1.5h0m2 0.1h0m0.8-0.5h0m1.2-0.4h0m0.6-0.7h0m1.2-0.2h0m0.3 2.1h0m2 0.1h0m4.8-2.1h0m3.6-0.2h0m1 0.5h0m2.1 0.3h0m-23.2 2.5h0m2 0.4h0m1.5-1.2h0m0.4 2.8h0m3.5-2.3h0m1.2 1h0m1-1.1h0m0.2-0.2h0m0.7 2.5h0m3.7 0h0m1.8-1h0m0.2-0.6h0m1.2 0h0m2.9 1h0m0.4-1.7h0m-17 5.1h0m0.4-1.8h0m2.4 0.9h0m0.4 1h0m0.8-0.2h0m0.6 0h0m1.9-2h0m3.5-0.1h0m1.3-0.1h0m0.2 0.9h0m0.1 0.1h0m0.1 1.4h0m1.1-0.5h0m0.5 0.2h0m0-0.1h0m0.1-1.8h0m0.5 0.4h0m0.5 1h0m0-1.6h0m1.5-0.1h0m0.1 1h0m-14.4 3.6h0m1 0.4h0m1.6 0.5h0m2.5-2.6h0m2.1 0.1h0m1.3 0.3h0m0.6-0.2h0m0.3 1.4h0m2.2-0.4h0m2.2 0.1h0m0.4-1.2h0m-12.8 3.4h0m1.3 0.4h0m0.4 1.6h0m1.2-1.5h0m4.8-0.7h0m1.3 2h0m-4.8 0.9h0m0.3 2.3h0m2-1.6h0m0.3 0.4h0m1.5-0.7h0m2.1 0.2h0m-6.6 3.4h0" stroke="#ee9ca6" stroke-width="1.3" stroke-linecap="round" stroke-opacity="0.8" fill="none"/>
<path d="M500.5 362h0m-4.7 2.1h0m1.7 1.5h0m-2.3 3.1h0m0.2-0.2h0m1-0.3h0m-5.4 3h0m0.5 0.8h0m3-0.8h0m0.1-0.2h0m3 0.5h0m0.1 0.4h0m-9.7 2.2h0m6 0.8h0m4.5-2.7h0m-15.8 5.6h0m2.1-1.3h0m0.2 1.2h0m2.2 0.2h0m3.7-2.7h0m3.3 2.4h0m-11.3 2.4h0m0.3 0.5h0m2.6 0.2h0m0.5 0h0m6.1-1.9h0m0.2 1.1h0m-12.4 4.1h0m0-1.1h0m1.5 0.5h0m1.1-0.2h0m2.5 0h0m0.1-1.1h0m1.5-0.3h0m3.1 1.9h0m1.4-0.8h0m-15.4 1.5h0m0.4-0.1h0m0.2 1.3h0m2.9 0.5h0m1.3-1.7h0m0.1 1.8h0m1-1.4h0m0.3 1.1h0m0.7-1.1h0m0.6 0.3h0m0.5 1.2h0m2-2.3h0m0.4 1.8h0m1.9-0.6h0m0.8-0.9h0m0.7 1.5h0m1.1 0.1h0m-17.9 2.8h0m3.5 0.6h0m3.4-1.3h0m3.3-0.9h0m0.4 2.7h0m1.1-0.5h0m0.3-2.2h0m1.4 1.7h0m0.7-1.6h0m0.5 2.1h0m-20.1 2.3h0m2.8-0.3h0m0.7-0.6h0m3.8 1.2h0m0 0.1h0m0.1 0.2h0m1.6 0.6h0m3.2-1.7h0m0.8-0.1h0m1.3 1.2h0m0.3-0.6h0m0.8-0.7h0m0.7 1.5h0m3.6-2.2h0m0.2 0.7h0m0.1 0.2h0m0.6 0.2h0m0.9-0.6h0m-22.7 4h0m6.3-1.5h0m3.7 1.2h0m2.3 1.1h0m0.8-0.8h0m0.5 0h0m0.5-1.7h0m0.7 1.5h0m1.2 1.3h0m0.3-0.2h0m0.7-2.5h0m1.3 0.6h0m1.3-0.3h0m-24.1 4.4h0m0.9 0.4h0m0.3 0h0m5.2-1.3h0m0.2 0.9h0m1.1 0.1h0m0.6-0.3h0m1.9 0.5h0m0.1-1h0m1.9 0.6h0m2.3-1.4h0m0.7 0h0m4.7-0.2h0m0.3 1.8h0m1.6 1.1h0m1.1-1.3h0m0.9-1.1h0m0.8 0.3h0m-26.6 3.1h0m4-0.2h0m1.5 2.1h0m4.3-1.6h0m0.2 1.1h0m1-2.4h0m3.1 0.1h0m1 0.4h0m0.7 1h0m2.1 0.6h0m1.5 0.7h0m0.7-1.4h0m2 0.7h0m1.1 0.8h0m-26.3 1.8h0m1.2 0.8h0m0.1-1.7h0m3.5 1.9h0m0.3-2.6h0m0.6 2.6h0m1.8-0.6h0m1.1 0.6h0m0.7 0.2h0m0.9-1.7h0m0.5 0.8h0m5.4 0.6h0m0.1-0.8h0m5 0.1h0m0.8 0.2h0m0.4-1.3h0m1.3 1.3h0m0-0.3h0m2.4-0.6h0m-26.2 4.4h0m3.4-1.3h0m1 0.7h0m1.6-1.4h0m0.1 0.9h0m0.7 0.4h0m0.5 0.4h0m0.1 0.2h0m0.3-0.2h0m2.5-1.7h0m0.1-0.3h0m0.4 1.4h0m1.6 0.3h0m0.6-0.8h0m1.8-0.1h0m0.3 1.9h0m0.5-0.5h0m1.6-1.6h0m0.2 0.2h0m0.1-0.6h0m0.2 1.2h0m1-0.5h0m3 0.1h0m4.7-0.6h0m-23.3 5.1h0m4.7 0h0m1.3-0.5h0m0.1-1.7h0m0.6 1h0m1.3-0.8h0m3.4 0.2h0m0 1h0m0.5 0.4h0m1.9 0.4h0m0.6-2.6h0m0.3 1.5h0m0.4 0.1h0m0.2-1.3h0m1.1 2.1h0m2-0.4h0m0.1 0.1h0m0.1 0h0m2.3-1.3h0m1.4 0.2h0m2.2 0.3h0m-21.2 3.8h0m1.4-0.4h0m1.8-0.7h0m7.7 0.9h0m4.6 0.4h0m1.5-1.5h0m0.6 0.7h0m-17.7 4h0m2-1.4h0m0.1-1.2h0m1 2h0m3.2 0.8h0m1.5-0.4h0m0.1-2.4h0m0.8 1.9h0m0.3-0.1h0m0.3 1.1h0m1.2-2.9h0m0.8 1.4h0m0.2 1.1h0m1.1-1.5h0m0.5 0.4h0m1.7 1.4h0m0.7-2.9h0m2.5 2.3h0m-16.5 3.1h0m0.2-1.7h0m0.3 1.7h0m1-1.3h0m0.4-1h0m1.5 2.1h0m1.5 0h0m0.4-1.9h0m0.3 1.3h0m0.1-0.6h0m0.8 0.3h0m2.1 1h0m0.1 0.2h0m0.1-2.1h0m2.9 2h0m0.5 0.4h0m0.4-2.3h0m0.8 1.7h0m-14.6 3.1h0m2.1-0.6h0m1.5-0.8h0m0.1 1.9h0m0.7-1.3h0m0.7 0.6h0m0.5-1.6h0m0.6 0.2h0m0.1 1.1h0m0.8 0.6h0m2.3-1.6h0m0.7 2h0m1.3-0.4h0m1.6-1.1h0m0.3 0.1h0m1.9 0.2h0m-12.3 4h0m4.2-0.2h0m1.5 0.3h0m2.3-0.7h0m1.3-0.3h0m0.9-0.3h0m0.1 0.5h0m0.1 0.2h0m4.2 0.5h0m-11.4 1.4h0m0.4 1h0m0.6 0.1h0m0.4 0.7h0m2-0.9h0m0.4-0.3h0m1.2-0.3h0m1.2-1h0m1.2 1.7h0m2.5-0.3h0m1.2-1.4h0m-12.6 3h0m0.8 2.3h0m1.2-1.6h0m3.6 1.7h0m2.9-2.2h0m3 1.7h0m-12 2.4h0m1.2-0.5h0m0.5 0.1h0m0.2-0.8h0m0.2 1.2h0m0.9 1.3h0m0.9-2.4h0m0.5 2.2h0m0-1.2h0m0.9-1.2h0m2.1 1.5h0m0.4-1.1h0m0.8-0.5h0m1.3 1.2h0m-2.2 4.6h0m0.1-2.2h0m2.2 1h0m-6 3.2h0m1.7 0.5h0m0.1-1.4h0m0.5 1.5h0m2.3 0.4h0m1.3-1.8h0m-6.7 2.8h0m1.5-0.8h0" stroke="#e67c8a" stroke-width="1.3" stroke-linecap="round" stroke-opacity="0.8" fill="none"/>
<path d="M472.6 389.9h0m-4 2.7h0m5.3-0.6h0m0.2-1.4h0m3.2 1.3h0m-14.3 3.1h0m6.8 0.8h0m2.5-1.9h0m1 0.7h0m3 0.3h0m0.1-1.5h0m0.8 0.4h0m0.3-0.4h0m-14.1 4h0m3.8-0.1h0m0.6 0.1h0m7.5-0.4h0m0.4 0.6h0m2.4-0.1h0m2.4 0.6h0m1.3-1.8h0m0.7 0h0m0.1-0.2h0m0.4 2.3h0m1-0.1h0m-22.3 1h0m1.3 1.9h0m0.7-0.7h0m0.7-0.1h0m2.7 0.1h0m1.1-1.1h0m5.1-0.3h0m0.1 2h0m0.1-2h0m3.9 0.8h0m3.3 0h0m-18.6 3.7h0m2.3-1.2h0m0.6 2.4h0m5-2.4h0m0.3 0.2h0m1.7 1.9h0m3.3-0.3h0m8.5 0.7h0m-21.9 0.6h0m0.1 1.2h0m2.6-0.8h0m2.8 2h0m2.1-0.9h0m5.5-1.9h0m2.6 1.9h0m0.5-0.4h0m-11.3 4.2h0m4.6-0.6h0m3.9 0.5h0m0.6-0.8h0m-14.8 2.6h0m0.9-0.6h0m6.6 0.3h0m2.4 0.4h0m0.1 0.6h0m3.5-2.2h0m3.9 0.7h0m0.3 0.3h0m2.4 0.4h0m-15.9 3.1h0m2.1-1.1h0m0.7 0.3h0m0.1 0.5h0m0.6-0.6h0m0.5 1.4h0m2 0.8h0m1.4-2.7h0m0.5 1.9h0m2.7-1.9h0m4.1 1.1h0m0.8 1.7h0m0.5-1.4h0m-15.5 2.5h0m10.5-0.2h0m0 1.5h0m1.9-2.2h0m0.4 2h0m0.3 0.6h0m0.7 0.3h0m0.6-2.1h0m-4 4.1h0m2.9-1h0m-5.2 4.1h0m0.9-0.9h0m4.8 1.2h0m-11.4 3h0m0.9-0.4h0m3.7-1.5h0m0.5 0.9h0m0.1 0.4h0m0.7 0.3h0m2.6-0.5h0m0.4 1h0m0-1.5h0m0.2 0.2h0m3.3-1.1h0m-7.7 4.1h0m4.6 0.3h0m1.3 0.4h0m-6.3 1.4h0m0.2 2.5h0m2.3-1.7h0m0.3 0.4h0m2.2-1h0" stroke="#cf4454" stroke-width="1.3" stroke-linecap="round" stroke-opacity="0.85" fill="none"/>
<path d="M470.8 394.9h0m0.7-1.4h0m-8.9 5.6h0m0.5 0.7h0m1.9 0.5h0m16.5-0.5h0m-8.1 3.3h0m-1 1.9h0m1.2 0h0m2.1 2.4h0m2.3-1.9h0m-11.3 3.1h0m0.8 1.5h0m7.9-1.9h0m6.3 0.5h0m-18.8 3h0m10 1.6h0m10.7-1.9h0m-19.1 4.8h0m1-0.5h0m0.8-0.7h0m0.9 1.3h0m3.6-0.5h0m6.6-1.4h0m0.2-0.1h0m0.4 1.7h0m-11.8 1h0m5.8 1.6h0m2.7-0.2h0m5.4-0.5h0m0.2-0.6h0m0.5 0h0m-8.9 3.4h0m3.7 0.7h0m5.1 1.4h0m-5.5 5.2h0m-0.3 1.6h0m1.1 0.5h0m0.9 1.8h0m3.6-0.7h0" stroke="#8a1420" stroke-width="1.2" stroke-linecap="round" stroke-opacity="0.9" fill="none"/>
<text x="444" y="382.9" font-size="6.1" text-anchor="middle" fill="#333" textLength="12.5" lengthAdjust="spacingAndGlyphs" transform="rotate(-90 444 380.7)">DC4</text>
<text x="436.4" y="397.4" font-size="6.1" text-anchor="middle" fill="#333" textLength="12.8" lengthAdjust="spacingAndGlyphs" transform="rotate(-33 436.4 395.2)">DC1</text>
<text x="457.3" y="393.7" font-size="6.1" text-anchor="middle" fill="#333" textLength="12.8" lengthAdjust="spacingAndGlyphs" transform="rotate(33 457.3 391.5)">DC2</text>
<text x="411.2" y="338.2" font-size="6.6" text-anchor="middle" fill="#333" textLength="60.7" lengthAdjust="spacingAndGlyphs">Erythroid progenitor</text>
<text x="411" y="346.2" font-size="6.6" text-anchor="middle" fill="#333" textLength="15.9" lengthAdjust="spacingAndGlyphs">score</text>
<rect x="398.9" y="348.8" width="7.7" height="36.2" fill="url(#gr)"/>
<text x="409.2" y="359.1" font-size="6.4" text-anchor="start" fill="#333" textLength="13.1" lengthAdjust="spacingAndGlyphs">0.09</text>
<text x="409.2" y="368.1" font-size="6.4" text-anchor="start" fill="#333" textLength="13.1" lengthAdjust="spacingAndGlyphs">0.06</text>
<text x="409.2" y="377.3" font-size="6.4" text-anchor="start" fill="#333" textLength="13.1" lengthAdjust="spacingAndGlyphs">0.03</text>
<text x="409.2" y="386.2" font-size="6.4" text-anchor="start" fill="#333" textLength="13.1" lengthAdjust="spacingAndGlyphs">0.00</text>
<path d="M94.3 499.4V558.2L31 599.3M94.3 558.2L158 599.3" fill="none" stroke="#222" stroke-width="1.1"/>
<path d="M26.8 568.6L40.6 569.5L57.9 573.3L68.3 573.3L80.3 569.9L92.3 569.9L101.3 566.9L110.8 560.4L120 551.6L129.2 540.9L140.2 530.3L143.8 528.4L147.5 526.7L143.8 537.3L138.3 551.6L136.3 563.6L129.3 575.3L127.3 590.2L124.8 596.3L115.3 606.6L105.6 622.1L103.7 630.7L99.8 637L90.3 634.7L82.3 630.7L76.8 620.5L67.1 611.8L51.8 604.9L51 598.7L49.3 586.6L45.8 581.9L33.7 573.3Z" fill="#e4e4e4" fill-opacity="0.9" filter="url(#bl15)"/>
<path d="M146.4 527.5h0m0.5-0.6h0m-3.5 3.5h0m2.3-0.8h0m-2.3 3.1h0m1.8-1.1h0m-11.1 3.2h0m5.5 0.3h0m0.4 0h0m1.7 0.6h0m2.8-1.1h0m-14.8 4.6h0m1.3-0.1h0m2.9-0.7h0m0.9 1.1h0m1.2-0.6h0m2.6-0.2h0m0.9-1.4h0m0 1.5h0m2.9-0.7h0m-12 4.7h0m2.9 0h0m2.5-0.9h0m1.6-0.9h0m2-0.4h0m1.6 1.1h0m-14.6 3.1h0m0.2-0.1h0m0.3 0h0m4 0.7h0m0.7-0.6h0m3.7 0.5h0m1.4-1.1h0m2.2 1.4h0m-12.2 0.4h0m0.2 1.1h0m1.2 0.7h0m0.9-0.9h0m2.5 1.1h0m1.4-1h0m1.1 1.2h0m0.1-2h0m0.3 1.8h0m0.5-1.1h0m2.2 1.2h0m2-1.3h0m-18.5 4.3h0m9.4 0.2h0m0.4-1.6h0m1.6 0.4h0m1 1.7h0m1.3-0.2h0m2.3 0.3h0m-14 2.2h0m3.9-1.7h0m4.4 1.4h0m3-0.8h0m0.5-0.6h0m0.6 1.5h0m1.3 0.5h0m-22.4 2.7h0m2.5 0.3h0m1-1h0m0.7 1.4h0m1.6-2.2h0m1.1 0.5h0m0.3 1.5h0m1.6-0.7h0m0.8 1.1h0m2.3-2.9h0m0.4 2.1h0m0.9-0.1h0m2.9 0.8h0m1.7-1h0m0.6 1h0m-20.8 1h0m1.6 0.9h0m0.1-0.1h0m8.6-1.3h0m0.8 0.9h0m1.5 0.8h0m0.4-1.8h0m2.3 0h0m1.4 1.4h0m4.3 0.5h0m-22.4 3.1h0m3.4-1.7h0m0.7 1.1h0m0-0.9h0m0.9 0.9h0m0.2-1.1h0m0.3-0.5h0m1.1 0.5h0m0.3 0.7h0m1 0.7h0m2.2 0.8h0m0.2-2.7h0m2.5 1.4h0m2.5 1.5h0m0-1.4h0m0.7 1.3h0m0.9-0.1h0m0.1-1.6h0m0.7 1.5h0m1.5-0.8h0m0.6-0.3h0m0.9 1.2h0m2-0.9h0m5 0.9h0m-35.5 2.4h0m2.7-1.8h0m1.1 1.8h0m0.5-0.7h0m0.9 0.4h0m0.2 0.7h0m0.2-1h0m2.2 0.1h0m0-1.1h0m0.2 1.6h0m1.4-0.8h0m1.1-1h0m0.7 0.8h0m1.5-1.2h0m1.5 2.4h0m0.5-1.7h0m4.6 0h0m2.1 2.1h0m0.3-2.4h0m0.6 1.4h0m1.6-1.5h0m0.9 0.3h0m0.1 0h0m0.2 2.3h0m0.3-1.6h0m2.2-0.2h0m0.6 0.1h0m4-1.2h0m-103.7 5.5h0m7.1-0.3h0m1.1 0.7h0m47.4-0.5h0m1.2-0.3h0m9.1 0.8h0m0.6-1.9h0m0.2 0.5h0m1.7 0.8h0m1.3 0.3h0m4.4-2h0m0.2 1.5h0m4.5-1.7h0m1.5 2.5h0m0.8-2h0m0.6-0.4h0m0.3 1.7h0m0.2-0.5h0m1.4-1.4h0m0.7 0.4h0m0.7 1.4h0m3.2-0.2h0m2.1-1.5h0m0.5 2.5h0m0.6-1.6h0m1.8 0h0m0.5 0h0m0.6-0.5h0m2.9 0.1h0m0.2 1.9h0m2.5-2.2h0m1.5 1.6h0m1.9-1.6h0m-100.6 3.9h0m3.9 0.4h0m0.5-1.3h0m0.9 1.5h0m2-1.4h0m1.5-0.5h0m0 2.6h0m5.2-1.3h0m1.1 0.6h0m0.3 0.3h0m2 0.5h0m2.8-0.3h0m19.4-2h0m1.1 2.3h0m0.2-0.7h0m0.5-0.2h0m0.7 1h0m1-0.8h0m0.7 0.2h0m2.7 0.4h0m2.2 0.1h0m0.9-1.1h0m0.2-1.3h0m0.3-0.3h0m1.5 1.8h0m0.4-1.8h0m0.9 2.2h0m0.8-1.8h0m2.9 0h0m0.4 0.1h0m1.6-0.3h0m5.9 0.6h0m2.2 1.5h0m1.8 0h0m0.2-0.5h0m2.3 1h0m0.8-0.7h0m0.6 0.7h0m0.2-0.2h0m0.9-2.6h0m0.2 1.6h0m3-1.6h0m4.6 0.3h0m0.4 0.5h0m2.3-0.9h0m4.2 2.5h0m0.8-2.5h0m1.6 1.6h0m0.3-1.1h0m0.3 0.2h0m0.5-0.4h0m0.8 0.7h0m3.7 0.9h0m1.6-0.6h0m0.5 0.6h0m1.2-2h0m-91.5 6h0m5.6-0.6h0m0.6 0.4h0m3.9-2.4h0m1.3 0.9h0m0.6 0.7h0m3.2 0.7h0m3.5 0h0m2.1-1.9h0m0.8 0.6h0m2.5-0.6h0m1.6 1.8h0m6.4-2.4h0m2.1 2.5h0m2.1 0.2h0m0.8 0.1h0m0.8-1.8h0m5.7 1.2h0m0.8-0.9h0m3.2-0.1h0m0.6-1.1h0m1.3 0.2h0m1.7 1.4h0m1.3-1.8h0m0 0.7h0m2.9 0.8h0m0.8 1h0m2.5-0.5h0m2.9 0.5h0m0.2 0.1h0m0.2-1.4h0m3.1 1.7h0m2.6-0.9h0m0.5 0.9h0m1.2-0.4h0m4-0.6h0m1.1-1.1h0m6.1 0.1h0m0.9 0.6h0m0.3 1.3h0m1.4-1.2h0m1.4-0.2h0m3.6 0.2h0m-91.5 2.7h0m0.7 0.4h0m0.3-1.5h0m2.6 1.2h0m1.8 1.4h0m2.1-1.8h0m2 0.1h0m2.6-0.4h0m2.5 1.5h0m0.4-2.2h0m0.6 1.8h0m0.7 0.4h0m1.3-0.6h0m0.7-1.1h0m3.5 0.3h0m3.9 1.7h0m0.6-1.3h0m0.5 1.6h0m0.3-0.1h0m0.3-1.5h0m7.9 1.4h0m1.9 0.1h0m1.1-1.4h0m0.1 0.7h0m2.1-0.7h0m0.7 0.4h0m1-1h0m2 0h0m0.9 1.1h0m0.7-1.7h0m2.7 0.8h0m5.1-0.7h0m1.4 1.1h0m0.7-1h0m5.7-0.3h0m4.8 2.6h0m0.3-0.2h0m0.5-0.5h0m0.6 0.3h0m0.1 0.1h0m1.8 0.5h0m4.2-2.7h0m3.9 1.5h0m2.8 0.5h0m0.5-0.9h0m4.1-1.3h0m5 1.1h0m-78 2.8h0m2.1 1h0m1-0.9h0m0.6 0.1h0m1 0.9h0m1.1 0.5h0m0.3-0.9h0m0.7 0.7h0m1.4-1.4h0m1.7 0.2h0m0.2 0.5h0m1.5 0.6h0m0.2-1.6h0m3.4-0.2h0m1.8-0.1h0m8.8 0.6h0m0.4 2.1h0m1.7-1.2h0m1.9-0.7h0m1.1-0.3h0m2.8 0.4h0m2.4 1.8h0m0.1-0.9h0m2.8 0.3h0m0.9-0.9h0m1.8 0.8h0m0.8-2.2h0m4.4 2.2h0m3.6-0.2h0m2.5-1.1h0m0.8 1.4h0m0.5-1.1h0m4.4 0.9h0m0.7 0.7h0m0.5-2.1h0m0.3 1.1h0m0.4-0.3h0m4.7 1.4h0m4.6-2.9h0m3.8 2.6h0m1.8-2h0m-77.3 2.4h0m1.2 1.1h0m0.4 1h0m3.6 0.2h0m0.6-0.5h0m0.5 0.6h0m0.3-1.5h0m0.7 1.5h0m0.8-1.3h0m0.6 1.3h0m2-2.4h0m0.3 1.5h0m2.7 0.6h0m2.3-1.9h0m0-0.1h0m7.3 1.7h0m3.7-1.8h0m0.3 2.6h0m0.4-0.1h0m1.7-1.2h0m2.3-0.2h0m0.3 1.3h0m2-2h0m0 0.3h0m2.1 1.2h0m2.7-1.7h0m2.3 1.4h0m1.2-0.1h0m0.4 1h0m0-0.4h0m1.2-0.7h0m5.3-0.8h0m0.4 0.8h0m0.9-0.7h0m2.5 0.4h0m0.6-1h0m2.2 2.4h0m2.7-0.1h0m1.2-2.2h0m0.2 1.3h0m3.1 1.1h0m0.3-2h0m0.5 1.9h0m3-0.4h0m0.6 0.1h0m0.4-1.1h0m4.3-0.6h0m1.8 0.5h0m0.3-0.9h0m0.5 0.6h0m1.2 2.1h0m0.4-2.8h0m1.3 2.4h0m-72.9 2.2h0m4.6-0.6h0m2.5-0.1h0m4.4 0.5h0m8.4 0.9h0m5.2-0.3h0m0.4-1.5h0m5.8-0.1h0m3.9 0h0m4.2 0.3h0m0-0.4h0m0.3 1.2h0m0.3 0h0m3.7 1h0m0.3 0.2h0m0.8-2.7h0m1.1 0.2h0m0.2 2.4h0m2.8-1h0m4.5 1h0m0.3-2.5h0m1.7 1.6h0m2.5-0.1h0m0 0.3h0m0.1 0.8h0m0.8-1.5h0m2 0.2h0m8 0.5h0m2.2-1.5h0m0.1 0.1h0m0.1 0h0m0.7-0.5h0m3.7 0h0m-76.4 3.3h0m0.3 1.6h0m1.3 0.2h0m0.1-2.2h0m0.4 0.5h0m1-0.2h0m1.2 1.2h0m1.9-0.7h0m0.6 1.5h0m1.6-0.7h0m0.2 0h0m1 0.1h0m0.8 0.5h0m1-1.6h0m1.3 0.6h0m2.5 1.1h0m0.8-0.6h0m2.4 0.7h0m1.1 0.2h0m1.5-1h0m3.1-0.7h0m2-0.8h0m1.4 0.5h0m2.1 1.4h0m1.6-2h0m1.7 0.9h0m0.2 1.8h0m1.6-1.3h0m2.3 0.5h0m2.4-1.4h0m0.1 0h0m0.7 0.8h0m0.3 0.1h0m0.5 1.1h0m1.7-0.2h0m1.1 0.4h0m8.3-2.1h0m0.6 2h0m0.3-1.5h0m5.1 1h0m0.1 0.7h0m4.5-2.3h0m0.4 2h0m1.6-0.6h0m0.9-1.9h0m2.5 0.7h0m1.7 0h0m2.5-0.3h0m0.1 2h0m0.1-1h0m-74.9 3.8h0m5.4 0.5h0m1.6-1.7h0m0.7-0.3h0m0.9 1h0m0.6-1h0m0.9 2.2h0m4-1.6h0m0.6 1.3h0m1.2-1.5h0m2.3 0.6h0m0.2 1.1h0m0.8-1.8h0m1.3-0.8h0m1 1.1h0m1.6 1.2h0m1 0.2h0m0.4-2.4h0m0.1 0.9h0m0.1-0.9h0m0 0.1h0m2.3 0.1h0m2.6 1.7h0m1.3-1.7h0m1.7 1.8h0m1.1-1.2h0m0.3 0.5h0m4 0.6h0m1.2-2h0m4 2.3h0m3.7-1.6h0m1.9 1.8h0m1.1-1.2h0m5.5 1.3h0m4.6-2.7h0m1.8 0.4h0m4-0.3h0m0.7 2.1h0m0.3-1.9h0m0.8 1.1h0m1.1-0.5h0m2.2 0.9h0m1.6-0.6h0m2.2 1h0m0.3-1.4h0m0.7 0.3h0m1.7-0.9h0m-75.2 4.7h0m1.1-0.1h0m1-1.2h0m2.4 1.9h0m2.3-1.5h0m1.9 1.3h0m1.6-0.7h0m1.3-1.3h0m1.5 1.8h0m1.5-2h0m2.4 2.1h0m4.6-0.7h0m1.2-1.4h0m4.8 1h0m0.4 1.6h0m0.6-2.4h0m1.5 1.3h0m0.1-1.5h0m0.7 1.9h0m1.8-1.9h0m0.3 1.8h0m5.1-1.1h0m0-0.9h0m2.3 2.9h0m0.1-2.9h0m0.2 3h0m0.4-0.2h0m0.3-0.8h0m0-0.3h0m0.9 1h0m1.5-0.9h0m0.7-1.5h0m2.5 0.4h0m1.7 2.2h0m1-1.8h0m1.4-0.3h0m2-0.6h0m0.4 0.7h0m1.7 0.8h0m0.2 1.2h0m1.2-2.7h0m0.5 1.1h0m0.6-0.9h0m0.2 1.1h0m2.4-1.2h0m2.4 0.7h0m1.2 1.3h0m0.4 0.3h0m0.2-1h0m0.5-1.1h0m0.6 0.4h0m0.4 1.6h0m0.6-0.8h0m3.6 0.3h0m0.4-0.4h0m-69.7 3.2h0m4.2 1.1h0m0.2-1.2h0m0.6 0h0m1 1h0m0.5-1.7h0m0 1h0m2.9 0.3h0m2.5-1.6h0m0.1 2.1h0m3.5-2.6h0m1.2 0.6h0m0.2-0.2h0m1.6 2.3h0m0.4-1.4h0m0.3 0.3h0m2.1-1.8h0m1.3 2.2h0m7-1.4h0m0.6 2.1h0m2.9-2.7h0m0.5 0.8h0m0.2-0.8h0m2.3 0.5h0m2.8 0.2h0m1.5 0.6h0m0.3-0.1h0m2.7 1h0m0.2-0.8h0m1.2 0.2h0m0.3-0.5h0m0.5 1.2h0m3.7-0.3h0m0.4-1.7h0m0.2 1.5h0m1 0.1h0m0.5-0.2h0m0.8-1.1h0m2.3-0.7h0m0.3 2.6h0m4.5-0.1h0m1.1-0.2h0m2.9-1.7h0m0.4 1.6h0m0 0.6h0m1.6-1.9h0m0 0.5h0m0.2-0.8h0m1.1 0.7h0m-66.2 3.5h0m1.8-1.4h0m2.6 1.4h0m0.2-0.4h0m1.8 1.4h0m1-0.3h0m0-1h0m4.1-1.5h0m0.1 2.5h0m1-1.9h0m4.4 0.6h0m0.7-1.2h0m3.8 1.5h0m2.9-0.6h0m0.3 0.8h0m7.1 1.1h0m4.2-1.2h0m0.2 0.3h0m4.2-1.8h0m1.5 2.6h0m6.4-2.3h0m1.3 0h0m0.9 2.3h0m1.5-0.4h0m1.9-0.5h0m4-0.7h0m5.3-1h0m2.1 1.6h0m1.8 0.9h0m-69.9 1.7h0m0.5 0.4h0m2.4-1.7h0m4 0.6h0m1.2 0.1h0m1.1 1.4h0m4.7 0.7h0m0.2-1.8h0m3.3-0.5h0m1.5 2.2h0m2.3-1.4h0m6.9-0.4h0m1.9 1.3h0m0-1.8h0m4.7 1.5h0m2.3-0.6h0m0-1.4h0m2.3 0.5h0m0.7 0.3h0m1.6 0.4h0m2.3 0h0m0.2 1h0m0.6 0.5h0m2.4 0.1h0m1.6-2.3h0m1 2h0m0.5-1.9h0m1 0.6h0m0 0.8h0m0.8-0.4h0m2.4 0.6h0m1.3-2.1h0m0.2 2.4h0m0.6-2.5h0m3.2 0.1h0m1.5 1.7h0m0.3-1.5h0m0 0.8h0m2.9-0.8h0m-50.6 3h0m2.6 2.7h0m3.2-0.5h0m0.5-2.3h0m0.8 1.4h0m1.4 0.2h0m2.1-0.9h0m4.2 1.8h0m1.7-0.2h0m5.3-1.9h0m0.3-0.1h0m3.1 0.4h0m0.6 0.7h0m0.3 0.3h0m1.6-0.5h0m1.6-1.3h0m0.4 1.3h0m0.1-0.7h0m0.4 1.6h0m0.3-2.2h0m2.2 1.5h0m0.3-1.5h0m1.3 2.7h0m2.2-2.5h0m1 2.7h0m1.5-2.2h0m1-0.7h0m0.3 0.6h0m0.5-0.5h0m2.7 2.8h0m1-1.3h0m0.7-0.9h0m0.5 0.7h0m0.5-0.3h0m4.3-0.8h0m-45.3 4.3h0m3.3-0.8h0m5.3 1.7h0m0.7-0.9h0m2.7-0.4h0m0.4-0.5h0m1.5 0.4h0m3.6-0.6h0m0.4 1.5h0m0.1-0.6h0m2.1-0.7h0m0.1 0.1h0m1.8 0.4h0m1.5 0.6h0m6.3 0.5h0m0.8-2.3h0m0.1 0.6h0m1-0.6h0m0.1 0.1h0m0.3 1.2h0m0.3-0.5h0m0.1 1.3h0m0.5-1.1h0m1.3-0.6h0m1.5 0.9h0m2.8 1.3h0m4-0.8h0m-42.1 1.8h0m2.4 0.4h0m1.5-0.5h0m6.7 2.2h0m0-2.5h0m1.6 2.4h0m4.2-0.9h0m0.8 0.1h0m1.1 0.2h0m4.4 0.6h0m0.2-1.4h0m0-0.1h0m0.3 0.8h0m1.6-1.4h0m1.7-0.6h0m0.5 2.2h0m0.1-2.1h0m4 2.3h0m2.2-0.2h0m2.7-0.4h0m0.7 0.4h0m0.5-1.8h0m0.9 2.6h0m-32.8 2.5h0m0.6-1.3h0m2.7 0.7h0m0.1-0.2h0m4.3-1.5h0m6.2-0.1h0m1.3 0.9h0m2.8 1.3h0m0.3-0.8h0m0-1.4h0m0.4 0.2h0m1-0.2h0m1.9 0.2h0m2.5 2h0m1.9 0.1h0m2-1.7h0m0.1 1.6h0m3.6-2.1h0m0 0.1h0m0.7 1.1h0m-32.5 4.1h0m5.3-2.3h0m1 2.7h0m0.3-1.6h0m2.2 0.2h0m0.2-1.1h0m1 2.5h0m5.7-0.6h0m5.5-0.6h0m1.1 0.6h0m2.5 0.3h0m8.2-1.7h0m0.2 0h0m-31.7 2.5h0m1.4 0.4h0m1.2-0.7h0m1.6 2.4h0m0.5-1.5h0m3.3 2h0m0.2-2h0m1.8 1.3h0m0.3-0.6h0m2.6 1.3h0m2.5-0.1h0m1.6-0.9h0m0.2-0.4h0m0.8-1.2h0m2.6 2.1h0m0.2-2h0m0.2 1.2h0m1 0.3h0m0.2-0.2h0m1.9-1h0m0.2 0.6h0m0.2-1h0m0.5 1.2h0m2.7-0.3h0m-22 3.6h0m1.9-0.3h0m2.2 0.6h0m0.3 0.4h0m0.1-0.4h0m0.2-1.6h0m0.4 0h0m2.1 0.3h0m0.1 0.3h0m0.4 1.4h0m0.2-2.4h0m0.6 1.3h0m0.9 0.7h0m2.1 0.7h0m1.6-0.2h0m2.5-1.3h0m1.3-0.8h0m2-0.4h0m1.2 0h0m-20.3 3.3h0m4.7 2.2h0m2.7 0.2h0m3.1-1.6h0m1.9-0.4h0m4.1-0.6h0m0.3 0.8h0m0.3-1h0m4.5 2.7h0m0.3-1.1h0m-22.7 4.2h0m3.8-0.8h0m0.2-0.2h0m2.4-1.1h0m3.4 0.5h0m1.6 0.4h0m1.4-1.4h0m0.7 0.4h0m1.1 1h0m4.1 1h0m0.1-0.8h0m1.7-1.4h0m-12.2 3h0m2.2 0.1h0m5.9 1.9h0m0.6-1.1h0m1.4-0.7h0" stroke="#d2d2d2" stroke-width="1.1" stroke-linecap="round" stroke-opacity="0.8" fill="none"/>
<path d="M143.2 529.6h0m1.9-0.7h0m1.8 2.2h0m-10.6 8.5h0m1.3-0.5h0m0.8-1.9h0m0.9 2.5h0m-6.3 0.5h0m7.3 0.9h0m-7.4 3.9h0m0.9 0.2h0m0.1-1.7h0m2.6 0.4h0m1.5-0.9h0m-11.9 5.1h0m2.6 0.3h0m2.1-2h0m5.5 3.1h0m-12.5 3.1h0m6.5 1.7h0m2.8-1.9h0m0.7 0.4h0m-14.9 3.2h0m0.3-0.3h0m3.5 0.1h0m2.5 1.9h0m6.8-1.4h0m-20.6 4.6h0m6.8-1h0m2.3 0.1h0m11.3 0.7h0m-20.1 2.8h0m7.3-2.2h0m0.9 0.8h0m7.2 1.1h0m5.6 0.3h0m2-1.8h0m0.5 2.1h0m-2.5 2.5h0m-46.8 3.7h0m6.6-0.1h0m17.9 0.1h0m3-2.3h0m0.4 1.8h0m0.1-1.2h0m9.5 1.5h0m2.8-1.3h0m1.3-1.5h0m4.2 0.4h0m-100.8 2.8h0m8.8 0.8h0m1.8 0.2h0m16.3 1.2h0m11.4 0.6h0m6.3-0.6h0m1.7-0.8h0m0.3 0.1h0m3.6 0.5h0m1 0.4h0m3.5-0.7h0m2.1-1.1h0m0.9 0.9h0m4.3-1h0m4.8 2.3h0m3.4-0.8h0m14.9 0.3h0m1-1.8h0m0.5 1.4h0m5-0.4h0m7.8 0h0m0.6 0.1h0m-96.5 1.6h0m17 2.1h0m3.4 0.1h0m0.2-1.5h0m2.1 0.5h0m9.6 0.9h0m3.4 0.2h0m6.3-1.5h0m12.1 1.2h0m1.6 0.2h0m5.9-2.5h0m8.9 2.1h0m3.6 0h0m0.7-0.7h0m7.6-0.5h0m9.2-0.5h0m-76.6 3.6h0m7.1-0.3h0m15.8-0.2h0m1.3 0.7h0m8.2-0.3h0m6.2 0.7h0m5.6-1h0m2.7 2.2h0m2.5-2.6h0m7 1.5h0m0.4-0.5h0m6.5 0.3h0m7.8-1.1h0m0.2 1.6h0m6.6-2h0m-70.2 4.6h0m10-0.7h0m0 1.8h0m7.6-2h0m0.9-0.4h0m1.2 1.1h0m4.8 0.6h0m4.5 0.6h0m1.1-2.6h0m18.8 1.6h0m0.2-1.6h0m2.7 1.2h0m3.1 1.5h0m1.9-2.6h0m2.8 1h0m2.2-0.5h0m7.8 1.3h0m0 0.9h0m-78.7 1.7h0m1 0.8h0m5.9-2.3h0m4.3 2.5h0m4.4-1.3h0m1.3 0.2h0m8.5-0.8h0m7.1 2h0m0.3-1h0m1.1-0.1h0m1.2-0.5h0m2.8 0h0m1.3 1.3h0m2.5 0.5h0m4.8-1.2h0m7.7 0.1h0m0.7-0.5h0m11.3 0h0m4.2 1.3h0m5.7-0.9h0m-74.4 3h0m1.3-0.2h0m1.2 0h0m8.4 1.1h0m1-0.7h0m1 0.5h0m8-2.3h0m4.4 2h0m10.9 0.6h0m2.5-2h0m5.6 0.8h0m6.8 0.9h0m4.8-0.6h0m1.4-1.2h0m4.6 1.8h0m3.4-1.5h0m0.1-0.9h0m0.1 1.2h0m7.7 0.3h0m-65.5 4h0m4.9-0.7h0m2-0.1h0m14.2 0.1h0m13.3-1.2h0m0.8 1h0m0.2-1.2h0m3.2 1.7h0m9.7 0.9h0m12-2.9h0m3.1 0.8h0m-64 3.3h0m0.9 1.1h0m12.2 0.1h0m6.8-1.5h0m8.8-0.1h0m1.2 1.4h0m0.2-1.9h0m10.6 2.5h0m1 0.1h0m2.3-2h0m3 2h0m0.4-1.9h0m11.3 1.6h0m7.2-1.9h0m-69.2 5.1h0m1.2 0h0m1.8-2.3h0m0.4 2h0m1.1-1.5h0m17.8 1.5h0m2.2-0.3h0m7.2-1.9h0m3.7 1.9h0m10.4-1.7h0m9.4 1h0m3.8 0.1h0m1.4-0.5h0m11-0.5h0m-73.8 2.6h0m1.3 0.6h0m2.5 0.5h0m12.7-0.5h0m3.3-0.4h0m7.4 2.5h0m19.6-2.3h0m3.5 1.9h0m2.1-1.7h0m0.7 2.2h0m18.9-1h0m-70.7 1.2h0m11 2.8h0m1.8-0.9h0m7.3-1.3h0m3.2 1.7h0m24.2-1.6h0m1.9 0.6h0m4.5 0.6h0m1.4-0.7h0m6.6-0.4h0m2.2-0.9h0m-58.4 4.9h0m1.5 0.5h0m3.3-1.7h0m2.7 0.8h0m5.1 1.3h0m0.9-1.6h0m3.1-0.2h0m2.8-0.7h0m0.4 1.9h0m0.9 0.3h0m0.5-1.4h0m2.2 0.1h0m1.2 0.9h0m2-0.4h0m1-0.9h0m2.5 0.7h0m10.7 0.5h0m8.3 0.2h0m8.9 0.1h0m-63.1 0.7h0m3.3 0.1h0m0.2-0.1h0m8.7 0.9h0m3 1.6h0m2-1.3h0m6.8 1.5h0m4.2-2.6h0m1.4 1.9h0m5-0.1h0m2.2-1.2h0m3.2-0.7h0m6.1 1.4h0m4.8 0.9h0m10.7-1.4h0m-52.2 3.2h0m9.2 1.5h0m0.8 0.3h0m0.7-0.3h0m0.3-0.1h0m5.4-1.9h0m11.9 0.2h0m3.2 0.4h0m1.4-0.2h0m2.2-0.1h0m-21.9 4.8h0m13.6-2.2h0m3.7-0.4h0m-12 5.6h0m13.3-1.8h0m2.1 0.5h0m-18.4 4.2h0m2.2-2.7h0m2.3 1.5h0m3.6-0.8h0m4 0h0m10.1 1.1h0m0.1 0.5h0m-17.9 1.2h0m8.4 2.1h0m1.1-2.2h0m4.1 1.9h0m3-1.9h0m1.4-0.1h0m1.6 2.3h0m2.1-0.4h0m-24.2 1.9h0m0.4-0.8h0m9.9 2.2h0m9.6-0.6h0m3 0.2h0m0.5-1.3h0m-17.9 2.7h0m6.5 0.3h0m1.9 1.5h0m-3.8 1.5h0m3.6-0.1h0m6.2 1.3h0m2.8 0.2h0m-8.6 1h0m6.2 2h0" stroke="#fafafa" stroke-width="1.1" stroke-linecap="round" stroke-opacity="0.8" fill="none"/>
<path d="M138.3 532.8h0m6.6-0.6h0m-1.2 6.2h0m-10.2 2.3h0m3.5 3.7h0m-8 2.1h0m1.3 2.1h0m3.8-1.6h0m-4.5 3h0m3.6 0.9h0m5.3-1.4h0m-18.2 2.6h0m1.8 2.1h0m15.3-0.8h0m-19.8 2h0m21 1.5h0m-23.1 3.1h0m5.2-0.5h0m0.1 0.4h0m3.3-0.9h0m-14.1 3.5h0m7.1-1h0m3.2 0.9h0m0.8-0.9h0m6.9 2.1h0m2-2.6h0m-13.9 3.4h0m11.3 1.7h0m5.3-0.5h0m2-0.1h0m-26.6 2.3h0m1.2-0.3h0m8.9 1.2h0m1.7-1.2h0m6.9 0.1h0m-94.6 3.5h0m1.5-0.7h0m56 1.6h0m8.8-1.1h0m10-0.8h0m3.7 2.8h0m10.2-0.5h0m-68.8 3h0m8.6-0.1h0m0.6-0.6h0m23.2-0.2h0m14.1 0h0m8.3-0.5h0m4.7 0.4h0m0.8 0h0m9.1-1h0m5.5-0.2h0m-82.6 5.2h0m4.5-0.7h0m4.1 0.8h0m5.6-2.4h0m58.8 0.2h0m0-0.1h0m-72.7 4.3h0m1.9 0.4h0m2.3-0.6h0m22.4 1.5h0m38.7-1.1h0m3.8-0.9h0m-37.2 3.3h0m-26.8 5.5h0m57.3 0.3h0m-41.5 4.1h0m21.5-0.2h0m20 1.1h0m9.9-0.6h0m-53.5 1h0m5.4 1h0m0 0.5h0m26.4-0.3h0m1.1 0h0m14.1 1.1h0m5.6 0.1h0m-56.4 2.5h0m0.1-1.9h0m2.5 0.9h0m2.3-0.5h0m0.9 2.3h0m2.6-2.2h0m15 1.4h0m21.5 0.3h0m14.3-0.5h0m-54.6 3.2h0m0.3-0.5h0m12.6-1.1h0m33.1 0.6h0m3.3 0.3h0m-60.2 1.8h0m2.2 1.9h0m3.4-0.3h0m1.3-1h0m3.8 2h0m7.4-0.2h0m6.8-2.5h0m14 1.9h0m14.8-1.7h0m-48.6 3.7h0m0.3-1h0m2.1 2.8h0m11.1-2.4h0m0.1 1.2h0m13 0.7h0m14.5-0.2h0m-26.4 2.9h0m3.8 0.2h0m4.3 0.3h0m-14 1h0m3.4 2.4h0m1.8-1.4h0m0.2-1.3h0m0.1 1.9h0m3.6-0.1h0m2.1-1.8h0m0.6 1.7h0m28.3-0.7h0m-30.4 4h0m7.9 0.1h0m9.9-1.6h0m-21.3 2.9h0m12-0.6h0m11.8 0h0m-10.9 3.3h0m16.3 2.2h0m1.7-2.1h0m-21.9 5.4h0m0.1-0.7h0m8.1-2.1h0m1.8 1.3h0m1.1 3.3h0m-6.6 2.2h0m1.7 0.5h0m3.6 0.7h0m-0.5 1.7h0" stroke="#e01860" stroke-width="1.5" stroke-linecap="round" stroke-opacity="0.95" fill="none"/>
<path d="M140 534.7h0m-8 4.2h0m1 0.3h0m7.1-0.4h0m0.5 0.8h0m-7 0.6h0m1.2 1h0m2.6 1.4h0m-10.3 2.2h0m7-0.9h0m0.5 1.2h0m0 0.8h0m5.5 0.3h0m-10.2 3.7h0m5.9 0.5h0m1 0.2h0m0.4-0.5h0m-12 7.7h0m-10.9 2h0m8.8 0h0m-10.8 4.1h0m2.2-1.5h0m5 0.5h0m3.6 0.3h0m0.6-0.3h0m-19.3 3.1h0m3.8-1h0m5.1 0.7h0m-3.8 2.6h0m1.4 0.1h0m4.2 0.7h0m8.2-1.5h0m0.2 1.9h0m2.5-1.7h0m-92.9 3.6h0m0.1-0.6h0m1.6 0.9h0m13.2 0h0m64-0.6h0m2.2 0.3h0m0.6-0.7h0m0.5 0.8h0m4.2-0.4h0m9.4 1.9h0m-83.5 1.5h0m2.3-0.4h0m9.2-0.4h0m0.6 1.3h0m55 0.2h0m2.5 0.8h0m3.8-2.6h0m5.1 0.7h0m2.6 1.8h0m0.8-0.7h0m-87.8 1.5h0m73 0.8h0m4.7 1.1h0m0.4-0.4h0m5.2-1.8h0m3.4 2.3h0m-76.1 2.7h0m9.6-1.4h0m0.7-0.7h0m27.1 1.4h0m1.6 0.4h0m-7.6 1.9h0m9.1-0.6h0m-16.8 4.7h0m8.1 0.7h0m15.4-2.7h0m-45.2 4.5h0m3.9-1.3h0m5.8 4.5h0m2.3-0.8h0m0 0h0m1-0.8h0m-13.3 5.5h0m0.3-1.2h0m0.9-1h0m3.7 1.4h0m5.7-1.2h0m5.1 0.8h0m2.7 0.4h0m6.1-0.9h0m32.8-0.8h0m3.6 0.3h0m-54.7 4.4h0m6.8-0.7h0m3.1 0.6h0m10.9 0.8h0m17.6-1.7h0m15.7 1.2h0m-59.5 2h0m0.8 1.1h0m0.3 0.2h0m18.4-0.7h0m32.1-0.5h0m-51 4.1h0m0.5-0.9h0m3.4-1.1h0m2.2 0.2h0m4 1.2h0m4.2-0.7h0m29.8 0.1h0m2.2 1.1h0m8.6-0.9h0m7.2 0.7h0m-52.6 3.5h0m2.9-1.8h0m7 0.9h0m9.8 1h0m7.8-1.3h0m-17.4 2.7h0m3 1.1h0m0 0.1h0m8.6-1h0m4.5-0.4h0m12.1 1.8h0m-30.1 3.2h0m1.4-1.6h0m5.5 0.4h0m32.1-0.9h0m-35.7 4.9h0m2.1-2.6h0m2.8 0.5h0m17.4 0.5h0m8 1.2h0m-16.5 1.8h0m1.2 1.5h0m4 0.4h0m-4.8 2.3h0m1 2h0m3 2.9h0m1.5 1.1h0m-3.2 2.5h0m1.9 0.5h0m-4.5 1.5h0m6.7 2.1h0" stroke="#c02080" stroke-width="1.5" stroke-linecap="round" stroke-opacity="0.95" fill="none"/>
<path d="M146 527.8h0m-3.2 2.2h0m-2.7 3.3h0m4-2h0m-6.4 4.3h0m2.7 0h0m-0.8 2.6h0m-6.9 3.1h0m4.4 1.3h0m4.8-0.6h0m-12.4 3.1h0m0.6-1.5h0m1.8 0.2h0m0.9 1.6h0m-9.6 5.2h0m2.8 0.7h0m4.6-1.6h0m1.4-0.2h0m1.5 0.3h0m-13.1 2.4h0m13.4 0.6h0m0.4-0.7h0m0.2 1.9h0m0.9-1.6h0m1.1 0.7h0m-16.6 2.2h0m0.7 1.1h0m1.1 1h0m4.8-1.3h0m2.7 0.3h0m-4.2 4.5h0m2-0.3h0m1.7-1.9h0m6.9 0.3h0m0.9 1.4h0m-24.7 1.5h0m12-0.1h0m8.1 0h0m0.6-0.4h0m-9.9 3.9h0m1.8-0.5h0m3.7-0.1h0m-100.1 3.8h0m81.8-0.6h0m2.7 1.2h0m3.9 0.5h0m6.7-1.6h0m3 1.5h0m1-0.6h0m0.8-0.9h0m-82.1 4.1h0m31.8 0.8h0m9.6-1.3h0m25.2 0.1h0m8.1 0.4h0m3.5-1.6h0m1.8 0.4h0m4 0.1h0m-95.6 2.6h0m3.1 1.4h0m5.8-0.7h0m1.5 1.1h0m2.8-0.9h0m8.5 1h0m27-0.1h0m28.8-2.1h0m1.8 1.5h0m11.6-0.7h0m0.6 0.1h0m0.8 0.5h0m2.1 0.1h0m-27.4 4.1h0m16.3-0.6h0m0.6-1.7h0m7-0.3h0m-79.8 4.7h0m10.3-0.9h0m4.8 1.5h0m4.1-2.5h0m16.4 2.5h0m-8.9 1.8h0m3.8 0.9h0m0.3 0.3h0m50.4-2.1h0m-22.9 3.1h0m-41.9 4.7h0m1.9 0.3h0m-5.4 0.5h0m35.1 0.3h0m4.6 0.2h0m14.8 1.8h0m5.4-1.7h0m-60.7 4.9h0m18-2.1h0m3.2 0h0m22.6 2.5h0m-34 1.4h0m1.1 1.6h0m41-1.8h0m-46.3 2.4h0m3.1 0h0m1-0.1h0m3 0.2h0m5.9 2.1h0m5.4-0.1h0m-27.2 2.4h0m16.7-0.7h0m20.6-0.4h0m15.1 0h0m-44.2 2.3h0m0.9 2.1h0m1.3 0h0m13.7 0.5h0m1.7-2.4h0m2.8-0.3h0m6.3 2.5h0m10.4-0.1h0m0.2-1.5h0m-38.2 2.4h0m6.3-0.2h0m13.3 1.5h0m0.2 1.2h0m-1.3 2.1h0m1.2-1h0m1 1.9h0m-4.2 0.9h0m9.9 0.9h0m13.3-0.6h0m-23.5 4.4h0m1.6-2.4h0m5.9 1.8h0m-6.7 2.1h0m12.6 2.7h0m3.1 1h0m-1 3.4h0m-8.9 1.2h0m4.4-0.1h0m2.7 4.1h0" stroke="#9a2a9a" stroke-width="1.5" stroke-linecap="round" stroke-opacity="0.95" fill="none"/>
<path d="M140 530.8h0m1.4-0.4h0m2.8 1.8h0m-9.1 4.6h0m5.5-1.9h0m2.4 0.8h0m0-1.7h0m0.3 1.7h0m-13.3 3.6h0m9.1-1.5h0m0.8 2h0m-10.4 1.4h0m0.8 1.2h0m4.6-2.2h0m-3.9 3h0m5.6-0.1h0m1.3 1.2h0m0.5 0h0m-12.3 3.9h0m0.6-1.9h0m9.4 1.3h0m-12.4 2.3h0m7 0.8h0m4.9-0.2h0m3.2-0.1h0m-4.3 2.8h0m2.9 1.3h0m-21.9 3.2h0m4.4-0.7h0m2.8 0.6h0m5.6-1.5h0m1.5-0.5h0m2.5 0h0m2.8 0h0m-22.3 5.3h0m15.5-0.1h0m2-0.3h0m0.9 0.3h0m1.2-2h0m2.7 0.7h0m0.7-1.3h0m-24.1 3.4h0m0.4 2.4h0m3.9-0.2h0m4.5-0.2h0m3.4 0h0m6.8-1h0m3.2-0.7h0m-25.8 3.9h0m8.6-0.9h0m2.1 0.9h0m-3.7 1.8h0m2.9 0.7h0m-79.9 4.3h0m1.8-1.5h0m3.8-0.6h0m65.7 1.5h0m14.6 0.6h0m0.8-0.8h0m0.6 0h0m-82.9 4.1h0m15.8-1.5h0m66.5 1.5h0m-77.7 0.9h0m16.9 2h0m0.8-0.1h0m50.2-2.1h0m6.6-0.5h0m1.9 0.2h0m0.9 1.2h0m-78.4 1.8h0m16.4 0.6h0m60.9-0.5h0m-70.2 5.1h0m35-1.4h0m3.7 3.2h0m22.1 1.2h0m5.5-0.4h0m7.2-0.5h0m-76.2 3.8h0m9 0.1h0m5-1.9h0m2.7-0.1h0m57.3 0.4h0m-65.5 3.9h0m8.6-0.1h0m15.2-0.8h0m20.9 1.9h0m9.2-1.8h0m8.3-0.8h0m-20.5 4.2h0m-40.1 1.9h0m6.4 2.5h0m2.4-2.7h0m-14.5 5.4h0m18.6-1.7h0m3.7 2h0m0.4-1.2h0m2.4-0.6h0m0.4 1.8h0m7.7-1.5h0m3.1 1.2h0m-38.3 0.6h0m10.9 0.8h0m13 1.8h0m4.6-0.6h0m11.5-0.2h0m3-0.6h0m21-0.2h0m-47.8 4.4h0m1.6-2.5h0m6.8 2.3h0m0.9-0.9h0m12.5-0.1h0m-22.6 3.6h0m0.9 0.5h0m7.1-0.4h0m3.1-1.1h0m4.6 1h0m-10.3 3.8h0m7.3-0.5h0m-9.6 1.2h0m0.3 0.1h0m10.5 2.4h0m2.8-1.6h0m-9.9 2h0m2.8 1.6h0m4.7 3.2h0m2.7-1.1h0m6.3 0h0m13.1 0.4h0m-19.1 3.2h0m0-1.4h0m1.2 0h0m1.6 2.8h0m1.7-0.1h0m4.9-1.7h0m-10.7 5h0" stroke="#7030a0" stroke-width="1.5" stroke-linecap="round" stroke-opacity="0.95" fill="none"/>
<path d="M144.6 529.8h0m-4.3 3.7h0m4.6-2.2h0m-4.9 3.9h0m2.5 1.6h0m0.4 1.8h0m-10.1 4.1h0m1.9-0.5h0m2.7-1.9h0m-13.5 8.6h0m6.2-1.9h0m3.9 1.2h0m-9.9 3.6h0m0.7-2.1h0m2.2 1.6h0m3.6 2.2h0m2.1 3.9h0m1.4-0.9h0m0.3 0.8h0m2.9-1.6h0m-24.1 4.4h0m12.4 0.8h0m2.4-0.3h0m4.3-1.4h0m-22 3.1h0m0.2 1.6h0m0.2-1.4h0m0.5 0.4h0m0.6-1.8h0m0.1 1h0m2.6-1h0m0.1 2.8h0m-8.5 2.1h0m10.4-0.6h0m1.8-0.7h0m2.7 1.8h0m0-0.7h0m11.1 0.3h0m1.6-0.5h0m-95.8 4.2h0m69.2-2.1h0m3 1.8h0m15.2-0.5h0m5.2 0.3h0m-99.1 2.3h0m3.1 0.1h0m8 0.4h0m67.9-0.5h0m0.1 1.1h0m19.9-1.5h0m-76.6 2.4h0m6.9 0.5h0m54.8-0.7h0m4.6 0.1h0m0.5 0.5h0m-75.2 2.8h0m4.1-0.7h0m2 2.1h0m21.7 0.7h0m21.4-1.5h0m21.8 1.2h0m4-2.2h0m2.8 1.3h0m-62.9 4.1h0m49.6 0.7h0m3.9 1.5h0m2.3-1.2h0m-25.7 2.3h0m29.6 2.3h0m-52 1.8h0m2.3-0.3h0m18.6-0.9h0m6.4 1.7h0m21.8 3.4h0m-63.2 2.3h0m9.5 1.3h0m4.6-2.5h0m2.5 1.8h0m17.3 0.5h0m4.1 0.5h0m15.3-2.6h0m-52 5.2h0m1.2-1.8h0m0.9 1.8h0m4.3 0h0m16.4-2.4h0m21.2 1.9h0m11.8 0.4h0m-59.5 3.3h0m4.5-0.2h0m3.4-0.3h0m2.9-1.1h0m7.9 1.4h0m2.1 0.2h0m6.7-2.6h0m6.8 2h0m3.3-2.1h0m5 2h0m19.6 0h0m-61.4 3.1h0m4.4 0h0m0.5-0.9h0m2.9 1.2h0m3.6-2.4h0m6.7 0.4h0m26 2.4h0m3.8-0.9h0m-33.2 2.3h0m3.8 1.4h0m0.2-1.3h0m6.1 0h0m5.6 1h0m13.4-0.6h0m-28.3 3.7h0m2.2-1.9h0m2.1 1h0m1.8-1.1h0m1.6-0.4h0m4.1 1.2h0m-11.1 2.5h0m2.1 1.4h0m5.1-1.5h0m6.1 1.8h0m4.8-2.2h0m22.6 0.6h0m-36.7 4.1h0m4.4-0.2h0m8.5 1h0m2.4-1.3h0m-10.7 2.2h0m9.7 2.9h0m0.4 1.1h0m4.1 3.3h0m0.8-1.4h0m11.3 0.5h0m-7.8 4.8h0m2 2.4h0m0 2.3h0" stroke="#5040a8" stroke-width="1.5" stroke-linecap="round" stroke-opacity="0.95" fill="none"/>
<path d="M142.6 531.6h0m2.3 1.6h0m-5.4 2.2h0m2.9 1h0m2.8-2h0m-13.1 5.5h0m-3.1 2.8h0m6.4-2.6h0m-8 3.2h0m0.6 0h0m2.9 1.3h0m1.3-0.5h0m3.3 0.1h0m1.1 1.8h0m-11.8 0.5h0m6.5 1.9h0m5.7 0.5h0m-5.3 0.6h0m3.3 1.7h0m1.2-1.2h0m-12 4.9h0m7.5-0.5h0m-1.4 2.9h0m3.4 2.1h0m2.3 1.4h0m0.9-1.4h0m-19.7 2.9h0m0.2 0.5h0m6.3-0.5h0m3.2 0.9h0m6.6-1.9h0m-7.5 4.5h0m6.4-0.6h0m-96.4 4.2h0m44.2 0.6h0m50.6-0.9h0m2.3-1.1h0m-99.7 4.7h0m7-0.9h0m54.4 0.2h0m4.6-0.1h0m15.1-1h0m-77.8 3.9h0m8.9 1.1h0m21.7-0.1h0m42.8-2.4h0m5.7 0.8h0m7.2-0.5h0m-64 4.3h0m6.3 0.1h0m1.1 0.2h0m3.5-1.8h0m2.2 1.4h0m46.6-0.7h0m8.7 1.4h0m-68.4 0.7h0m3.9 1.9h0m2.8-0.2h0m10.1-1.2h0m17.9-0.1h0m17.1 2h0m0.9-0.4h0m13.6-2.2h0m-8.7 5.6h0m-25 0.6h0m30.6-0.1h0m-68.8 3h0m3.1 0.2h0m23 1.3h0m29.5-0.4h0m9-0.8h0m-54.5 4.3h0m1.2-0.6h0m0.1 0.7h0m3.9-1.6h0m34.9 1.8h0m-45.9 3.6h0m7.9-0.8h0m0.8-0.8h0m4.2 1.8h0m-10.7 0.5h0m2.7 2.1h0m4.3-1.8h0m5.2 1.6h0m3.2-0.7h0m35.2-0.4h0m-56.4 3.2h0m4.3-0.4h0m9.1 0.9h0m10.7-0.7h0m8.4-0.3h0m21.4 0h0m9-0.5h0m-64.1 4h0m15.4 0.8h0m5.2-0.2h0m0.2 0.5h0m3.4-1.7h0m0.8 0.1h0m2.1 1.5h0m0-0.3h0m20.4-0.4h0m-35.9 3.5h0m4.2 0.8h0m4.4 2.3h0m1.9-0.1h0m32.3-0.2h0m-33.3 3h0m6.5 0h0m10 0.2h0m17.3-2.1h0m0.2 2.4h0m-34.3 1.9h0m4.3 3.4h0m7.5-1.4h0m3.3 0.9h0m0.4 1.4h0m2.6-2.1h0m4.2 2.3h0m10.5-1.1h0m-24.9 4.1h0m1.6 2.7h0m1.1-2.5h0m0.2 0.8h0m15.5 0.7h0m-6.5 3.5h0m2.6-1.6h0m0 2.5h0m8.6-0.5h0m-17.5 2h0m0.4 1.2h0m2.9-2.5h0m1.1 1.1h0m4.1-1h0m-5.8 4.2h0m1.4-0.9h0m1.2 0.8h0m0.7 0.8h0" stroke="#d01a70" stroke-width="1.5" stroke-linecap="round" stroke-opacity="0.95" fill="none"/>
<path d="M141.6 532h0m-4.4 2.8h0m0.1 0.9h0m5.6 3.9h0m-9.2 2.8h0m3.8-2.1h0m2.9 0h0m-15.3 5.3h0m6.1 0.1h0m5.7-2.3h0m0.3 0.2h0m0.2-0.4h0m-10.7 5.5h0m1.8-2.3h0m0.3 0.3h0m7.3 0.4h0m-8.2 4h0m3.9-0.9h0m0.2-0.4h0m4.2 0.2h0m-16.6 3.8h0m4.8 0.8h0m-1.9 1.1h0m0.5 2.3h0m3.2-1.3h0m8.1-1.1h0m2.7 0.6h0m-19.8 4.2h0m3.5-0.5h0m7.4-1.3h0m2.6 2h0m-19.4 3.1h0m0.6-0.5h0m0.9-1.2h0m15.4 0.3h0m-19.2 3.8h0m17.2-0.9h0m2.2 1.2h0m4.7-0.8h0m-104.9 3.7h0m5.8 0.4h0m74-0.3h0m3.1-1.7h0m7.7-0.2h0m5.4 0.9h0m2.7 0.4h0m4-1.7h0m-82.3 5.8h0m2.1-0.6h0m38-1.3h0m5.7 1.3h0m9.1-1.1h0m17.4 0.9h0m7.7-1.8h0m-83.8 4.9h0m11.1-1h0m5.2 1.2h0m58-0.2h0m5.1-1.8h0m-75.4 3.7h0m15.2 1.6h0m7.1-2.6h0m16.6 1.7h0m34.8-0.2h0m-66.4 4.4h0m10.7-2.5h0m3.2-0.5h0m7.7 2.4h0m40-2.3h0m-50 4.5h0m2.9-0.6h0m10.5 0.6h0m1.3-0.8h0m44.8 1.8h0m-48.2 3h0m15.9-2h0m-5.4 4h0m18.8 0.2h0m-48.7 2.5h0m25.3-0.6h0m17.4-0.5h0m3.5 1.4h0m-47 3.8h0m4.2-0.5h0m4.1 0.9h0m4.4-0.9h0m12.7 0h0m-17.8 1.9h0m2.5-0.5h0m1.5 2.1h0m20.9-0.1h0m-36.9 1.6h0m0.4 1h0m10.7-1.5h0m5.5 2.3h0m1.1-2.4h0m28.2 2.2h0m2.3-2.3h0m2.1 1.1h0m-49.6 4.5h0m25.4-0.5h0m0.4-0.3h0m13.6-1.7h0m-32 3.7h0m4.9 1.8h0m4.2-1.6h0m1.1-0.9h0m1.2 2.6h0m3.2-1h0m-13.2 1.6h0m1.8 0.8h0m2-1.3h0m1 0.4h0m4 1.3h0m2.5-0.1h0m6.1-0.2h0m-8.9 3.8h0m8.6-1.9h0m8.4 0.3h0m2.8 1.3h0m2.4 0.2h0m-16.5 2h0m6.3 1.3h0m21.4-0.3h0m3.4-0.5h0m-22.2 3.6h0m-1.3 2.9h0m-4 1.5h0m2.9-0.2h0m6.6-0.1h0m1.7 3.3h0m1.2 0.8h0m6.4 1.4h0m-14.8 1.4h0m3.1 0h0m7.3 1.4h0m-3.2 0.4h0m2.2 0.5h0" stroke="#6a38a4" stroke-width="1.5" stroke-linecap="round" stroke-opacity="0.95" fill="none"/>
<path d="M142.2 530.9h0m0.4 0.9h0m-8.5 4.6h0m6.1 0.4h0m0.8-1.6h0m0.4 0.7h0m-10.5 7.1h0m6.8-1.7h0m0.5 1h0m-8.9 0.9h0m4.7 0.8h0m4.7 1.9h0m-8.2 2.4h0m-0.7 3.4h0m0.4-1.4h0m1.9 1.4h0m0.8-1.7h0m3.9 0.9h0m0.5-1.3h0m0.8 1.7h0m-13.7 2.4h0m2.4 0h0m1.7 0.8h0m-13.2 3h0m2-0.8h0m0.4-0.3h0m0.8-1.3h0m11.8 1.5h0m-11.7 2.8h0m0.6 1.2h0m3.3-1.4h0m3 1.4h0m8.7 0h0m1.8-1.6h0m-22.5 3.9h0m2.8-0.8h0m1.1 0h0m7.2-0.5h0m0.1 0.3h0m9.5 1.4h0m-23.8 0.7h0m2.1 1.8h0m4.9-0.9h0m5.4 0.1h0m2 1.4h0m-87.7 3.2h0m75.4-1h0m8.8 0.3h0m3.9 0.1h0m5.3-1.3h0m0.3 0.1h0m-88.9 2.9h0m54.9 1.1h0m1.6 0.9h0m21.2-1.8h0m3 1.4h0m-81.9 3.2h0m10.4 0.3h0m7.5-0.4h0m2.9-1.4h0m2.9-0.3h0m26.1 0.9h0m3.1-1.4h0m18.1 1.1h0m1.7-0.7h0m5.5 1h0m-69 3.3h0m16.9 0.3h0m0-2.1h0m1.6 1.4h0m1.1-0.6h0m42.5 1.6h0m5.1-1.2h0m4.3-0.8h0m3.9 1.7h0m-76.6 1.4h0m13.3 2.2h0m13.8-2.1h0m43.4 0h0m-28.4 3.1h0m18.3 1.7h0m1.6-1.5h0m-58.8 2h0m33.3 2.6h0m15.3-0.6h0m23.9-0.5h0m-70.6 3.9h0m2 1.3h0m2.4 0.8h0m5.1 1h0m14.9 0.2h0m-25.1 2.7h0m7-2.1h0m11.5 1.9h0m-10.9 1.1h0m26.9 0.3h0m-31.6 4.4h0m10.1 0.6h0m1.1-1.5h0m0.3 1.7h0m7.1-2.1h0m3.9 1.8h0m26.4-2.5h0m4 1.6h0m2.1 0.8h0m7-2.3h0m-52.1 3.2h0m12.1 2.4h0m15.1-2.2h0m-31.2 4.1h0m0.8-0.1h0m27.2-0.9h0m-22.9 2.8h0m3.7 0.1h0m3.2 1.7h0m0-1.3h0m6.5 1.9h0m21.5-1.2h0m-31.5 3.4h0m13.3 1.5h0m2.2 1.5h0m16.5-1.4h0m-23.8 4.9h0m1.4-0.3h0m-0.5 2.9h0m1.5-1.9h0m5.4 0.7h0m4.2 0.5h0m-2.6 2.3h0m0.9 0.9h0m4.2-1.5h0m-10.6 3.5h0m1.2 1.1h0m8.1 2.7h0m1.8 0.5h0m-1.2 3h0m6.2-0.2h0m0.3 1.4h0" stroke="#b02488" stroke-width="1.5" stroke-linecap="round" stroke-opacity="0.95" fill="none"/>
<text x="89.8" y="548.8" font-size="6.1" text-anchor="middle" fill="#333" textLength="12.5" lengthAdjust="spacingAndGlyphs" transform="rotate(-90 89.8 546.6)">DC4</text>
<text x="82.2" y="563.3" font-size="6.1" text-anchor="middle" fill="#333" textLength="12.8" lengthAdjust="spacingAndGlyphs" transform="rotate(-33 82.2 561.1)">DC1</text>
<text x="103.1" y="559.6" font-size="6.1" text-anchor="middle" fill="#333" textLength="12.8" lengthAdjust="spacingAndGlyphs" transform="rotate(33 103.1 557.4)">DC2</text>
<text x="49.2" y="501.9" font-size="6.6" text-anchor="middle" fill="#333" textLength="23.1" lengthAdjust="spacingAndGlyphs" font-style="italic">BCL2L1</text>
<text x="49" y="510.4" font-size="6.6" text-anchor="middle" fill="#333" textLength="38" lengthAdjust="spacingAndGlyphs">log2 (counts)</text>
<rect x="43.1" y="513.4" width="5.4" height="30.8" fill="url(#gp)"/>
<text x="53.8" y="521.7" font-size="6.0" text-anchor="middle" fill="#333">4</text>
<text x="53.8" y="527.1" font-size="6.0" text-anchor="middle" fill="#333">3</text>
<text x="53.8" y="532.5" font-size="6.0" text-anchor="middle" fill="#333">2</text>
<text x="53.8" y="538.2" font-size="6.0" text-anchor="middle" fill="#333">1</text>
<text x="53.8" y="544.8" font-size="6.0" text-anchor="middle" fill="#333">0</text>
<path d="M268.6 497.7V556.5L202.9 598M268.6 556.5L332.7 598" fill="none" stroke="#222" stroke-width="1.1"/>
<path d="M201.1 566.7L214.9 567.5L232.2 571.3L242.6 571.3L254.6 567.9L266.6 567.9L275.6 565L285.1 558.6L294.3 549.9L303.5 539.2L314.5 528.6L318.1 526.7L321.8 525L318.1 535.6L312.6 549.9L310.6 561.8L303.6 573.2L301.6 587.7L299.1 593.7L289.6 603.8L279.9 619L278 627.3L274.1 633.5L264.6 631.3L256.6 627.3L251.1 617.4L241.4 608.9L226.1 602.2L225.3 596.1L223.6 584.2L220.1 579.6L208 571.3Z" fill="#e4e4e4" fill-opacity="0.9" filter="url(#bl15)"/>
<path d="M319.8 524.2h0m-3.5 2.5h0m5.2 0.6h0m-6.3 3.1h0m0.5-1.3h0m0.9 0.2h0m1.1-0.2h0m-10.2 4.8h0m3-0.9h0m0.6-0.9h0m0.6 0.5h0m0.9-1h0m1.7 0.6h0m0.1-0.1h0m1.1-0.2h0m0.1 0.2h0m1.7-0.1h0m0.5 0.1h0m-7.9 4.4h0m0.7-1.6h0m1.3 1.9h0m2.6-1.4h0m2.5-0.5h0m-11.5 4.7h0m0.4-2.5h0m0.6 1.4h0m3.3 0.4h0m0.3 0.7h0m5.4-1.7h0m-13.1 3.9h0m4.3-0.3h0m2.9-1.5h0m0 2.3h0m1.9-0.4h0m2.2-0.3h0m0.7 0h0m-13.7 2.9h0m0.5-0.4h0m0.4-0.5h0m3.2 0.3h0m4.1-0.7h0m0.4 2h0m1.8-0.6h0m0.1 0.1h0m0.1-1h0m0.3-0.4h0m0.1 0.3h0m0.1 2h0m0-0.4h0m1.1-1.5h0m0.4 1.3h0m0.4 0.5h0m0.5-0.6h0m-20.7 3.2h0m5 0.2h0m2-1.9h0m0.7 0.7h0m1.6-0.6h0m2-0.1h0m0.1 1.2h0m3.4 0.7h0m0.8-1.7h0m2.2 0.7h0m-19.3 3.2h0m1.6 0.4h0m2.2 0.9h0m1-2.7h0m0.1 2.8h0m2.9-0.8h0m2.2-0.7h0m2.4-0.6h0m0.8-0.5h0m2.5 0.7h0m0 0.6h0m0.4 0.7h0m0.7-1.7h0m1.6 2.3h0m0.3-0.6h0m2-1.6h0m-21.8 4h0m1.6-0.3h0m2.3 0.7h0m4.2 0.8h0m0.9-2.2h0m0.1 1.8h0m1 0.2h0m1.7-1h0m0.1-0.7h0m0-0.1h0m1.2 1h0m0.9 0h0m0.8 0.7h0m1-1.8h0m4-0.7h0m0.5 1.3h0m0.8 0.9h0m-26.1 3.1h0m3.7 0.1h0m1 0.4h0m1.5-0.7h0m0.1-0.6h0m0.3-0.8h0m0.7 1.4h0m1-0.5h0m2.7-1.7h0m2.5 2.8h0m0.7-0.2h0m3.9-0.4h0m3.9-0.7h0m3.2 0.7h0m-27.5 3.2h0m3.1-2.3h0m0.7 0.6h0m7.1 1h0m0.5-1.4h0m0.4 1.7h0m0.1-2h0m3.6 0.3h0m0.6 1.5h0m0.1-1.1h0m0.9 2.2h0m1-2h0m0 1.2h0m0.2-0.1h0m0.3-0.3h0m0.9-1.5h0m0.8 1h0m5.1-0.7h0m0.5 2h0m0.4-1.7h0m-35.7 5h0m6.4-1.6h0m0.1 0.9h0m4.5-0.9h0m1 0.2h0m0.6 1.2h0m0.3-1.3h0m1.1 0.8h0m0-1.3h0m0.1 2.1h0m0.6-1.5h0m0.1-1.2h0m0.6-0.2h0m2.4 2.8h0m1.1-1.5h0m1.4-1.1h0m2 1.8h0m2.3 0.7h0m0.8-1.2h0m2.8 1.2h0m0.6-2.5h0m1.9 0.2h0m0.4 0.3h0m0.4-0.3h0m0.6 0.1h0m0.6 2.4h0m1.1-0.7h0m1.6-0.3h0m0.4-1.5h0m-34.8 4.9h0m2.2-0.4h0m1.2-1.6h0m0.1 0.1h0m3.1 1.7h0m1.1-1.9h0m3.2 2.1h0m0-1.6h0m1 2.1h0m0.3-2.3h0m1.3 1h0m0 1.1h0m1.8-0.4h0m1.6-1.5h0m3.6 2.3h0m0.3-0.3h0m0.6-1.8h0m0.5-0.2h0m1.9 0.2h0m0.5 1.8h0m0.5 0.2h0m0.3-0.5h0m0 0.3h0m4.3-0.9h0m1.7-0.6h0m-99.9 2.2h0m0.2 2.1h0m1.2-1.6h0m5-0.2h0m2.7 1.9h0m0.3-1.1h0m2.3 0.2h0m0.5 0.9h0m3-1.5h0m0.1 0h0m1.8 1.3h0m2.7 0.5h0m23.1-0.8h0m0.6-0.3h0m3.1-0.9h0m0.2-0.3h0m5.6 2.3h0m0.4-2.5h0m1.2 1.7h0m1 0.9h0m7-0.8h0m1.4-1.1h0m2.7-0.9h0m1.8 1.8h0m1-0.5h0m5.5-1h0m3.9 1.6h0m0.6-1.8h0m2.3 2.5h0m2.4 0.2h0m7.6-2.3h0m6.4 0.2h0m0.4 2h0m0.8-2.1h0m-98.2 4.3h0m4.6-0.2h0m0.1-0.1h0m0.6 0.2h0m1.5 0.8h0m2.8-2.4h0m0 0.5h0m1.6 1.1h0m4.2 0.5h0m2.7-0.6h0m0.4 1h0m0.1-1.6h0m1.7-1.1h0m0.8 2.1h0m0.1-2h0m0.7 1h0m11 1.4h0m1.7 0h0m0.5-0.9h0m5.9-0.1h0m1.9 0.6h0m4.9-0.3h0m2.1-0.5h0m1.7 0.8h0m9.1-1.8h0m1.2 0h0m2.7 0.4h0m0.7 1.8h0m0-2.4h0m1 1.8h0m4.6-0.7h0m0.3 0.2h0m2-0.9h0m1.4 0.5h0m1.7 1h0m0.6-1h0m1.3 1.5h0m1.2-0.3h0m0.6-1.1h0m5-0.5h0m0.9 1.4h0m1.2-0.2h0m1-0.4h0m0.7-1.1h0m0.4 0.8h0m7.6-0.9h0m0.9 2.5h0m-91.5 0.9h0m1.6 0.4h0m0.5 1h0m0.9 0.1h0m2.8-0.9h0m0.2 0.6h0m1.1-0.1h0m0.3-1.4h0m3.1 1.1h0m4.2 1h0m0.4-1h0m2.3-1.4h0m0.3 0.9h0m5.3-0.1h0m1.3-0.8h0m1.9 2.3h0m1.1-1.6h0m0.4-0.6h0m1.2 2.2h0m0.6-2.2h0m1.6 0.1h0m0.1 0.3h0m3.3-0.1h0m0.7 0.5h0m0.3 1.8h0m1.4-0.5h0m0.6-1.4h0m0 0.9h0m0.3-0.3h0m0 0.4h0m0.3 1h0m0.1-1.1h0m1.2 0.9h0m0.6-2.2h0m0.9-0.4h0m1.4 0.1h0m3.3 0.9h0m2.1 1.4h0m0.8-2.1h0m0.1 0.4h0m0.6 0.1h0m0.8-0.8h0m1.3 1.5h0m0.2-1.1h0m0.3 0.6h0m3.8-0.6h0m1.4 1.4h0m0.6 0.2h0m5.1-0.9h0m0.1 0.6h0m1.8-1.3h0m0.5 1h0m0.6 0.8h0m3.7-2h0m3 2.4h0m3.4-1.5h0m0.9-0.7h0m1.4 1.6h0m0.4 0.1h0m5-0.1h0m2.2-0.8h0m0.1-0.8h0m1.1 1.6h0m1.9-2.1h0m0.3 1.2h0m-86.9 3.2h0m1.3 1.2h0m5.3-1.5h0m0.4 0.1h0m2.7-1.1h0m0.4 2h0m0.6-2.1h0m0.5 0.3h0m6 0.9h0m3.6 1h0m0.3-0.7h0m3.5-0.1h0m1.4-1h0m0.8 0.8h0m0.4-0.3h0m1.7 0.5h0m0.1 0h0m2.6 0.5h0m1.1-1.6h0m0.3 1.8h0m1.8-0.7h0m1.5-0.3h0m5.8 1.7h0m1.2-0.2h0m0-1.4h0m5.9 0h0m3.6-1h0m1.2 2.2h0m1-2h0m0.6 0.6h0m2.1-0.7h0m3 1h0m0.4 0.6h0m0.2 1h0m3.7-2.4h0m2.3 0.5h0m1-0.9h0m2.2 1.6h0m0.4-0.8h0m2.2-0.8h0m1.8 2.2h0m0.3-1.8h0m0.3 1.6h0m0.4-1.3h0m1.3-0.8h0m0.1 1.3h0m2.5 0h0m3.9 0.2h0m1.1 0h0m0.4 1.3h0m1.8-2.6h0m-77.9 4.3h0m0.1 0.8h0m0.5-2.1h0m0.5 0.9h0m0.5 0.7h0m1.7-0.5h0m0.2 0.8h0m0.3 0.3h0m3.2 0h0m1-2.1h0m0.3 1.3h0m0.2-1.3h0m3.6 1.5h0m3.2 0.2h0m0.7-0.7h0m1.4 0.9h0m0.3-0.2h0m0.6 0.5h0m1.6 0.3h0m1.2-0.3h0m1.4-0.3h0m0.9-1.1h0m3.8 1.4h0m7.9-0.2h0m1.1-0.2h0m0.7 0.4h0m0.6-0.6h0m1.6 0.8h0m1.2-1.8h0m2.1 1.7h0m1.2-0.3h0m1.3-0.3h0m0.2-0.9h0m1.7 0.4h0m6.3-0.7h0m3.8 1.2h0m2.6-1.7h0m1.5 1.3h0m0.9 1.3h0m6.7-1.4h0m1.1 0.5h0m0.6-1.9h0m1.2 0.1h0m0.3 0h0m0.8 1.4h0m2.2-0.2h0m0.8-0.1h0m0.8 0.5h0m0.7 0.1h0m-72 3.3h0m0.3-1.8h0m2.2 1.5h0m1.8-1.5h0m1.9-0.2h0m4.5 0h0m1.3 1h0m11.4 0.6h0m1.7 0.8h0m0.3-1.8h0m2.7 0.8h0m1.4-1.2h0m0.2 1.3h0m1.7 1h0m6.8-1.6h0m1.4 0.6h0m0.5 1h0m2.1-1.8h0m5.8 1.3h0m2.2 0.2h0m0.9-0.7h0m0.8 0.2h0m0.4 0.8h0m5.9-0.9h0m0.3-1.3h0m2.5 0.4h0m1 0.9h0m0.9 0.5h0m2.1-2h0m2.6 1h0m0.1-0.9h0m5.5 0.1h0m-77.6 3.4h0m0.7 1.8h0m3.5-0.7h0m3.3 0h0m3-1.2h0m0.6 0.7h0m4.7 1h0m1.6-2h0m3.3 2.2h0m0.2-1.2h0m2.2 0.8h0m4.2-0.4h0m6.2 0.2h0m0.7 0.3h0m7.5-2.4h0m5 2.6h0m0-2.4h0m0.3 1.5h0m2.8-0.8h0m1.8 0h0m0.6 1.2h0m3-1.6h0m0.9 2.1h0m0.2-0.6h0m2.1-0.1h0m6.7 0.8h0m0.7-1.8h0m1.8 0.7h0m0.7-1.6h0m2 2h0m1.3-2.1h0m2 2.3h0m3.3-1.5h0m-75.9 3.7h0m1.8-1.5h0m1.6 0.3h0m3.2 0.8h0m0.8-0.5h0m1.1 1.1h0m0.6 1.2h0m0.9-1.5h0m1.4 0.7h0m0.6-1.2h0m0.7 1.8h0m0.9-0.2h0m2-2.1h0m1.1-0.3h0m0.2 2.3h0m3.2 0.3h0m0.9-1.3h0m0.5-1.3h0m0.3 1.7h0m0.2-1h0m1.7 1.5h0m0.9 0.4h0m1.3 0.2h0m1.6-0.8h0m0.1-1.2h0m0-0.8h0m0.6 0.6h0m0.1 2.3h0m1.2-2.7h0m0.2 0.4h0m1.2-0.2h0m2.2 2h0m3.6 0.5h0m0.1-0.2h0m3-2.3h0m0-0.3h0m3.8 2.2h0m0.4-0.3h0m3.4-1.7h0m0.1 0.7h0m0.8-0.8h0m1.3 2h0m1.6-2.1h0m1 0h0m0.3 1.5h0m0.9 0.9h0m0.6 0.1h0m0.2-1.8h0m0.7 0.6h0m5.4 0.5h0m0-0.7h0m0.2 0.8h0m0.1-0.4h0m0.5-0.6h0m0.4 1.8h0m4.6-1.3h0m2-0.2h0m2.8-0.4h0m0.1 1.1h0m0.4 0.2h0m-70.9 3.7h0m0.2-2.8h0m0.2 2.6h0m5.4-0.3h0m2.9-0.3h0m1.8-0.5h0m4.6 1.2h0m0.5-0.2h0m0-1.9h0m2.6-0.1h0m2 0h0m0.1-0.7h0m3.8 2.5h0m1.1-2.2h0m1 0.7h0m0.1 1.2h0m1.7-0.5h0m2.3-1.4h0m0.1 2h0m0.6-2.3h0m3.6 2.4h0m0.7-0.3h0m0.7-0.9h0m0.3-0.3h0m0 0.9h0m0.1-0.1h0m0.3 0.2h0m1.8-1.5h0m2.1-0.2h0m2.6 0.5h0m1.7 0.2h0m0.2-0.4h0m2 1.4h0m1.1-0.1h0m1.3-1.2h0m2.9 1.5h0m2.9-0.2h0m2 0.5h0m0.5-1h0m1.6-0.4h0m0.7 0h0m0.8 1.4h0m0.5 0.5h0m1.3-2.7h0m0.9 1h0m4.6 1.1h0m0-1.5h0m1.1 1.8h0m2.1-2.2h0m0.3 1.7h0m0.6-1.1h0m0.6 0.9h0m2-0.9h0m-74 4h0m3.2 0.5h0m0.8-1h0m2.4 1h0m2.1-1.4h0m2.1 0.9h0m2.9-2h0m0.2 1.7h0m2.3 1.2h0m0.5-0.8h0m0.7-0.7h0m3 0.2h0m0.2 1.3h0m4.7-0.6h0m1.7 0.4h0m4.3-2.2h0m0.2 1.2h0m7.4 0.7h0m2.6-0.5h0m0.1 0.3h0m1.3-2h0m6 1.5h0m0.1-1.3h0m3.8 0.6h0m3 1.1h0m3.3-1.5h0m0.4-0.4h0m0.6 0.4h0m0.6 1.9h0m0.5-2h0m1 0.7h0m0.1 0.1h0m3.8 1.5h0m-66.3 1.9h0m0.3-0.3h0m0.4 0.9h0m3-0.5h0m1 0.7h0m4.4-0.5h0m8-1.1h0m0.3 1.6h0m0.8-0.4h0m2-1.7h0m0.6 2.5h0m1.4-0.5h0m1.1-1.3h0m5.8 1.4h0m0.6 0.2h0m1.1-2.4h0m2.2 2.1h0m0.7-1.3h0m0.6-0.6h0m4.2-0.1h0m2.7-0.2h0m3.2 0.1h0m0.2 2.3h0m0.4-0.8h0m3.5-0.5h0m2.2-1.2h0m0.4 1.3h0m0.2 0.8h0m2.3-1.9h0m0.5 2.4h0m1.4-0.1h0m0.2-1.6h0m0.8 0.5h0m0.5 0.2h0m3.1-0.1h0m1.6-0.3h0m0.7 0.2h0m0-0.9h0m2.3-0.5h0m2.5 1.9h0m0 0.3h0m-67 3h0m4.3 0.4h0m2.4-2h0m0.2 1.4h0m1.2-1.4h0m4.1 0.2h0m1.2 0.1h0m2.1-0.6h0m0.7 2.5h0m2.3-1h0m0.8-0.8h0m1.1-0.9h0m1.4 0.4h0m3.6 0.4h0m1.3-0.9h0m1.1 0.3h0m4.4 2.2h0m2.1-2h0m1.7 0h0m2 0.9h0m1.4 0.1h0m0.3 0.8h0m2.8-1h0m1.1-0.2h0m4.4 0.9h0m4.1 0.8h0m0.2-0.4h0m1.9-1.8h0m3.9 0h0m-50.6 5.3h0m1.4-2.9h0m1.3 0h0m2.1-0.1h0m1.5 1.7h0m0.1-0.9h0m2.7-0.5h0m3.6 2.3h0m4.5-2.1h0m1.8 2h0m3.1-1h0m2.8-1.2h0m0.3 1h0m1.8 1.5h0m1-2.2h0m0.3 0h0m0.1-0.6h0m1.2 1.7h0m2.7 0.3h0m0.5-0.6h0m6.6 0.8h0m0-1.4h0m1.7-0.5h0m1.4 2.1h0m1.1 0.3h0m4.2-1.3h0m2.3 1.1h0m0.3-1.7h0m1.4 0.5h0m1.5 0.9h0m-50 1.3h0m0.1 0.9h0m0.1-1.4h0m1.4 0.9h0m3.3-0.1h0m0 0.2h0m1.4-0.8h0m4.1 0.5h0m4 2.1h0m1.9-0.4h0m0.4-2h0m6.2-0.3h0m0.1 2.3h0m0.7-2h0m1.1 0.7h0m1.1-0.2h0m1 1h0m0.8-0.9h0m0.5 0.2h0m0.7-0.8h0m0.3 1.3h0m0.8-1.1h0m0.8-0.1h0m1-0.1h0m4.5 1.4h0m1.3-0.7h0m0.8 0.9h0m1.9-0.5h0m2 1.2h0m0.8-1.3h0m0.8 0h0m1 0.7h0m3 0.7h0m0.1-2.2h0m0.2 0.2h0m0.9-0.4h0m-39.6 3.3h0m3.5 0.3h0m3.1 0h0m1.1 1.3h0m2 0.7h0m0.4-0.5h0m0.7-2.1h0m1.8 1.4h0m0.5-1.3h0m0.7 1.8h0m0.5 0.1h0m4.3-0.9h0m1.1 0.6h0m1.8-2h0m0.9 0.7h0m1.4-0.3h0m0.6 0.8h0m1.7-0.7h0m0.1 1.9h0m0.9-0.9h0m0 1.2h0m0.5-1.2h0m1.6 1h0m0.2-1.7h0m3.7 1.1h0m3.4-0.4h0m1.6-0.5h0m-39.6 2.8h0m1.1 1.6h0m2.5-0.8h0m2.7-0.3h0m6.5 0.2h0m1.7-1.3h0m0.3 2.6h0m1.3-0.9h0m1.2 0.4h0m4.1-2.2h0m1.5 0.8h0m1 1.1h0m0.1-0.4h0m2.6 0.9h0m3.3 0.4h0m1.8-1.3h0m1 0.2h0m3 0.6h0m-33.8 1.8h0m4.2-0.2h0m1.7-0.5h0m0.5 1.2h0m6.6-0.5h0m0.3 0.2h0m2.4-0.9h0m3.2 0h0m2 0.9h0m0.8-1.4h0m2 0.6h0m0.6 1.9h0m1.6-0.3h0m0.1-1h0m1.1 0.1h0m1.4-1.3h0m1.6 0h0m2.6 1.8h0m1-1.4h0m0.5 1.1h0m-31.3 1.8h0m2.7 0.6h0m1.2-0.4h0m4.6 1.7h0m1.1-0.6h0m0.2-0.4h0m0-0.6h0m0.4-0.5h0m0.1 0.6h0m4.6 0.9h0m0.3-1.2h0m1.9 1.8h0m2-0.4h0m2.9-1.5h0m0.3 0.4h0m0.5 0.6h0m3.6 0.8h0m-21.9 1.9h0m2.7 1.8h0m1.8-0.7h0m3.1 0.7h0m1.7-2.8h0m1 1.1h0m1.8 1.7h0m3.6-2.6h0m1 0.3h0m0.5 2h0m3.6-0.9h0m1.2-1.4h0m-20.9 4.8h0m3.1-1.1h0m1.5 0.5h0m2.5-0.6h0m2.3 1h0m3.6-0.2h0m4.5 1.3h0m3.3 0h0m0.3-1.2h0m1.9 0.4h0m-21.6 1.7h0m0.5-0.3h0m0.2-0.1h0m3.1 0.6h0m1.4-1.1h0m3 0.6h0m0 0.1h0m2.8-0.5h0m0.9 0h0m0.4 0.7h0m1.8 1.8h0m1.7 0.1h0m0.2-2h0m-8 2.4h0m0.1 2.1h0m7.7-1.9h0m2.2 0.7h0m0.1 0.9h0m0.4 1.8h0" stroke="#d2d2d2" stroke-width="1.1" stroke-linecap="round" stroke-opacity="0.8" fill="none"/>
<path d="M311.6 533.1h0m1.2-1.9h0m-5.7 3.8h0m7.2 1.9h0m2-0.5h0m-11.1 2.5h0m0.2 0.6h0m1.4-1.9h0m6.3 4.5h0m-13.1 3.5h0m1.6-2.3h0m1 2.2h0m1.1-0.4h0m0.6-0.1h0m1.9 3.6h0m0.2-0.7h0m2.7-0.6h0m-11.1 1.8h0m6.2 2.4h0m1.2 0.2h0m1.6-1.7h0m1.6 1.1h0m-7.9 3.8h0m1.3-2h0m-9.8 3.3h0m1.3-0.4h0m1.2 2.1h0m4.1-1.1h0m1-1.8h0m4.5 2.8h0m7-1.1h0m-25.9 4.2h0m0.7-1.7h0m0-0.1h0m0.9-1h0m5.7 1.2h0m0.1-0.1h0m3.7-0.3h0m9.2-0.8h0m0.4 1.3h0m0.1 0.7h0m3.3-2h0m-29.5 4.3h0m9.2 1.4h0m3-0.4h0m0.4 0.4h0m5.6-1.7h0m9.9-0.6h0m-99.8 5.5h0m69.1 0h0m1.8-2h0m0.9 0.8h0m4-1h0m10.1-0.4h0m9.5-0.2h0m-47 4.7h0m4.1 0.8h0m23.5-2.4h0m2 2.4h0m0.3-1.5h0m2.9-1h0m1.3 1.6h0m0.3 0.5h0m1.9-1.1h0m3.1 0.1h0m9.9-0.1h0m-94.5 2.4h0m0.3 2.2h0m1-0.7h0m1.5 0.3h0m2.7-2.2h0m3 2h0m0.6-1.7h0m0.6 0.5h0m2.9 2h0m0.6-1.5h0m3.6 0.7h0m2.4-0.5h0m9.5 0.1h0m11.3 0.6h0m1.4-0.1h0m1.5-1.5h0m0.2 1.6h0m7.1-2.3h0m16 0h0m2.8 1.3h0m1.9 0.9h0m10.3-1.8h0m6.5 1.3h0m-70.7 2h0m11.3-0.5h0m10 0.8h0m1.8-0.6h0m5.3 0.7h0m6.1 1.6h0m9.3-2.8h0m3.8 2.6h0m11-0.6h0m2.1-1.2h0m4.4 1.5h0m6.8-1.1h0m-79.5 3.7h0m2.3-0.1h0m0.6 0.7h0m2.2-0.4h0m3.9-2h0m3.8 0h0m0.2 2h0m2.5 0.8h0m3.1-2.4h0m6.9 0.5h0m6.4 0.1h0m0.9 0.8h0m2.2 1h0m0.1-1.7h0m3-0.5h0m2.6 1.3h0m1-0.3h0m5.6 0.3h0m1.7-2h0m4.6 2.9h0m11.9-0.1h0m5.7-1h0m-63.2 2.7h0m8.5 0.3h0m1.3-0.9h0m0.9 0.2h0m11.8 1.5h0m0.1 0.2h0m1.3-1.6h0m6.1 0.8h0m3.8-0.2h0m0.4-0.8h0m2.4 1.3h0m1.7-1h0m8.9-0.4h0m0-0.1h0m8.5 0.4h0m1.7 0.1h0m0.1 0.1h0m0.2-0.2h0m0.5 0.1h0m-47.9 2.9h0m15.1 1.6h0m7-0.5h0m0.2-1h0m3.5 0.3h0m1.4-0.9h0m2.3 0.6h0m14.9-1h0m6.1 0.1h0m-62.8 4.2h0m1.9 0.5h0m14.8-1.7h0m4.4 0h0m2.7 1.9h0m5.7-0.5h0m2.5 0.9h0m5.6 0h0m6-1.1h0m1-0.5h0m1.3 0.3h0m22.6 1.1h0m3.7 0.5h0m-75.7 0.2h0m8.1 1.2h0m4.8 1h0m2.8 0.1h0m0.4 0.4h0m10.8-0.7h0m8.1 0.3h0m0.1 0.3h0m6.4-2h0m12.3 0.3h0m9.3 0.1h0m3.2-1h0m5.7 0.4h0m-62.2 3.8h0m1.8-0.5h0m1 1.1h0m1 0.7h0m3.8-2.6h0m0.5 1.1h0m0.9 1.3h0m1.4 0.4h0m1.9-2.5h0m0.9 1.7h0m2.2-1h0m7.4-0.7h0m2.8-0.1h0m2.3 2.4h0m11.1-0.3h0m0.8 0.4h0m2.3 0.2h0m20-0.8h0m0.2 0h0m2.9-1.8h0m-72.5 3h0m8.2-0.1h0m0.7 1.1h0m0.3-1.4h0m7 1.9h0m13.5-0.9h0m1.2 1.6h0m7.4-0.8h0m6.8-1.5h0m4.5 2.2h0m3.3-1.3h0m0.5-0.4h0m7.3 1h0m4-1h0m4.1-0.4h0m-66.3 5.1h0m4.4-1.9h0m1.6 2.1h0m3-0.7h0m7.9-1.5h0m5.8 1.9h0m3.2 0.1h0m1.9-0.7h0m9.6-1.7h0m2.5 1.4h0m7.5-1.2h0m3.7 0.4h0m2.4 0.6h0m1.2-0.2h0m0.4-1h0m10.5 0.7h0m-64.5 2.9h0m1.1 0.9h0m3.6-0.3h0m7.8-0.9h0m3.5 0.6h0m6 1.2h0m1.8-0.6h0m14.5 0.1h0m4.8 0.3h0m2.3-1.6h0m3.3 0.7h0m4.7 0.1h0m8.3-1h0m-48.8 3.6h0m1.4 1.5h0m11.2 0.3h0m4-0.8h0m27.2 0.6h0m-50.2 1.1h0m4.5 1.3h0m13 0h0m1.4-0.7h0m6.9-0.4h0m3.3 0.8h0m0.7-1.3h0m4.6 2.4h0m2.8-0.2h0m4.1 0.2h0m-24.2 1.7h0m21.5 0.2h0m-27.2 3.2h0m2.3-0.5h0m11.8 0.5h0m5.4 1.3h0m0.7-0.3h0m2.8 0h0m5.6-2.6h0m1.5 0.7h0m-27.2 2.6h0m10.9 1.8h0m6.2 0.5h0m5.4-1.6h0m3.3-0.9h0m0.6 0.9h0m-21.8 3h0m3.8 0.2h0m6.5 1.6h0m8.5-1.9h0m6.3-0.8h0m-19.3 3.8h0m3.3 1.1h0m3.5 0h0m7.9-1.6h0m2.8 0.5h0m-22.5 3.2h0m4.9-0.4h0m2.1-0.5h0m0.8 2.5h0m0.6-1.6h0m1.9 0.8h0m2.3-0.3h0m10.6 0.5h0m0.2-0.8h0m-16 4.4h0m2.2-1.9h0m5.7 0.5h0m2.6 1.3h0m0.5-2h0m0.7 2.1h0m1.4-1.5h0m-7.6 4.1h0m4.4 0.3h0" stroke="#fafafa" stroke-width="1.1" stroke-linecap="round" stroke-opacity="0.8" fill="none"/>
<path d="M309.3 539.4h0m-2.2 4.6h0m-2.9 2.5h0m6.6 2.5h0m1.5-1.9h0m-15.6 4.8h0m0.9-2.7h0m0.1 0.8h0m2.2 0.4h0m9.7 1.1h0m-17 2.8h0m16.1 3.1h0m-22.9 2h0m2.4-0.9h0m13.8 2.2h0m1.9 0.2h0m-16.8 2.5h0m8.2-1.9h0m6 1.8h0m-27.7 3.4h0m16.6-2.2h0m11.9 0.5h0m-87.9 3.1h0m3.7 1.3h0m73.5-0.1h0m0.4-1.6h0m5 2.3h0m-78.1 2.1h0m1.1-1.5h0m69.3-0.5h0m0.2 1.2h0m4.3-0.2h0m6.3 0.6h0m-72.9 1.5h0m2.6 2.6h0m26.6-1.4h0m14.1-1.4h0m18.3 1.4h0m-62.8 2.3h0m12.1 1.3h0m57.8-0.1h0m-32.6 5.3h0m10.1-0.9h0m-45.5 4.9h0m64.2 0.1h0m-55.5 2.5h0m54.9 0.4h0m-48.2 2.8h0m0.5 0.6h0m1.3-1.9h0m6.5 2h0m3.8-2h0m2.2 0.2h0m-18.2 2.3h0m2.9 2.2h0m1.1-1.8h0m0.7 1h0m7.5-0.2h0m26.1-0.2h0m4.1-0.9h0m-46.4 2.8h0m0.8 1h0m0.5 1.7h0m4-0.8h0m6.5 1h0m-13.3 1.1h0m22.1 1h0m-1.5 3.3h0m-16.2 0.6h0m9.5 0.3h0m3.6 0.6h0m6 1.8h0m12 3h0m4.3-0.4h0m11-2h0m-34.9 3.2h0m1.1 1h0m1.4 0h0m2.3-1.1h0m2.5 3.1h0m1.2 1.7h0m12.8 10.6h0m0.4 2.9h0" stroke="#e01860" stroke-width="1.5" stroke-linecap="round" stroke-opacity="0.95" fill="none"/>
<path d="M316.3 529.8h0m2.5-0.2h0m-3.3 1.6h0m2.7 0.3h0m-3.6 4.9h0m-10.9 6.2h0m6 0.3h0m-2 2.2h0m-9.4 1.9h0m2.8 2h0m11.2-2.4h0m-17.9 5.1h0m6 0.1h0m-9.3 3h0m11.4-1.5h0m-9.2 3h0m3.2 0.6h0m12.4-1.7h0m-17.1 2.8h0m-11.3 5h0m4.3 0.9h0m-0.1 1.6h0m3.4 0.9h0m0.9-0.2h0m7.4-1.7h0m0.5-0.1h0m3.1 0.8h0m2.2-1h0m-88.7 5.4h0m91.4-1.6h0m-72.8 4.8h0m0.1-1.1h0m9.1 0.7h0m48-0.6h0m4 1.1h0m-74.8 1.2h0m2.7-0.3h0m6.1 0h0m67.3 0.1h0m-54.6 2.8h0m29.2 0.8h0m32-1.2h0m-64.9 5.2h0m9.5 0.1h0m15.6 4.3h0m1.6 1.2h0m-24.1 3.7h0m6.6-1.1h0m0.1-0.5h0m36.6-1.1h0m-54.6 7.5h0m0.2-0.1h0m6.8 0.3h0m42.5-0.8h0m-49.7 4.9h0m4.6-0.5h0m16.1 0.6h0m1.3-3h0m-20.5 5.9h0m3.1-2.5h0m37.6 1.3h0m-33.2 3.1h0m17.3-1.3h0m13.8 1.3h0m-24.5 1.7h0m3.3-0.4h0m5.1 2.8h0m32.1-0.4h0m-40.4 2h0m2.7-1.1h0m4.6 1.4h0m-3.7 2.3h0m2.8 0.8h0m9.9-1.2h0m-3.1 4.5h0m0.4-1h0m4.7-0.7h0m-7.2 5.3h0m3.2-2.2h0m5.6-0.2h0m2.6 2.1h0m-7.4 2.7h0m7.1 6h0" stroke="#c02080" stroke-width="1.5" stroke-linecap="round" stroke-opacity="0.95" fill="none"/>
<path d="M311.8 531.5h0m2.6 1.5h0m-6.3 3.9h0m0.4-0.4h0m-2.6 5h0m-1.6 1.7h0m8.2 0.9h0m-14.8 7.2h0m4.2-1.7h0m1.4 1.8h0m-1.3 2.7h0m1 0.4h0m3.1-2.1h0m-16.7 3.9h0m14.9-0.1h0m1.1-0.8h0m-17.7 5.2h0m-1.6 1.8h0m22.3 0.2h0m-21.3 3.6h0m12.2-0.1h0m1.6-0.7h0m1.3-0.6h0m4.5 0.8h0m2-1.3h0m-96.4 3.4h0m3 1.2h0m66.8 0.5h0m12.5-2.1h0m0.1 2.3h0m-84.4 1.2h0m30.7 1h0m23.3-0.6h0m2.8 1.6h0m29.7-1.7h0m-44.8 4.5h0m20.8 0.4h0m0.4-1.9h0m5.6-0.6h0m6.6 0.8h0m9.3-0.2h0m3.1 1.7h0m-69.9 0.2h0m10.1 2.6h0m37.5-0.3h0m23.8-1.7h0m-73.9 3.8h0m68.8 0h0m-8.7 3.5h0m11.9 1h0m2.3 3h0m-17.7 1.1h0m-48.3 2.8h0m10 0.2h0m14.2 0.7h0m-27.3 2h0m4.2-0.2h0m12.2 0.1h0m8.9-0.3h0m-19.5 5.5h0m1.7-1.9h0m31.9 0.2h0m-36.3 4.6h0m2.6-1.7h0m30.2 1.5h0m-29.3 0.9h0m12.3 1.5h0m22.3 0.8h0m-21.1 2.5h0m0.9 0.4h0m22.4-1.3h0m-24.2 1.9h0m11.2 1.8h0m-13.1 2.7h0m13.7 0.4h0m0.7-0.6h0m4.4 0.9h0m-18.2 1.1h0m13.4-0.3h0m1.5 7.2h0m1.1 6.5h0m13-0.4h0m-10.3 2.8h0" stroke="#9a2a9a" stroke-width="1.5" stroke-linecap="round" stroke-opacity="0.95" fill="none"/>
<path d="M315.5 535.6h0m1.9 0.2h0m-7.4 2.1h0m-5.4 3.9h0m5.1-1.3h0m2.1 0.4h0m-8.5 2.2h0m6.6 3.2h0m-11.4 4.6h0m13-1.4h0m-19.6 4.4h0m3.3-1.5h0m4.5 0.1h0m0.5 1.1h0m5.4 1.2h0m1.7-2.4h0m1.4 1.7h0m-16.4 3.5h0m2.8-0.8h0m6.6 0.4h0m6.2 0.4h0m-12.9 0.4h0m-4.7 5.6h0m9.2-0.7h0m0.5-1.8h0m6.5 2.9h0m-24.2 2.3h0m20.4-1.7h0m1.4 0.7h0m3.7-0.1h0m-95.5 3.4h0m81.2 0.3h0m-82.5 3h0m59.6 0.1h0m14.1-1.1h0m-69.5 2.7h0m2.3 1.3h0m11-1.4h0m45.1 2h0m20.6-1h0m2.9-1.2h0m-72.2 4.7h0m13.7-0.3h0m35-0.1h0m-16 2.9h0m16.3 0.6h0m11 0.8h0m0.5 2.8h0m-58.5 3.8h0m4 1.8h0m23.7 0.3h0m-22.2 1.8h0m3.3-0.6h0m4.1 0.3h0m5.8 1.4h0m-5.2 1.7h0m4.6 1.4h0m10.2-0.5h0m-28.9 2.7h0m3.5 0h0m23.1-0.3h0m9.3 0.7h0m11.6 0.6h0m-18.3 0.9h0m3.9 0.6h0m14.1 0.3h0m3.5 0.9h0m-44.7 2.5h0m24.1-0.8h0m-11.7 7.5h0m15.7-2.3h0m0.9 2.1h0m17-2.5h0m-30.7 4.1h0m4.1-0.2h0m-0.5 4.3h0m22.1-1.7h0m-21.6 2.7h0m2.3 3.2h0m3.6 5.1h0m6.7-2.4h0m9.1 0.2h0m-5.1 4.9h0" stroke="#7030a0" stroke-width="1.5" stroke-linecap="round" stroke-opacity="0.95" fill="none"/>
<path d="M319.1 527.5h0m-3.9 1.9h0m3.6 0h0m-7.2 1.7h0m3.7 3.8h0m-11.5 5h0m1 2.3h0m5.6-0.4h0m-8.9 2.5h0m-2.2 3.2h0m8.6-0.4h0m-8.2 3.2h0m9.5-0.8h0m-16.5 4.7h0m-6.4 2.7h0m14.7-0.9h0m-10.9 4.4h0m3.3-0.2h0m3.1-0.3h0m4.2-1.4h0m8 2.4h0m-24.9 0.6h0m13.4 1h0m1.3-0.4h0m-23.1 3.6h0m10.4 0.2h0m2.9 1h0m2.2-0.9h0m0.5 0.1h0m3.3 0.5h0m6.8-1.6h0m-19.2 2h0m0.3 1.1h0m19.6-0.5h0m2.4 0.6h0m-79.1 2.9h0m-4.7 4.8h0m16.9-0.8h0m54.6-0.5h0m6.5-1.3h0m3.8 0.8h0m-83 3.7h0m8.1-1.3h0m16.7-0.1h0m51.8 0.6h0m-46.1 3.7h0m-26.2 3.4h0m14.6 0.8h0m4.6-0.6h0m53.5-0.2h0m-12.9 3.7h0m-49.6 4.3h0m7.3-0.8h0m9.2 0.7h0m-15.6 3.1h0m6.3-0.8h0m51.6 0.7h0m-52.2 4.7h0m49.1-1h0m-58.7 3.8h0m24-1.5h0m0.4 1.6h0m-15.3 1.7h0m6.5 0.1h0m7.6 0.1h0m8.5-0.2h0m10.1 1.2h0m16.9-2h0m-34.3 3.9h0m-5.5 2.5h0m8.6 4.5h0m-5.1 2.6h0m1.6 0.8h0m4.7 1.9h0m3.6-1.6h0m3 2.6h0m0.2-0.9h0m1.8 3.7h0m7.8-2.4h0m-15.5 4.5h0m2.1 3h0m3.7-0.5h0m0.1 2.2h0" stroke="#5040a8" stroke-width="1.5" stroke-linecap="round" stroke-opacity="0.95" fill="none"/>
<path d="M319.4 527.4h0m-2.6 1h0m-1.4 4.7h0m1 5.2h0m-11 4.3h0m6 1h0m-4.9 3.1h0m1.5 1.7h0m1.1 1.8h0m-9.7 4h0m2.4-0.5h0m2.8-0.6h0m-11.9 4.7h0m10.4-0.8h0m2.7-1.5h0m-20.7 5.2h0m14.2-0.2h0m3.8-1.3h0m6.1 2h0m-6.7 3.3h0m-92.8 3.1h0m52.6 0.9h0m-49.1 3.2h0m1.6 1h0m1.2-0.4h0m2.1-0.6h0m7.7-1.4h0m12.3 2.5h0m19.7-2.2h0m0.9 0.8h0m16.4-0.2h0m20.9-0.6h0m1.8 1.3h0m-80 3.3h0m55.8-0.3h0m15.2-0.1h0m4 1h0m0.8-1.6h0m-6.8 4.2h0m13.6-0.2h0m-45.6 2.6h0m-20 2.6h0m15.3 1.5h0m6.7-1.3h0m34-1.4h0m-36 4.3h0m0.5 0.8h0m8.8-1.6h0m29.7 2h0m-7.4 2.2h0m-55.3 2.5h0m1.1 1h0m0.4-0.7h0m2.9 0.1h0m60.7-1.4h0m-59.9 4.7h0m13.9 0.4h0m44.5-0.6h0m-55.9 2.4h0m1.1-0.1h0m10.2 1.8h0m-6.7 0.2h0m9.9-0.2h0m-6.9 3.7h0m3.9 0h0m0.9 1h0m0.1 0.8h0m36.3-0.8h0m-41 2.5h0m6.1-0.8h0m-7.2 4.2h0m4.4 0.5h0m0.6-1.3h0m8.4 1.4h0m1.2 0.3h0m2.9 3.4h0m19.2-1.4h0m-31.8 3.8h0m13.5-2.3h0m-9.3 4.1h0m1.7 0.6h0m4.3 3.6h0m5.1 2h0" stroke="#d01a70" stroke-width="1.5" stroke-linecap="round" stroke-opacity="0.95" fill="none"/>
<path d="M313.7 529.3h0m3.4 3.7h0m0.2-0.5h0m-9.2 2.6h0m0.6-0.3h0m5.2-0.1h0m-8 5h0m0.2-1.4h0m9.6 1.6h0m-11.8 1.2h0m10.5 0.5h0m-9.9 1.9h0m-2.5 3.3h0m10.1 2.3h0m-22.3 5.4h0m11.1-2.5h0m3.1 2.8h0m-12.4 2.3h0m1.7 0.1h0m-0.9 1.1h0m-9.9 4.7h0m0.9-1.7h0m4.1 2.1h0m5.7-2.2h0m13.1 1.4h0m-21.4 2.8h0m21.7 1.5h0m-12.9 1.9h0m13.5-1.5h0m-94.7 4.3h0m60.8 0h0m0.4-0.8h0m18.7 2h0m-2.3 2.1h0m4.4-1.8h0m-71.2 5h0m0.3-1.7h0m5.5 0.6h0m63.9 0.2h0m2.6-0.3h0m2.3 0.4h0m-74.1 4.4h0m30 1h0m-8.3 3.8h0m9.1-0.8h0m27.2-0.3h0m-54.4 7.3h0m2.4 0.4h0m25.8-1.5h0m16.2 1.1h0m25.8-0.5h0m-57.6 2.7h0m0-0.3h0m22.1 1.5h0m-30.5 2.4h0m3.4 0.9h0m17.5-0.9h0m-18.1 3.5h0m5.4 3.3h0m1.3-1.6h0m2.1 1.3h0m6.6 0.8h0m1.8-1h0m0.8 1.1h0m1.1 0h0m2.7-0.6h0m-20.9 1.1h0m6.7 1.2h0m7.5 0.6h0m0.8-2.1h0m3.5 0.5h0m-11.3 3.2h0m4.1-0.4h0m11.1 1.1h0m4.7 2.9h0m12.5-0.4h0m-19.8 5.2h0m9.6 1.7h0m-7.8 2.8h0m15.7 0.8h0m-12.5 3.4h0m9.2 3.3h0" stroke="#6a38a4" stroke-width="1.5" stroke-linecap="round" stroke-opacity="0.95" fill="none"/>
<path d="M314.4 535.8h0m-12.7 6.1h0m5.1 0.9h0m1.8-1.8h0m-4.5 4.7h0m8.7-2.5h0m-12.4 6.9h0m8.3 1.7h0m2.8-2.6h0m-6.1 4.1h0m-7.3 3.3h0m11.7-0.8h0m0.7 1.5h0m-14.7 1.7h0m4.1 0.1h0m6.7 0.4h0m-24.6 1.7h0m5.5 0.6h0m1.7 3.9h0m-84.9 2.9h0m74.9 0.4h0m23.6-1h0m1.1 0.8h0m-89 2.2h0m76.2-0.7h0m0.3 2.4h0m-63.5 1.5h0m6.5 1.6h0m3.4-2.5h0m9.5 0.2h0m30.6 0.1h0m-51.3 4.4h0m1.4 0.3h0m2.3 0.5h0m10.4-2.5h0m16.6 0.3h0m35.1 0.1h0m1.6-0.7h0m2.3 0h0m-57 5.6h0m14.5 2.7h0m47.3-0.5h0m-18.3 2h0m5.4 4.2h0m-51.6 2.4h0m6.1-0.7h0m2.8 0.7h0m1.6-0.7h0m-9 6.4h0m1.6 0.5h0m0.3 0.7h0m12.2-2h0m0.6 2.3h0m41-0.4h0m-49.1 1.9h0m6.3 0.6h0m2 0.6h0m20.9 0.1h0m9.2-1.6h0m2.2-0.6h0m4.5 0.1h0m-61.5 3.3h0m2.2-0.4h0m12.3 1.3h0m5.5-1.1h0m6.2 4.6h0m1.5-0.9h0m1-0.7h0m31.2 0.4h0m-31.6 2.9h0m-3.5 5.2h0m-2 2.2h0m3.2-0.6h0m15.7 5.3h0m5.8 1.9h0m-19.7 1.5h0m3.8 0h0m2.1-0.4h0m13-0.7h0m1.2 2.8h0m-13.9 1.6h0m6.3 1.5h0" stroke="#b02488" stroke-width="1.5" stroke-linecap="round" stroke-opacity="0.95" fill="none"/>
<text x="264.1" y="547.1" font-size="6.1" text-anchor="middle" fill="#333" textLength="12.5" lengthAdjust="spacingAndGlyphs" transform="rotate(-90 264.1 544.9)">DC4</text>
<text x="256.5" y="561.6" font-size="6.1" text-anchor="middle" fill="#333" textLength="12.8" lengthAdjust="spacingAndGlyphs" transform="rotate(-33 256.5 559.4)">DC1</text>
<text x="277.4" y="557.9" font-size="6.1" text-anchor="middle" fill="#333" textLength="12.8" lengthAdjust="spacingAndGlyphs" transform="rotate(33 277.4 555.7)">DC2</text>
<text x="228.5" y="501.9" font-size="6.6" text-anchor="middle" fill="#333" textLength="15.4" lengthAdjust="spacingAndGlyphs" font-style="italic">BCL2</text>
<text x="227.7" y="510.4" font-size="6.6" text-anchor="middle" fill="#333" textLength="38.4" lengthAdjust="spacingAndGlyphs">log2 (counts)</text>
<rect x="221.5" y="514.9" width="6.5" height="30.3" fill="url(#gp)"/>
<text x="232.6" y="518.6" font-size="5.8" text-anchor="middle" fill="#333">5</text>
<text x="232.6" y="523.9" font-size="5.8" text-anchor="middle" fill="#333">4</text>
<text x="232.6" y="529.8" font-size="5.8" text-anchor="middle" fill="#333">3</text>
<text x="232.6" y="535.5" font-size="5.8" text-anchor="middle" fill="#333">2</text>
<text x="232.6" y="541.6" font-size="5.8" text-anchor="middle" fill="#333">1</text>
<text x="232.6" y="548.3" font-size="5.8" text-anchor="middle" fill="#333">0</text>
<text x="432.4" y="503.8" font-size="8.3" text-anchor="middle" fill="#333" textLength="23.2" lengthAdjust="spacingAndGlyphs" font-style="italic">Bcl2l1</text>
<text x="432.1" y="514.2" font-size="8.3" text-anchor="middle" fill="#333" textLength="76.7" lengthAdjust="spacingAndGlyphs">(mRNA Expression)</text>
<text x="394.3" y="525" font-size="6.4" text-anchor="start" fill="#333" textLength="33.8" lengthAdjust="spacingAndGlyphs">GSE180851</text>
<path d="M387.3 519.5V616.3H476.2" fill="none" stroke="#111" stroke-width="1.1"/>
<line x1="385.2" y1="520.6" x2="387.3" y2="520.6" stroke="#111" stroke-width="0.8"/>
<text x="380.3" y="523" font-size="6.6" text-anchor="middle" fill="#333">8</text>
<line x1="385.2" y1="544.4" x2="387.3" y2="544.4" stroke="#111" stroke-width="0.8"/>
<text x="380.3" y="546.8" font-size="6.6" text-anchor="middle" fill="#333">6</text>
<line x1="385.2" y1="568.1" x2="387.3" y2="568.1" stroke="#111" stroke-width="0.8"/>
<text x="380.3" y="570.5" font-size="6.6" text-anchor="middle" fill="#333">4</text>
<line x1="385.2" y1="592.4" x2="387.3" y2="592.4" stroke="#111" stroke-width="0.8"/>
<text x="380.3" y="594.8" font-size="6.6" text-anchor="middle" fill="#333">2</text>
<line x1="385.2" y1="616.3" x2="387.3" y2="616.3" stroke="#111" stroke-width="0.8"/>
<text x="380.3" y="618.7" font-size="6.6" text-anchor="middle" fill="#333">0</text>
<line x1="401.4" y1="616.3" x2="401.4" y2="619.2" stroke="#111" stroke-width="0.8"/>
<line x1="421.9" y1="616.3" x2="421.9" y2="619.2" stroke="#111" stroke-width="0.8"/>
<line x1="442.3" y1="616.3" x2="442.3" y2="619.2" stroke="#111" stroke-width="0.8"/>
<line x1="463.1" y1="616.3" x2="463.1" y2="619.2" stroke="#111" stroke-width="0.8"/>
<text x="370.9" y="566.2" font-size="8.8" text-anchor="middle" fill="#333" textLength="91.1" lengthAdjust="spacingAndGlyphs" transform="rotate(-90 370.9 566.2)" dy="2.7"><tspan font-style="italic">Bcl2l1</tspan> log2(CPM) expression</text>
<path d="M401.4 571.6V537.7H421.9V555.2M442.3 562.6V524.3H462.7V528.6" fill="none" stroke="#333" stroke-width="1.2"/>
<text x="411.7" y="538.1" font-size="7" text-anchor="middle" fill="#333" textLength="11" lengthAdjust="spacingAndGlyphs">****</text>
<text x="452.7" y="524.8" font-size="7" text-anchor="middle" fill="#333" textLength="8.5" lengthAdjust="spacingAndGlyphs">***</text>
<path d="M401.3 575.7 399.5 577.3 396.8 579.6 394.5 582.2 395.1 583.8 394.5 585.5 397.3 587.1 401.3 588.7 401.3 588.7 405.3 587.1 408.1 585.5 407.5 583.8 408.1 582.2 405.8 579.6 403.1 577.3 401.3 575.7Z" fill="#4b74ae" stroke="#2c4c80" stroke-width="1" stroke-linejoin="round"/>
<path d="M421.9 558.3 418.9 560.1 415.1 561.7 415.5 563.2 416.9 564.5 419.4 565.9 421.9 567.2 421.9 567.2 424.4 565.9 426.9 564.5 428.3 563.2 428.7 561.7 424.9 560.1 421.9 558.3Z" fill="#dd3b45" stroke="#9e2030" stroke-width="1" stroke-linejoin="round"/>
<path d="M442.3 565.8 439.8 567.4 435.6 570.1 436.1 572.2 437.8 574.1 440.3 575.4 442.3 576.5 442.3 576.5 444.3 575.4 446.8 574.1 448.5 572.2 449 570.1 444.8 567.4 442.3 565.8Z" fill="#4b74ae" stroke="#2c4c80" stroke-width="1" stroke-linejoin="round"/>
<path d="M463.1 529.9 462.3 531.7 461.3 534.7 459.3 539 456.8 546.2 456.2 555.3 456.5 561.4 457.8 567.4 457.3 572.2 458.5 577.1 460.5 581.9 462.1 586.8 463.1 590.4 463.1 590.4 464.1 586.8 465.7 581.9 467.7 577.1 468.9 572.2 468.4 567.4 469.7 561.4 470 555.3 469.4 546.2 466.9 539 464.9 534.7 463.9 531.7 463.1 529.9Z" fill="#ea918c" stroke="#d0363e" stroke-width="1" stroke-linejoin="round"/>
<line x1="396.3" y1="578.5" x2="406.3" y2="578.5" stroke="#222" stroke-width="0.5" stroke-dasharray="1.2 1"/>
<circle cx="401.3" cy="578.5" r="0.9" fill="#111"/>
<line x1="396.3" y1="582.2" x2="406.3" y2="582.2" stroke="#222" stroke-width="0.5" stroke-dasharray="1.2 1"/>
<circle cx="401.3" cy="582.2" r="0.9" fill="#111"/>
<line x1="396.3" y1="585.8" x2="406.3" y2="585.8" stroke="#222" stroke-width="0.5" stroke-dasharray="1.2 1"/>
<circle cx="401.3" cy="585.8" r="0.9" fill="#111"/>
<line x1="416.9" y1="561.2" x2="426.9" y2="561.2" stroke="#222" stroke-width="0.5" stroke-dasharray="1.2 1"/>
<circle cx="421.9" cy="561.2" r="0.9" fill="#111"/>
<line x1="416.9" y1="563.8" x2="426.9" y2="563.8" stroke="#222" stroke-width="0.5" stroke-dasharray="1.2 1"/>
<circle cx="421.9" cy="563.8" r="0.9" fill="#111"/>
<line x1="437.3" y1="568.4" x2="447.3" y2="568.4" stroke="#222" stroke-width="0.5" stroke-dasharray="1.2 1"/>
<circle cx="442.3" cy="568.4" r="0.9" fill="#111"/>
<line x1="437.3" y1="571.6" x2="447.3" y2="571.6" stroke="#222" stroke-width="0.5" stroke-dasharray="1.2 1"/>
<circle cx="442.3" cy="571.6" r="0.9" fill="#111"/>
<line x1="437.3" y1="574.2" x2="447.3" y2="574.2" stroke="#222" stroke-width="0.5" stroke-dasharray="1.2 1"/>
<circle cx="442.3" cy="574.2" r="0.9" fill="#111"/>
<line x1="458.1" y1="548.7" x2="468.1" y2="548.7" stroke="#222" stroke-width="0.5" stroke-dasharray="1.2 1"/>
<circle cx="463.1" cy="548.7" r="0.9" fill="#111"/>
<line x1="458.1" y1="559.7" x2="468.1" y2="559.7" stroke="#222" stroke-width="0.5" stroke-dasharray="1.2 1"/>
<circle cx="463.1" cy="559.7" r="0.9" fill="#111"/>
<line x1="458.1" y1="573.2" x2="468.1" y2="573.2" stroke="#222" stroke-width="0.5" stroke-dasharray="1.2 1"/>
<circle cx="463.1" cy="573.2" r="0.9" fill="#111"/>
<text x="389.5" y="597.4" font-size="6.6" fill="#333" font-style="italic">Jak2<tspan font-size="3.6" dy="-2.2">V617F/+</tspan><tspan dy="2.2">;Trp53</tspan><tspan font-size="3.6" dy="-2.2">-/-</tspan></text>
<text x="424.2" y="607" font-size="6.6" fill="#333" font-style="italic">Jak2<tspan font-size="3.6" dy="-2.2">V617F/+</tspan><tspan dy="2.2">;Trp53</tspan><tspan font-size="3.6" dy="-2.2">R172H/-</tspan></text>
<text x="0" y="0" font-size="6.8" text-anchor="end" fill="#333" transform="translate(404.6 622.6) rotate(-45)">MPN</text>
<text x="0" y="0" font-size="6.8" text-anchor="end" fill="#333" transform="translate(424.4 622.2) rotate(-45)">post-MPN</text>
<text x="0" y="0" font-size="6.8" text-anchor="end" fill="#333" transform="translate(429.3 628.6) rotate(-45)">AML</text>
<text x="0" y="0" font-size="6.8" text-anchor="end" fill="#333" transform="translate(445.5 622.6) rotate(-45)">MPN</text>
<text x="0" y="0" font-size="6.8" text-anchor="end" fill="#333" transform="translate(465.6 622.2) rotate(-45)">post-MPN</text>
<text x="0" y="0" font-size="6.8" text-anchor="end" fill="#333" transform="translate(470.5 628.6) rotate(-45)">AML</text>
<rect x="0.5" y="0.5" width="519" height="653" fill="none" stroke="#444" stroke-width="1.2"/>
</svg></body></html>
